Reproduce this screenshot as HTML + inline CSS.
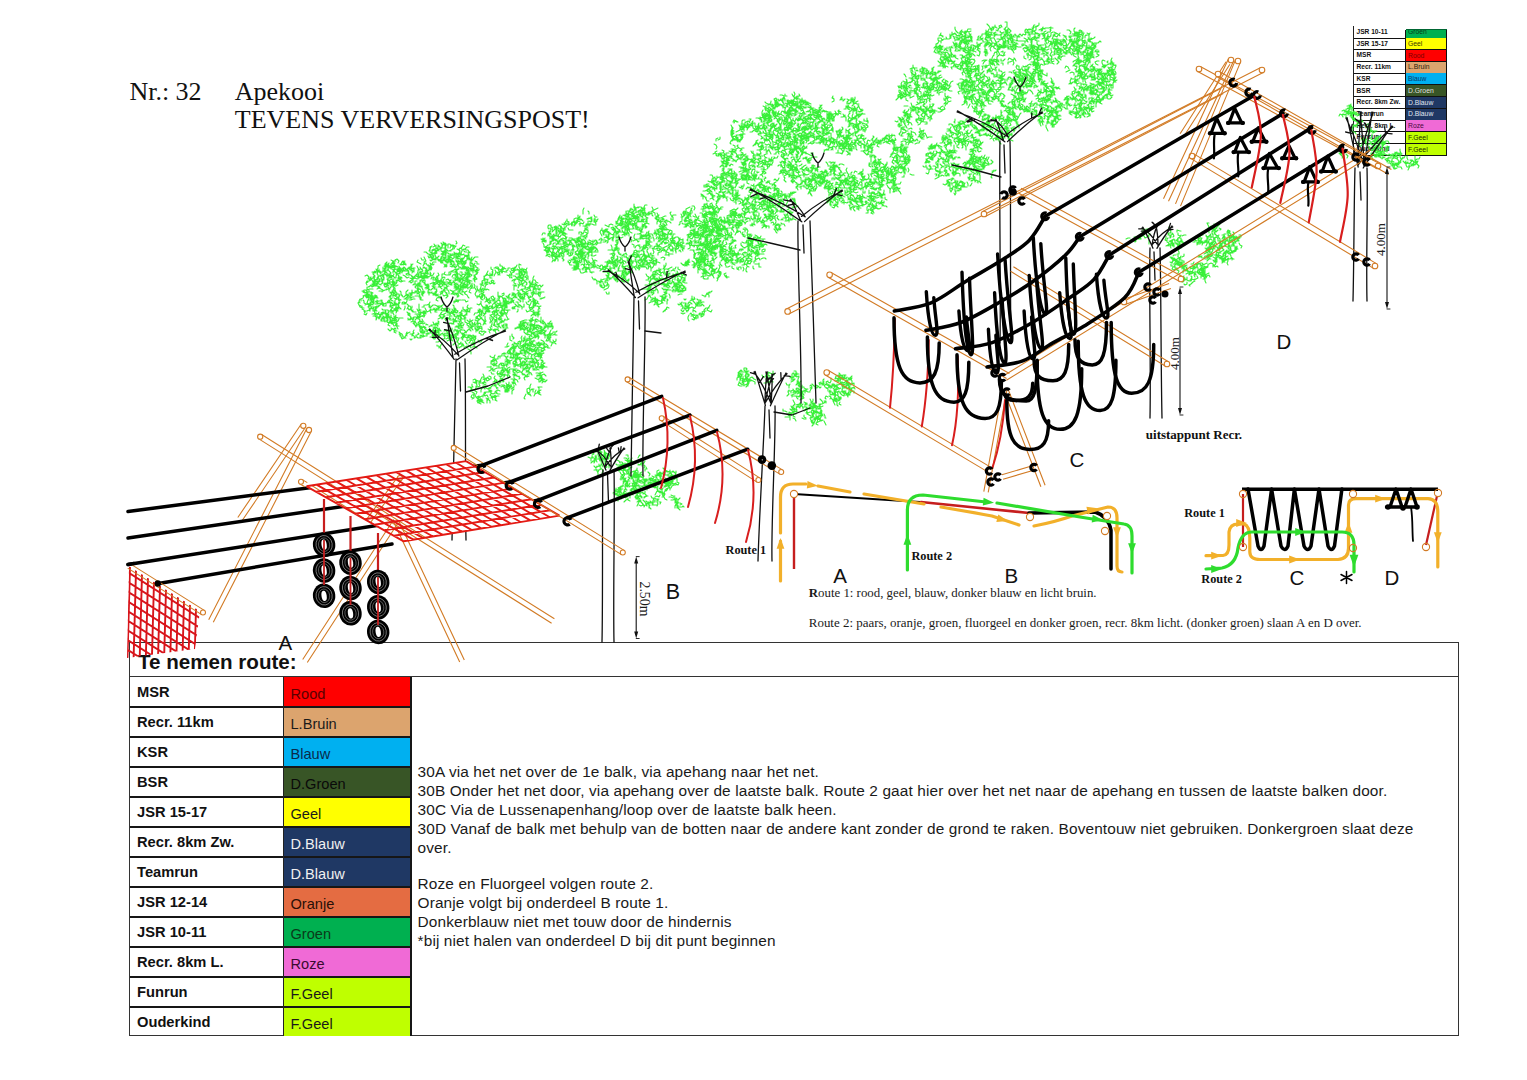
<!DOCTYPE html>
<html><head><meta charset="utf-8"><title>Apekooi</title>
<style>
html,body{margin:0;padding:0;background:#fff;}
#pg{position:relative;width:1527px;height:1080px;overflow:hidden;background:#fff;font-family:"Liberation Sans",sans-serif;}
</style></head><body><div id="pg">
<div style="position:absolute;left:129px;top:641.5px;width:1330px;height:394.81999999999994px;border:1.5px solid #333;box-sizing:border-box"></div>
<div style="position:absolute;left:130px;top:675.5px;width:1329px;height:0;border-top:1.5px solid #333"></div>
<div style="position:absolute;left:138px;top:649.5px;font:bold 20.6px 'Liberation Sans', sans-serif;color:#111;white-space:nowrap;line-height:24px">Te nemen route:</div>
<div style="position:absolute;left:283.5px;top:676.5px;width:127.5px;height:29.985px;background:#FF0000"></div>
<div style="position:absolute;left:137px;top:683.8px;font:bold 14.7px 'Liberation Sans', sans-serif;color:#111;white-space:nowrap;line-height:17px">MSR</div>
<div style="position:absolute;left:290.5px;top:686.0px;font:14.6px 'Liberation Sans', sans-serif;color:#5a0000;white-space:nowrap;line-height:17px">Rood</div>
<div style="position:absolute;left:283.5px;top:706.485px;width:127.5px;height:29.985px;background:#DCA46E"></div>
<div style="position:absolute;left:137px;top:713.785px;font:bold 14.7px 'Liberation Sans', sans-serif;color:#111;white-space:nowrap;line-height:17px">Recr. 11km</div>
<div style="position:absolute;left:290.5px;top:715.985px;font:14.6px 'Liberation Sans', sans-serif;color:#1a1a1a;white-space:nowrap;line-height:17px">L.Bruin</div>
<div style="position:absolute;left:130px;top:705.885px;width:281px;height:0;border-top:2px solid #161616"></div>
<div style="position:absolute;left:283.5px;top:736.47px;width:127.5px;height:29.985px;background:#00B0F0"></div>
<div style="position:absolute;left:137px;top:743.77px;font:bold 14.7px 'Liberation Sans', sans-serif;color:#111;white-space:nowrap;line-height:17px">KSR</div>
<div style="position:absolute;left:290.5px;top:745.97px;font:14.6px 'Liberation Sans', sans-serif;color:#0a2a4a;white-space:nowrap;line-height:17px">Blauw</div>
<div style="position:absolute;left:130px;top:735.87px;width:281px;height:0;border-top:2px solid #161616"></div>
<div style="position:absolute;left:283.5px;top:766.455px;width:127.5px;height:29.985px;background:#385526"></div>
<div style="position:absolute;left:137px;top:773.755px;font:bold 14.7px 'Liberation Sans', sans-serif;color:#111;white-space:nowrap;line-height:17px">BSR</div>
<div style="position:absolute;left:290.5px;top:775.955px;font:14.6px 'Liberation Sans', sans-serif;color:#0a0a0a;white-space:nowrap;line-height:17px">D.Groen</div>
<div style="position:absolute;left:130px;top:765.855px;width:281px;height:0;border-top:2px solid #161616"></div>
<div style="position:absolute;left:283.5px;top:796.44px;width:127.5px;height:29.985px;background:#FFFF00"></div>
<div style="position:absolute;left:137px;top:803.74px;font:bold 14.7px 'Liberation Sans', sans-serif;color:#111;white-space:nowrap;line-height:17px">JSR 15-17</div>
<div style="position:absolute;left:290.5px;top:805.94px;font:14.6px 'Liberation Sans', sans-serif;color:#1a1a1a;white-space:nowrap;line-height:17px">Geel</div>
<div style="position:absolute;left:130px;top:795.84px;width:281px;height:0;border-top:2px solid #161616"></div>
<div style="position:absolute;left:283.5px;top:826.425px;width:127.5px;height:29.985px;background:#1F3864"></div>
<div style="position:absolute;left:137px;top:833.7249999999999px;font:bold 14.7px 'Liberation Sans', sans-serif;color:#111;white-space:nowrap;line-height:17px">Recr. 8km Zw.</div>
<div style="position:absolute;left:290.5px;top:835.925px;font:14.6px 'Liberation Sans', sans-serif;color:#f0f0f0;white-space:nowrap;line-height:17px">D.Blauw</div>
<div style="position:absolute;left:130px;top:825.8249999999999px;width:281px;height:0;border-top:2px solid #161616"></div>
<div style="position:absolute;left:283.5px;top:856.41px;width:127.5px;height:29.985px;background:#1F3864"></div>
<div style="position:absolute;left:137px;top:863.7099999999999px;font:bold 14.7px 'Liberation Sans', sans-serif;color:#111;white-space:nowrap;line-height:17px">Teamrun</div>
<div style="position:absolute;left:290.5px;top:865.91px;font:14.6px 'Liberation Sans', sans-serif;color:#f0f0f0;white-space:nowrap;line-height:17px">D.Blauw</div>
<div style="position:absolute;left:130px;top:855.81px;width:281px;height:0;border-top:2px solid #161616"></div>
<div style="position:absolute;left:283.5px;top:886.395px;width:127.5px;height:29.985px;background:#E46C42"></div>
<div style="position:absolute;left:137px;top:893.6949999999999px;font:bold 14.7px 'Liberation Sans', sans-serif;color:#111;white-space:nowrap;line-height:17px">JSR 12-14</div>
<div style="position:absolute;left:290.5px;top:895.895px;font:14.6px 'Liberation Sans', sans-serif;color:#2a1008;white-space:nowrap;line-height:17px">Oranje</div>
<div style="position:absolute;left:130px;top:885.795px;width:281px;height:0;border-top:2px solid #161616"></div>
<div style="position:absolute;left:283.5px;top:916.38px;width:127.5px;height:29.985px;background:#00B050"></div>
<div style="position:absolute;left:137px;top:923.68px;font:bold 14.7px 'Liberation Sans', sans-serif;color:#111;white-space:nowrap;line-height:17px">JSR 10-11</div>
<div style="position:absolute;left:290.5px;top:925.88px;font:14.6px 'Liberation Sans', sans-serif;color:#0a3a1a;white-space:nowrap;line-height:17px">Groen</div>
<div style="position:absolute;left:130px;top:915.78px;width:281px;height:0;border-top:2px solid #161616"></div>
<div style="position:absolute;left:283.5px;top:946.365px;width:127.5px;height:29.985px;background:#F06AD6"></div>
<div style="position:absolute;left:137px;top:953.665px;font:bold 14.7px 'Liberation Sans', sans-serif;color:#111;white-space:nowrap;line-height:17px">Recr. 8km L.</div>
<div style="position:absolute;left:290.5px;top:955.865px;font:14.6px 'Liberation Sans', sans-serif;color:#3a0a30;white-space:nowrap;line-height:17px">Roze</div>
<div style="position:absolute;left:130px;top:945.765px;width:281px;height:0;border-top:2px solid #161616"></div>
<div style="position:absolute;left:283.5px;top:976.35px;width:127.5px;height:29.985px;background:#BFFF00"></div>
<div style="position:absolute;left:137px;top:983.65px;font:bold 14.7px 'Liberation Sans', sans-serif;color:#111;white-space:nowrap;line-height:17px">Funrun</div>
<div style="position:absolute;left:290.5px;top:985.85px;font:14.6px 'Liberation Sans', sans-serif;color:#1a1a1a;white-space:nowrap;line-height:17px">F.Geel</div>
<div style="position:absolute;left:130px;top:975.75px;width:281px;height:0;border-top:2px solid #161616"></div>
<div style="position:absolute;left:283.5px;top:1006.335px;width:127.5px;height:29.985px;background:#BFFF00"></div>
<div style="position:absolute;left:137px;top:1013.635px;font:bold 14.7px 'Liberation Sans', sans-serif;color:#111;white-space:nowrap;line-height:17px">Ouderkind</div>
<div style="position:absolute;left:290.5px;top:1015.835px;font:14.6px 'Liberation Sans', sans-serif;color:#1a1a1a;white-space:nowrap;line-height:17px">F.Geel</div>
<div style="position:absolute;left:130px;top:1005.735px;width:281px;height:0;border-top:2px solid #161616"></div>
<div style="position:absolute;left:282.5px;top:676.5px;width:0;height:359.82px;border-left:1.8px solid #222"></div>
<div style="position:absolute;left:409.8px;top:676.5px;width:0;height:359.82px;border-left:2px solid #161616"></div>
<div style="position:absolute;left:417.6px;top:762.7px;font:15.4px 'Liberation Sans', sans-serif;color:#1a1a1a;white-space:nowrap;line-height:18px;letter-spacing:0.12px">30A via het net over de 1e balk, via apehang naar het net.</div>
<div style="position:absolute;left:417.6px;top:781.7px;font:15.4px 'Liberation Sans', sans-serif;color:#1a1a1a;white-space:nowrap;line-height:18px;letter-spacing:0.12px">30B Onder het net door, via apehang over de laatste balk. Route 2 gaat hier over het net naar de apehang en tussen de laatste balken door.</div>
<div style="position:absolute;left:417.6px;top:800.7px;font:15.4px 'Liberation Sans', sans-serif;color:#1a1a1a;white-space:nowrap;line-height:18px;letter-spacing:0.12px">30C Via de Lussenapenhang/loop over de laatste balk heen.</div>
<div style="position:absolute;left:417.6px;top:819.7px;font:15.4px 'Liberation Sans', sans-serif;color:#1a1a1a;white-space:nowrap;line-height:18px;letter-spacing:0.12px">30D Vanaf de balk met behulp van de botten naar de andere kant zonder de grond te raken. Boventouw niet gebruiken. Donkergroen slaat deze</div>
<div style="position:absolute;left:417.6px;top:838.7px;font:15.4px 'Liberation Sans', sans-serif;color:#1a1a1a;white-space:nowrap;line-height:18px;letter-spacing:0.12px">over.</div>
<div style="position:absolute;left:417.6px;top:874.7px;font:15.4px 'Liberation Sans', sans-serif;color:#1a1a1a;white-space:nowrap;line-height:18px;letter-spacing:0.12px">Roze en Fluorgeel volgen route 2.</div>
<div style="position:absolute;left:417.6px;top:893.7px;font:15.4px 'Liberation Sans', sans-serif;color:#1a1a1a;white-space:nowrap;line-height:18px;letter-spacing:0.12px">Oranje volgt bij onderdeel B route 1.</div>
<div style="position:absolute;left:417.6px;top:912.7px;font:15.4px 'Liberation Sans', sans-serif;color:#1a1a1a;white-space:nowrap;line-height:18px;letter-spacing:0.12px">Donkerblauw niet met touw door de hindernis</div>
<div style="position:absolute;left:417.6px;top:931.7px;font:15.4px 'Liberation Sans', sans-serif;color:#1a1a1a;white-space:nowrap;line-height:18px;letter-spacing:0.12px">*bij niet halen van onderdeel D bij dit punt beginnen</div>
<div style="position:absolute;left:1405.5px;top:30px;width:41.0px;height:8.299999999999997px;background:#00B050"></div>
<div style="position:absolute;left:1356.5px;top:27.999999999999996px;font:bold 6.6px 'Liberation Sans', sans-serif;color:#111;white-space:nowrap;line-height:8px">JSR 10-11</div>
<div style="position:absolute;left:1408px;top:28.299999999999997px;font:6.8px 'Liberation Sans', sans-serif;color:#0a3a1a;white-space:nowrap;line-height:8px">Groen</div>
<div style="position:absolute;left:1353.8px;top:37.5px;width:92.70000000000005px;height:0;border-top:1.6px solid #111"></div>
<div style="position:absolute;left:1405.5px;top:38.3px;width:41.0px;height:11.719999999999999px;background:#FFFF00"></div>
<div style="position:absolute;left:1356.5px;top:39.72px;font:bold 6.6px 'Liberation Sans', sans-serif;color:#111;white-space:nowrap;line-height:8px">JSR 15-17</div>
<div style="position:absolute;left:1408px;top:40.019999999999996px;font:6.8px 'Liberation Sans', sans-serif;color:#3a3a00;white-space:nowrap;line-height:8px">Geel</div>
<div style="position:absolute;left:1353.8px;top:49.22px;width:92.70000000000005px;height:0;border-top:1.6px solid #111"></div>
<div style="position:absolute;left:1405.5px;top:50.019999999999996px;width:41.0px;height:11.719999999999999px;background:#FF0000"></div>
<div style="position:absolute;left:1356.5px;top:51.44px;font:bold 6.6px 'Liberation Sans', sans-serif;color:#111;white-space:nowrap;line-height:8px">MSR</div>
<div style="position:absolute;left:1408px;top:51.739999999999995px;font:6.8px 'Liberation Sans', sans-serif;color:#7a0000;white-space:nowrap;line-height:8px">Rood</div>
<div style="position:absolute;left:1353.8px;top:60.94px;width:92.70000000000005px;height:0;border-top:1.6px solid #111"></div>
<div style="position:absolute;left:1405.5px;top:61.739999999999995px;width:41.0px;height:11.720000000000013px;background:#DCA46E"></div>
<div style="position:absolute;left:1356.5px;top:63.16000000000001px;font:bold 6.6px 'Liberation Sans', sans-serif;color:#111;white-space:nowrap;line-height:8px">Recr. 11km</div>
<div style="position:absolute;left:1408px;top:63.46000000000001px;font:6.8px 'Liberation Sans', sans-serif;color:#2a1a0a;white-space:nowrap;line-height:8px">L.Bruin</div>
<div style="position:absolute;left:1353.8px;top:72.66000000000001px;width:92.70000000000005px;height:0;border-top:1.6px solid #111"></div>
<div style="position:absolute;left:1405.5px;top:73.46000000000001px;width:41.0px;height:11.719999999999999px;background:#00B0F0"></div>
<div style="position:absolute;left:1356.5px;top:74.88000000000001px;font:bold 6.6px 'Liberation Sans', sans-serif;color:#111;white-space:nowrap;line-height:8px">KSR</div>
<div style="position:absolute;left:1408px;top:75.18px;font:6.8px 'Liberation Sans', sans-serif;color:#0a3a6a;white-space:nowrap;line-height:8px">Blauw</div>
<div style="position:absolute;left:1353.8px;top:84.38000000000001px;width:92.70000000000005px;height:0;border-top:1.6px solid #111"></div>
<div style="position:absolute;left:1405.5px;top:85.18px;width:41.0px;height:11.719999999999999px;background:#385526"></div>
<div style="position:absolute;left:1356.5px;top:86.60000000000001px;font:bold 6.6px 'Liberation Sans', sans-serif;color:#111;white-space:nowrap;line-height:8px">BSR</div>
<div style="position:absolute;left:1408px;top:86.9px;font:6.8px 'Liberation Sans', sans-serif;color:#e0e0e0;white-space:nowrap;line-height:8px">D.Groen</div>
<div style="position:absolute;left:1353.8px;top:96.10000000000001px;width:92.70000000000005px;height:0;border-top:1.6px solid #111"></div>
<div style="position:absolute;left:1405.5px;top:96.9px;width:41.0px;height:11.719999999999999px;background:#1F3864"></div>
<div style="position:absolute;left:1356.5px;top:98.32000000000001px;font:bold 6.6px 'Liberation Sans', sans-serif;color:#111;white-space:nowrap;line-height:8px">Recr. 8km Zw.</div>
<div style="position:absolute;left:1408px;top:98.62px;font:6.8px 'Liberation Sans', sans-serif;color:#e0e6f0;white-space:nowrap;line-height:8px">D.Blauw</div>
<div style="position:absolute;left:1353.8px;top:107.82000000000001px;width:92.70000000000005px;height:0;border-top:1.6px solid #111"></div>
<div style="position:absolute;left:1405.5px;top:108.62px;width:41.0px;height:11.719999999999999px;background:#1F3864"></div>
<div style="position:absolute;left:1356.5px;top:110.04px;font:bold 6.6px 'Liberation Sans', sans-serif;color:#111;white-space:nowrap;line-height:8px">Teamrun</div>
<div style="position:absolute;left:1408px;top:110.34px;font:6.8px 'Liberation Sans', sans-serif;color:#e0e6f0;white-space:nowrap;line-height:8px">D.Blauw</div>
<div style="position:absolute;left:1353.8px;top:119.54px;width:92.70000000000005px;height:0;border-top:1.6px solid #111"></div>
<div style="position:absolute;left:1405.5px;top:120.34px;width:41.0px;height:11.719999999999999px;background:#F06AD6"></div>
<div style="position:absolute;left:1356.5px;top:121.76px;font:bold 6.6px 'Liberation Sans', sans-serif;color:#111;white-space:nowrap;line-height:8px">Recr. 8km L.</div>
<div style="position:absolute;left:1408px;top:122.06px;font:6.8px 'Liberation Sans', sans-serif;color:#4a0a40;white-space:nowrap;line-height:8px">Roze</div>
<div style="position:absolute;left:1353.8px;top:131.26px;width:92.70000000000005px;height:0;border-top:1.6px solid #111"></div>
<div style="position:absolute;left:1405.5px;top:132.06px;width:41.0px;height:11.719999999999999px;background:#BFFF00"></div>
<div style="position:absolute;left:1356.5px;top:133.48px;font:bold 6.6px 'Liberation Sans', sans-serif;color:#111;white-space:nowrap;line-height:8px">Funrun</div>
<div style="position:absolute;left:1408px;top:133.78px;font:6.8px 'Liberation Sans', sans-serif;color:#1a2a00;white-space:nowrap;line-height:8px">F.Geel</div>
<div style="position:absolute;left:1353.8px;top:142.98px;width:92.70000000000005px;height:0;border-top:1.6px solid #111"></div>
<div style="position:absolute;left:1405.5px;top:143.78px;width:41.0px;height:11.719999999999999px;background:#BFFF00"></div>
<div style="position:absolute;left:1356.5px;top:145.2px;font:bold 6.6px 'Liberation Sans', sans-serif;color:#111;white-space:nowrap;line-height:8px">Ouderkind</div>
<div style="position:absolute;left:1408px;top:145.5px;font:6.8px 'Liberation Sans', sans-serif;color:#1a2a00;white-space:nowrap;line-height:8px">F.Geel</div>
<div style="position:absolute;left:1353.8px;top:154.7px;width:92.70000000000005px;height:0;border-top:1.6px solid #111"></div>
<div style="position:absolute;left:1353.0px;top:26px;width:0;height:129.5px;border-left:1.6px solid #222"></div>
<div style="position:absolute;left:1404.5px;top:30px;width:0;height:125.5px;border-left:1.8px solid #111"></div>
<div style="position:absolute;left:1445.5px;top:30px;width:0;height:125.5px;border-left:1.8px solid #111"></div>
<div style="position:absolute;left:1405.5px;top:29.2px;width:41.0px;height:0;border-top:1.4px solid #063"></div>
<div style="position:absolute;left:129.4px;top:76.7px;font:400 26px 'Liberation Serif', serif;color:#111;white-space:nowrap;line-height:29.90px;">Nr.: 32</div>
<div style="position:absolute;left:234.8px;top:76.7px;font:400 26px 'Liberation Serif', serif;color:#111;white-space:nowrap;line-height:29.90px;">Apekooi</div>
<div style="position:absolute;left:234.8px;top:105.3px;font:400 26px 'Liberation Serif', serif;color:#111;white-space:nowrap;line-height:29.90px;">TEVENS VERVERSINGSPOST!</div>
<div style="position:absolute;left:808.8px;top:586.2px;font:400 12.85px 'Liberation Serif', serif;color:#1a1a1a;white-space:nowrap;line-height:14.78px;"><b>R</b>oute 1: rood, geel, blauw, donker blauw en licht bruin.</div>
<div style="position:absolute;left:808.8px;top:615.5px;font:400 12.95px 'Liberation Serif', serif;color:#1a1a1a;white-space:nowrap;line-height:14.89px;">Route 2: paars, oranje, groen, fluorgeel en donker groen, recr. 8km licht. (donker groen) slaan A en D over.</div>
<div style="position:absolute;left:1145.8px;top:427.8px;font:700 13px 'Liberation Serif', serif;color:#111;white-space:nowrap;line-height:14.95px;">uitstappunt Recr.</div>
<div style="position:absolute;left:725.5px;top:543.0px;font:700 12.3px 'Liberation Serif', serif;color:#111;white-space:nowrap;line-height:14.14px;">Route 1</div>
<div style="position:absolute;left:911.4px;top:548.5px;font:700 12.3px 'Liberation Serif', serif;color:#111;white-space:nowrap;line-height:14.14px;">Route 2</div>
<div style="position:absolute;left:1184.2px;top:505.8px;font:700 12.3px 'Liberation Serif', serif;color:#111;white-space:nowrap;line-height:14.14px;">Route 1</div>
<div style="position:absolute;left:1201.3px;top:572.3px;font:700 12.3px 'Liberation Serif', serif;color:#111;white-space:nowrap;line-height:14.14px;">Route 2</div>
<div style="position:absolute;left:833.2px;top:563.9px;font:400 20.5px 'Liberation Sans', sans-serif;color:#111;white-space:nowrap;line-height:23.57px;">A</div>
<div style="position:absolute;left:1004.5px;top:563.7px;font:400 20.5px 'Liberation Sans', sans-serif;color:#111;white-space:nowrap;line-height:23.57px;">B</div>
<div style="position:absolute;left:1289.6px;top:565.6px;font:400 20.5px 'Liberation Sans', sans-serif;color:#111;white-space:nowrap;line-height:23.57px;">C</div>
<div style="position:absolute;left:1384.6px;top:565.6px;font:400 20.5px 'Liberation Sans', sans-serif;color:#111;white-space:nowrap;line-height:23.57px;">D</div>
<div style="position:absolute;left:278.5px;top:630.9px;font:400 20.5px 'Liberation Sans', sans-serif;color:#111;white-space:nowrap;line-height:23.57px;">A</div>
<div style="position:absolute;left:665.8px;top:580.4px;font:400 21.5px 'Liberation Sans', sans-serif;color:#111;white-space:nowrap;line-height:24.72px;">B</div>
<div style="position:absolute;left:1069.5px;top:447.9px;font:400 20.5px 'Liberation Sans', sans-serif;color:#111;white-space:nowrap;line-height:23.57px;">C</div>
<div style="position:absolute;left:1276.5px;top:329.9px;font:400 20.5px 'Liberation Sans', sans-serif;color:#111;white-space:nowrap;line-height:23.57px;">D</div>
<svg width="1527" height="1080" viewBox="0 0 1527 1080" style="position:absolute;left:0;top:0"><path d="M519 327l-2 1 -2 1M518 345l-2 2 -2 -1M428 254l-2 -2 -2 0M457 261l1 2 -1 2M438 249l-2 0 0 -2 0 -2M487 307l2 1 -1 2 0 2M506 310l2 1 -1 2M472 387l-1 2 -0 2 -2 -0M399 296l-0 -2 -2 0 -2 -0M386 270l-1 2 0 2 2 2M478 397l2 0 2 -1M389 263l-1 2 -2 2 -0 2M465 261l-1 1 -1 1M368 282l-2 1 1 2M541 360l2 2 -2 1 1 2M481 401l-2 -1 -2 1 1 2M420 296l-1 -2 0 -2 -2 -0M512 296l1 -2 2 0M525 363l0 1 -2 1 -2 -1M448 312l2 2 2 -1 2 2M471 271l-2 -0 -2 -1M495 361l0 -2 -1 -2 1 -2M541 366l-0 2 -2 0M497 362l-1 -2 -2 0 -1 -1M494 358l-3 -1 -1 -1M481 399l-1 1 -2 -1M392 295l-1 -2 -1 -1M418 283l2 0 -0 -3M394 267l-2 -0 -0 -2 -2 -0M442 263l-0 -2 1 -1M458 335l-1 -2 -2 1 -1 2M472 261l-1 -2 1 -2M541 340l2 1 1 1 1 2M438 287l2 -0 2 2M467 267l-2 0 0 2 2 -0M499 269l-1 -2 -2 -0 -1 1M523 327l-1 2 -2 1M530 296l1 1 -2 1M422 313l-2 -0 0 -2M535 314l-2 -0 -1 1M380 273l-1 -2 -0 -2M534 314l2 0 2 0M393 280l-1 2 1 2 -2 1M528 294l-2 -0 -1 -1M371 304l-0 -1 -2 1 1 2M506 354l-2 -1 -2 1 -0 2M514 271l2 -1 2 -0M374 286l1 -2 -2 -2M447 264l-2 1 1 2 1 -1M421 264l-2 -1 -2 -1 1 -2M454 264l0 -2 -1 -1M433 327l2 1 1 2M458 328l2 1 2 1 2 0M505 304l1 -2 2 -1M514 356l-1 2 -2 -1 -1 1M467 286l-2 0 -1 2M460 313l2 0 -0 2 -2 0M516 360l1 -1 2 -0 1 1M481 325l-1 -2 -2 1 -1 -1M534 363l-2 -1 0 -3 -1 -2M420 292l-1 1 -2 1M367 311l2 -1 1 1M449 262l-1 -2 -1 -1M414 297l-2 0 -1 1 -0 2M370 278l1 2 -2 1M479 320l-2 1 -2 -1M539 370l-2 -1 -1 -2M466 314l1 -1 -1 -2M410 309l2 -1 -0 -2M412 278l-0 2 -2 1 -1 1M459 328l-1 -2 -2 -0M387 284l-2 -1 -1 1M443 244l2 1 1 2M462 247l-1 1 -2 1 1 2M419 283l1 2 -2 1M486 379l-2 -1 0 -2 -1 -2M419 278l2 -1 2 -1M464 319l1 -2 0 -2 2 -1M474 343l-1 1 -1 -1M525 380l-1 -2 1 -1M485 396l2 -1 1 2M513 339l1 -1 -2 -2 -0 -2M519 377l-2 -1 -2 -2 -2 -0M497 392l-1 1 2 1 2 0M536 390l-1 2 -0 2 -1 2M486 321l-1 -2 0 -3M438 280l2 1 2 1 2 1M472 392l2 1 1 2 1 2M463 260l-2 0 1 2M502 356l-2 -0 -0 2M436 333l-1 -1 1 -2M502 270l-0 -2 2 0 2 1M497 373l1 1 2 -1M376 301l1 2 1 1 2 -1M465 275l2 -1 -0 -2M466 255l1 2 1 2 2 -1M417 326l-2 -1 -1 -2M527 345l2 -0 2 1 2 1M384 275l-1 1 1 1 0 2M438 323l1 -1 -1 -1M521 330l-1 -2 2 -2M397 271l1 -1 0 -2 2 1M395 267l-1 1 -2 -1M378 307l-2 -0 -3 0 -2 -0M454 312l-1 1 -1 -1M462 247l1 -2 2 1M367 303l2 1 2 1M424 277l2 1 2 0M427 285l1 -1 1 2M412 277l-1 -2 -2 0 -2 -0M406 338l-2 0 -2 1 -1 -2M456 269l0 2 -1 1M464 277l-2 2 2 2 2 -1M547 337l1 1 1 2 -2 1M499 298l-1 -2 -0 -2 -0 -2M492 327l-1 -1 1 -2 0 -2M460 277l-0 2 -1 2M507 362l2 -1 1 1 0 2M508 365l-2 -0 -2 -0 0 -2M483 282l-1 2 -2 0M490 312l-2 -0 -2 -1 2 -2M461 269l2 -2 1 -2M367 298l-1 -1 -1 -2M437 253l-2 -1 -1 2M403 271l-1 1 -2 -0 -0 2M519 278l-2 0 -2 -2 -2 -0M530 305l-1 2 1 2M487 282l-2 1 -0 -2 -1 -2M429 307l1 -1 -1 -2M502 270l2 -1 -0 -2M421 312l2 1 1 -1M528 369l0 -2 -1 -2 2 -1M524 292l2 1 1 1M459 286l-1 2 -1 2 -2 -0M518 288l1 -2 -1 -2M376 281l-1 2 1 2 -2 1M370 302l1 2 -2 1M421 294l2 0 0 -2 2 -0M395 296l2 1 2 0 1 -2M383 312l-1 2 -2 1 -1 2M462 334l1 2 -1 1 -1 1M424 327l-2 1 -2 1 0 2M509 300l-0 -2 2 0M456 244l1 -1 -1 -2M451 294l2 -0 2 1M469 312l-2 -1 -2 1M494 374l-2 0 -1 -2M396 315l-1 2 -1 2M525 287l0 2 -2 0M459 269l-2 1 -1 1 1 2M497 311l-0 2 1 2 2 1M486 305l-0 2 -0 2M465 294l2 1 1 2 1 1M465 278l2 -1 2 0M442 248l-2 1 -0 -2 -2 -2M514 342l1 2 2 0 0 2M388 313l1 -1 -1 -2 -3 0M385 265l1 -1 2 0 1 2M386 318l2 1 -1 1M495 371l-2 0 -1 -2 1 -1M438 260l1 1 2 0 1 2M432 331l1 -1 1 -2M446 258l-2 -1 -1 1M433 310l-2 -0 -1 1 1 2M467 324l2 -1 2 -2 2 -1M504 313l-1 2 -1 -1 -1 -2M456 253l-1 1 -1 -2M530 368l-1 2 -2 1M475 272l2 -1 2 -1 -0 -1M458 265l1 2 0 2 -2 0M451 245l2 0 2 1M480 328l-2 0 -1 -1M480 289l1 -2 0 -3 2 -0M460 267l2 2 2 0M552 327l-1 -2 1 -2M379 291l2 -0 2 0 2 -1M477 387l0 -2 -1 -2 -1 -1M454 311l2 -1 2 1 -1 2M538 367l-2 -0 -1 -2 -1 -2M434 253l-2 0 -2 -1M369 292l-0 -2 -2 -1 0 -2M478 402l2 -0 2 -0 2 1M391 315l-0 2 2 2 0 2M383 318l-2 1 0 2M428 289l-0 -2 -1 -2 -2 -1M398 274l-2 -1 -2 -2M394 329l1 -1 1 1M415 285l-0 -2 -0 -2 2 -0M422 278l2 1 1 -2 -2 -1M436 287l-2 0 1 2 2 -0M465 269l-2 -1 -2 1M499 312l2 -0 0 3M555 334l-2 1 -2 -0M450 261l2 -1 1 2M414 338l2 -1 0 -2M384 285l1 2 2 -1M367 293l-1 2 1 2 2 1M524 279l-2 0 -1 -2 -1 -1M512 360l-2 1 -1 2 -2 -1M390 305l-0 2 2 -0 1 1M503 313l2 1 2 -0M515 294l1 2 -1 2M463 344l-1 1 -1 2M375 302l2 -1 2 -0 2 -0M396 274l1 -2 2 -1 1 2M451 254l0 2 2 -1M503 306l2 -1 -1 -2 -2 0M543 333l1 -1 1 2M461 342l-1 2 -2 -1 -1 -2M393 306l2 -1 3 -0M437 306l-2 -1 -2 0 -1 1M438 326l-1 -1 0 -2 2 1M468 338l-0 -2 2 0 2 1M430 263l1 1 2 1 1 -1M524 282l2 0 1 2 -1 1M521 350l2 1 2 -0 1 1M361 306l-2 -1 -1 -2 1 -1M429 255l2 -1 2 1M491 306l1 2 2 -0M414 293l-2 0 -1 2 -1 -1M533 314l1 1 1 -1M483 295l-2 2 0 2 2 1M533 288l-0 -2 -2 1 -1 -2M489 304l1 -2 1 -2M460 257l-2 -1 1 -2M455 255l-1 -0 0 2M395 284l-1 1 1 1M435 259l-2 -0 -2 -1M541 353l-0 3 1 2M527 350l-2 1 -1 2 2 1M458 278l-1 2 -2 1M390 323l2 -2 2 -0 1 -2M455 268l1 -1 1 -1M420 286l2 0 0 2 1 2M455 274l1 2 -0 2M382 280l0 2 1 1M470 273l-2 1 -1 0M371 293l1 2 -1 1M458 276l-1 2 1 1M527 391l1 2 2 1 1 2M542 332l1 -2 1 -2 2 -1M391 275l2 1 1 -2M489 379l-1 -1 -2 0 -1 1M509 295l0 3 -2 -0M457 321l-1 1 -1 -2 -2 2M533 347l2 -1 1 -1M496 305l2 1 1 -1 2 -2M538 288l-0 -2 -2 0M395 330l-1 2 2 1M401 300l-2 -1 -2 -0M412 339l-1 1 -1 -1M420 310l-1 -1 -0 -3 -0 -2M425 264l-1 0 -1 2M386 312l-1 -2 -2 -0 -1 -1M424 333l-0 -2 2 -0M495 392l1 -1 2 -1 2 1M448 244l0 2 -0 2M476 394l1 -2 -2 -1M431 290l2 -2 1 -1 -2 -1M526 329l-2 1 -2 -1M441 310l2 1 1 -1M467 280l-2 -1 -2 0M492 362l-1 -1 2 -1 2 1M525 360l1 -2 2 1M496 364l-2 2 -2 -2M498 305l-2 2 2 1M492 299l-1 -2 2 -1 1 2M535 327l-1 -2 1 -2 0 -2M444 279l-1 2 0 2 2 -1M384 312l-1 2 -2 1 -2 -1M420 316l-2 1 0 2M466 318l-2 -1 -2 -2 -2 2M385 319l-2 0 -1 -1 1 -1M540 374l1 -1 2 -1M456 317l-2 -1 1 -1 -1 -1M485 276l1 -1 1 -2 1 -2M452 320l-2 0 -1 -2M390 306l1 -2 -1 -2 -1 -2M478 387l2 -1 -1 -2 -0 -2M409 277l-2 1 -2 -2 -2 -1M458 259l-2 -2 -0 -2M530 388l0 -2 1 -2M381 284l2 -1 -1 -2 0 -2M510 271l1 2 1 2M376 280l-2 -1 0 -3M497 363l-1 1 -0 2M402 296l-1 -2 -0 -2 -1 -1M522 326l2 -0 1 2 -0 2M435 292l2 -1 -1 -2 -2 -0M503 268l-2 2 -2 -1 -1 -1M407 275l-1 -1 2 -1 2 2M506 296l1 1 2 0M491 366l-0 2 0 2 -2 1M398 275l1 2 2 -0 1 1M531 316l1 -1 2 -1M527 326l-1 1 -1 2 -1 2M478 290l-2 -0 -1 -2M541 376l-2 -0 -2 -1 -0 2M454 267l1 -1 0 -2M517 353l-1 2 0 3 -1 2M517 356l1 -2 2 -1 2 1M386 266l-1 -2 2 -2M393 311l-2 0 0 2M423 276l2 -1 2 1 2 1M397 307l2 -0 -1 -2 -1 -1M419 313l-1 -2 1 -1 2 -0M520 285l2 -1 2 -1M456 260l1 2 1 2M421 276l-0 -2 1 -1 2 1M515 351l-2 1 -0 3 1 2M457 321l-2 -1 1 -2 1 -2M435 311l2 -1 -1 -2M376 296l-2 -0 -2 1 -1 -2M506 313l-2 -1 1 -2M513 270l1 -1 2 -2 1 -2M549 324l1 -2 1 -1M388 266l1 2 2 -0M499 376l2 1 1 -2M521 368l-1 -2 2 -1M499 308l2 -1 2 2 -1 2M384 266l2 1 -1 2M538 339l1 -2 -1 -2 -2 0M532 337l-1 -2 1 -2M523 342l2 -2 0 -2 -2 0M487 381l-1 -2 2 -2M534 313l2 -1 2 1M536 327l-0 2 2 1 -0 2M442 261l-1 -1 -1 1M366 290l-2 -0 -1 2 2 1M475 339l-0 -2 -2 -1 -2 -0M436 260l-1 -2 2 -0 2 -2M518 345l-1 1 -2 1 -1 1M481 289l2 0 2 -0 0 -2M377 306l-2 1 1 2 0 2M399 319l-1 2 -2 1M505 306l2 0 -0 2 -2 -1M404 297l2 -2 2 1 1 -1M507 353l1 -2 1 -1M508 301l-1 2 2 1M434 285l1 -2 -3 0 -2 1M528 356l0 2 2 1M404 302l2 1 1 -2 0 -2M490 379l-1 1 -2 1 -1 -2M526 290l2 -1 2 -1M366 295l1 1 2 1M495 313l-1 -1 -0 -2M523 302l0 -3 2 0M425 305l2 -0 2 -1 1 -2M378 282l1 -1 2 0 2 0M467 276l1 -2 0 -2 2 1M514 303l-1 -2 -2 -0M550 333l-1 2 -2 1M392 291l1 1 2 0 2 1M386 304l0 2 -2 -0M490 276l0 2 2 -0M548 323l2 1 2 -1M507 375l2 0 1 2 -2 1M404 268l-1 2 -1 1 0 2M467 277l2 -1 -1 -2 0 -2M516 302l2 -0 -0 2 2 1M442 279l0 -3 -0 -2 2 -0M543 349l1 -2 0 -2 -1 -2M405 306l0 2 -1 2M429 266l-0 1 1 2 2 -1M452 277l1 -2 2 -1M530 365l-1 -1 -2 0M471 265l-0 2 -0 2M467 324l0 1 2 1M418 325l-0 -2 1 -1 1 -2M457 300l2 0 -1 2 -2 -1M467 282l2 -1 1 2M365 305l2 -1 2 1M543 320l-1 2 1 2 1 -1M457 288l1 -1 0 -2 1 1M399 318l2 -0 2 -0M520 269l-1 -2 0 -3 2 1M497 320l-2 2 -1 2M451 335l-1 2 -2 -0M481 379l-1 2 -2 -0 -2 -1M472 327l-1 -1 -0 -2M480 294l-1 2 -2 -0 -0 2M443 283l1 2 2 -1 2 0M461 280l-1 -1 -2 -1M533 303l1 -2 -1 -1 -0 -2M401 268l-2 -0 -0 2 -2 -0M506 310l2 -0 2 0M539 357l-1 -2 2 -1 -1 -2M400 272l1 -2 -1 -2 -1 -2M497 327l-2 -1 -2 -1M530 347l-1 2 0 2M437 335l2 1 -1 2M466 271l1 -2 -1 -1 -2 -1M417 289l1 -2 -1 -2 2 -2M500 322l2 -1 2 -0 1 -2M511 298l0 2 1 2M399 334l2 1 -1 1M520 296l1 -2 -1 -1M481 335l2 0 1 -2 2 -1M473 394l1 2 0 2 -2 1M538 393l1 1 2 1M544 363l-1 1 -1 2 -2 1M495 395l1 2 1 -1 2 0M499 318l1 1 1 1 2 1M505 368l0 2 1 -0 1 1M399 272l1 -1 -0 -2M435 331l-2 0 0 -2M528 335l-2 -1 -1 -1 -1 -1M529 346l2 -1 2 -1 1 2M386 318l0 -2 -0 -3M506 271l2 -1 0 -2 2 -0M432 258l-2 -1 -1 1 -1 -2M536 300l-1 2 -1 2M387 273l0 2 1 1 1 -1M485 307l-2 -0 0 2M392 324l-2 -2 0 -3M515 358l-2 -1 -0 2M519 324l-0 2 2 1M408 299l-2 -0 -2 -0M441 331l-1 -1 -2 1M543 323l-2 -0 -1 -2 -2 0M398 297l0 2 1 2 1 -1M397 295l-2 1 -2 -1 1 -2M494 384l2 1 -0 2 2 1M482 318l-2 -1 -1 -2 2 -1M477 330l-2 -1 0 -2M437 259l-1 -2 -1 -2M533 367l0 2 2 -0M516 358l2 -0 2 -1M495 376l-1 2 2 2 1 1M378 314l-2 1 -2 -1 -2 0M491 379l-0 -2 -2 -1M538 344l1 -1 3 -0M393 272l1 -2 2 -1M362 309l2 1 1 2M444 248l-2 -0 -2 1 -2 1M498 296l2 0 2 1M395 326l1 -2 1 1 0 -2M515 354l-2 1 1 1M446 244l-2 -1 -1 2 -1 2M369 289l2 0 2 0M377 300l1 2 -1 2 -2 -0M447 315l3 -0 1 -2 -2 -1M526 365l-2 -0 -2 0M476 326l2 -0 2 2M527 365l-2 -1 -1 2 -2 0M491 315l2 -1 2 1 2 1M373 309l1 -2 2 -0 1 1M516 353l1 1 -1 1M513 357l1 1 2 -0 1 2M533 298l0 3 -2 1M380 273l-1 -2 -2 -1M420 337l3 0 2 -1 2 -0M463 258l-2 2 -1 1 -1 1M482 383l2 -1 1 -2 -2 -1M493 382l2 -0 2 -1M552 342l-0 2 -1 2M498 371l-1 2 1 2M473 273l-0 -2 1 -1 0 -2M405 338l-1 -1 -2 0M489 303l-2 -2 -1 -2M473 324l-1 -2 -2 -1 -0 -2M515 304l2 2 1 1 2 -0M397 324l-0 2 2 0M372 307l-1 1 0 1M496 301l-2 0 0 -2M408 295l-2 -1 -0 -2 2 -2M427 312l-1 -2 -1 -2M378 306l2 -1 1 -2 1 1M546 344l2 2 -0 2 2 -0M541 353l0 -2 -0 -2M475 271l2 1 -1 2M513 364l-0 -2 2 -1 1 1M387 317l1 -1 1 2M483 401l-2 -1 -1 -1 -1 2M436 328l-1 -1 0 -2 1 -2M539 308l-1 -2 -2 0 -2 -1M441 261l-0 2 2 -0 -1 -1M477 313l-2 -0 -1 2M431 266l1 2 -1 2M514 300l-1 2 -2 -0 -2 -0M481 311l-2 1 -1 -2M459 279l1 2 2 -2 -1 -1M529 287l1 2 1 2M529 323l-2 0 -2 0M426 270l1 1 1 2 -1 1M541 364l0 2 -2 1M412 269l-1 -2 -2 1M510 367l-2 1 -1 2 2 2M365 313l-1 -2 2 -0M411 297l-2 -1 -1 -1M541 345l-2 -0 0 2M510 274l-1 2 -2 -1M467 344l-1 -1 -1 -2M540 299l2 -1 2 0M383 306l1 -2 -2 -2 0 -2M466 287l1 -2 0 -2M464 255l2 1 2 -1M534 389l-2 0 -1 1M515 356l1 -2 0 -2M467 315l-2 -0 -2 1M436 325l1 -1 2 0M394 292l-2 0 -2 1M467 268l2 2 0 2M466 261l0 2 -2 2M538 366l1 -2 -1 -2 -2 0M528 349l2 1 2 0 1 -1M475 326l0 -2 3 -0 0 -2M525 376l2 1 2 -1M535 304l2 -1 2 1M399 281l2 1 2 -1 2 0M377 270l1 2 -1 2M536 327l2 -0 1 2M405 299l2 -2 1 -1 0 -2M426 314l-1 -2 -2 1 1 2M401 269l1 2 2 -1M469 255l-1 -2 2 -1M437 291l-1 2 -1 2 -2 -0M497 384l2 -1 2 -1M463 335l1 2 -1 1M495 397l1 2 -1 1 2 1M474 337l-1 2 2 1 1 -2M466 275l-2 -1 -2 1 -1 1M437 280l0 2 2 0M479 320l-1 -1 -2 -1M393 301l-2 -1 -1 -2 1 -2M456 342l-2 2 -1 1M374 301l-2 1 1 1M474 265l-2 -1 -2 -2M399 307l-1 1 -1 1 1 2M501 323l1 -1 2 -0M541 367l2 -1 0 -2 2 -1M499 271l-1 -2 -2 -1 -2 0M371 277l-1 1 -0 2 -1 -1M521 342l1 -2 -1 -2 1 -2M536 314l2 1 0 2M464 335l1 1 -1 1 -2 0M420 318l-2 -1 -1 -2M488 284l-2 1 -1 2M405 270l1 -1 -2 -2 -2 2M485 279l-1 -2 1 -1 2 -1M519 273l0 -3 -2 -1M458 262l2 0 2 -2 -1 -2M530 362l0 2 0 2M540 309l-1 -1 -1 -2M514 376l1 -1 2 0M514 344l-1 0 -1 1M512 278l-1 -1 0 -2 -2 -0M530 339l0 2 -1 2 -0 2M467 286l-2 -0 -1 2 1 0M385 306l-2 0 -0 -2 -2 -0M372 272l2 -0 1 -1M549 337l-2 -2 -2 0M509 382l0 2 -2 1 -1 -2M537 360l-1 -1 -2 -1M533 350l2 0 -0 2 2 1M409 293l2 -0 1 1M469 268l2 1 2 -1 -0 -3M524 374l-1 1 -1 -2M502 316l-1 -2 -1 -1 2 -1M373 301l1 2 -1 1M451 285l-2 -1 -1 -2 -2 0M429 327l1 -1 2 0M429 286l-2 1 -2 1M441 259l-1 2 1 2 2 -0M431 331l-1 -2 -2 1M411 267l0 -2 2 -1M541 332l-0 -2 -2 1 -0 2M544 325l2 0 2 1M397 274l-1 2 -0 2M512 271l-1 -2 2 -1 2 -0M547 327l2 -1 0 -2 -2 -0M510 303l1 -2 2 1M521 326l1 -2 1 -1M535 345l-2 -1 -2 -1M469 271l-2 -0 0 -2M536 314l-2 -1 0 -2 -1 -1M415 296l2 0 2 -0M409 271l-2 -1 -1 -1M392 277l-1 1 -1 -1 1 -1M496 330l-2 1 -1 -1 2 -1M520 290l2 0 1 2M472 389l-1 2 -2 0M464 330l2 2 -2 1M526 329l1 -1 2 -1M435 250l1 1 2 -1M486 324l-2 -1 -1 2M445 243l1 1 -1 2M480 398l-1 -2 -2 1M448 283l2 -0 -0 -2 1 -1M553 340l1 2 2 -1 0 -2M376 272l-1 1 -2 -0M505 302l1 2 -1 2 -2 -1M367 293l0 -2 -0 -2M531 348l1 2 -0 2M454 308l-0 -2 -1 -1M438 333l-1 -1 -0 -2M390 266l1 2 3 -1M537 370l-2 0 -2 0M461 344l2 0 1 2M391 310l2 1 2 -1 1 1M463 334l-2 -1 -1 -2 -2 0M538 353l0 2 2 1M410 306l1 2 0 2 2 2M381 315l-0 -2 2 -1 2 -0M525 368l-2 2 -1 2M422 295l2 -2 0 -2M490 403l-0 -2 -2 -2 -2 -1M397 281l2 -1 2 -1 -1 -2M418 290l2 -1 1 2M395 303l1 1 -0 3 -1 2M378 317l1 2 1 -2M456 288l1 -1 -2 -2 -1 -1M456 246l-1 1 -1 2M461 287l1 -1 2 -1M429 289l-1 2 -0 2 2 -1M507 369l-2 1 -2 -0 -2 1M410 314l-1 -1 -1 2M534 351l-2 1 -1 -2 -2 -1M532 360l1 2 -1 1 -2 -2M397 269l0 2 2 -1 1 -1M518 366l-1 -2 -2 1M492 299l2 1 1 -1M453 318l1 2 -2 0 -2 0M372 299l2 -1 2 -2 -1 -1M531 366l1 -1 1 2 1 -1M476 267l2 1 -1 2M495 382l2 -0 1 2 2 2M434 254l-1 -1 -2 1M535 333l-0 2 1 2M469 276l1 -2 2 1M474 275l1 1 1 2 1 1M518 276l2 0 -0 2M422 280l1 2 2 1M411 317l-1 2 -2 1M417 279l-2 -1 -2 1M540 297l-0 -2 1 -2 -2 -1M540 326l-2 -1 -1 1 -2 -1M505 320l2 -0 2 -1M442 318l1 -1 1 -1 0 -2M511 385l1 2 -0 2M467 311l-2 -1 -2 -1 0 -2M443 252l-2 -1 0 -3 1 -1M370 298l1 2 2 -0 0 -2M527 345l1 1 3 -0M512 382l1 2 2 -1 1 2M440 292l2 0 2 -2 1 -2M525 336l-0 2 -0 2M503 301l2 1 1 2 0 2M478 340l1 2 2 -0 1 -2M451 335l1 2 -2 1M533 361l2 1 -0 2M466 333l1 -2 2 -2 2 2M462 266l2 1 1 1 2 1M386 287l2 0 1 2 0 2M509 346l-2 1 -2 -0M397 299l-2 1 -0 2M428 273l-2 -1 -1 2 -1 1M378 278l1 -2 2 0 2 -2M371 302l0 2 2 1M444 252l1 -2 0 -2 -2 0M503 378l-1 1 -2 1 -1 1M510 371l-2 0 -0 2 2 0M424 268l1 0 2 0M555 333l-0 2 2 -0M503 328l-0 -2 1 -2M462 325l-1 1 -0 2 2 -0M520 326l1 -1 2 1M456 253l1 1 2 -1 2 2M503 268l-1 -2 -2 -0 0 -2M515 307l-2 -0 -1 1M468 349l2 1 1 2 0 2M506 360l2 1 -0 2M392 276l-1 -1 -2 1 1 2M470 277l-1 -2 -1 -2M450 255l0 2 2 1M378 275l-1 -2 1 -2M382 319l-1 2 2 0 3 -0M545 350l-1 -2 2 -1 2 0M518 299l1 1 2 1 -1 1M519 282l1 2 -1 2M394 326l-1 -2 -1 -1 -1 -2M542 331l-2 1 1 2 2 -1M545 334l0 2 0 2M472 384l0 2 1 1M431 325l2 -0 2 -1M448 275l-2 0 -2 -1 1 -2M480 316l-1 -1 -1 1M552 329l1 -1 -0 -2 -3 -0M497 325l1 -1 2 -1M521 330l1 -2 2 1M363 308l-3 -1 -1 -2M454 321l0 -2 -1 -0M533 329l2 -0 2 -1M414 271l-0 -2 -2 -0M394 323l3 0 -1 2M439 329l-1 1 1 1 0 2M504 305l1 -2 0 -2M522 358l-1 1 -1 2 1 1M458 318l1 -2 2 -2M469 276l-0 -2 -1 -1 -2 0M379 288l2 1 2 1 -1 2M492 282l2 2 1 -1M464 346l-2 -0 0 -3M540 326l2 1 0 2M475 261l2 1 -0 2 2 -0M471 348l-1 -2 -2 -1M433 282l2 1 -2 1 1 2M503 373l0 -2 2 1M495 306l2 1 -1 2 1 1M472 271l0 -2 2 1 2 1M506 363l-0 2 1 2M381 317l-1 -2 2 -0M449 312l-0 -2 1 -1M526 357l-1 -1 -2 -1M424 278l-2 1 -0 2 1 1M540 376l2 1 -0 2 2 -0M530 351l1 -2 2 0 1 2M496 329l2 1 1 1M505 309l-1 2 -1 -1M398 278l1 -2 -1 -1M516 376l-1 -2 -2 1M458 261l2 1 0 2M409 269l2 0 2 -1 2 -0M446 262l-1 -1 0 -2M374 286l-2 -0 -2 0 -2 1M499 324l0 2 2 2M419 297l2 -0 0 2M513 381l2 -1 -1 -2 -0 -2M496 396l-2 0 -1 1M442 312l-1 1 -1 2 -1 1M499 305l1 -2 0 -2 -1 -1M460 315l-0 2 1 2 -1 2M423 291l-1 2 0 2 1 1M531 326l-1 2 -1 2 -0 2M439 330l-1 1 -2 0M491 392l-0 -2 -2 1M484 322l1 1 -1 1M463 323l-2 -1 -0 -2 -2 -1M497 299l2 -0 1 -2M532 389l1 1 -0 2M464 286l0 -2 1 -2 2 -1M433 294l2 -1 2 2 1 1M498 307l-1 -2 -2 -1 -1 -2M450 339l-2 -1 -2 1M496 320l1 -2 -1 -1M407 336l-1 -2 1 -2M459 313l2 -1 1 -2M445 289l1 -2 1 1 0 2M374 300l-1 2 -2 -1 1 -1M481 312l-2 -0 -2 1M422 270l-1 -1 -1 -2M454 332l0 -2 2 0M404 297l-1 -0 -1 -2M451 251l-3 0 -2 -2M465 294l0 -2 2 -1M387 285l1 -2 2 -0M502 365l-1 -2 -2 2 0 2M508 356l-2 2 2 2 0 2M439 348l0 -2 -2 -0 0 -1M537 322l-2 -2 1 -1 2 1M388 269l1 2 2 2 -2 2M445 284l-2 0 -2 -0 1 -2M490 327l1 2 -1 1 -2 -1M421 315l-2 -1 -2 -0 -2 -0M369 305l0 3 1 2M373 316l2 -0 2 2 -1 2M539 289l1 1 0 -2M493 274l-1 2 -2 -1M470 269l-2 -2 -2 0 -2 -1M394 315l-1 -2 -2 0M532 350l2 -0 1 -2 1 -1M391 328l2 1 2 2 2 -0M539 294l1 -2 2 -0 2 -0M537 393l1 -2 1 1 0 2M366 291l2 1 3 -0 2 1M405 337l1 -2 2 -2 2 -1M386 312l-1 2 2 0 1 2M467 323l-2 -1 0 -2 -0 -2M389 283l1 -1 3 0M404 303l2 0 -1 1 -3 0M382 275l1 2 1 2 -1 1M476 382l1 -1 2 -0 1 2M525 292l-2 -1 -1 -2 -1 1M472 395l-1 2 2 1M478 325l-1 -2 1 -2M473 338l-1 -1 -2 -1M538 387l2 0 2 0M435 254l2 -1 -2 -2M393 287l2 1 -0 3 -1 -1M499 271l2 -0 2 -0M529 297l-2 -2 -2 -1M472 281l-1 -0 -2 -1 -2 0M520 273l2 -1 2 -0 1 2M527 352l-0 -2 -2 1 -2 -2M520 326l0 -2 1 -2M468 335l2 -0 2 1M451 318l-2 1 -2 -1M426 276l-2 2 -1 -1 -2 -0M366 304l-2 -1 -0 -2 -1 -1M539 379l2 -2 2 2 2 1M506 315l1 2 1 2M371 306l-2 -1 -1 2M395 296l0 -2 -2 -1 -2 0M536 293l0 -3 0 -2M425 323l-2 1 -2 -1 -2 1M458 253l2 0 0 2 2 0M522 366l-2 -0 -2 -0 -2 -1M391 317l-2 -0 0 -1 -1 -2M542 366l1 -1 2 2M470 282l0 2 -2 -0 -1 2M454 288l2 0 2 1 1 -1M526 372l3 -0 2 1 1 2M518 306l2 -1 2 2M425 280l-0 2 -1 2 2 0M391 264l2 -1 -0 -2 2 -0M526 348l-1 -2 -2 -1 -2 1M442 259l-1 -2 2 -1M446 285l1 1 2 -0M537 347l1 2 -2 1M530 283l2 -0 0 2 2 -1M436 309l2 0 1 -1 -1 -2M436 282l1 -2 1 1 -1 1M492 319l-0 -2 -2 -2M396 318l0 2 -2 1 -2 -1M423 330l-1 -1 -2 -1M416 312l-2 -0 -2 -1 1 -1M508 389l0 2 -2 0 -1 -2M493 304l2 -1 2 -2 2 -1M475 275l2 -1 1 -2M403 265l2 -1 1 0M419 284l1 -2 1 -2M505 305l2 -2 -1 -2 0 -2M471 340l1 -2 -2 -0 -0 2M526 340l2 -1 2 -1 1 2M463 288l2 -2 1 2M508 343l-1 2 -0 2M377 270l1 -2 0 -2 2 -1M539 382l0 -2 -2 -1 -2 -1M481 301l0 2 -2 2 -2 -1M401 264l1 -2 1 -1 2 2M403 264l-2 1 -1 -1M413 318l1 -1 2 0 1 1M510 387l-2 0 -1 1 2 1M455 308l1 2 -2 1M521 364l2 -1 2 -0 2 -2M393 281l2 2 -0 2M537 331l-2 1 -2 2 -2 -2M407 304l2 2 -1 1 -1 2M525 274l-1 1 -1 2 -1 1M449 312l-2 -1 -2 0M514 308l-1 1 -1 -1M458 323l1 2 -1 2M514 381l-1 -2 -2 -0M396 284l1 -2 -2 -0 -2 1M410 315l-2 -0 0 -2 -1 -1M523 345l1 -1 2 0M522 324l-1 2 -2 1 -2 -0M384 271l1 1 -1 2M470 283l-1 -1 -2 -1 1 -1M420 277l1 -1 -0 -2M484 377l-2 -0 -1 2M486 388l2 1 1 -1M505 324l2 0 -0 2 0 2M527 360l-2 -0 -1 -2M444 287l2 1 1 1M457 290l-1 -1 -0 -2 -2 -1M509 352l1 1 1 2 -0 3M399 298l-2 -1 -1 2 -2 -1M459 327l2 0 2 1M462 293l0 -2 2 1 1 2M424 263l2 0 1 2 2 0M511 303l2 -2 -1 -2M513 268l1 2 -2 1M502 367l1 2 1 2 -1 2M384 285l1 -1 1 1 2 -0M533 298l2 2 -1 3M525 345l-0 1 -1 1 -1 2M412 318l-2 2 -2 -1 -0 -1M444 282l-2 -1 -1 -1 -1 1M380 287l-1 1 -1 -1M481 294l1 -1 2 2M387 320l-0 2 2 1M523 286l2 -0 1 2M395 266l-1 -1 0 -1 1 -1M376 297l-2 2 -1 1M465 256l-1 2 -1 1 -2 2M535 283l1 1 1 1M387 274l2 -0 2 2 -2 1M368 293l-0 2 1 2M518 353l0 2 2 -1M456 259l0 -2 -2 0M490 317l-0 2 1 2 -1 2M435 280l1 -2 1 -2M473 259l2 -2 3 0M418 275l1 -2 2 -0 -1 -2M434 330l0 2 -1 2M394 264l0 -3 2 -0M478 312l1 -1 1 -2M366 283l1 -2 2 -0 2 -1M541 381l2 -1 -2 -1 -2 -1M381 273l-1 -2 -2 1 -1 -1M539 337l-2 -1 -2 2M390 278l-2 0 -0 2 0 2M472 275l-1 1 -2 -0M483 288l-1 2 -1 1M444 264l1 2 1 -1 1 1M456 321l-2 1 -1 2 -2 -1M511 299l2 -1 2 -2 2 2M495 313l-1 1 -0 2 1 1M536 351l0 2 2 2 1 -2M429 334l-2 0 0 2M487 301l1 -2 1 -0M521 325l-1 -1 1 -1M438 259l1 1 2 -1M502 325l1 1 3 0 -0 -2M460 288l-2 -0 1 -2M527 371l2 -0 0 2M541 345l-2 1 -2 -1 -0 -2M394 271l2 2 1 -0M521 350l2 -0 1 -1 2 -0M514 357l-2 1 -2 -1M457 340l-1 -2 -2 -1 -2 1M471 263l0 -2 -1 -2M438 308l0 -2 2 0 -0 2M390 267l2 -0 1 -2 2 0M458 260l1 2 2 -0 1 1M527 320l-2 0 -3 1 -2 1M468 288l2 -1 1 -2M493 385l-2 2 -2 1M467 313l0 -2 -2 -1M540 382l1 -2 2 -0 0 2M503 305l-2 1 -2 -1 1 -2M527 338l-0 2 -1 2M417 285l-1 1 -1 1 1 1M472 266l2 1 2 -0M436 291l-1 2 -1 1 -2 -1M491 303l-1 -1 -1 -2M410 298l-2 0 0 -2 -2 -1M516 279l-2 2 0 2 2 1M532 346l-2 -1 -2 -0 -1 -2M482 388l-1 2 -0 2M483 289l-2 1 -2 -0M424 322l-2 -0 -1 -1 -1 1M409 273l-1 -2 -2 -0M427 332l1 -2 2 -0M514 272l-1 -2 1 -1 1 -2M488 279l-1 2 1 2M418 333l1 1 -2 1M418 279l0 -2 -2 -1M501 374l2 0 -0 2M528 347l-1 2 2 0M507 388l-1 -2 2 -1 1 2M437 248l1 2 -1 1 -2 2M429 254l2 2 0 2 2 0M449 274l-0 -2 2 -0M457 315l1 1 -0 2 1 1M499 310l-1 1 -2 -1 -1 2M497 272l1 2 2 1M426 270l-0 2 -1 1 -2 -0M519 358l2 -0 2 -0M526 348l1 -1 1 2M433 335l-1 -2 -1 -0 -1 -2M395 278l-1 -1 -1 -1 -2 1M453 312l1 -1 1 -1M508 377l-1 -2 -2 -0 -1 2M394 286l2 -0 2 -1M530 322l1 -2 -0 -2M385 269l-2 0 -0 -2M491 281l1 2 -2 1 -1 -2M503 382l-1 -3 -2 -1M442 307l-1 -1 2 -1 1 -2M419 270l-1 -2 -1 -2M439 339l1 2 -2 1 -2 -0M442 257l-1 1 -1 2M445 316l-2 2 -1 1M523 374l-2 -2 -2 -0 -2 1M528 276l0 2 -0 2M467 335l-2 0 -1 -1 -2 -1M395 323l2 0 0 1M496 304l-0 2 -2 2 -2 1M470 253l-1 -1 -1 -2M501 381l-2 1 1 1M432 252l0 -2 2 -1M534 307l-2 2 -2 1M433 247l2 -1 -1 -2M503 316l-1 -1 -1 -2M428 277l2 -1 1 -2 -1 -2M528 302l1 -1 2 -1M367 303l1 -3 2 -0 2 -2M549 327l-1 -1 -2 0 -2 1M533 334l1 1 1 1 0 2M396 280l1 1 1 -1M462 285l2 -0 1 -1 1 1M417 291l1 -2 1 -1M533 306l1 1 -2 0 -1 1M492 391l-3 1 -0 -3 2 -1M543 321l2 2 1 2M512 347l2 2 2 -1M478 330l2 -2 2 0 0 2M460 256l-2 -0 -1 2M473 264l-1 -1 -2 0M503 382l1 -1 -1 -1M535 306l1 -2 2 -2 -1 -1M499 272l2 -1 1 2M393 286l1 2 -1 2 -0 2M392 298l-2 2 -2 1 -1 2M437 327l-2 1 -2 1M387 271l1 -2 0 -2M473 330l-1 -1 -1 -2 -3 -0M532 336l-2 0 -1 1 1 1M460 292l-1 -1 -0 -2M540 306l-1 2 -1 2M523 300l-0 -2 -1 -2 2 -0M460 282l-0 -2 -1 -1 -1 -2M368 279l1 -2 -2 -2 -2 1M524 325l-1 1 1 1 1 -2M523 353l-2 -0 -0 -2 -0 -1M469 309l-2 -2 1 -2M460 344l-2 1 -0 2 -1 1M533 330l-1 1 -2 1 -2 0M536 284l-1 2 -2 -0 -2 1M393 312l-2 -2 1 -2M464 348l1 -1 2 -1 0 2M481 312l1 2 -1 2M502 319l-2 1 -2 -1 2 -2M451 282l0 2 1 1M445 253l1 -2 0 -2 -1 -2M469 312l1 -2 0 -2 2 0M387 265l-2 -0 0 2 -0 2M432 264l1 -2 3 -0M503 305l1 -1 2 0 1 -2M533 317l-1 2 1 1 -2 1M473 286l-2 1 1 1 -2 1M420 331l1 2 1 -1 1 -2M489 308l-2 -0 -2 -0 -0 2M530 290l-2 1 -2 1 1 2M468 286l-2 0 -2 2M550 340l0 2 2 0M384 269l1 -1 1 0M543 348l-2 1 -0 2 2 1M394 319l-2 -1 -2 -1 -2 -0M423 327l-2 1 -1 -2 -2 -2M393 320l-2 -0 -1 -2M485 396l-1 -1 0 -2 1 -1M535 286l-1 2 -1 2M507 302l-1 -2 -1 -2M448 286l-2 2 -2 1 -1 2M419 277l-1 -2 -2 -0M525 293l1 1 2 -1M361 301l-0 -2 2 -1 1 -2M426 325l0 -1 2 1M490 391l1 2 2 1 2 -1M542 383l1 -2 2 1 2 -2M514 353l-1 -2 1 -2M479 381l1 1 1 -1M439 251l-1 -2 0 -3 2 1M536 314l2 -1 1 2M518 342l2 -1 0 2M389 314l-1 1 0 2 -1 2M462 251l-0 -2 -2 -1 -1 2M463 280l-1 2 0 1 2 0M498 329l0 -2 1 -2 -2 -1M490 322l2 -1 1 -2M522 374l2 -0 2 2 2 0M376 281l1 1 -0 2M472 389l-2 -2 -2 0M522 323l1 1 -1 2 -2 1M393 284l-0 2 -2 -0M376 269l1 2 -2 1M504 298l-1 1 1 2M470 312l-2 -1 -1 -2M490 306l-2 2 -0 2 2 1M440 282l-2 -0 -1 1 2 2M381 285l-2 -1 -2 -1 -1 1M537 315l1 -2 0 -2 2 -0M550 338l0 -2 -1 -2 -2 1M393 282l1 2 -0 2M373 282l-1 -2 -1 -2M383 306l-1 -2 -2 1 -2 2M483 397l0 -2 2 -1M488 280l-2 -1 -2 1M419 273l2 -1 2 -1 -1 -2M477 291l-1 1 -1 2 1 2M523 278l-1 1 -2 -1M507 272l-2 0 -2 -1 -1 2M439 297l-2 1 -1 2 2 1M486 301l1 -2 -1 -2M417 325l-1 -2 -1 -2M481 299l-1 -2 -1 -1 -1 1M429 251l1 -2 1 -2M457 273l-1 1 -1 2M454 264l-1 2 -1 -1 -2 -1M410 268l1 2 2 1 1 1M374 285l-1 -2 1 -1 -0 -2M492 301l2 -1 1 -2M460 272l2 0 0 2M464 337l-2 2 1 1M491 308l-2 1 -1 2M528 328l-1 2 1 1 -1 2M394 311l-0 -2 2 -1M462 300l3 -0 1 2 2 -1M394 281l-2 1 -2 0 -1 -2M456 258l0 -2 2 1M454 308l-0 2 -0 2 -2 1M459 291l1 -2 2 1M412 290l0 2 2 1 2 -1M423 300l-2 0 -1 -1 0 -2M539 360l-2 1 -1 -1 -1 -2M423 311l2 1 -1 1M511 389l2 -1 1 -1 0 -2M443 335l-0 -2 -2 1 -2 2M509 360l-2 2 1 2 -2 1M493 360l-1 1 2 1M511 302l-2 1 -1 -2M521 295l-2 -1 -1 2 2 0M421 313l-1 2 -2 -1M521 343l-1 2 0 2M398 318l-2 -1 -1 2 2 1M452 316l-2 -0 -1 2 1 1M420 310l-2 1 -1 -2M454 280l2 -0 2 -1 0 2M453 281l1 1 1 1M387 273l-1 -1 -2 -1 1 -2M514 381l1 -2 2 1 1 2M443 317l-2 1 -1 -2M526 344l-1 1 -2 1 -2 2M481 284l1 1 2 1M542 348l-2 -1 -2 1 -2 2M424 273l-2 -0 -2 0 -0 -2M439 285l1 2 2 -1M467 252l-2 -0 -1 -1M465 335l0 2 2 1M460 291l1 -2 0 -2M540 353l2 1 2 -1M490 276l-2 -1 -1 -1M446 256l-1 -1 -2 -1 -2 0M531 324l2 1 0 2M367 313l-1 2 -2 -1M458 324l2 0 1 2M491 392l0 2 -1 1 1 1M446 280l2 -1 2 2 -1 2M527 324l1 1 3 0 -0 2M436 324l-2 -0 -1 -2M493 325l2 -0 -1 -2M493 313l-1 -1 2 -1M463 286l0 2 -2 0 -1 -2M528 362l2 -0 2 0 2 -1M540 327l-2 -2 -2 0M526 322l-2 0 -2 2M507 387l-0 2 -1 1 1 2M503 371l2 -1 2 1M421 326l1 2 2 -1 2 1M438 284l2 1 -1 1M460 293l-2 -0 -0 -2 2 0M467 276l-1 2 2 0 -1 2M382 304l-0 -2 -1 -2M481 302l-0 2 1 2 1 1M527 351l-2 2 -0 2M535 287l-0 2 -2 1M453 248l0 -2 -2 -0 -1 2M446 264l0 2 -2 1M451 254l-2 -0 -1 -1 -2 -0M383 316l1 1 2 0 -0 -2M378 277l1 2 2 0M536 353l-1 2 -1 1M532 295l-0 -2 2 0M439 282l1 2 2 -0 1 2M458 280l-2 0 -1 -2 -2 -0M538 286l2 -1 1 2 2 -2M443 255l3 -0 -1 -2 -1 -2M422 316l2 1 1 -2M484 278l0 2 -2 1 0 2M387 267l2 -0 2 -0 -0 2M457 332l-1 -2 2 -0M461 300l-2 -0 -2 1 -2 1M519 282l0 -2 -2 -1 1 -2M519 376l1 2 -1 1M469 255l-1 1 -1 1 -2 -1M413 320l-2 -2 -1 -2 -2 -1M486 321l-1 1 -1 -2M531 350l-2 -0 -1 -2 -1 2M442 343l-1 2 -1 2 1 2M435 260l-2 -1 -1 -2 2 -1M398 267l-2 -1 -2 -0 0 -2M438 310l2 0 2 -0M452 250l1 -2 1 -2M441 316l-1 2 -2 1M458 258l2 1 2 2 2 1M528 393l2 -1 0 -2 -1 -2M398 279l1 -1 2 2 1 1M392 293l2 0 2 2M380 315l-2 -1 1 -2M422 327l-1 2 -1 -1 -1 -2M360 303l-1 -2 1 -2M522 363l1 -2 2 1M409 300l2 -0 2 -1 2 0M538 334l2 -1 2 -1M422 292l-2 -0 -1 1M505 362l2 -1 1 -1 2 1M479 328l1 -2 2 1M434 339l-2 -2 -2 -0M492 329l-1 1 -2 1 1 2M475 275l-1 1 1 2 -2 1M514 361l2 0 1 2M541 378l1 -1 -2 -2M459 326l2 -1 -1 -1 2 -1M474 284l1 2 -1 2 -2 -0M418 284l1 2 2 1M395 309l2 -1 2 1M439 298l2 -1 0 2M428 266l2 -0 1 -2M470 269l1 1 2 1M407 271l-2 0 -2 -0M525 322l-1 2 -1 -1 0 -2M451 246l-1 -2 -2 0M388 321l-2 0 -2 -0M544 350l-1 1 -2 -1M372 297l2 1 2 -1 2 1M379 286l-0 2 -2 1M485 281l-0 -2 -1 -2 0 -1M389 303l2 -1 1 1 1 1M505 353l-1 1 0 2M471 344l2 -1 2 -1 -1 -2M495 270l1 2 -1 2 -1 2M410 278l2 1 1 1 0 2M402 303l1 -1 1 -0M370 309l1 -1 2 1M445 278l-1 -1 -2 1M504 314l-2 -0 0 -2M514 389l-2 2 -0 3M456 254l-2 0 -2 -0M412 282l-1 1 -1 -2 2 -1M399 332l1 1 0 2 1 1M429 306l1 2 2 -2M459 249l1 2 -1 3 -2 1M507 303l-0 2 -1 1 -2 1M511 348l-1 1 -1 2M388 320l-1 -2 0 -3 -1 -1M421 284l-2 0 -1 -1M532 282l1 -2 0 -2 1 -2M482 312l1 -2 -0 -2 2 -0M371 295l-2 1 -1 -2 -2 -0M495 329l-0 2 1 2 0 2M515 279l-2 1 -1 1M482 312l-1 -2 -2 -1M415 322l-2 -1 -2 1M399 307l1 1 1 1M500 372l1 2 -2 -0M526 351l2 1 1 1 0 2M493 307l-1 -1 1 -2M485 289l-2 2 -2 1 -2 0M531 311l-2 0 -2 1 -1 -2M536 289l2 -0 1 1M529 368l2 -1 2 -1 0 -2M472 287l-0 -2 0 -2M441 292l1 -1 2 0M458 274l-1 2 -2 -0 0 -2M427 275l0 2 -2 0M484 321l-2 -2 -1 -1 -2 2M522 366l-1 -1 -1 -1 2 -1M396 292l-1 -2 0 -2M516 274l3 0 1 2 2 -1M480 383l2 -0 2 1 2 1M386 317l-2 0 -0 3 1 2M502 373l-1 -2 1 -1 1 -2M445 290l-0 2 2 1M478 316l-2 1 0 2M425 285l2 1 1 2 -2 1M512 369l2 0 2 2M536 303l-1 -1 -0 -2M380 315l-2 -1 -2 -1 -1 2M533 280l2 -0 1 2 2 1M440 260l1 2 2 -1 2 -1M539 344l2 -0 2 1 1 -1M457 274l-0 2 -1 2 -1 2M422 282l2 -2 -0 -2 2 0M496 315l2 -1 -2 -2 -2 0M466 280l1 -2 2 -1M393 306l1 -2 1 -0 -1 -2M456 261l1 1 1 1 1 1M463 250l1 -1 2 1 2 0M475 272l1 -2 1 -1M473 335l1 1 2 0 -1 2M446 254l-1 -2 -2 -1M417 286l0 -2 2 0 2 -0M540 372l-0 2 -2 -1 -2 0M388 283l1 1 2 0M461 264l2 -1 1 -1 1 2M456 335l-1 2 1 2M443 260l1 -1 1 -2M458 319l-0 -2 1 -2 2 1M473 265l1 2 -1 2M417 274l-2 2 -2 2M424 277l-2 1 -2 -1 -2 -1M443 292l-1 2 -1 -1 -1 2M387 279l1 2 -1 2M442 247l-0 -3 -1 -1M413 271l-2 -1 -2 -1 -0 -2M493 400l-1 -2 1 -1 2 1M524 277l-1 -1 -0 -2 -2 -1M432 251l2 -1 1 -1M452 330l-2 -0 -2 -0 -2 1M375 297l2 1 0 -2 -2 -1M538 375l2 -0 2 0M517 369l-2 -0 -1 2M524 298l-2 0 -2 -0 -1 -2M373 277l2 -1 -2 -2M461 326l2 -0 1 -2M482 399l-0 2 -2 0M526 334l2 -0 2 1M366 297l1 -1 -2 -1 -2 1M534 340l-1 2 -2 2 -1 2M475 322l-1 2 1 1 1 -1M440 297l-2 -1 0 -2M462 268l2 -0 1 -1M425 331l-2 2 0 2 1 1M469 343l1 -1 1 -2 2 1M458 341l1 -3 -2 -0 -1 -2M487 401l-0 -2 2 -1M453 249l-2 1 -2 1M420 320l-1 -1 -2 -1 -2 2M415 322l-2 1 2 2 1 2M500 375l2 -1 2 1 1 -1M516 362l-1 2 1 1 -1 2M534 291l0 1 1 2M535 285l-2 -1 -2 1 -1 2M484 289l2 1 1 -1 2 1M552 342l1 1 2 0 1 1M520 273l0 -3 2 -1 2 -0M536 349l1 2 2 -0 0 -2M422 331l2 -0 -0 2M446 293l1 1 1 2 -2 2M479 397l-1 2 -2 -2M507 304l-2 -1 -2 -2M524 362l1 2 2 0 1 2M420 317l2 -1 2 -1M417 274l1 -2 -0 -2 2 -1M378 280l-1 -2 1 -1 0 -2M430 308l-1 -2 0 -2M474 278l1 2 2 -1M421 292l-2 -0 -1 -2M528 297l1 2 2 1M423 268l1 -1 1 1M461 284l0 -2 -2 0M441 331l-1 -1 -1 -2M544 335l-0 -2 2 -2 0 -1M433 293l2 1 1 2 1 -1M526 394l-1 2 -1 2 1 1M539 390l-0 -2 -1 -1M454 336l-1 -2 -1 -2M507 390l-2 0 0 2 3 -0M501 365l2 1 1 -2 -2 -1M460 275l2 2 2 0 1 -2M494 382l1 -2 2 0M438 279l-1 -2 2 -2 -1 -2M539 389l-0 2 -2 2 -2 1M501 316l-0 2 -0 2 -2 0M478 329l-0 2 -2 -1 -0 -2M514 290l-0 -2 0 -2 2 0M528 331l2 -2 2 -0M370 296l2 1 2 2M530 281l-1 1 2 2 2 -2M471 267l-1 -2 -0 -2M370 296l2 1 1 -1M389 266l2 1 2 0 0 -2M437 306l1 1 2 1M490 273l-0 2 2 1M473 260l-2 -1 -2 1M376 311l-2 0 1 2 -2 1M526 341l-1 2 1 1 2 0M414 333l-2 2 2 1 1 2M483 384l1 -2 2 1M531 327l0 2 -1 2M508 353l2 1 2 -0M494 321l2 -1 1 1 -0 2M519 292l-0 1 2 1M519 277l2 1 2 2M433 337l2 1 2 -1 2 0M489 312l-2 -1 -2 1M521 349l-2 -1 -1 -2M447 260l2 -1 -1 -2 1 -1M449 332l-2 -0 -1 -2 -2 1M528 371l-1 1 -1 -2M550 332l0 2 0 3 -0 3M510 386l-1 -1 -1 1 -1 2M526 345l-1 1 -2 -0 0 2M521 282l2 -2 2 1 2 2M480 400l-2 -0 -1 1M430 333l-2 -0 -2 1M476 381l-1 2 -2 -1M537 294l2 -1 -1 -1M431 279l1 -2 2 -0M451 332l-1 -1 2 -1 -0 -2M538 327l-2 1 -1 -1 -2 2M504 305l-2 0 1 2M536 343l2 -0 1 -1M373 282l2 -2 -1 -2M427 312l2 -1 1 -1 1 -1M548 335l-2 0 -1 1M367 292l-2 1 -1 -2 -2 -0M452 259l2 -1 0 -2M503 330l2 0 1 -1M474 326l-2 1 -2 1 0 2M451 271l2 1 2 -0 2 1M539 337l-2 -0 -2 -1 -2 2M483 384l1 -2 1 -1M445 261l2 1 2 -1M520 275l-1 -2 0 -2M467 283l2 -1 1 2M448 313l-2 -2 -0 -2M487 403l0 -2 1 -2M420 324l2 -1 1 -2 -1 -2M452 262l-1 -2 -2 -0M468 289l-1 -2 1 -2M424 327l1 2 2 1 -0 2M432 254l-2 2 2 1 -0 2M516 294l2 0 -0 -2M496 359l2 0 0 -2 1 -1M428 291l1 2 0 2M448 338l0 -2 2 0 1 -2M451 294l2 -1 -1 -2 -2 -1M393 305l-2 1 1 2M394 264l-2 -1 1 -2 -2 -1M414 330l-1 2 1 1 -2 1M469 255l-0 2 -1 2 2 0M428 285l1 2 -1 1M521 274l1 -1 0 2M536 353l-2 1 -2 1 -1 2M387 277l-0 -2 0 -2 -2 -1M422 275l-2 0 -2 0 -2 0M396 325l1 2 1 2M523 367l-0 2 1 1 1 -2M463 286l1 1 -1 1 0 2M362 306l0 2 2 -0M520 351l1 2 2 -0M470 290l-1 2 2 1M459 333l-1 -2 -2 0 -1 -2M460 323l-1 -2 -2 0M446 260l0 2 2 1 0 -2M509 298l-1 -2 1 -1 1 -1M426 328l-1 -1 -2 -1M499 366l-2 0 -2 -1 -1 -1M510 388l1 -2 -0 -2M377 281l2 1 1 -1M367 295l1 -0 2 -1M473 342l1 2 -0 2 2 1M519 279l2 2 1 1M417 317l2 0 -0 -2M417 337l1 1 3 0M374 277l-0 2 1 2 2 -2M476 332l-0 -2 2 -1M482 298l1 -2 -1 -1 1 -2M514 349l1 1 -1 1 -0 2M484 295l1 2 -1 2M434 259l-2 1 -1 1 -1 -1M484 284l2 0 1 -2M400 302l-1 2 -2 1 -1 -2M497 273l2 -1 1 1 -2 2M481 331l1 1 2 -1 2 1M449 294l-0 -2 -1 -2M530 359l2 -1 2 2M530 326l2 -2 2 1M424 311l1 0 1 2 -2 1M395 272l-1 -2 -2 -1M548 348l-1 -1 -2 -1 -1 1M462 265l1 -1 2 -1 1 -1M552 327l-2 0 -2 -0 0 2M508 357l-2 0 -1 -1M424 305l0 2 -2 -0M415 277l-2 -0 -1 -1M460 252l-1 -2 -2 -1M462 283l-2 2 2 2 1 -1M466 267l-2 0 0 -2M522 272l-2 -1 -1 -1M534 320l-2 1 -1 1 -2 -2M518 365l2 -1 1 -2M460 262l1 -1 2 0 1 2M435 339l1 -2 -2 -0 -2 -2M437 332l-1 1 1 2M462 346l-2 1 -1 1M434 308l1 2 -0 2 2 0M541 357l-2 0 -2 -1 -2 1M457 272l1 2 2 0M413 285l1 -1 2 0M531 362l2 0 1 1 3 -0M503 299l-1 -2 -2 -1 -2 1M453 293l2 0 2 2 1 2M546 327l-1 1 -2 2 -2 -1M539 364l-1 2 -1 1 -2 1M553 332l3 0 1 -1M455 287l1 -2 2 -1M525 293l-2 1 -2 1M495 395l-1 2 -2 -1 -1 2M510 274l-1 2 1 2M486 305l1 2 -0 2M369 298l-1 2 2 0M428 271l1 -1 -0 -2 1 -2M517 286l-2 -1 -2 0M410 267l2 -1 -1 -2M518 356l-1 2 2 1M525 362l0 2 -2 1M505 388l-2 -2 -2 1M398 274l2 -1 -1 -2M370 297l2 -0 0 3M456 294l-2 -1 -1 -2 2 -0M381 274l-1 -2 3 -0 -0 -2M525 281l-2 -1 -2 1M479 311l1 -1 2 1 1 1M493 283l1 -2 -2 -1 -1 2M516 306l-2 1 1 2M431 276l2 -1 1 -2M506 307l-2 2 -2 1 -1 1M519 344l-1 -1 -2 1 -1 -1M512 273l2 -1 1 -2 -0 -2M531 344l-1 -1 2 -2 3 -0M543 362l-0 -1 -1 -1M390 289l-2 0 -2 1M521 272l1 -2 -2 -1M527 375l1 -1 2 0M447 245l-2 1 -0 -2 -2 -2M444 254l-2 1 -0 -2 2 -0M502 309l-0 -2 1 -2 2 -1M463 284l1 2 2 -0M439 308l-2 1 -2 1 -2 -1M386 315l0 2 -2 1 -0 2M443 335l2 -1 2 0 0 -1M551 337l-2 2 -1 2M400 333l2 1 1 2M553 333l-2 1 -0 1 -1 1M487 305l1 2 0 2 1 2M518 309l0 2 -1 1M551 334l-2 -0 1 -2 1 -2M473 390l2 0 1 -2 0 -2M537 332l0 2 0 2 2 -0M483 295l-0 -2 1 -1M512 347l-1 1 0 2M430 268l-1 -2 -2 -1M380 275l1 2 1 2 2 1M453 341l-2 -1 -2 0 -2 1M447 259l2 1 2 0 0 2M471 325l-2 -2 2 -2M432 292l-1 1 -2 0 -0 2M446 254l-2 -2 1 -1 2 1M457 283l-2 1 1 2 -1 1M499 368l-2 -0 -2 1 -2 1M515 295l-1 -2 -2 -0M393 273l-0 -2 2 -2 -1 -2M523 271l1 -2 2 1 1 -2M516 372l2 -2 2 1M452 264l-2 -2 2 -2M451 311l1 1 -1 1M531 293l2 -1 -0 -2 1 -1M476 266l-2 -1 1 -2M441 310l1 -2 2 1 2 -1M468 337l2 1 2 1M522 328l-2 -0 -2 0 -3 -0M467 320l1 1 2 1M468 309l-2 1 -2 1 -2 -0M515 382l-1 0 -1 1M439 333l-1 -2 -2 -0 -2 0M399 269l-1 1 2 1M512 341l-2 -1 -0 -2 0 -2M479 319l-2 -1 1 -2M539 332l1 2 2 -0M430 270l1 -2 -1 -2 2 -2M508 386l-2 2 -2 -0M509 370l1 -1 2 0 2 0M447 259l-1 2 1 1M384 304l2 -1 1 0 2 -1M433 280l0 -2 2 0M424 257l1 2 1 2 -2 1M444 311l1 -2 2 -0 2 -1M538 330l-2 -1 -2 -1 -0 2M451 285l1 -2 2 -1M544 366l-1 2 -1 1M438 278l-2 2 0 2 -2 1M426 269l-0 2 1 2 -2 1M527 276l0 -2 0 -2 -1 -2M496 309l-0 2 -2 -0M425 271l2 -1 1 0M512 349l1 -1 1 -2 -1 -1M441 314l2 1 1 -1 2 -1M535 306l-2 -1 1 -2 2 1M542 327l-2 1 1 1M527 390l-0 2 1 2 2 1M530 324l2 1 2 1 -1 2M389 317l-2 -1 -1 1M529 388l-2 1 -0 2M510 350l-0 3 -2 1M456 293l2 1 1 2 -2 1M515 373l-2 -1 0 -2 2 0M456 313l-1 -2 -1 -2 2 -0M475 344l-1 1 0 2 -2 -0M448 336l1 -2 -2 -1 -0 -2M448 255l-0 3 2 -0 -1 -2M481 402l-2 -1 -0 2 2 1M539 296l-1 -2 -2 -0 -0 -2M520 299l2 -0 1 -1 -2 -1M412 273l1 -2 -2 -0 0 -2M465 249l2 -2 2 0M497 303l2 1 2 1 2 -0M520 293l-0 3 1 1M488 392l-2 -0 -1 2M406 265l-2 -1 -1 -2 2 -1M510 351l1 2 2 1M465 261l2 -1 0 -2M532 356l-1 -2 -2 -1 -2 -0M531 333l2 1 0 -2 2 1M525 273l-1 -2 -2 -1 -0 -2M481 312l-2 0 1 2M495 363l-2 1 -2 -0 -0 -2M505 365l-1 1 -0 2 2 1M526 302l1 2 2 1M538 353l2 1 0 2M541 390l-2 1 1 2M394 279l-2 -0 -2 1M485 302l2 -1 2 -1 1 -2M378 286l-2 -0 -2 0 -2 1M530 349l-0 -2 -0 -2M501 385l3 0 1 1M522 297l2 1 1 -2 -1 -2M433 331l1 2 2 -1M521 278l-0 -2 1 -2M377 311l-2 -1 -1 1 1 2M514 296l-1 -2 -1 1M507 372l1 1 -0 2M393 297l0 -2 -2 0 -2 2M549 337l-2 2 -1 2M530 320l1 2 -0 2 1 2M541 299l2 -1 2 -1M466 288l1 -2 1 -2M396 307l1 2 -1 1 -2 -1M522 286l1 -2 -2 -1M493 317l1 2 2 1M371 298l2 -1 -1 -2 0 -2M426 272l1 -2 -1 -1 -1 -1M477 383l-1 -2 -1 -2 -2 1M372 284l1 1 2 -2 -1 -2M373 311l0 -2 2 -0 2 -1M478 328l2 0 2 1M468 335l1 2 -2 0M534 293l-1 2 -1 2M369 287l2 -2 1 2M472 326l-2 -1 -1 -2M417 293l0 -2 -2 0 0 2M452 271l2 -1 2 -1 1 2M539 312l-1 2 2 0M444 336l1 2 -1 1 -2 0M392 329l-2 2 -2 -2M465 272l1 2 -1 2 -2 2M420 313l2 0 1 -1M396 267l-2 -1 -1 -1 -2 2M475 278l-1 2 1 2M524 304l-0 3 -2 -0 0 2M398 263l1 -2 -2 -2 -2 1M451 260l-1 -1 -2 -0 -0 2M445 283l-2 -1 -2 1 -2 -1M384 313l2 1 2 -1M461 327l-2 -0 -2 -0 -2 -0M424 260l-2 0 -1 -2M542 368l1 -1 2 -0 2 0M445 333l-1 2 2 1 2 -1M523 271l2 0 1 2M454 324l-2 0 -2 -1 -1 1M552 327l-0 -2 -0 -2M430 251l0 -2 0 -2 2 -1M514 367l-0 -2 -0 -2M460 293l1 1 2 1M394 316l0 2 2 1 -0 2M482 388l1 -1 2 2M479 291l-1 -1 -1 -2 0 -2M399 306l-1 -2 1 -2M508 361l-2 -1 -1 0M455 267l-2 -1 -1 1 -2 -1M390 321l-1 2 -1 2 2 1M531 303l-1 2 -1 2 2 1M469 340l-2 1 -0 -2M541 321l-0 -2 -0 -2M494 386l1 -1 1 2 1 2M409 269l-1 -1 -1 2M449 318l-2 -0 -2 1 1 2M433 334l1 2 2 -1M492 272l1 -2 -2 -1 -0 -2M411 294l1 -2 1 1M396 313l1 -2 -1 -2 -0 -2M502 326l2 2 2 0 2 -0M481 296l2 -1 2 0M540 359l1 -2 1 -2M517 290l2 1 -0 2 1 0M378 283l-1 2 -2 -1M502 296l2 -1 -0 -2 -2 1M441 279l0 2 -2 0M377 315l-0 2 -1 2M380 279l-1 2 -1 2M392 320l0 2 1 1 2 -1M443 295l1 1 2 -1 2 1M545 331l-2 -1 -2 0 0 2M441 335l-2 -1 -2 1M472 329l-0 -2 1 -2 -1 -2M435 328l2 0 2 2 0 2M427 272l1 2 2 -0 1 2M483 316l2 -2 1 -2M482 311l1 2 2 1 1 -1M483 386l2 0 1 2M499 368l1 -0 2 -0M456 299l0 2 -2 -0 -0 2M526 276l-1 1 2 1 -1 2M389 286l-2 -1 1 -2M432 255l2 1 -1 2 0 2M516 346l-2 -0 -2 1M448 275l2 -0 1 -2M454 336l-2 0 -1 2 1 2M430 290l-2 -2 -2 -1M433 253l-1 1 -1 1 -2 0M537 306l2 1 2 -1M537 363l1 2 -0 2 -2 1M527 366l-2 2 1 1 2 -2M437 282l0 -2 -2 -0 -2 0M474 345l-0 2 2 0 1 1M491 275l1 -1 1 -2M468 280l-0 -2 1 -2M491 367l-2 -0 -2 -0M461 317l1 2 2 -0M454 312l-1 -1 -1 -2M541 377l1 -2 2 -1 2 2M454 312l2 1 1 -1 1 -1M531 311l2 1 1 2 2 2M480 331l-1 2 2 1M420 277l2 -1 3 -0 -0 -2M387 315l2 1 1 2 -0 2M462 251l-1 2 1 2 2 -1M420 336l1 -1 1 1 2 -0M533 338l-2 1 -2 1 -2 1M523 341l1 -1 0 -2M530 282l-0 3 -1 2 -2 1M458 332l1 -1 2 -1M412 311l-1 -2 -2 1 -1 -2M455 334l2 1 1 -1 -0 -2M503 298l2 1 0 2M414 318l-1 2 0 1M388 311l2 0 1 -2M509 391l-0 -2 1 -2M411 294l1 1 -2 1 -0 2M375 277l-2 1 -2 1M391 287l-2 2 -3 0M420 331l2 0 0 -2 -1 -2M412 336l0 -2 -2 0M439 282l-2 1 -2 2 -2 0M425 333l-1 -1 -2 1 -1 -2M446 256l0 2 -2 1" stroke="#38F038" stroke-width="1.1" fill="none" stroke-linecap="round" stroke-linejoin="round"/><path d="M705 235l2 2 1 -2 -0 -1M642 208l-1 -1 -2 0M684 220l2 1 0 -2 -0 -2M693 312l0 -2 2 1 1 1M586 257l-2 1 -1 0 1 2M588 219l2 -1 2 -1M565 248l-1 -2 -1 1 -2 -1M620 261l-0 1 1 2M584 262l1 2 -1 1 1 2M582 220l-2 -1 -2 -0M695 238l-0 -2 -1 -1 -1 -1M717 272l2 -1 2 1 -0 2M711 244l-1 2 -2 0M639 261l1 -2 1 1 -0 2M661 252l1 -2 2 1M576 218l-2 1 0 2 -1 1M625 236l0 -2 -1 -2M659 246l1 -2 2 -0 -0 -2M572 239l2 0 2 -0M634 267l2 -1 1 2 2 1M617 266l-1 -2 -1 -1M614 248l2 -0 0 2 2 -0M731 232l1 2 -1 1M569 223l-2 0 -2 2 -1 -2M684 291l2 -1 -1 -2 -1 -2M727 219l0 -2 2 -0 2 0M714 248l-1 -2 -2 1M559 229l-1 -1 0 -2M703 245l-1 1 -2 -1 1 -2M661 218l2 -1 2 -1 1 -0M609 227l-2 -1 -2 -1M633 215l0 -2 -2 1M606 266l1 1 1 -1M552 232l2 -2 2 -2 -1 -1M582 250l0 2 1 1 1 -1M643 262l-2 -1 -0 2M653 279l0 -2 2 -0 0 -2M708 277l-0 2 -2 -0 -2 0M668 221l2 1 1 1M628 258l-2 -1 -2 -0 -0 -2M556 249l-2 -1 -2 1M708 230l-2 0 -1 -1 -1 -2M583 226l2 -0 2 -0 0 2M719 230l1 -1 -0 -2 1 -2M661 251l2 -1 0 -2 -2 -0M711 274l1 1 1 1 1 2M677 289l-0 -2 -2 -1 -0 2M665 267l1 -2 -0 -2M648 292l2 -2 0 -3 2 -2M707 216l-2 -1 -2 2 2 1M679 247l-1 2 -2 -1M554 248l0 -2 -2 1M638 239l2 0 1 -2 1 -1M725 228l-0 -2 -2 -0 0 2M651 236l-2 1 -1 2 2 1M702 255l2 1 2 -1 1 -2M648 267l2 -1 1 2 0 3M661 258l2 -1 2 1 -1 2M713 227l-1 -2 -1 -2M666 294l-1 -1 -1 -1M722 248l2 -2 2 1M656 261l1 1 -1 2M585 272l1 -1 1 -2M611 228l2 -1 1 1M691 230l2 1 2 -0M632 221l-2 1 -1 2 -1 2M578 242l1 -1 2 2 2 0M584 244l-2 2 -1 -2M659 247l-2 -2 0 -2M646 213l-2 -1 -2 0 -2 -1M713 247l-1 2 -1 -1 1 -1M681 290l1 1 1 1M727 255l-1 -1 0 -2M724 224l1 -2 -2 -1 -2 -2M723 222l-1 -2 -1 1 1 1M697 247l1 2 -2 1M562 241l-0 -2 -2 1 0 2M705 297l1 -2 1 -2 3 0M638 260l1 1 1 -1M578 251l2 1 2 1 1 2M692 213l-0 -2 -1 -2 1 -1M730 233l-1 2 -1 -1 0 -2M582 236l2 -0 2 -1 2 -2M546 248l-2 -1 0 -2 -1 -2M700 266l2 0 -0 2M670 280l-2 0 -2 -0M670 283l-0 -2 -2 -0M666 278l2 -2 -1 -2M613 268l-3 0 0 -2M623 273l1 -1 2 -0M634 225l-1 1 0 2M655 277l-2 -1 1 -2M641 267l2 -1 1 1M654 301l2 -1 2 1 -1 1M637 221l2 1 2 -1 1 -1M667 243l-2 1 -1 -2 -2 -1M648 291l-1 -2 -3 -0 -2 0M644 222l-1 -2 0 -2M716 236l-2 0 -2 -2 -1 -1M622 235l2 -1 1 -2M642 262l1 -2 2 -1M583 255l-2 -1 1 -2M681 214l1 2 0 2 -0 2M717 245l1 1 1 0M673 252l0 -2 0 -2 2 0M582 269l2 -1 2 0M671 241l-1 -2 2 -1 0 -2M688 308l-0 -3 0 -2M672 217l-1 -2 -1 -2 1 -1M658 217l-2 -1 -0 2M602 285l-2 0 1 2 2 1M580 244l-2 1 1 1 1 1M601 238l1 2 3 -0 2 1M630 261l-2 -1 1 -2M614 237l-1 2 -0 2M597 267l-2 -0 -2 0M596 224l-1 -2 -0 -2 -1 -1M595 279l-2 0 -1 -2M714 270l-2 -1 -1 -2 -2 -1M648 246l1 -2 1 -2 2 -0M552 237l1 -2 1 -1M579 247l0 -2 -1 -2M597 284l-0 -3 -2 -2 -1 1M620 262l-2 -0 -2 -2M656 273l0 -2 1 -1 2 1M646 259l1 -2 -2 -2M563 231l-0 2 -1 2M730 266l-2 1 -2 -0M644 253l-1 2 1 1M691 210l-1 2 1 2 -2 1M644 225l1 -2 2 0 2 1M720 262l0 2 1 1 1 1M665 301l-1 -1 -2 1M710 240l0 2 -1 2 -2 0M618 236l0 2 -2 -1 0 -2M567 248l-0 2 1 2M547 254l1 2 2 1M549 251l-2 -1 -1 1 -2 -1M712 230l-2 -1 -1 -2M676 273l2 1 2 0 1 -1M712 270l-1 2 1 2M552 253l-0 2 2 -0 1 2M572 243l-2 -1 0 -2 -2 0M612 262l2 1 1 -2 2 -1M711 238l1 2 -1 2M728 254l-1 1 -1 -1 -2 -0M649 277l-2 -1 -1 -2M617 267l-2 -2 -2 -1 -0 2M648 290l-0 2 -2 0M624 224l2 1 0 2 1 2M682 217l2 -1 1 -1M659 283l0 -2 1 -2 1 1M647 223l-2 1 0 2 1 2M690 304l-1 2 -1 1 -0 2M721 229l2 0 1 -1M675 238l-2 1 -1 2 -0 2M614 279l2 1 0 -2 -1 -0M716 247l-1 2 -2 -1M621 226l-2 -1 -2 1 -1 2M562 253l2 0 1 -2M726 230l2 0 -1 2M671 277l2 0 0 -3M689 224l2 -0 0 2 2 1M717 221l-1 -1 -2 1M650 214l2 -1 0 2 1 1M604 235l-1 -1 1 -2M620 260l-2 1 -2 -0 -0 -2M701 303l1 -1 2 -0M700 266l-1 2 -1 2 -0 3M562 232l-2 0 -2 -2M704 227l-0 2 -1 2 2 2M704 229l-2 1 -2 1M584 262l1 -2 2 1 2 0M694 231l-2 -1 -2 1M589 221l2 1 1 -1M660 225l1 -2 -2 -2 -2 -1M577 251l1 -2 -1 -2M698 234l1 1 -2 1M689 265l-1 -2 2 -1M621 232l-2 0 -1 1M702 224l2 2 2 -1M701 266l-2 -1 -0 3 -1 1M616 260l-2 1 -2 -0 1 -2M682 279l-1 -2 -2 -1M723 221l1 2 2 0 2 -2M714 266l-1 -1 -1 2 -0 2M606 268l-2 -0 -1 -1 -1 2M666 235l2 -1 2 0 1 -1M650 254l1 -1 0 2 3 1M705 245l2 1 0 2 1 2M696 235l-2 -1 -2 -0M608 285l-2 1 -2 -0M577 222l-1 2 -2 0M556 236l1 -1 -0 -2M701 301l-1 -1 -2 0 -1 -1M589 214l-0 -2 -1 -1M589 267l-1 1 -2 -1M648 295l2 1 1 2 2 0M660 235l2 1 1 -2 2 -0M571 242l-2 -1 -2 0M719 236l-1 -2 -2 -1 1 -2M662 218l2 1 -0 1 -2 -1M680 292l1 -2 2 0 -1 2M661 269l-1 1 -1 2 2 1M719 227l0 -2 1 -2M692 265l2 -0 0 -3 -2 -1M626 217l-0 -2 1 -2M568 228l1 2 2 0 2 0M626 219l-2 0 -1 -1 -2 1M553 256l2 1 2 -0M706 227l-1 -2 0 -2M635 248l1 -2 2 -1 2 0M667 291l-1 -2 -2 1 -2 -2M711 271l2 -0 -0 -2 -1 -2M672 288l1 -1 2 -2M642 226l1 -1 1 2M644 236l2 -1 1 2 0 2M703 314l-1 -2 2 -1 2 0M559 229l1 0 2 1M678 275l-0 -2 -1 -2M618 221l-0 -2 1 -2 1 -1M706 215l-0 -2 -0 -2 -2 -0M615 260l-1 2 -2 -1M658 234l0 -2 1 -1M699 259l2 0 1 -2 0 -2M685 264l-2 1 -2 -2M621 228l2 -0 2 -0 1 2M556 234l0 -2 -0 -2 0 -2M659 268l0 2 2 -0M606 231l-2 1 -0 2M678 292l1 -2 2 0M703 250l-2 -0 -2 -1 1 -1M662 285l0 -2 2 1 2 -0M556 259l-1 2 -2 -1 -1 2M575 254l2 1 1 -1 1 -2M676 244l1 2 -1 2M700 270l-2 -1 1 -2M687 226l-1 1 -2 0M645 248l1 -2 -0 -2 -0 -2M706 221l1 -2 -2 -2 -2 -1M705 271l2 1 2 1M686 214l3 -0 2 -0M730 222l2 0 2 -1M658 282l0 -2 2 -1 -1 -2M697 243l-2 -0 -0 -2 -2 0M637 251l2 -0 -0 2M668 248l2 -2 2 -0 1 2M649 290l-1 -1 -2 0M606 266l0 2 -1 2 -2 -1M592 252l-0 -2 -1 -1 0 -2M693 299l-0 2 2 2M627 211l2 -0 2 -1 0 -2M665 240l1 -2 2 -1M717 220l2 -1 1 -2M703 254l-2 1 -1 -1 -1 -2M578 258l-2 0 -2 1 -1 1M587 255l-2 -0 -2 0 -2 1M626 257l1 1 2 -0M646 235l2 0 0 -2 1 -2M687 263l1 -1 1 -1 0 -2M636 210l0 -2 2 -1M716 246l2 1 -1 2M634 267l1 1 1 2M642 229l-1 2 -2 -1 0 -3M619 231l-2 1 -1 1 1 1M706 229l-0 2 -2 -0M643 247l0 2 -2 2 -3 -0M727 258l-1 2 -1 2M717 231l0 -2 1 -2M569 256l2 -1 -1 -2M699 262l-2 1 -1 2 -2 1M729 223l1 -2 -1 -2M657 219l0 -2 2 -2M553 255l2 -1 -1 -2M591 217l1 2 -1 2M575 252l1 1 1 2 2 2M716 273l2 -1 2 -0M617 261l0 -2 1 -2 -1 -1M573 240l-2 -0 -0 2M716 245l-2 1 1 2M719 239l2 -1 -0 -2 -1 -2M561 239l2 -1 2 1 1 -2M574 246l-1 2 -1 2M549 250l1 -2 -1 -1 -2 1M642 208l-1 -1 -2 -0 -1 1M609 269l2 -1 2 -0 2 1M647 256l-2 1 -0 2 1 2M641 227l0 2 -2 0M682 278l0 -2 1 -1 1 -2M577 254l2 0 2 0 1 -1M668 269l2 -1 2 -1M579 266l-1 1 -0 2M613 263l-2 1 -2 -1 -2 -1M686 288l-1 2 -2 1 -2 -0M667 290l2 -0 2 0M694 297l1 2 -2 1M695 219l2 1 1 -2 1 -2M652 275l2 -0 1 -1 2 1M644 249l2 -1 0 -2M664 228l1 2 2 -1 2 1M551 256l1 -2 -1 -2M711 221l2 1 2 -0M719 223l0 -2 2 0 1 2M632 211l-0 2 1 2M623 267l-1 -1 1 -2M669 294l1 2 -0 2M588 243l2 -1 1 2M628 228l-1 2 0 2 2 2M629 215l-1 -1 1 -2 1 -1M684 220l1 2 2 -1M701 249l-2 1 -2 0M701 300l-1 2 -0 2 -0 2M662 276l-2 -1 -2 -1 -1 -1M665 286l-2 -2 -2 -0M718 275l1 1 -1 1M707 225l-1 1 -2 -0 -0 -2M589 268l2 0 2 -1M718 226l-1 -2 -1 -3M626 227l2 -2 2 -1 1 1M676 274l-2 1 -1 -1M711 230l-0 2 0 3M694 221l2 -0 1 -1M615 262l0 2 -1 2 0 2M671 218l0 2 2 0 0 -3M585 267l-2 1 0 2M618 223l-2 0 0 -2M587 272l-2 -0 -2 1 -2 -0M647 232l-1 2 -1 2 -2 1M732 266l0 2 2 1M703 258l2 0 1 -1M580 269l0 2 1 2M620 220l1 1 2 2 0 2M696 318l2 0 0 -2 -2 -1M623 278l-2 1 1 2 2 1M641 215l-1 1 -1 -2 -2 1M612 273l2 1 2 1 1 2M552 256l1 -1 2 -1 2 -1M689 226l-2 -1 -2 2M706 244l2 1 1 -1 -2 -1M639 218l-2 -1 -1 2M647 214l-2 2 1 1 2 1M656 263l-0 2 -2 -0M664 287l0 -2 0 -2M684 280l0 -2 -2 -1 -1 2M724 250l1 -1 1 1 0 -1M583 255l0 2 -2 -0M630 229l-1 1 1 2 2 1M574 262l1 -1 -1 -2M705 262l-1 -2 -1 -2 -1 -2M577 263l0 2 1 2 1 2M613 235l1 -2 2 -2 -1 -2M567 245l0 -2 -2 -1M592 258l1 2 -0 2M626 263l-1 -2 -2 0M625 223l1 -1 2 1 2 -1M582 262l-1 -2 1 -1M679 251l1 -1 1 2M711 242l-0 2 -1 2 -1 2M700 245l1 -1 2 1 1 -2M637 252l-1 -2 -2 1 0 2M625 223l2 -1 1 -1 2 1M714 250l-2 0 -1 -1M708 263l-2 2 -1 -2M617 279l-2 1 1 1M664 240l-1 2 -2 1M694 230l-0 2 1 1M560 233l2 0 0 -2M613 238l1 -2 -0 -2M638 254l-0 2 -2 2 -1 -1M706 219l1 1 1 2M683 213l2 -1 2 -0M667 284l2 -1 2 1 1 -2M655 215l0 -2 -2 -1M682 309l1 -2 -1 -2 -2 -2M582 260l0 -2 -2 -1 -2 1M697 305l0 -1 -0 -2M637 225l-1 1 -2 -2 -2 -1M595 247l2 2 -2 2M619 275l-1 2 0 1 -1 2M588 262l-0 2 1 2M666 284l2 -0 2 -1M724 236l2 -1 2 -1 -1 -2M654 285l2 1 0 2 0 2M556 258l2 1 -0 2M706 259l-2 0 -1 -1 2 -2M608 281l-1 -2 -3 0 -2 1M566 237l-1 -1 -2 -1 1 -2M580 216l-1 2 -1 -1 -0 -2M695 234l-1 -2 -1 -1M696 263l1 -1 2 0M655 278l0 2 2 0M607 271l2 -0 1 1 2 -0M719 252l2 -0 -0 -2M620 230l-2 -1 -1 -1 -2 -2M667 230l-2 -0 -2 -1 -2 -1M720 252l0 2 0 2M639 212l-2 -0 -2 1M704 272l-0 2 -2 -1M697 306l1 -2 2 -0M690 301l2 -1 0 -2 0 -2M608 284l-1 -2 -2 0M678 247l-1 -2 2 -1M645 257l-1 -2 0 -2 -0 -2M661 240l2 -1 2 -1M667 246l-2 1 -2 1M669 254l-1 1 -3 -0M718 271l1 -2 1 -2 -1 -2M710 234l-1 1 -2 0M577 269l-1 -1 -2 -1 -0 -2M624 235l2 -1 1 1M625 274l0 -2 -1 -2 0 -2M707 245l-2 -1 -2 1 -1 1M709 264l2 0 1 2 2 0M697 235l-2 -0 -1 2M653 250l1 2 -1 2M689 244l1 2 -0 2 -2 1M556 226l-2 1 1 1M719 235l2 -0 -0 2M652 248l1 1 3 0M676 288l-0 2 -2 -0M664 249l1 1 1 2M712 247l-0 2 -1 2M632 221l3 -0 1 -1M662 230l2 0 2 -0M685 277l-0 2 0 2M688 304l1 -2 2 1 1 1M551 248l2 1 0 2 0 2M648 215l2 -1 -1 -1 -2 1M695 236l1 -2 2 -1 0 -2M639 222l-0 -2 0 -3M681 283l-2 -0 -0 -2M593 265l-2 -1 -2 -2M658 239l1 -1 2 -0M627 227l2 0 -0 2 2 -0M724 238l2 1 2 1M709 297l-0 -2 -2 -1M556 255l-1 2 1 1M583 248l0 -2 2 1 0 -2M584 236l-1 1 2 0 2 0M609 239l2 -1 2 -1M658 293l0 -2 -1 -2 -2 1M655 258l-2 0 -2 0M650 236l-1 -1 -0 -2M581 236l-0 -2 2 -0 1 -2M549 251l-2 0 0 2 -0 2M643 261l-0 2 1 1 2 -0M597 268l2 -0 2 1 -1 2M614 228l-1 1 1 2 2 1M696 224l0 -2 -1 -2 -1 2M561 239l-2 2 1 1M717 268l-2 2 -1 -1M567 237l-1 2 0 2 -1 2M659 248l1 2 1 -1M688 224l-1 1 -2 0M643 209l-1 2 -3 0 -0 2M636 257l1 -1 2 -0 -1 -2M625 222l1 -2 1 -1 1 2M726 259l-2 0 -2 1 -1 1M626 256l1 2 1 1M653 276l-2 -0 -1 2 -2 0M717 278l1 1 -1 2M706 232l-1 -1 1 -1M694 235l-2 -1 -1 -2 -1 1M681 245l2 1 2 -0M695 228l-0 2 -2 -1M549 252l-2 1 -1 -2 -1 -1M652 211l2 -1 2 -1 2 -1M662 230l1 2 0 2M644 213l1 -2 -1 -2M712 266l-0 -3 -2 -0M614 259l-0 -2 0 -3 -1 -1M566 247l-2 1 -2 1 -0 2M550 241l1 1 2 -2M641 217l1 -1 1 2M656 232l-2 1 0 1M605 283l-0 -2 2 -1 0 -2M663 300l-0 -2 0 -2 -2 0M648 290l0 -2 1 -2M549 233l0 2 1 2M706 227l0 -1 -2 -0M622 230l1 2 2 2M663 221l-2 1 -1 -2 2 -0M705 218l0 -2 -1 -1M556 240l2 2 -1 2 -1 1M647 262l2 1 1 2 1 2M615 245l2 -1 0 -2M700 306l-2 0 -2 -1 -1 -2M706 276l-2 -0 -1 2 2 1M621 277l1 -2 2 -1M569 260l2 1 -1 2 -2 -1M688 224l-2 -0 -3 0 -1 -1M655 303l1 -2 -0 -2 -1 -2M717 217l-0 -2 -2 -1M626 269l-2 -0 -1 -1M634 253l-2 2 -1 1M635 255l-2 -0 -2 -0 -1 2M652 302l2 -1 1 -2 -2 -1M684 310l-1 2 -2 -2M636 209l-2 -1 0 -2 -0 -2M677 286l-2 0 -0 -2M715 252l0 2 0 2M718 237l0 -3 2 0M635 239l-1 -1 -0 -2 1 -2M562 253l-2 1 -1 2M685 287l-2 2 -2 -1 -2 -1M673 279l-1 2 2 1 -1 1M708 294l1 -2 2 -0 1 -1M619 235l-1 2 -2 1M684 247l-0 2 -2 0 1 2M593 245l2 -1 2 -2 -1 -2M625 229l-0 2 -0 2 2 0M629 220l0 -2 2 1M629 264l-1 2 -2 0 -1 1M657 304l-2 0 -1 1M592 220l-1 -1 -2 -1 -2 1M653 292l-2 1 -0 -2 2 -1M629 260l-1 1 -1 -1M650 295l-2 2 -1 2 -2 1M594 220l-0 2 2 0 1 -1M578 220l-2 1 1 2M683 212l0 2 2 1M653 291l1 2 -2 2M544 247l3 0 -1 2M705 311l-1 2 -0 2M581 253l-1 -2 -3 0 -2 1M576 261l2 1 2 0 1 1M705 233l-2 0 0 -2M625 227l0 -3 -2 0 -2 -0M699 239l1 -1 1 1M687 212l2 1 2 1M559 237l-2 -1 -2 -1 -1 1M675 277l-2 -1 -2 -0M664 281l2 -1 1 -1M684 288l-0 -2 -2 -1M594 215l1 2 2 0M718 278l2 -2 1 -2M584 222l-1 2 -2 -1 -2 1M565 235l0 -2 1 1M574 221l2 2 -1 2 -1 1M660 242l-1 -2 -1 2M553 241l1 -1 1 -1 2 1M584 248l1 -2 2 1M589 255l-2 -2 2 -1M619 262l2 1 2 -2 -1 -2M705 251l-2 1 1 1M664 234l-2 -1 -0 -2M581 237l-2 -0 -2 2 -2 0M641 239l-1 -1 1 -2 -0 -2M566 251l-2 1 -1 2M675 243l-0 -2 -2 -1 -1 -2M636 223l-2 1 -2 1 1 2M551 234l-1 -1 -1 -2M609 277l0 2 2 -0M703 314l-0 2 -2 1M673 269l2 0 1 -2M695 243l0 -2 0 -2M698 241l-2 -0 -0 2 -2 0M704 263l-1 -1 2 -2M643 263l-1 2 -2 0 0 -2M725 261l2 1 -2 2 1 2M700 267l-1 -2 -0 -2 -1 -1M609 292l0 2 -2 -0 -1 -2M704 263l1 -2 1 -2 -2 -2M633 216l-2 -1 -2 -1 -1 1M642 249l2 -1 2 -1 1 -2M653 236l-1 -2 -2 0M654 277l-0 2 2 1M580 217l-1 1 -2 1M670 274l-2 0 -1 1M699 230l-1 -1 2 -2M656 262l2 0 2 1M618 250l-0 2 1 2 2 0M696 315l1 1 1 -1M681 286l1 -1 2 2 1 0M639 255l-3 -0 -2 -1 -0 -2M577 245l-1 1 2 1M666 227l0 2 -1 1M656 259l1 1 -1 2M669 276l-1 -1 0 -1 2 -1M619 218l1 -1 -0 -2M574 268l1 0 -0 2 -2 -0M725 254l0 2 -1 2 -2 1M668 282l-1 2 -2 1 -1 -2M666 272l2 0 1 -1M682 221l-2 1 0 2 -1 1M583 243l-1 1 -0 2M717 235l-1 2 1 2M728 263l-2 0 -1 1M608 274l-1 -2 -2 0 -2 -0M681 217l2 0 1 -2 0 -2M693 234l-0 2 2 -0 -0 -2M615 278l2 1 1 2 -1 1M689 222l0 -2 2 -1M697 264l-2 0 -1 -2M688 221l2 1 2 1 0 -2M711 239l-1 1 0 2M688 236l2 2 2 1 1 -2M706 251l-1 2 2 1M729 256l-1 -2 2 -1 2 0M648 243l1 -2 -2 -0 -0 2M569 238l3 -0 1 2 2 1M560 253l2 -1 1 -1M618 264l-1 2 -2 1 -1 1M584 247l-2 2 -2 -0M639 217l-2 -1 -0 -2M590 245l1 -2 2 1M640 263l0 2 -2 1 -0 2M641 259l1 -2 1 -1 1 -1M728 250l-2 1 -2 1 -2 -1M623 271l-1 2 -0 2 -1 1M688 241l-1 -1 1 -1M594 272l-2 0 -2 0M652 260l-1 -2 -2 -1 -2 -0M628 283l0 -2 1 -1M701 223l-2 1 -2 -1 -2 0M641 211l0 -2 2 -1 2 -0M634 221l1 2 -2 1M712 269l1 2 -2 1M690 240l1 2 1 1 -1 2M691 225l-1 2 1 1M661 247l-2 -1 -1 -1 -2 -1M664 299l-2 -0 0 -2 -2 -1M694 308l-2 -1 -2 1 -2 -1M604 238l2 -1 1 -1M549 229l-1 -1 0 -2 1 -1M697 236l2 -0 1 -1M664 228l-2 1 -1 1M731 260l-2 1 -2 2M573 253l-1 2 -2 1M560 232l-1 2 -1 2 -2 -0M589 268l-2 1 -1 -2 -2 0M585 244l2 0 1 -1M622 216l-1 2 2 0 -0 2M574 265l-0 2 2 1 0 2M697 217l-2 -0 -2 -1M674 248l-2 1 -1 2M685 308l1 2 1 2M694 210l1 -2 -1 -2 -2 -0M658 216l1 2 2 0M636 216l0 2 -1 1M709 218l2 -1 1 0 -0 2M647 290l1 -2 2 1 1 -2M733 260l-2 1 0 2M662 231l-2 1 0 2 1 2M641 219l2 1 2 -1 2 0M620 263l-0 -2 1 -2 -1 -2M716 225l-1 2 -2 2M591 255l1 1 2 -0 2 -1M648 213l1 2 -2 0 -2 0M713 272l-1 -2 2 -0 1 1M684 308l1 1 2 -1 -0 -2M675 249l1 2 -0 2M658 247l-2 -1 -2 1M708 247l-2 1 0 2M564 227l2 -0 1 -2 2 0M589 256l-1 -2 2 -2 2 -2M682 282l2 -1 1 -1 -1 -1M547 247l1 2 1 1 2 2M620 278l-1 -2 -2 -1M602 239l-2 -0 -1 1M724 252l-1 -1 -2 -1 1 -2M665 243l1 -1 2 1M655 263l-1 2 -1 2 -1 1M593 250l-0 -2 -3 -0M595 266l0 -2 -2 -1 -2 -0M688 238l0 -2 1 -1 2 -1M647 293l2 -0 0 -2M559 255l-0 -2 -1 -2M633 216l2 1 -2 2M650 240l-1 1 -1 1 -1 2M614 257l-1 -1 -1 -2 -2 0M547 251l-2 -1 1 -2M551 238l2 1 0 -2M678 278l1 2 2 0M635 267l-2 0 -1 2 -1 2M549 233l-1 1 -0 2M662 227l1 -1 2 -0 -1 -2M671 242l1 -2 1 -2 -1 -2M561 244l-3 -0 1 -2M699 219l-2 -1 -1 -2 -1 -2M645 215l-2 -0 -0 -2 -1 1M659 232l-1 2 1 1M659 219l-1 2 -1 1 0 2M682 294l-2 0 -2 1M614 262l-2 -2 -1 -2M710 252l2 0 2 -0M604 230l-1 2 -1 -2M568 246l1 -2 1 -2 -0 -2M638 260l-0 2 2 2 1 2M638 227l-2 1 -1 -2M671 271l2 -1 2 1M683 308l0 -2 -2 0M695 224l2 2 2 -1M713 274l2 -1 -1 -2M582 240l-2 -2 -2 1 -1 1M646 255l-0 2 -2 1 -1 2M633 256l2 1 2 0 3 -0M694 227l0 -2 1 -2 -1 -2M712 229l-1 2 -2 2 1 2M545 238l-1 2 -2 -1M665 269l-1 2 1 2 1 2M626 275l2 -2 1 -1 -1 -1M691 244l-2 -1 1 -1M641 239l1 -2 -0 -2 -2 -0M697 249l1 -2 1 -2 -0 -2M614 275l-1 -1 -1 -2M694 225l-2 -1 1 -2M582 256l-2 0 1 2 -2 1M568 250l-3 0 -0 -2M698 268l-1 -2 2 -1 1 2M558 236l2 1 1 -2M651 212l-2 0 -1 1M607 236l1 2 2 1M655 271l-2 1 0 2 -1 1M648 256l-2 2 -1 2M703 270l-2 -1 -1 -1M575 262l-1 1 -1 -1M721 236l-0 -2 -1 -1M557 258l-2 1 -1 2M561 247l-1 1 1 1M722 258l1 -2 1 -2 2 -1M647 251l1 2 1 2 0 2M606 232l-0 -2 2 -1M668 232l1 2 2 1 1 -2M707 310l2 1 2 1 1 -2M659 235l1 2 0 2 0 2M695 235l-1 -2 -1 -2M589 269l1 1 0 2 2 1M709 230l1 2 2 0 -1 2M623 271l-2 -0 -2 -0 -2 0M596 241l2 2 -2 2M664 249l1 2 2 1 2 1M704 254l-2 1 -1 2M579 253l2 -0 -0 -2M640 230l-2 0 -2 -1 -1 0M630 262l2 -1 -1 -2M705 244l-2 -1 -2 1 0 2M706 227l-2 -2 2 -1 2 -0M586 265l2 -1 2 1M707 310l1 -2 1 -1 1 -2M578 240l0 2 -2 1 -1 -1M705 217l-1 -1 1 -2M649 238l1 0 2 0M703 258l-1 1 -1 2 -1 2M683 239l0 2 0 2 1 0M626 273l-0 -2 -1 -2 0 -2M575 247l-1 -2 -2 1M608 236l1 -1 0 -2 -2 -1M704 242l-1 2 -2 -1 -0 2M616 242l0 -2 2 -0 1 -1M703 236l-1 -2 1 -1 -0 -2M719 274l2 -0 -1 -2M554 236l-0 3 2 2M691 316l2 0 2 -1M577 218l1 1 2 1M730 223l2 0 1 -2 -0 -2M577 246l0 2 2 1M662 297l2 1 1 -1M684 243l-2 1 -0 2 -1 2M722 255l0 2 -2 0M656 300l-1 2 2 1M691 217l-1 -2 -2 -1M583 214l-0 -2 0 -2 1 -2M669 270l-2 -1 -2 -0 -2 0M592 248l-1 -1 -1 1 -2 0M694 245l-1 1 -1 -1 -2 1M652 262l2 -1 -1 -1 -2 -1M683 239l-1 1 -2 -1 -1 2M648 241l2 -0 -1 -2M621 255l-2 -1 0 -2M701 254l-2 -1 -1 2M576 241l-2 -1 -2 0M553 255l-1 2 1 2M657 299l1 1 2 1 2 -0M706 249l-1 2 -2 -0 -0 2M633 256l-2 1 -0 3 -1 1M656 281l2 -1 -1 -2 -1 1M581 253l2 1 2 -1M615 274l-0 2 -2 1M706 296l-2 -0 -2 -1M554 238l0 -2 1 -1M580 245l-2 0 -2 -1M680 285l-1 2 -2 1 -2 -0M652 284l-2 0 -1 2M661 230l-1 -2 -1 1 -2 2M721 217l0 2 -1 2 -2 1M657 234l-2 0 -0 -2 -0 -2M575 259l1 2 0 2 -2 0M663 269l2 -2 1 -2M724 230l-2 -0 -2 1 -1 -2M696 306l2 -0 -1 -2M716 239l2 1 1 -2M615 230l1 1 -0 2 -0 2M609 286l-1 2 -2 1 -2 1M637 255l-0 -3 1 -1M593 263l0 -2 2 -1 2 1M567 252l2 -1 0 -2M680 280l-2 1 0 2 -2 1M587 236l-2 2 1 1M616 245l-0 2 1 2M713 272l2 -0 0 -2M624 276l-0 2 -1 1M593 247l2 1 2 1 1 2M675 292l0 -2 -2 0 -0 2M630 222l-1 -2 -2 -1 -2 -1M638 245l1 1 1 1 -0 2M672 291l2 -1 -1 -1M607 266l-0 -2 -0 -2 -2 0M577 238l2 1 -1 2 -0 2M613 225l-2 -1 -2 1 -0 2M585 255l-0 2 -1 2 0 2M697 259l2 0 -1 2 -2 -1M563 249l-2 -1 -1 1 -1 2M587 254l1 -1 2 -1 -1 -2M618 248l-2 2 -2 1 0 2M573 244l-2 0 -1 1 -2 0M664 269l-0 -2 0 -2M555 254l1 0 1 1M705 274l1 -2 2 0M629 216l-1 -1 -2 -2 0 -2M579 266l-1 1 -2 0 -1 2M719 231l-0 -2 0 -2M629 271l0 2 -2 2M560 248l-1 -1 -2 -0 -2 0M619 219l-1 1 -1 2 -1 1M686 218l-0 2 2 1 2 1M643 232l-2 0 -1 -1 -1 -2M550 255l-1 -1 -2 1 -1 1M550 248l-2 1 -0 2M677 244l1 -1 2 0M700 257l2 -1 -0 -2M726 234l0 2 -1 2M631 222l-1 2 2 0M665 244l-1 -2 -2 -0M730 260l-2 0 0 -2 -2 -1M725 227l-2 -0 -1 -2 -1 -1M698 258l-2 1 -2 -1 1 -2M665 296l1 1 -1 2 -2 -1M728 223l-2 -1 -2 -2M725 231l0 2 1 2M685 288l-2 -0 -1 2 1 1M566 241l-0 -2 -0 -2M598 281l2 1 1 1M697 258l-1 2 1 1 0 2M730 225l-2 -1 1 -2 -1 -1M545 234l-0 -1 -2 0 -1 2M575 258l0 2 -2 0 -0 -2M659 226l2 1 3 -0M645 247l-2 -0 -2 -0M577 238l1 1 2 -1M609 285l-2 -1 -0 2 -2 -0M667 277l-1 2 -1 1 1 1M654 277l-2 2 -2 1M610 234l-1 -2 -2 -1 0 -2M693 226l-2 -1 -1 -2M571 250l2 0 0 2M573 258l1 -1 2 0 1 2M646 221l1 -1 0 -2 -1 -1M602 286l-2 0 0 -2M652 263l-2 -1 -1 2 -2 -1M602 265l1 2 2 -1 1 1M679 292l-1 -1 -1 -2M691 233l-0 2 -2 -1 -2 1M665 294l0 2 2 -0M711 243l-2 1 -1 2 -2 -0M669 232l1 -2 2 1 0 2M585 228l0 2 2 0M579 246l1 -1 2 -2M708 249l-1 -1 -2 -1M690 262l-2 1 -1 -1M624 222l-2 -1 -0 -2 -2 -1M547 252l2 -1 1 -2M710 231l2 -0 2 -2 1 2M634 247l0 -2 -2 -1M588 268l-2 1 -1 1M626 278l-1 0 -2 -1 -2 0M706 218l-2 -1 -2 0M686 244l2 -1 1 1M622 229l1 -2 1 -1M577 223l1 -2 2 1M669 256l0 -2 2 0 2 0M554 253l-2 0 1 -2 1 -2M565 233l-2 -1 -2 0M566 244l-2 -1 -1 -1M622 228l1 -1 2 -1 -0 -2M577 265l-1 2 -2 1 0 2M680 273l-1 2 -2 2M648 249l-1 1 -0 2M719 233l2 -0 2 2 1 1M605 286l-1 -1 -1 -2M674 284l1 1 2 -0 2 -1M712 233l-2 1 -2 1M576 242l1 -1 1 -1M624 278l2 2 1 1 2 -2M686 262l-1 1 1 2 1 1M581 223l-1 1 -0 2M649 236l-2 -1 -0 2M573 253l-2 0 0 -2M586 230l0 -2 2 0M614 275l-0 2 0 2M672 217l1 -2 3 0M670 243l2 0 2 1 1 2M691 244l-2 -1 -2 1M687 265l-0 -2 2 -1M593 252l2 -0 3 0M641 215l-1 -1 1 -2M728 237l-1 2 -2 1M724 249l-2 -1 -2 -2 1 -2M686 265l-1 1 -2 -1M721 251l-0 2 1 2M661 284l-3 -0 -2 -0 -2 -2M721 247l-2 -1 -2 1M589 244l2 -0 2 -1 0 -2M553 254l1 2 2 1 1 1M704 234l-2 1 -2 -2M645 249l1 -2 2 1M635 216l-2 2 2 1M545 242l-2 -2 -2 -1M642 266l2 1 2 0 1 2M625 254l1 -1 1 2M702 253l-2 0 -1 -1 -2 1M588 250l-2 -1 0 -2M635 209l-1 2 -1 1M629 217l1 2 1 1 2 1M726 273l-2 1 1 2 2 2M626 272l1 1 -2 1M636 226l-0 -2 1 -2 1 -1M582 255l-2 -0 -2 -0M658 255l-0 -2 2 -1M677 283l-2 -0 -1 1 0 2M588 221l-0 1 -0 2 -2 0M577 260l1 2 2 -1 -1 -1M663 237l-1 2 -2 -0M645 213l-2 0 -2 -2M605 286l-1 2 -2 -1 -1 -1M586 249l-1 -1 -2 -1M636 253l-2 -1 -1 2M679 241l-2 2 -1 1 -2 -1M650 245l-2 -2 -2 -1 0 -2M631 258l-0 -2 -2 -0M628 232l1 2 0 2M712 267l-2 1 -0 -2 -2 -1M628 273l2 0 1 -1 2 1M696 316l-1 2 -1 2 -2 -1M642 224l2 1 -1 2M647 260l-0 2 -2 0M724 217l1 2 0 2 -3 -0M700 213l2 -0 1 2 2 -1M602 236l-1 -2 -1 -2M567 234l-2 -0 -1 -1 -2 -1M583 241l-2 -0 -3 -0 -1 -2M685 313l-2 1 -2 -1M669 308l-2 -1 -1 2 -1 2M642 226l1 2 -1 2 -1 2M578 265l-1 1 0 2 -1 2M653 300l-2 -0 -0 2 -2 1M721 255l1 2 2 1M619 232l1 -1 -1 -1M726 275l1 2 2 0M640 266l2 1 2 -0 1 -1M607 266l1 -2 2 -2 1 -1M670 245l-1 -1 -1 2M664 274l-1 -2 -2 1 -1 -2M594 242l1 -2 2 1M622 225l1 -2 -2 -0 -2 1M649 278l-1 2 -2 0M660 272l1 2 -1 2M612 271l-0 2 -2 -1 1 -2M619 250l0 -2 -2 -0 -0 -2M655 218l1 1 1 1 2 -1M656 216l1 1 1 -2 -1 -2M703 245l-2 0 -2 1 -2 -1M673 236l-0 -2 2 0M702 234l1 -2 2 -1M678 246l2 -1 1 2 1 -1M685 307l-0 -2 1 -2M718 237l2 -1 2 0 1 1M716 239l-1 1 0 2M650 248l-0 -2 2 0M667 222l-0 -2 -2 1 -1 1M656 249l1 -1 1 1M691 226l-1 -2 -1 -1 -2 2M644 264l2 0 2 0M732 229l1 1 1 2M628 226l-1 -1 2 -1 0 -2M717 220l-2 1 -1 1M589 240l2 1 2 1 0 -2M608 229l-2 -0 -1 1M717 241l-2 2 -1 -2M584 231l2 -2 2 1 0 2M665 235l1 -1 -2 -1 -2 0M656 299l-1 -1 -2 1 -2 1M608 234l1 2 -1 2M635 218l1 1 1 -1 -1 -2M706 273l2 -0 2 1 -0 2M646 265l2 -0 1 2 -1 2M643 235l2 0 1 2M630 211l-0 -2 2 -0 1 1M676 286l1 -2 2 1M675 280l-0 -2 1 -2 -0 -2M692 230l1 1 1 2M568 261l1 2 1 2 2 0M647 239l-2 -1 -2 1 -1 -1M568 247l-2 -1 -1 -1M623 232l-2 0 -2 -0 -1 1M701 228l1 -2 2 -0 1 -2M585 256l1 1 -2 1M572 222l-1 2 2 1M715 239l2 -1 2 1 1 -1M564 231l-1 -2 2 -1 0 2M638 211l2 -1 2 1 2 -1M609 275l-1 2 -1 2M560 249l-2 -0 -2 -2 -1 -1M662 231l-0 2 0 2 2 -0M552 238l-1 -2 -0 -2 -2 -0M668 238l-2 1 -2 0M569 255l-2 -1 2 -1 -2 -2M659 230l-0 2 -2 -1 -0 -2M589 226l0 -2 -2 1 -0 2M707 275l2 1 2 -1 2 0M681 285l-1 2 -1 2 -2 1M732 262l1 2 2 1M638 255l2 0 2 -1M578 266l1 -2 -1 -0 -1 -1M560 253l1 1 1 2 2 -0M564 250l1 -1 2 2 -1 1M689 219l-2 -1 -2 1 1 2M721 252l-1 -2 1 -1 2 1M609 280l1 -2 2 -0 1 -2M713 221l3 0 0 2M603 233l2 -1 -1 -2M625 214l-0 2 -2 -1M667 304l-0 -3 1 -1 -1 -1M586 243l-2 0 -0 2 -2 1M606 268l2 1 1 2 2 -1M627 218l1 -2 -2 -0 -1 -1M631 261l-1 2 1 2 -1 2M614 251l1 -2 1 -2M689 315l-1 2 0 2 1 2M632 213l-2 -1 -2 -1M699 302l-1 2 -2 0 -0 2M563 240l1 1 -0 3 -0 2M666 291l-0 1 -1 2 -2 1M636 219l1 -1 1 2 1 2M622 274l2 1 1 2 -2 0M639 219l-0 -2 -1 1M700 253l1 2 0 2 1 2M612 263l-1 -1 -2 -2M651 212l2 -1 0 -2 -1 -2M609 273l-0 2 -2 1 -1 -1M714 219l1 -1 2 1 2 0M659 237l-2 -0 -1 2M682 302l-1 2 -2 1 -1 -1M672 276l1 -1 1 1M712 236l-2 -1 -2 -1 -2 1M611 269l-1 1 -1 2 -1 2M713 224l-1 -2 2 -1M650 285l2 -0 0 -2 2 1M586 252l-3 0 -1 -1 -2 2M607 238l-1 -2 -0 -2M555 239l-2 0 0 -2M591 266l2 0 1 -2M695 265l0 2 -2 0 1 1M641 231l-0 2 -2 1 -2 -0M634 221l1 2 2 0M693 316l1 2 2 -1 0 2M711 236l-2 0 -2 -1M709 270l1 -2 0 -2M683 280l-0 2 2 1 2 0M683 303l3 -0 0 2 0 2M706 222l-1 1 -1 -1 -1 -2M544 247l1 -0 2 -1 1 -1M689 215l0 2 -1 1 -2 0M655 291l-2 -1 -2 1 1 2M728 235l-0 2 2 0 1 -2M641 222l1 -1 1 1M653 237l1 2 -0 2M581 246l2 1 1 1M550 239l0 -2 2 -0 2 -1M566 245l-2 1 -2 1 0 2M676 246l-0 2 -1 2M622 279l1 2 2 1M717 221l-1 -2 -2 -0 -2 1M579 244l2 0 1 -2M704 306l-2 -2 -1 2M561 254l2 -1 1 2M645 247l0 -2 3 -0M704 272l-1 2 -0 2 -2 1M643 265l0 -2 0 -2 -2 -2M646 214l-2 -2 -2 1M623 270l-0 2 -0 2 2 0M585 232l2 1 0 2M668 233l0 2 -1 2 1 1M697 246l-2 -1 -1 2M705 274l0 -3 -2 -0 0 -2M692 242l-1 -1 -1 -1M549 251l0 -2 -1 -1M550 228l1 2 -1 2 -1 -1M614 228l1 1 -2 1 -1 -1M550 244l-0 -2 2 -1 0 -2M655 260l-0 1 2 1M557 255l1 -0 -0 2 -2 0M591 250l-2 0 -0 3M556 253l1 -1 1 -2 1 -1M704 245l-0 -3 2 -0 1 -1M680 273l2 2 2 -0 2 1M645 209l-1 -2 1 -2 2 0M551 242l0 2 -2 1M593 250l-0 -2 1 -2M657 303l1 1 0 2 1 1M643 249l-0 2 1 2 1 2M663 223l0 2 -0 2 2 -0M584 250l-3 0 -2 1M663 303l-1 -1 -1 -1 1 -2M638 265l1 2 1 1 -1 2M643 259l2 2 -1 2 -0 2M588 259l-0 -2 1 -2M624 268l1 -1 -2 -1 -1 1M661 301l1 2 -2 1 -2 1M698 306l-2 -0 -1 2 -2 1M607 237l1 2 2 -1 2 0M616 240l2 1 0 2 -1 2M576 267l-0 -2 -0 -2M622 226l-1 -1 -2 -1 -3 -0M575 266l-1 2 -2 0M618 263l-2 0 -1 -1 -2 1M678 243l1 -2 -0 -2M616 261l1 -1 1 -1M556 256l2 1 2 -0M706 257l2 -0 0 -2M674 243l1 -1 -1 -2M613 251l-1 -2 -0 -2 -1 -2M589 224l-2 0 -1 1 -1 2M667 225l-1 -2 -1 -1 1 -2M654 301l2 1 2 1 -1 2M673 250l-2 1 -1 -2 -1 -2M685 214l1 -2 -2 -1 -1 2M557 241l2 -0 2 -2M562 258l2 2 -1 1M687 213l0 3 0 2 -2 -0M664 235l1 2 -1 2M686 310l2 1 1 -2 0 -2M681 292l-2 -1 -3 0M592 244l-0 3 2 1M727 230l1 2 0 2M582 243l1 1 3 0M698 258l-0 2 3 -0 3 0M636 226l2 1 -1 2M568 224l1 -2 -2 -1 -0 -2M553 246l-0 -2 1 -1 2 0M649 281l1 1 1 -2 -0 -2M575 223l-2 -1 -1 1M665 292l2 1 -1 1M561 230l-1 -1 2 -1 -1 -2M565 228l-1 1 -2 -1 -2 1M656 260l-2 1 -1 1M605 267l-2 -0 -0 2 -2 1M706 275l0 -2 -1 -2 -1 -1M725 223l2 -1 1 -2 -0 -2M699 237l-2 1 -2 -1 -2 -1M718 227l-2 -0 -2 -2M721 256l-0 -2 2 -1M553 231l-1 -2 -0 -2M687 243l2 1 1 -1M650 288l-1 -2 -2 -1 -2 -0M628 226l-2 1 -1 1M677 274l-1 1 -2 1 -2 2M614 250l-2 0 -2 -0 -2 -0M701 241l-1 2 2 -0M590 223l-0 2 -2 -0M639 241l-1 1 -1 -2 -2 0M589 249l-0 -2 -2 -1 1 -2M606 241l-1 1 -2 -0M626 262l-2 -1 -2 -1M640 237l2 -1 2 -0M624 254l-1 1 -1 1M702 314l-2 1 -1 -1M603 231l-2 -1 -1 2M723 226l-1 -1 -2 -1M630 263l1 1 -0 2 2 0M572 222l-1 2 1 2M668 249l-1 1 -1 2 0 2M666 238l0 2 2 0 1 2M567 244l1 1 2 -1M706 269l-2 -0 -0 -2M614 256l1 -2 -2 -1 -2 1M713 218l1 2 -1 2 -2 1M578 242l0 -2 2 -0M706 265l-2 -1 0 -3 -1 -2M621 271l-2 0 -1 -2 1 -2M610 233l1 1 2 1M636 209l-1 -2 -1 -1 -0 -2M628 267l2 1 1 -1M713 227l-0 2 0 2 -0 2M669 288l-2 -1 -1 -2M599 283l1 -2 1 1M562 224l2 1 1 -2 1 -2M661 225l2 2 2 -1 1 -1M696 234l-2 0 -0 -2 1 -2M575 262l2 0 1 2 1 -1M627 217l2 -0 -0 2 -2 0M680 241l-1 -2 1 -1M684 299l1 1 1 -1M727 221l-2 0 -1 2M583 239l2 2 1 2M630 262l2 0 -0 2 -1 2M629 222l0 -2 2 -1 2 -0M720 251l1 1 2 -0 -1 -2M597 265l2 1 1 1 1 -2M596 225l-2 0 -2 -1 -2 -0M602 239l-1 2 -0 2 -2 0M687 265l1 -1 -1 -2 1 -2M618 231l-1 1 1 2M679 239l-1 -2 -2 -0 -2 1M702 251l-2 2 1 2 2 0M637 256l2 0 1 2M670 287l-2 -2 -2 0 -0 2M645 221l2 1 0 -2 -1 -1M593 261l2 1 -1 1M714 243l-1 -1 1 -1M671 245l-0 -3 2 -1 1 2M586 249l2 1 2 -1 2 -1M588 241l-0 2 1 1 -1 1M716 231l1 1 1 1 -0 2M712 251l-0 2 2 1 1 -1M662 233l1 2 2 1 -0 2M595 218l0 2 2 -0 1 -1M708 243l-1 -1 -2 -2M702 215l2 1 2 -0M694 314l-2 1 -1 -2 -1 1M695 299l-2 0 -2 0M700 239l-1 1 -0 2 -2 1M584 258l1 1 1 2 1 2M628 224l1 1 -1 2M655 232l2 2 -1 2M585 268l-1 -2 -1 -2 -2 1M717 227l-0 1 -2 -0M626 276l-2 1 -1 -2 -1 -2M610 239l-2 1 -0 2 -1 1M638 216l-2 0 -2 -1 -0 -2M608 275l-1 2 1 1M644 245l-1 2 -0 2M648 255l1 2 1 -1M664 229l-2 -0 1 -2 -2 -0M596 266l-2 -0 0 2M678 242l1 2 0 2M645 228l2 -1 -1 -1M681 280l-2 2 -2 -2 1 -2M653 262l1 1 0 2M631 219l-0 -2 2 -1 2 -0M692 233l2 1 1 1 2 1M654 283l-1 1 -2 1M583 234l-2 -2 -2 0 0 2M683 286l-1 -2 -2 -2M679 290l-2 -2 1 -2M586 249l-1 -2 -2 0 -2 -0M705 248l2 0 1 2 2 2M705 247l-2 -0 -0 2 -2 1M665 275l1 -1 2 0M591 252l1 -2 -0 -2 -2 0M605 231l-2 1 -1 -2 -0 -2M664 289l2 1 2 -1M629 228l-1 2 -1 2 0 2M546 242l-0 -2 -2 1 -2 1M638 212l-2 -0 -0 -2 -2 0M594 247l-0 2 -2 -1M719 221l-1 -2 -1 2M650 282l-1 2 2 1 1 -2M572 245l1 3 1 2M726 258l1 1 -1 2 -2 -1M589 269l-2 0 -1 2 1 1M720 275l1 -2 -2 -0M624 228l2 -1 2 0 1 -2M583 221l-2 -2 -1 1M692 234l-1 2 -2 1M618 236l1 1 2 1 2 -1M669 285l-2 1 -1 1M636 217l-2 0 -2 2 -1 1M658 246l-3 -0 -1 2 -1 1M680 270l-2 -1 -0 -2M660 249l-1 2 -2 -1M659 226l2 1 -0 2M682 242l-2 1 1 2 -2 1M543 238l1 2 -2 1M704 310l2 -2 3 -0M658 279l2 -0 2 -1 2 1M662 235l1 2 2 -1M637 262l-2 -1 -2 -0 0 2M588 252l2 -0 2 1 0 2M568 225l2 -1 2 -0 1 -2M558 239l1 -2 -2 -1 -2 0M633 217l2 -0 0 2M687 223l2 -0 1 -2 2 -1M622 257l-0 2 1 2M560 230l1 -2 -1 -2 -1 -1M701 316l1 -2 -2 -1 -1 1M637 239l-2 1 -2 1M677 249l-2 1 1 2M713 246l-1 -1 0 -2 2 0M562 231l-2 0 -2 1 -2 -0M659 270l-2 1 -2 0 -0 2M612 263l-2 -1 -2 -1 -1 1M584 239l-2 1 -1 2 2 1M708 265l-2 1 -2 -0 0 -2M630 223l-1 2 -2 -1 -1 -1M644 212l0 2 -1 2M704 272l-1 -2 2 -0 2 1M686 211l0 -2 2 -1 2 -1M553 228l-2 -1 -0 -2 -2 -0M677 246l2 -1 2 1 2 2M696 258l-0 2 1 2 2 -1M563 242l1 2 -2 0M587 249l2 1 2 -1M613 258l-1 -1 -1 1M631 229l2 0 1 -1M556 226l1 2 0 2 -1 2M698 305l-0 -2 1 -2M723 228l-2 1 1 1 -2 1M611 273l2 1 1 -1 2 -1M623 219l-1 0 -1 2 -1 2M614 237l-1 1 -1 2M635 259l1 1 -0 2M574 256l0 3 -2 1 -1 -1M689 214l-1 2 -1 2M620 265l-1 2 -0 2M650 263l2 -0 1 1 2 -1M629 273l1 -2 2 0M653 259l-2 2 -2 -1M698 260l2 -1 2 -1M603 282l-2 -1 0 -2M706 226l2 1 2 -1 2 1M686 261l0 2 1 1 2 1M590 248l-0 2 2 1M630 237l-0 2 2 1 -1 2M622 263l1 -1 1 2M636 266l1 -2 -1 -2M667 309l-2 1 -2 2M586 260l-1 -1 -2 -0M667 238l-2 2 -1 -1 -2 -1M672 240l-0 2 1 1 2 -0M559 256l2 -0 2 0 0 2M652 258l0 -2 2 0" stroke="#38F038" stroke-width="1.1" fill="none" stroke-linecap="round" stroke-linejoin="round"/><path d="M898 184l2 -0 1 -2M775 198l-2 -1 -2 -0 -1 -1M706 213l1 2 2 -1 2 1M714 200l-2 -2 -2 1M791 134l-2 1 -2 1M712 203l-2 1 -0 2 2 -0M737 179l-1 -2 0 -1 0 -2M868 185l1 -1 1 1 2 -1M807 167l-2 2 -2 1 1 1M894 180l0 2 -0 2 1 2M798 101l-2 1 -1 2 -1 1M735 153l-0 -2 -2 1 -2 -1M784 98l-2 1 0 2M878 188l1 1 0 1 2 -0M719 243l2 -2 -2 -1 -2 -1M716 226l-0 2 3 0 1 1M748 200l-2 0 -0 -2M904 168l-1 1 -1 -1 -2 -1M725 185l2 -1 2 0 -1 2M760 142l2 1 -0 2 -2 2M738 197l-1 -2 1 -2M795 135l2 -0 1 -1M889 140l2 1 1 -2 1 1M765 161l-2 -1 -1 1 -2 1M714 260l-1 -2 -0 -2 -2 -1M810 115l-2 1 -0 2 -1 1M850 200l-2 -2 0 -2 -2 -1M797 142l0 -2 2 -0 3 -0M842 194l1 2 2 1M812 125l1 0 0 2 -2 0M843 147l-1 -1 0 -2M800 187l2 -1 2 0M771 136l-2 1 -2 -1 0 -2M881 171l-1 -2 2 -2M800 99l-2 0 -1 -1 -2 -1M793 129l1 2 2 -1 1 -1M876 166l1 -1 2 -2M886 137l-0 2 2 0 1 2M865 176l-1 1 0 3M788 111l1 -2 1 -2M804 153l2 -1 0 1 2 1M731 224l2 1 2 0 1 2M752 125l1 -1 -1 -2 1 -1M763 200l2 0 1 2M774 108l1 -1 1 -2M739 215l2 -0 1 -2M810 128l2 2 2 -2M841 114l-2 -1 0 -2 2 1M776 115l0 2 -2 2M806 139l2 0 1 -1M810 168l2 -1 1 -2 2 1M714 221l0 2 2 1 2 0M856 145l-0 2 -0 2 1 1M869 206l-2 1 0 3 1 1M830 121l0 -2 0 -3M812 111l1 2 2 -1 2 -0M891 177l1 -2 -0 -2 -2 -0M790 144l-1 1 2 1M743 175l-1 2 -1 2 -2 1M715 212l-1 2 1 1 -1 2M752 261l-1 1 -1 2 -2 -1M845 115l-2 2 -2 -0M756 193l-0 2 2 1M859 126l-2 -1 -2 -1M721 157l0 -2 -2 -1M707 191l2 1 2 2 2 1M726 175l2 0 1 -2 2 0M705 266l1 -1 -1 -2M845 143l-1 2 -0 2 1 2M771 200l1 -2 -1 -1 -1 -2M767 208l-0 -2 1 -1 2 -0M826 146l-1 -2 -2 -0M886 170l-2 1 -1 2 -2 -1M716 182l1 1 1 -2M892 172l2 -0 1 -2 -1 -1M885 170l-1 -1 -2 1 -2 1M788 112l-2 1 -2 -1M714 211l1 1 2 0M897 187l-0 2 -2 -0M772 186l1 -2 2 1M764 138l-2 -0 -1 1M768 104l-2 -1 -1 -1M846 133l-0 -2 0 -2M775 109l-2 -0 -0 -2M908 156l-0 2 -2 0M763 156l-2 -0 -2 -0M713 228l-1 2 -2 -0 -1 1M817 139l-1 -2 -2 0 -2 0M851 201l2 -1 -1 -2M753 179l3 -0 2 -0 1 -2M734 195l2 1 2 -1M766 115l0 2 0 2M833 132l-0 -2 -1 -1M854 180l-0 2 2 0 2 2M754 217l0 2 2 -0 -1 -2M830 172l1 -2 -2 -1M736 195l1 -2 1 -1 0 -2M866 183l1 -1 1 2M720 182l1 -0 2 0 2 0M758 238l-1 -2 -2 -1M745 123l1 -1 2 -1M708 213l-2 0 -2 1 1 2M854 140l2 0 2 0 1 2M763 209l-1 -2 -2 -1 -1 2M851 143l-1 1 -1 2M797 183l-2 -1 -1 -2 -2 0M720 199l-2 -0 -1 2M874 169l-0 1 -2 -1M887 138l1 1 2 2M745 120l-2 0 -1 1 0 2M863 174l-1 1 -1 -1 2 -1M838 114l-2 -1 -2 1 -2 0M824 134l-0 -2 -2 -1M860 179l2 1 1 -2 1 -2M765 194l1 1 -1 1M710 190l1 1 1 1M858 174l2 -1 1 -1 1 1M740 218l-0 -2 -2 -1 1 -1M821 117l-2 -0 -1 -2 1 -1M744 124l-0 2 -1 2 1 2M730 160l-2 1 -0 -2 -2 -0M770 200l2 -1 1 -2 1 -2M712 216l1 -1 0 -2 1 -2M737 263l-2 0 -2 0 -1 1M732 175l0 2 0 2 -0 2M879 197l-2 1 -2 -0M769 161l-2 1 -2 -2 -0 -2M770 203l-0 -2 -1 -1M859 188l-2 -1 -2 1M818 111l-1 2 1 2 -0 2M815 171l1 -2 2 -2 2 0M872 209l1 2 -2 2 2 1M700 234l-2 0 -1 -1 1 -1M840 141l-2 1 1 2 1 1M829 150l-2 -1 -2 1 -1 2M754 207l1 -1 -1 -2 -2 1M836 114l-1 2 -1 2M846 193l-1 -1 0 -2M799 166l2 -1 1 -1M845 193l2 -0 1 -2M879 204l2 -1 2 2 -1 1M731 152l2 -1 0 -2 -2 -0M898 150l-2 0 -2 -1M694 258l-0 -2 0 -2M830 122l-1 -2 -2 1M709 248l-1 -1 -1 -2 -1 -2M774 218l-2 1 -1 2 -1 -1M872 203l1 2 1 1 2 -0M776 182l-2 1 1 2 -1 1M783 163l2 0 -0 -3 -1 -1M732 218l-2 -2 2 -2 0 -1M772 104l-2 1 -2 -1 -0 2M723 166l-2 0 -1 1M844 150l-1 2 -1 2M746 125l0 2 2 -0 2 -0M731 135l1 2 1 2 2 0M710 244l-0 2 0 2 1 1M735 215l-1 1 -1 -1 -2 2M767 121l-2 -0 -2 1 -2 -0M884 169l2 0 2 -2M712 187l-2 1 -2 1 -1 1M874 192l1 2 2 0M885 168l1 -2 1 -2 -0 -2M825 173l0 -2 1 -1M767 110l1 2 1 -2 -2 -2M805 147l-2 -1 -1 2M800 169l2 -1 2 -2 2 -1M785 112l2 1 2 -1 1 -1M763 133l-2 0 -1 -2M717 197l2 1 0 2M759 131l-1 -2 -2 -1 -1 -2M756 254l1 -2 1 -1 1 2M825 173l-1 -1 1 -1M791 176l1 -1 1 1M829 148l-1 2 -2 -0 -2 0M879 183l-2 0 -1 -1M865 184l0 2 2 -0 1 -2M856 118l1 2 -1 2M787 101l2 1 -1 2 -2 2M884 178l-2 0 1 2 2 1M781 225l-2 0 0 2M738 224l1 -1 2 1M851 184l-2 1 -2 0M745 223l-2 -2 -2 -1 -2 1M717 187l-1 2 -2 -0 -2 -0M781 128l-0 -2 -1 -1 -1 -2M861 143l2 1 2 1 -1 2M756 240l1 -2 2 1M829 173l-2 1 -1 -2 -1 -2M733 223l1 -1 2 0 2 2M871 202l-1 2 -2 1M840 175l2 1 1 -2 2 2M773 117l-2 -0 0 -2M730 238l2 -1 1 1M804 177l0 -2 -1 -2 -1 -2M852 185l1 1 2 -0 1 -2M754 263l0 -2 2 0M879 204l1 -1 2 -2M829 113l-1 2 2 1 -1 2M848 147l2 -1 2 0M825 127l2 -0 1 1 -2 1M821 127l1 2 2 1 2 -1M775 214l1 -2 2 -1 -1 -2M749 255l2 0 1 -2M734 133l-2 1 0 2M766 126l-2 0 -0 2 -2 -1M773 212l-0 -2 -2 -1 -1 -2M823 174l1 1 -1 2M734 200l-1 1 -2 -1 -1 -2M903 154l-1 -2 -1 -1 -0 -2M802 114l-2 -1 -2 -0M723 182l-2 1 -2 1M832 139l-0 -1 -1 -1M789 126l0 2 2 1M871 167l-2 -1 -0 -2M698 235l-1 -1 -1 -2 2 -1M894 178l2 1 -1 2 -2 1M843 194l-2 0 -3 0M801 108l-2 1 -1 -2 -0 -2M726 189l-3 0 -1 1M895 138l1 2 -2 1 1 2M758 140l-2 1 1 2 1 1M841 183l-1 2 -1 2M856 125l2 -1 2 -1 2 -1M734 123l1 -2 2 1M791 100l1 1 1 1 1 -2M783 99l-1 2 1 2M774 145l2 -1 2 0M838 153l2 0 2 1M835 177l2 1 2 1M844 142l0 2 -2 1M823 136l2 -1 2 -1 1 -1M908 157l-2 1 0 2 -1 2M795 149l-1 2 -1 2M706 238l2 1 -1 2 2 1M736 137l1 -2 2 -0M874 202l-1 -2 1 -1 -0 -2M747 235l2 -1 1 2M825 138l-2 -0 -2 -2M848 143l-2 0 -2 1M764 224l-0 2 -2 2M859 121l1 2 -2 2M786 107l-1 2 0 2 1 2M755 168l-0 -2 -2 -0 -1 1M799 120l2 -2 -0 -2M756 177l1 -2 -2 -1M793 108l-2 -0 -2 0M833 118l-1 1 1 1M877 140l-2 -0 -1 2 2 0M878 161l2 0 -0 2 -0 2M780 228l1 1 -1 1 -1 -1M760 185l1 -1 2 1M806 105l1 -2 2 -0 2 1M791 166l-1 -2 0 -2 -2 -1M754 186l2 0 1 -1 2 -1M763 145l-0 2 -1 -1M820 179l2 -1 2 0 1 -2M741 160l-0 -2 -2 -0 -1 -2M762 161l1 2 2 -1M759 172l-2 1 -0 -2M809 134l-2 1 0 2 2 -1M772 112l1 2 1 2 2 0M756 126l2 1 0 -2M823 141l-2 1 -1 2M863 110l-1 1 -2 1 -2 -1M770 112l-1 2 -2 1 0 1M710 250l1 2 1 2 -2 1M795 142l1 -1 1 1 1 1M841 183l1 -2 2 0 2 -0M745 235l-0 2 -2 -1 1 -2M790 218l1 2 -2 0 -0 2M783 168l2 -1 -1 -2 2 -0M790 166l2 1 2 -1M867 124l-2 -0 -2 -1 -1 1M737 267l0 2 2 1M819 139l-2 -0 -1 1M759 263l-0 2 -0 2 2 0M865 151l-0 -2 0 -2M765 204l-1 -1 -1 -2M776 111l0 2 -1 2M716 253l-0 2 -1 1M723 179l0 -2 -2 -1M898 170l1 -2 2 -0M757 142l-1 2 -1 1M880 188l0 -2 -0 -2 2 -0M863 151l2 2 2 2 2 -1M808 130l1 -2 2 -1 1 -2M816 117l2 -0 1 2 1 1M817 115l1 2 2 -1 -1 -2M847 140l1 2 -1 2 -1 2M797 160l-0 -2 1 -2M700 227l1 -2 2 -0M868 179l1 -2 -0 -1 -1 -2M803 110l1 2 1 2M711 195l-1 -2 -2 1 -1 0M886 141l1 2 2 -2 2 1M810 180l-1 -1 -2 -0M800 157l1 -2 1 -2 -0 -2M814 120l-1 -1 -2 -1 -1 -2M728 172l-2 1 -1 2M739 135l2 -1 2 1M852 140l0 2 -2 2M712 179l2 -1 1 -1M800 169l2 0 -0 -2M731 247l1 2 -2 0M791 104l0 -3 2 0M713 210l-1 -2 -1 -1M864 148l1 -2 -2 -2 -2 1M741 233l-1 -2 -2 1 -0 -2M702 237l2 -1 1 2M893 169l-2 1 -1 -1 1 -1M722 189l-2 0 0 -2 1 -2M852 120l1 -1 2 -1 0 -2M761 153l-1 -2 0 -2M700 235l-2 -0 0 -2M740 174l2 -0 0 2 -0 2M878 159l1 1 2 -1M794 103l-2 1 1 2 3 0M849 130l-1 1 -2 -1M798 190l-1 -2 -1 -1 2 -2M788 110l-1 2 2 1M787 129l-0 -2 -2 1 -1 2M791 144l2 1 2 1 2 1M867 202l-1 -1 -1 1 1 1M790 141l1 2 -2 0M730 187l-2 1 -0 2M884 174l0 2 -2 1M746 165l-0 -2 -2 -0 0 3M785 101l-0 -2 -2 -0M780 117l2 -0 -0 2 1 2M759 167l2 -0 1 -1 1 1M790 113l-1 -2 1 -2M842 180l2 2 2 0M783 130l-2 -0 -0 -2 -1 -1M769 207l2 -1 -1 -1 -1 -2M806 143l1 -2 -2 -1M864 138l-1 1 1 2 1 2M779 139l2 0 1 -2M787 195l0 2 -1 1M728 176l2 -1 0 2M896 191l0 -2 -2 -1 0 -2M792 167l0 2 2 1M767 150l0 2 -0 2M825 177l2 -2 1 -1M870 148l0 -2 2 -0 0 -2M769 159l2 1 -0 2M900 147l-2 1 -1 1 1 2M838 146l2 0 0 -2 -1 -2M718 208l-1 -2 -1 -1M867 147l2 1 1 -2M754 214l-0 -2 -3 -0M800 158l-2 2 1 2 2 -1M769 214l-0 2 1 2M740 259l-0 2 -2 0 -1 1M791 111l1 -1 2 1M870 165l-0 -2 -1 0M852 186l1 0 2 -1 -1 -2M800 144l1 -2 1 -2M788 196l2 1 0 -2 2 0M766 129l-1 -1 -2 -2 1 -2M805 134l2 -0 1 1M837 132l0 2 2 1 -1 2M802 169l1 1 2 1M819 123l1 -2 2 -1 1 2M847 106l-1 1 -0 2 -2 0M784 177l1 1 -1 2 2 2M720 179l2 1 1 1M902 164l2 0 1 -2 -2 -1M754 222l0 2 -2 0 -1 2M849 179l1 -1 -1 -2M822 108l-2 2 -3 0 -2 -1M813 135l-2 1 -2 -0M906 156l-1 2 0 3M719 193l2 -1 2 0 2 1M718 231l2 -1 1 -2M877 173l-1 -2 -2 1 -1 -1M885 194l-2 -0 1 -2 -0 -2M782 140l2 -1 -1 -2 -1 -1M766 117l-1 2 1 1M767 116l-1 1 -2 2M743 259l1 2 -2 1 -2 -0M748 160l0 -2 -2 -1M883 181l-1 1 -1 -2M869 209l-1 2 -0 2 -2 0M772 113l2 -1 2 1M827 132l1 2 2 -1M885 166l-2 1 1 1 2 -2M901 142l2 -1 2 -0 1 1M837 202l1 2 -2 1 -2 -0M808 188l-1 1 -1 -1M750 221l-0 -2 -2 -1M772 142l2 0 2 1M789 118l-1 -2 -1 -2M774 130l-1 2 1 2M832 207l2 1 1 -2M731 174l1 -2 -1 -2 1 -1M743 219l0 2 -1 1M801 106l2 0 1 2 2 -0M767 198l2 -1 1 -1M747 179l-1 -2 -0 -2 2 -2M785 114l2 -1 2 1M761 187l2 1 1 -2 -2 -1M752 175l2 2 -1 2M768 120l0 3 -0 2 1 1M792 130l-2 -1 -2 0 -1 -2M907 148l-2 1 1 2 1 1M750 178l2 -0 2 1 1 2M755 254l-1 -2 -2 -1 -1 1M813 119l-2 0 -2 -1 -1 2M711 219l-1 2 1 2M851 205l-2 0 1 2 -0 2M798 151l1 2 -2 2 1 2M764 119l-1 -2 -2 1 -1 2M839 193l-1 -2 -2 -1M832 121l2 0 -0 -2 -1 -2M760 154l-1 2 -1 -2 -1 2M771 193l-2 -1 -2 -0 -1 -1M797 129l2 1 1 -2 -0 -2M756 202l-1 -2 1 -2 0 -2M904 164l1 -2 -2 -1 -1 1M763 118l2 0 1 1M707 229l-1 -2 -2 1M773 159l2 -1 2 -0 1 -2M732 157l-1 -1 -2 0M853 199l-1 1 -2 -1M746 260l-1 2 -1 2M783 98l1 -1 1 2M896 175l-0 -2 -2 1M731 174l1 2 -1 1M805 131l1 -2 -0 -2M787 134l2 -1 1 1M893 189l1 1 -1 2M838 183l-2 -1 -0 2M764 115l-2 -1 0 -2 1 -2M759 184l-1 1 -2 1M744 257l2 -1 2 0 1 2M723 241l-0 3 -2 1M848 181l-2 -1 -1 -2M814 114l-2 1 -2 -1 -2 1M760 202l-0 2 2 1 2 -1M766 134l0 -2 -1 -2M781 126l0 -2 1 -2 0 -2M701 237l2 -0 2 0 2 0M708 258l-0 2 -2 -1 -1 1M770 201l-1 -1 -1 -0M816 139l1 -2 2 -0 2 -1M822 138l-2 1 -2 0 -1 -1M743 218l-1 -2 -2 -2 -2 1M873 207l-2 1 1 2M732 257l0 -2 2 0 1 -2M894 147l0 -2 -0 -2 -1 -2M849 202l2 0 1 2M814 108l-2 0 -1 1M896 156l1 2 1 -1M774 191l1 -1 -0 -2M771 116l-2 0 -2 -1 -2 0M814 190l-1 -1 -0 -2M855 146l-0 -2 1 -2 -1 -1M794 137l2 0 0 -2M728 191l1 1 2 2M895 169l1 -1 2 0 2 -1M806 175l-2 -0 -2 0M749 197l-2 1 -0 2 -0 2M794 139l2 -0 2 -1M874 194l-2 -2 -1 2 1 2M732 187l-2 0 -0 -2 -2 0M850 113l-1 1 -1 2 2 2M749 184l-2 -1 0 -2M726 230l-2 -1 -2 1 -2 0M732 239l1 1 2 1M822 125l2 1 1 2 2 -0M830 192l1 2 -2 0 0 2M757 195l0 -2 -2 -0M801 104l-1 -2 -0 -2 2 0M869 151l-1 2 -1 2M855 143l-2 -0 -1 -1M732 252l1 -1 -2 -1M818 181l1 2 3 0M861 197l-1 -1 -1 2 -2 1M806 157l-1 1 -2 0M729 186l1 -2 1 -2 -2 -1M881 190l-1 -2 2 -2M824 181l-2 1 -0 2M849 100l2 0 0 3M816 174l1 2 1 2M704 207l-1 2 -0 3M727 189l-1 -1 -2 -1 -1 -2M762 185l-2 -0 -1 -2 2 -1M806 121l-1 2 -2 -0 -2 1M766 205l-1 -2 -2 1 -2 -0M790 122l2 2 -1 2 -2 -2M718 244l2 0 -0 2 0 2M716 244l0 2 -2 -0 -1 1M786 133l-1 -2 -0 -2M809 105l-2 -2 -2 2M775 100l2 1 -1 2M903 146l-1 -1 0 -2M790 137l-0 -2 -2 0M775 101l-0 2 2 2M908 159l1 2 0 2M755 160l-0 -2 0 -2M776 112l-2 1 -0 -2M772 200l2 0 2 -1M790 150l-0 -2 2 -0M827 184l-2 1 -0 2 -0 2M812 178l2 -1 0 -2M802 119l-2 1 -2 -1 -0 -2M892 177l2 -2 2 -1M824 129l2 -0 1 1M737 258l-0 -2 -2 -1 -2 1M745 252l-2 1 -1 2M852 195l-2 -2 -1 1 -2 1M795 104l-2 -0 -1 1 -1 2M788 120l-1 1 -1 -2 -2 -2M869 186l-2 1 -1 2M857 195l1 1 -1 1 -1 2M857 128l-0 -2 -2 0M840 184l-1 1 -2 -1 -2 1M852 101l2 2 -1 2 -1 1M764 222l0 2 1 1 1 1M816 171l-1 -2 -2 -1 1 -2M752 252l-2 -1 -1 -1 -1 -2M787 100l1 2 2 1 1 -2M749 267l-2 -1 -1 -2 -2 0M717 230l1 -1 1 -1M760 241l1 1 -1 2M878 167l-1 2 -2 1M847 104l0 -2 2 -2 -2 -1M755 201l0 2 2 -1M903 152l-2 0 1 -2M827 115l-0 2 0 2 -1 2M794 175l2 1 2 0M792 181l1 1 1 -1M797 114l-2 0 0 -3M807 157l-1 2 -1 -1 -2 1M845 142l-0 -2 -1 -2 2 -1M787 130l-2 1 -1 -2 1 -2M711 206l0 2 -2 1 -2 -2M830 198l-1 2 -2 -0M887 180l-1 -2 2 -2M772 188l2 -0 2 -2 -2 -2M846 137l1 2 -1 2 1 1M904 158l0 2 2 0 3 -0M758 190l-2 1 -1 2M787 174l0 -2 -2 -1 -0 -2M739 148l-2 -2 1 -1M848 149l1 -2 -0 -3 -1 -1M787 210l2 -1 0 -2 -2 -0M748 127l-1 1 -1 -1 1 -2M866 129l-1 -1 -0 -2 -2 -1M886 176l1 -1 -0 -2M770 145l1 1 1 2 1 2M815 123l1 2 -1 2 1 1M798 98l0 -2 2 -0 -1 -2M740 195l-2 1 -1 1 -1 2M904 152l0 -2 -2 -0 -1 -2M794 142l2 1 1 -1M769 164l-2 1 1 2 -1 2M906 164l-0 -2 2 -1M895 161l-2 -1 1 -2 -2 -1M705 204l-1 1 2 2 -1 1M707 243l-1 1 -1 2 0 2M772 220l1 -2 -1 -2 -2 -1M821 113l-1 2 2 2M806 154l-1 -2 -2 0 -1 -1M812 179l-0 2 -1 2M708 186l-2 1 -2 0 0 -2M862 135l-1 1 -1 2M896 186l-0 -2 -2 1 -1 -2M767 119l2 -0 -1 -2 -1 -2M798 153l-1 -1 -1 -2 -1 -2M761 223l2 0 2 -2 2 -0M806 170l2 1 0 -2 -2 -0M898 159l-1 2 -2 1M859 189l1 -1 1 2M763 164l2 0 1 -2M708 228l0 -2 0 -2 0 -2M811 158l-0 2 -2 1 -0 -2M819 142l1 1 2 -1 2 -0M893 186l1 -2 1 -2M869 149l-1 1 -2 1M733 139l-2 2 -1 2 1 1M749 170l2 -1 -1 -1 -1 -1M731 188l1 1 1 -1 -1 -1M717 154l-2 -1 -2 1M878 142l-0 2 -1 2 2 1M851 100l2 0 0 -2 -2 -0M738 122l-2 -1 -2 -1 -1 2M775 125l-1 1 -2 0M809 161l-2 -0 -0 -2M890 180l-2 -1 -0 -2M903 170l0 -2 -1 -2M820 184l1 -2 -2 -1M745 179l-2 -1 -2 -1M769 188l-2 -0 -3 -0 1 -2M794 125l1 -2 -0 -2 1 -2M788 136l-1 2 2 1M790 215l0 -2 -1 -1M783 201l1 2 -1 1M794 114l-2 -1 -2 -0 -0 2M783 211l-2 0 -2 -0M851 176l0 2 2 -1 0 2M831 164l-0 -2 -2 0M762 225l3 -0 2 1 -1 2M839 186l1 2 2 -0 2 0M761 149l-0 -2 2 -0M802 103l-1 -2 -2 1M896 162l2 1 1 -1M820 174l-1 0 -1 1 1 1M748 201l-1 -2 2 -2M766 137l-0 -2 -2 1M749 245l0 -2 -1 -2M766 134l-0 -3 -2 -2 2 -1M717 178l2 -1 2 -0M739 125l1 2 1 1M743 170l1 -2 -1 -1M835 204l2 2 1 1M791 173l2 -0 0 2M868 186l-2 1 0 1M740 226l-1 -2 -0 -2 2 -0M802 134l-2 -1 -2 2 2 1M795 159l-0 2 2 1 1 -2M836 198l-2 -1 -2 1 -1 2M816 185l1 2 -1 2 -1 2M731 241l2 -0 -0 2M733 194l-1 -1 1 -1M898 152l0 -2 -1 -2M837 115l-1 -2 -1 -2M867 143l-1 2 -2 1M894 142l-1 -1 -2 0M803 119l1 -1 1 -1M769 167l1 -2 0 -2M852 141l-1 2 -1 2 -2 1M714 189l-2 -2 -1 -1M888 142l1 -2 1 -2M780 138l2 -0 1 -2 2 -1M791 163l-1 2 -2 -1M736 255l-1 -2 -1 1 -2 1M817 128l-0 2 -1 1M790 168l-0 2 -2 1 -2 1M705 205l-1 1 -2 1M874 175l2 1 1 1 2 -1M735 183l0 -1 2 -1 2 -1M768 216l1 2 2 1M830 145l1 -2 2 -1M858 201l-2 -0 -1 -1 -2 -0M894 179l-1 -2 2 -1 1 2M823 172l-2 2 -0 2M779 202l1 1 0 2 -2 2M779 136l-1 2 2 1 2 0M901 166l1 2 2 -0M738 208l-2 2 -1 2 2 1M810 143l1 -1 2 0 2 -0M806 182l-1 1 -1 -2M813 169l-2 1 0 2M821 174l-1 1 -0 2M755 210l1 2 2 -0M732 252l-2 0 -2 -0M803 106l-2 0 -1 2M896 150l2 -1 -0 -2M757 166l2 -1 -1 -2M736 260l2 -0 1 -2 2 -1M753 190l-2 -0 -2 1M777 113l1 2 -2 0M775 104l1 -1 2 -0M779 220l-2 -2 1 -2M714 242l2 -1 2 -0 2 1M839 165l1 -1 2 -0 2 1M763 117l-1 -2 1 -0 0 2M731 216l-2 -1 -2 1M904 169l-1 2 2 1 -0 2M849 141l-1 1 -1 1M798 176l2 1 1 1 -0 2M845 142l-1 1 -1 1M736 204l0 -2 -2 0M853 136l-0 -3 2 0 0 -2M829 201l-1 1 -1 1M772 199l-2 1 -1 2M737 200l1 -2 2 -0M791 158l1 -1 2 -0M910 161l0 -2 -2 0M818 170l-1 -2 -3 -0 -2 -0M748 252l0 -2 -0 -2M697 260l1 2 2 -1 1 1M735 260l1 1 2 1M806 127l1 2 2 -1M762 202l2 -1 2 -2M788 220l1 -2 -1 -2M731 125l1 2 1 1M798 103l-1 2 -1 1M884 141l1 -2 0 -2M830 127l-2 1 -1 -1 -2 -0M789 140l-0 -3 1 -1 1 1M719 184l-2 -0 -2 1 -1 -2M718 154l2 -1 1 1 1 1M851 121l0 -2 1 -1M789 116l1 2 1 2 1 1M771 205l-0 2 2 -0M707 203l0 2 1 2 -1 1M866 204l1 -1 2 -0M848 174l-1 -2 -1 -2 1 -2M896 148l-1 1 -2 -0M797 138l-1 1 -1 1M856 180l-2 -1 0 -2M852 183l-1 -1 -2 -1M796 119l2 1 2 -1 2 1M808 141l1 -1 -1 -2M780 197l1 -1 -1 -1 -2 0M901 169l1 -2 2 0 2 -2M825 125l-1 -1 0 -2M825 181l2 -1 1 1 2 1M766 199l1 -1 1 -2M810 158l-2 1 0 2 2 1M732 188l-1 2 -2 -0M742 223l0 2 -2 1 -0 -2M741 186l2 -0 0 2 -1 1M796 149l1 -1 -2 -2M801 152l-1 -2 1 -1 -2 -0M782 197l-2 -0 -2 1M834 99l-2 -1 1 -2M796 133l0 -2 1 -2 -2 -1M849 188l2 -1 0 2 -2 1M853 195l1 2 1 2 -1 2M846 178l2 0 -0 -2 1 -2M752 247l2 1 1 -2 1 2M762 187l-1 1 -1 -2 -1 -2M815 171l2 -1 1 2M793 103l-1 -1 2 -1M705 238l1 1 -1 2M798 136l2 1 1 2 0 1M749 239l-2 -1 1 -2 -1 -1M834 145l1 -2 -1 -1 -2 0M816 116l-2 -1 -1 -1M721 183l1 -2 0 -2M734 255l2 -1 -2 -2 0 -2M792 149l2 1 2 -0M824 173l1 -2 2 -0 -0 2M753 210l-1 -2 -2 0M860 135l2 0 2 1M864 119l-0 2 2 -0 2 1M774 190l1 -2 2 2M774 114l-1 -2 -1 -2M734 225l2 -0 2 -0 1 2M794 116l2 -1 -1 -2M733 155l-1 -1 -1 -2 -2 -1M804 118l1 1 1 -1M789 103l1 -2 2 0M791 126l-2 -1 0 -2M755 238l0 2 1 1M697 261l-1 -2 1 -1M758 256l-2 0 -1 2 1 1M781 99l-2 2 -1 -2M707 232l-1 -2 -1 -3M748 221l-2 1 -1 2M790 124l1 -1 1 -1 0 -2M778 147l2 0 2 -1 2 1M733 175l2 -0 2 1 0 -2M764 224l0 2 2 1M739 187l2 1 1 -2M784 96l-2 -1 -2 0M788 126l2 0 2 1 1 -1M846 117l-0 2 -0 2M823 142l-1 -2 -1 -2M812 135l-1 1 -1 -2 -1 -2M720 184l-0 2 1 1 -1 1M775 103l0 2 2 -1 1 2M742 125l-1 2 -1 2M747 242l-1 1 -2 -0 -2 -1M850 185l-2 -2 -2 -0 -1 2M870 188l2 1 0 -2M804 129l0 2 -0 2M842 145l2 1 1 1 2 -1M744 166l-2 -2 -0 -2M755 237l-0 2 -2 2 -1 2M893 185l1 -1 -1 -2 -0 -3M861 141l-1 2 -2 0M722 155l-2 -0 -1 -1 -1 2M762 207l-0 2 2 0 2 0M766 183l1 -1 1 -1 2 0M822 172l2 1 1 -1M805 182l-2 -1 -2 -0M813 122l1 -2 2 -1 2 -0M753 128l0 -2 -1 -2M815 113l1 -2 2 2 2 -2M716 155l1 1 2 -0M809 174l-2 1 -2 -1 -1 -1M851 175l-0 -2 1 -1M900 148l1 -2 0 -2M759 199l-1 -2 -2 1M797 148l2 1 2 -1M897 191l-2 0 -1 1M782 154l-1 2 2 2M885 197l-0 2 2 1M794 159l1 2 1 2 1 -1M858 192l-2 1 -2 -1M715 225l1 -2 -2 -1 -1 -2M772 197l2 -0 0 -2 -2 -0M827 141l2 -1 -0 -2 -0 -2M873 150l-2 1 -0 2M801 175l-2 1 -1 1M874 144l-1 -2 -0 -2 -2 0M750 213l-1 -1 0 -2 -0 -2M772 201l-2 1 0 3 -1 2M746 168l1 1 2 0M719 196l2 1 2 -1 1 1M872 177l-1 -2 1 -2 -0 -3M836 140l-2 -1 -1 1 2 1M777 100l-1 -2 -2 1 1 2M825 178l-1 2 -2 -2 -1 -2M831 142l2 1 2 0M780 100l2 1 1 -2M722 247l-2 1 1 2M837 140l0 -2 1 -2 -1 -2M761 146l-2 1 -1 -2 1 -1M763 128l-1 1 -2 -1 -2 -1M764 118l0 -2 2 -0M733 153l-2 1 0 2 -2 1M874 208l-2 -2 2 -1M766 139l-2 0 1 2 -1 2M725 166l1 1 1 -1 -0 -3M749 260l-1 2 -1 2M718 213l1 -2 1 -2M884 179l-2 0 -1 -2 1 -1M793 216l0 2 -1 2 -2 0M768 189l0 -2 2 -0M864 205l-1 -1 -1 2M852 110l2 -1 1 -2M815 184l-0 -2 1 -2 -2 -0M706 248l0 -2 -1 -1M847 188l-2 -0 -1 -2 -1 -2M880 142l-1 1 -2 0 -0 -2M732 129l-1 2 -0 2 0 2M801 130l-2 1 -2 1M761 259l2 -1 2 -0 1 1M887 185l1 2 2 2M802 108l1 2 -2 1M733 175l0 2 1 2M872 198l-1 -2 -2 1 -2 -1M835 187l1 2 -1 1 -2 -1M757 131l-0 -2 1 -1M751 239l1 2 1 2 -1 1M713 209l2 1 -1 2 -2 1M746 126l-2 -0 -2 0 -1 1M728 186l-2 -0 -1 -1M732 261l1 -2 -2 -1 -2 -1M875 208l-2 1 0 2 1 2M762 245l-1 -1 1 -2M733 128l-1 3 1 1M854 127l2 -0 1 -2 2 -1M784 116l-2 -1 -1 -1 -2 1M823 120l-2 -0 -0 2M844 148l1 -2 2 -1 2 -1M862 134l-1 2 0 2 -2 1M873 167l-1 -1 0 -2M762 184l-2 0 -0 2M874 155l0 2 1 1M873 185l-1 2 -2 -1M862 114l-2 2 -1 1 -1 -2M853 148l-2 -0 0 2 -2 1M852 138l-2 1 -0 -2 -2 -1M758 191l1 1 2 -1M785 142l1 -2 0 -2 2 1M772 121l-2 1 -2 1 -1 1M727 181l-0 2 -1 1M853 103l1 -1 -1 -2M816 170l-1 -2 -2 1M880 167l-1 -2 -0 -2M740 129l2 1 2 -2 1 -1M743 262l-2 -1 -1 -0 -0 2M755 198l2 0 2 0M839 193l-0 2 -2 1 1 2M896 162l2 2 1 -2 1 -2M705 263l-2 -1 -0 -2 1 -1M839 138l1 -2 2 0 2 -1M857 110l-2 1 -2 0M841 135l-1 -1 1 -1 1 -1M785 151l-0 -2 -1 -2 1 -1M893 154l-0 -2 1 -2M881 194l-0 2 0 2 2 0M831 188l-2 1 -1 -1 -2 -0M759 167l-1 -0 -1 -1M869 194l0 -2 0 -2M858 205l-1 -1 0 -2M812 181l2 -1 -1 -1 2 -1M792 124l2 0 2 -1M741 137l0 -2 -3 -0 -2 0M791 213l-0 -2 -2 -0M828 185l2 2 2 -2M884 201l-0 2 -3 -1M808 137l2 0 2 -0 2 1M777 192l2 -0 -0 -2 -2 1M779 122l-0 -2 1 -2M712 216l0 -2 -1 -1M826 186l0 2 2 1 1 1M876 142l0 1 2 -0 2 1M791 178l1 -1 2 1 2 1M748 218l-2 -0 -2 -1 1 -2M878 191l0 2 -2 1M879 193l1 2 2 0M738 182l-2 0 -1 -2M737 141l0 -2 2 1 2 -1M732 212l2 0 1 1 2 1M776 206l-2 -1 -1 2 2 1M799 128l1 -2 1 -2M774 188l1 2 2 -0 0 -2M811 191l0 -2 2 -1 2 -2M706 249l0 -2 -2 -1 -2 -1M766 137l1 2 -2 2M707 249l2 1 -1 2M764 185l1 2 2 -1M782 173l0 -2 1 -1 -0 -2M764 225l2 1 3 0 0 2M742 214l2 0 2 0M733 132l-2 -0 1 -2 2 1M748 195l1 2 -0 2M701 235l-2 -1 -2 0M747 253l-2 -1 -0 2M792 165l-1 -2 -2 -1M731 249l-1 2 -2 1M833 174l2 0 1 1 2 -0M856 113l1 2 -1 2 0 2M739 158l-2 -1 1 -2 2 0M832 147l-2 1 -1 -1M899 172l2 1 1 -1M805 179l0 2 0 3 2 1M796 104l-2 -1 -2 1M778 132l-2 -1 -2 -1M800 177l-1 -2 -1 -2 2 -1M905 148l-2 1 0 2M805 137l-1 2 -2 1 -2 1M781 113l1 -2 2 1M755 171l-1 2 -0 2 -2 -0M715 207l-2 -1 -1 -2M799 187l2 -0 -0 2M736 194l0 -2 0 -2 -2 0M859 205l-1 2 -2 -1 -2 -0M889 180l2 0 0 2 1 1M855 207l-2 1 1 2 1 1M891 138l1 -2 -0 -2M774 191l1 -2 2 -1M794 148l2 -0 0 2 1 1M762 180l1 2 -2 0M832 184l-2 -1 -1 2M809 180l0 2 2 -1M787 199l1 2 -1 2 -1 2M734 152l2 1 1 2 -1 2M744 260l-2 -0 -2 0M832 180l0 -2 2 -0 -0 2M863 169l-0 2 -2 1 -1 1M719 230l-1 -1 -1 2 -1 1M849 132l1 1 -1 1 -1 2M771 189l-1 -1 -2 -1M824 139l-2 1 -2 1M772 184l-2 0 -1 -2 -2 1M838 145l-2 2 0 2M831 142l-1 2 -1 2M762 181l-1 -2 -2 0M755 164l-1 -2 -2 -2M846 144l-0 2 -1 1 -1 2M781 152l2 -2 1 1M746 264l-2 1 -2 -0M756 245l1 1 1 -1 2 2M806 101l-1 2 -1 -1 -1 -2M772 132l-2 0 -2 -2M732 237l-1 -2 -2 1 -1 -2M877 206l-1 -2 1 -2M727 173l0 2 -2 -1 -1 -2M729 182l1 -1 2 1M849 125l1 1 -2 1M746 220l1 -2 -2 -0M862 194l1 2 0 2 -2 1M723 155l3 -0 0 -2 3 -0M855 133l1 -1 2 0 0 -1M871 201l2 -0 -1 -2M774 197l-2 1 -1 -2 -1 -1M853 110l1 1 1 -1M793 149l2 -0 -1 -2 0 -2M769 134l2 1 2 0 -0 2M814 191l-2 0 -2 -1 -1 -1M746 176l-2 -0 0 -2M712 250l1 -2 1 -1M856 124l1 1 -1 2M850 129l-1 1 -1 2 1 2M766 111l-1 -2 0 -2 -2 -1M827 135l-2 -2 -2 0M749 250l0 -2 0 -2 -2 0M894 190l1 -2 2 -1 2 2M718 246l2 0 2 -0 2 -0M830 147l-2 0 -0 -2 -2 -1M735 226l1 -2 2 -2 2 -0M843 198l-0 2 -2 2M733 257l0 -2 2 0M765 202l-1 -2 -2 1 2 2M714 213l-2 -1 -2 2M814 132l1 -1 -0 -2 -1 -1M787 122l-2 2 -1 1M721 247l2 1 -1 2 -1 1M891 154l0 2 -1 1M772 217l-2 0 -1 1 -2 2M738 201l2 -0 1 2 -2 1M898 190l2 2 1 2M773 148l-1 1 -2 -2 -2 0M746 170l2 -1 1 2 -0 2M722 161l-0 2 2 -1 0 -2M843 99l-2 -0 -1 1M743 159l2 1 2 -0M792 103l1 -2 1 -2 2 -1M811 189l-0 -2 -2 -1M807 185l2 -0 1 -2M736 210l-2 -1 -2 1 -2 1M748 237l2 -1 1 -2M713 212l1 -2 2 -2 1 -1M873 188l2 1 1 1 1 -2M890 139l-1 -2 1 -1 2 -1M732 243l-2 2 -1 2 1 1M792 125l1 -2 -2 -1M856 109l-2 -0 -1 2 -0 2M750 196l0 -1 1 -2 -2 -1M878 168l-2 -1 -1 2M763 131l1 2 2 1 0 2M874 156l1 1 -0 2 1 2M755 264l2 -0 2 0M876 163l-1 -1 -2 -0M715 178l1 2 -1 1 -2 1M811 122l-2 0 -2 -1M835 195l-2 1 -2 -1M904 149l0 -2 2 -0 2 -0M875 181l2 1 -0 2M849 112l2 -1 1 -2M806 183l-0 2 1 1M839 180l2 2 2 1M772 220l1 -2 -1 -1 -2 -1M742 214l2 -0 1 1M772 107l1 -1 1 -1M791 127l-2 1 -2 -1 -1 -2M769 119l1 -1 -1 -1M770 129l1 -1 -0 -2M787 215l1 -2 1 -2M769 115l-2 -1 -1 -1M718 233l1 2 -1 1M705 255l1 1 2 -1 -2 -1M891 188l-1 2 0 1 0 2M860 201l2 1 -0 2 1 2M882 139l2 -0 1 -2M842 198l-1 -2 -2 -1M831 140l-1 -1 -2 2M791 168l0 2 -2 1 -0 2M785 168l-2 0 -1 -2 -1 -2M798 152l-0 2 -2 1M815 137l-2 -1 1 -2 -1 -1M898 163l-1 -2 1 -1M728 169l1 -0 2 0M749 210l-3 -0 -1 -2M866 179l-2 -0 -1 2 -2 0M827 182l-1 -1 -2 1M769 120l-1 2 -2 1M720 178l1 -1 2 -1 2 -1M752 208l2 1 2 -1M745 203l2 0 -1 2M772 147l2 0 1 1 1 -1M844 181l1 -2 1 -1M854 104l1 -1 2 1 2 -0M800 150l-1 -2 -2 0M768 214l3 0 1 -1 2 1M774 157l1 1 2 0M816 118l-2 -1 0 -2M904 147l2 2 -2 1M761 139l2 -1 -2 -2M803 180l0 2 -2 1 -1 2M796 168l-1 1 -1 -2 -1 -1M864 148l-0 -2 0 -2M811 131l-1 1 2 1 -0 2M740 136l2 0 0 -2M713 225l1 -1 2 1 1 2M747 157l-1 1 -2 1M715 183l-2 1 2 2M724 167l0 2 -2 0M717 229l2 0 2 0 -0 2M748 237l2 -1 0 -2M789 220l-2 1 -2 0M833 115l-1 1 -1 -1 -0 -2M729 244l2 -1 2 -1 2 -1M808 117l2 2 2 0 2 1M758 237l2 1 1 -2M810 184l2 1 -1 2M840 201l-1 -2 1 -1 2 -0M703 223l-1 -1 -2 -1 -2 -1M780 114l-2 -1 1 -2M762 148l-2 2 -3 0M752 257l-1 -1 -2 -0 -1 2M764 201l-2 0 -1 2M831 150l1 -1 1 -1M855 127l1 -2 2 1M744 169l-2 -1 -1 -1 -0 2M823 131l-0 -2 -1 -2M797 146l1 2 -2 2 -2 -1M731 156l0 2 2 1 1 1M741 199l2 2 -1 2M821 182l-2 -1 -2 -0M762 171l2 0 2 2 -2 1M828 117l-0 2 2 -0 2 -0M758 255l2 -1 2 -0 2 0M840 168l-2 -1 -2 -2 -2 1M776 142l1 1 1 2 -1 2M740 126l2 -0 2 1M868 145l1 1 -1 1M784 195l1 2 2 2M763 245l-3 0 -2 -2 1 -2M838 143l3 -0 0 2M817 170l-1 -2 -2 0M863 202l-2 -2 -1 -1M770 122l-1 -2 1 -2M795 99l-1 -2 -1 -1 -1 -2M781 105l2 -0 2 0M795 122l-1 -1 -1 -1 0 -2M707 191l2 -2 1 2 -0 2M835 179l2 -1 2 1 1 -2M749 176l-1 -2 -1 -2M782 131l0 2 1 2 0 2M877 169l-1 -1 -1 -1 -1 -2M718 202l0 -2 0 -2M736 225l2 1 1 2 -3 0M779 127l-1 1 -0 2M879 177l-2 -1 1 -2 -1 -2M807 136l-0 2 -2 -1 -2 -1M803 120l-2 -1 -1 -1 -2 1M787 127l1 2 2 -1 1 2M801 145l1 -2 1 -1M829 115l-2 0 0 -2M732 246l-1 2 1 2M838 198l1 -2 2 1 -0 2M833 164l2 2 2 -0M765 144l2 1 2 -1 1 2M827 112l-2 -1 -2 -1M768 188l-1 2 -2 1 -1 1M849 118l-1 2 1 1 2 -1M752 251l-2 0 -1 -2 -1 -2M782 106l2 1 1 1M792 150l-2 -1 -3 -0 -2 1M717 257l-2 2 -2 1 -0 -2M777 192l2 1 2 1M804 129l2 -0 1 1M720 232l-2 0 0 -2M755 225l-1 -1 -2 1 -2 -0M783 218l2 0 1 -2 0 -2M733 253l-2 1 -2 -0 -2 1M782 199l2 -0 1 -2M823 111l-2 -0 -2 -0 -2 -1M732 161l2 -0 1 -1 1 2M786 163l-1 -2 -2 1 2 2M755 206l-2 -1 -1 2M799 171l-1 2 -2 -1M759 252l-2 2 -1 -1 -0 -2M776 222l-1 2 -2 1M751 259l-2 -1 -2 1M770 212l-2 -1 -1 -2M882 167l2 1 1 -2 1 -2M743 126l-1 2 2 1 0 2M717 151l-2 1 1 2M769 166l1 -1 2 -1 1 -2M772 120l-2 1 -2 -0M810 136l2 -1 3 -0M747 204l2 0 2 -0M770 114l-2 1 -1 -2M797 112l-2 1 -0 2M801 117l1 -2 2 -0M861 135l-2 0 -1 1M704 232l-1 1 -2 -1M714 189l1 -1 -2 -1M790 194l-1 2 -0 2M710 187l-1 -1 -2 -1 -2 -0M762 125l-2 1 -1 2M766 170l-2 -1 0 -2M790 141l2 1 1 -2 -2 -1M861 208l-2 -0 -1 1 1 1M853 179l-1 -2 1 -2 2 1M839 133l2 -2 2 -2 -1 -2M847 189l-0 2 2 1 2 -1M809 126l-2 -0 0 -1 1 -2M814 143l-2 1 -2 -1 -2 1M871 157l2 -2 2 1 1 1M735 178l2 1 3 0M792 194l2 -1 2 -1M751 249l1 1 2 1M704 196l-2 -1 -1 -1M875 207l2 1 2 1 2 -1M832 188l-1 1 -1 -1M779 117l-2 -1 1 -2 2 0M755 216l-0 2 -1 1 -2 -0M767 208l2 -1 -1 -1M715 191l-1 -2 1 -1 2 1M829 175l2 0 -0 -2 0 -2M803 129l0 -2 2 -1 1 1M723 163l-0 2 1 2M702 262l0 2 -2 1M822 141l-2 2 -2 -0 -2 -0M798 184l2 1 1 -1M839 142l-2 0 -2 -1 -2 -1M852 180l2 -0 -0 2 0 2M831 163l2 -1 2 1M884 141l1 -2 -2 -1M779 145l-2 2 1 1 1 -1M753 128l2 1 -0 2 2 1M771 223l2 -1 1 2M867 198l-2 0 -1 -1M833 168l-1 2 -2 -1M716 141l0 -2 2 -1M810 123l-0 2 1 2 -1 2M729 226l1 -1 0 -2M897 168l-1 -1 -0 -2M767 202l-0 3 -2 0M803 109l-1 -1 -2 1 -0 -2M850 201l0 2 2 1 1 1M736 180l0 3 -2 0M756 155l-2 -0 -1 2 1 1M776 180l1 1 1 -1 1 -2M898 165l2 0 1 -1M885 137l2 -1 2 0 0 -2M741 217l-1 -2 -2 1M732 141l1 -1 3 0M740 141l2 -2 1 -2M740 159l-2 0 -1 1 -1 2M797 125l2 2 -0 2M834 170l-1 -1 -2 0M864 127l-2 1 -1 -2M907 158l1 -2 1 -1M793 135l2 -1 0 2M891 168l1 -2 2 1 1 2M799 124l-1 2 0 2M794 172l-2 -2 1 -2M788 127l3 1 0 2M827 182l1 1 2 -2M876 201l-2 1 -1 -2 2 -0M803 139l2 -1 -1 -2 -2 1M784 140l-2 -1 -1 -1M751 185l2 1 1 -2M762 174l1 -1 1 -2M754 210l1 -2 -0 -2 1 -2M765 181l-1 -2 2 -1 -1 -1M802 148l-2 0 -2 -1M785 154l-2 -1 -2 -1M770 201l-1 -2 -2 2 1 2M788 163l0 2 1 2M756 187l-1 2 -1 2 -2 -1M736 226l2 -1 1 1M761 169l2 -0 1 1M752 235l-1 2 -2 1M862 200l0 -2 -2 -0M833 199l2 1 1 2M756 142l-1 2 -2 2M772 127l1 -1 1 -2 -2 -1M746 161l-2 2 -1 1M777 204l2 -1 2 -1M759 197l-1 1 -3 0M838 167l1 2 2 2 1 2M762 171l1 1 -1 2 -2 1M764 124l0 2 2 -0 1 2M816 188l-1 1 -2 -0M864 187l2 0 0 2M816 181l1 2 2 2 1 1M745 210l1 -1 1 -2M881 140l-0 2 -0 2M791 128l1 -2 -2 -2M831 133l0 2 -0 3 -1 2M875 144l-1 1 -2 -1 -1 2M783 137l-1 -2 1 -2M803 151l1 -2 2 -1 1 -2M826 134l1 -2 1 -0M787 114l2 -0 0 2M697 234l-2 0 -0 -2 -0 -1M857 172l-2 -1 -1 2M779 105l1 -1 2 1M735 194l2 -1 1 1M859 200l0 -2 1 -2M796 204l-2 1 -0 2 -2 0M830 123l2 2 -2 1M870 179l1 1 -1 2M704 231l-0 2 -1 1M741 269l-0 -2 -2 0 -1 2M808 168l1 2 -0 2M848 103l1 1 2 -2M734 216l-0 2 1 2M762 184l-1 -1 0 -2 1 -2M706 187l0 -2 1 -1 2 -0M859 112l2 -1 1 -2M811 133l-2 0 -2 1M734 227l-1 1 -2 0 -2 -0M778 199l0 -2 -0 -2M778 135l-2 1 -2 -2 -0 -1M857 183l-2 -0 -1 2M904 145l-2 -0 -0 3M833 188l-0 -2 -2 -1 2 -2M867 149l1 2 2 1M822 112l2 -1 1 1M747 258l-1 2 2 1M876 207l-1 -1 -2 1M736 224l2 0 0 2M892 171l-3 -0 -1 -1 1 -2M764 140l2 -0 1 1 2 -1M847 144l-2 -0 -1 -1M760 133l-2 1 1 1 1 -0M846 138l3 0 1 2M758 160l1 -2 2 1M700 257l0 -2 2 -1M755 163l-2 -0 -1 -2 0 -2M723 246l2 -1 2 -1 -1 -2M773 206l-2 2 -2 -1 -0 2M754 221l3 -0 0 2M753 201l-1 1 -0 2 -2 2M749 238l1 2 1 1 -0 2M871 158l-0 2 -0 2M739 254l-2 0 -0 2 -1 1M743 250l0 -1 -2 -0 0 2M709 262l-1 -1 -1 1M829 189l-0 -2 -2 -1 -1 1M776 138l1 -1 0 -2M786 147l1 -2 1 -2 2 -0M727 232l-0 -2 -1 -2 -2 0M743 254l1 2 1 1M794 198l0 2 0 2M797 111l-1 -1 -0 -2M787 96l-2 0 0 -2M854 104l2 -1 0 -1 2 -1M748 244l2 0 0 2M811 119l-1 -2 2 -2 1 -1M790 194l2 -1 1 -1 2 -0M856 188l-2 -0 1 -2 0 -2M857 204l0 -2 -2 -2M900 188l-1 1 -2 0 -2 0M893 174l-2 -0 0 -2 1 -2M790 153l1 -1 2 -1M857 139l-0 -2 -2 -2 1 -2M764 223l-2 -1 1 -2 1 1M811 168l2 1 1 -1M865 146l2 -0 1 2 -1 2M842 203l2 -1 -0 -2M753 197l2 0 -0 2 -2 1M787 154l-1 -1 -1 -2 -0 -2M742 180l2 -0 3 -0M741 138l2 -1 -1 -2M857 178l-2 0 -1 2 1 2M770 131l1 -1 0 -2M848 200l1 -2 2 -0M728 173l1 -2 1 -1 1 -1M851 183l-1 2 1 1 0 2M769 212l-1 -2 -2 -1 -2 -1M751 244l0 2 -2 -1 -2 1M735 139l-2 -1 -0 -2M853 201l2 1 1 -2M807 148l-2 -1 -1 2M769 136l1 2 2 -1 0 1M821 133l-2 -2 -2 1 -1 -2M742 209l2 -1 -0 -2 -2 -1M750 254l-2 0 -1 1M716 247l0 2 -2 1M845 115l-0 2 -1 -1 -1 -2M736 182l-2 1 -2 -0 -2 -0M694 252l0 -2 -2 0 -2 0M893 173l-1 2 1 1 2 -1M787 116l2 1 2 0M850 148l-1 1 -2 0 -2 -2M771 203l2 1 0 2M843 145l-1 -2 1 -2 -2 -1M792 155l-1 -2 -2 1M802 131l2 1 2 1 -1 1M760 156l1 2 -1 1M790 169l1 -2 -2 -2 2 -1M852 123l2 1 -1 3M761 247l2 -0 1 -2 2 -1M793 111l-1 -1 -2 0 -0 -2M797 102l1 2 -0 2 1 2M876 178l0 2 -2 -0 -0 -2M798 105l-1 -1 -2 1M806 126l-0 2 -2 -1M765 125l-1 1 -1 -2 2 -1M841 137l2 -1 1 2 2 1M706 223l2 -1 2 -1 2 -2M723 197l0 -2 2 1M791 132l2 -2 1 -2M766 215l0 2 2 -1M866 130l-0 -2 2 -1 -1 -2M836 191l-1 1 -1 -1M804 135l2 1 -0 2 1 2M902 153l-2 -1 -0 -2 1 -2M849 108l2 0 2 -0 1 1M710 207l-2 -1 -2 2 -2 1M753 156l1 -2 -2 -1 -1 -2M730 214l1 -1 2 1 1 -2M716 229l1 -2 1 -2M714 252l1 2 2 -1M801 151l2 -2 -0 -2 1 -2M725 184l2 2 2 0M757 206l2 -1 1 -2 -2 -1M724 196l-2 0 -2 -1 -2 1M789 134l1 -2 2 0 2 -1M756 197l2 0 1 -1 -1 -1M758 184l1 2 1 2M753 213l2 -1 -0 -2M754 211l2 0 1 -1 -0 -2M814 128l1 1 1 -1 2 -1M888 170l-1 2 -1 -0M734 216l1 -2 -1 -1 -2 1M807 123l-2 -1 -2 0M801 130l1 -2 2 0 -0 2M703 226l-1 2 -2 1M852 109l-1 -1 -2 -1 -1 -2M815 125l1 -2 2 -0 0 2M749 261l-2 2 1 1M729 262l-1 -2 -2 1 -1 -2M871 179l0 3 2 1M718 208l0 2 2 -1 2 -0M813 175l-1 2 2 2 1 2M855 145l-1 -1 -2 1 -2 -1M812 114l2 0 2 0M856 184l-2 1 -1 -1M747 244l2 1 1 1M855 176l-0 2 -1 2M785 144l-2 1 -2 1M833 130l0 -2 -1 -2 -0 -2M840 148l2 2 1 2 -1 1M772 109l-1 1 -2 2M777 107l-1 -2 1 -2 2 1M763 241l0 -2 2 0M786 160l-2 -2 -2 -1M796 137l-2 1 1 1 1 2M828 165l-1 -2 -1 -1M746 175l-2 1 -1 -1 -2 1M746 166l-1 2 2 1 -1 2M732 239l1 1 2 0 1 1M819 186l2 0 -0 -2M809 138l-2 1 -2 -0M796 108l1 -1 2 -1M735 217l1 -2 -2 -1 1 -2M772 120l-1 -1 -0 -2 -1 -2M815 176l-0 -3 -2 -0 -1 1M904 153l-1 1 1 2 -0 2M808 154l2 1 2 1 1 -2M808 112l2 -2 1 -1 2 0M793 152l-2 2 2 1M850 146l2 0 2 1 -0 2M804 107l2 0 2 -0M737 193l-1 2 -1 1M750 244l2 -2 0 -2 2 0M724 160l2 2 -0 2 0 2M721 161l2 1 1 -2M774 154l2 -0 0 -2 2 0M797 144l-0 -2 -2 -1 -1 -2M757 256l1 -2 1 -2M716 181l-2 -1 -1 1M858 174l2 -0 -0 -2M795 131l2 -1 1 1 1 -2M724 157l1 -2 -1 -2M888 171l0 2 1 2 -1 2M745 170l-2 1 -2 0 -2 1M735 220l2 0 2 1 2 2M749 199l-1 1 -0 2 2 1M740 151l1 -1 1 -2 2 -0M755 170l-1 -1 -2 1M780 201l-1 -1 2 -1M733 221l-1 -1 -2 0 -2 1M745 197l0 2 -1 2 -1 2M783 108l-0 -2 -2 -1M756 129l-2 1 -2 2 -2 0M752 193l0 -3 2 -2 0 -2M787 115l1 -2 -0 -2M737 227l0 2 0 2 -1 2M717 213l-0 -2 -2 -0 -0 -2M881 163l2 1 1 1M875 183l-1 -1 -2 0 -2 1M770 110l-2 2 1 1M751 159l2 0 2 -1M804 141l-0 2 -1 1 -0 -2M781 171l-0 2 -2 1M776 106l1 1 1 -1 2 -1M762 252l-0 -2 2 -1M837 133l-1 -2 3 -0M784 111l0 2 2 -1 1 1M772 124l0 2 2 1 2 -1M786 174l-2 -2 -1 1M706 225l-1 -1 -1 1M903 157l-3 -0 0 2M720 187l1 -1 -0 -2 -1 -2M801 105l2 -1 1 -1M842 97l-1 1 1 2M855 140l2 0 2 1 1 1M860 200l1 1 -0 2M786 220l-0 -2 -1 -2 -1 -2M729 163l-2 -1 0 -2M810 123l2 -1 1 2M835 147l-2 -1 -1 2 1 2M865 132l0 -2 -2 -1 -1 -2M763 200l2 1 1 1M726 240l0 -2 2 -0M826 131l2 -1 -0 -1M765 129l-2 -1 1 -1M818 124l0 -2 2 -1M772 205l1 2 -2 0 -1 -2M829 199l2 2 1 1 1 1M847 179l2 2 0 2 -1 1M775 226l2 -2 1 1 -2 1M803 141l-2 -1 1 -2 -2 -2M784 210l0 2 -2 0 -2 -0M713 228l1 2 -1 2 2 0M750 253l-1 2 -2 -1M830 168l1 -1 2 1M787 120l-0 2 -2 -1 -2 0M744 215l0 -2 2 0 2 -1M769 133l1 1 2 -0 1 2M777 131l2 -1 2 -1M763 212l1 -1 2 -1 1 -2M827 138l-1 1 -1 1 2 1M855 184l-0 2 2 0M877 177l2 1 -1 1 1 1M761 198l-2 2 -1 -2M695 254l-1 -2 -1 -2M833 167l-0 -2 1 -1 1 -2M736 180l-1 -2 -2 -1M798 108l-1 -1 -1 -2 -2 -1M704 230l-1 -1 1 -2 2 1M801 135l1 -2 2 -2 1 -2M872 201l-1 -2 0 -2M821 109l-2 1 -0 2 2 1M736 174l-0 2 -2 1 -1 2M766 164l-2 1 -0 -3M758 194l1 -2 0 -2 -2 -1M812 137l2 -0 1 3 -2 1M811 107l0 2 2 1M879 164l-2 -1 -2 -2 -2 1M892 136l2 -1 1 1M798 136l2 0 2 -1M709 229l-2 -1 1 -1 0 -2M738 138l-1 2 1 2M876 168l2 2 1 1 -2 2M857 132l-1 1 -2 0 -2 1M832 199l2 0 1 -1M712 193l-0 3 2 1M849 124l1 -2 -2 -0M772 211l0 2 -1 1 -1 2M859 131l-2 -0 -1 2M750 166l2 -1 2 -0 -0 2M753 220l-2 -2 0 -2M809 171l2 -0 1 1 -2 1M724 159l1 -2 2 1M769 132l1 -2 1 -1 2 -2M770 203l0 2 0 2 2 0M848 184l-2 -0 -1 -1 -0 -2M770 110l-2 -1 1 -2 2 2M769 149l-1 2 -2 1M733 226l-1 2 -0 2M846 137l2 -0 -0 -2M870 207l-1 -2 2 -1M820 172l2 -1 1 2M873 147l-1 2 -0 2 0 2M766 146l-0 2 0 2 -2 -0M886 174l2 -0 1 1M776 141l2 0 2 1 2 -0M773 142l-1 -2 -2 -2 0 -2M808 107l2 1 1 -2 -2 -0M791 145l2 -2 -0 -2M716 241l-2 -1 -0 -2 1 -2M854 206l-2 1 -1 1 0 2M858 114l-1 2 2 0 -1 2M789 129l-1 2 -1 -1 -2 -1M795 178l-1 -1 -1 1 -0 2M837 165l-0 2 -2 0M752 246l1 -0 -1 -2 0 -3M759 129l-1 -1 -2 -0M804 124l-1 -2 -2 2M836 187l2 1 1 -1 2 1M712 179l0 2 -2 1 -2 -1M726 175l-0 2 2 0M878 173l-1 -1 -2 1M812 111l2 -1 2 1M725 195l-2 -1 1 -2 2 -1M748 235l-1 -2 1 -2 -1 -2M820 176l-1 1 -2 0M833 116l-1 -1 -2 0 -2 2M782 196l2 -2 2 0M804 104l-1 -2 2 -1 1 1M848 136l-2 -0 1 2 1 1M794 175l-0 1 -2 0M763 114l2 2 1 2M784 195l-2 0 -0 -3 -1 -1M855 184l2 -1 1 -2 -2 -1M777 124l-1 1 -1 2M816 121l-2 -0 -1 2M811 158l2 -1 2 0 2 0M909 156l1 1 -1 1 -2 -0M747 173l1 2 -2 -0M905 161l1 -1 2 0M745 248l-2 -1 -2 -2 -0 -2M705 242l1 -2 2 1M729 184l2 0 0 2 2 -0M879 188l1 -1 -0 -2 -1 -2M877 138l-1 1 -1 2M767 204l0 2 2 -1M870 181l-0 -2 -2 0 -2 1M887 141l-2 1 -2 1M898 159l-2 -1 1 -2M761 192l1 1 -1 2M847 182l-1 -2 -0 -2 2 0M816 113l2 1 0 -2 -2 0M860 195l1 2 2 -1M876 160l-2 1 0 2 2 -0M775 197l1 -1 -2 -1 1 -1M723 168l1 2 -2 1M836 197l-2 -0 -0 -2 2 -1M865 191l-0 2 -2 0 -0 -2M706 233l-1 -2 -2 -1M833 174l1 -2 1 2 -1 2M792 149l1 1 2 -1 1 -2M784 151l1 -2 -1 -1 1 -2M848 120l-0 2 2 -1M742 203l1 -1 -0 -2M783 202l-1 -1 -2 -0M796 102l-2 -1 -1 2M807 116l-2 1 -2 -0M701 262l-0 -2 -2 -1 -0 -2M840 183l1 -2 2 -1 2 1M768 135l2 -1 0 2 -0 2M863 178l-1 -1 -1 -2 1 -1M830 190l-1 -2 -2 1M744 177l-2 1 1 2 2 0M706 222l-1 2 2 1 -0 2M851 118l2 0 2 -1 2 -2M712 207l2 1 -1 1M786 137l-2 0 -2 -1M753 157l1 -2 -1 -2 0 -2M871 147l0 2 1 -1M709 201l-2 -0 -1 -2 -0 -2M841 186l-0 -2 2 -0M749 166l-0 -2 1 -2 2 0M789 103l-1 1 -1 2 1 1M741 254l-2 -0 -1 -2M830 125l-2 -0 -1 2 1 2M882 200l-1 2 0 2 2 -0M718 244l-1 2 -1 2 -2 -2M785 122l0 -2 2 -1M825 145l1 -1 1 -2 -2 -0M787 127l-0 2 1 1M885 169l0 2 1 1 1 2M788 138l2 0 1 -0M904 175l0 2 -2 0M830 205l0 -2 1 -1 -1 -1M882 183l-2 -1 -1 -1M739 258l-2 1 1 1 0 2M719 192l2 -1 -1 -2M904 152l2 1 1 2M750 206l-2 1 -0 2M857 115l2 0 2 -1M722 155l2 1 -0 2 -1 1M878 170l1 1 3 0 1 -1M716 193l2 1 1 1M739 261l-2 0 -0 2M764 113l2 2 1 -1M792 162l0 -2 2 -1 -0 -2M890 144l-2 -1 -1 -1M821 132l-2 0 -0 3M796 138l-2 -0 -1 -1 2 -1M766 165l-2 -1 -0 -2M872 157l-0 -2 -2 0 -0 2M728 164l-1 1 -1 -1 -2 -1M734 251l1 2 -2 1M872 207l2 -1 2 1M784 104l-1 -2 0 -2M821 113l-2 -1 -1 -1M882 197l-2 -1 -2 -1 -1 1M748 246l-2 1 -2 1M710 244l-0 -2 1 -2M854 189l1 1 2 -1M857 116l1 -2 2 -0 2 0M710 187l-1 -1 -2 1M745 161l-2 2 -2 -1M754 178l2 -0 -1 -2M894 164l-2 -2 1 -2M788 194l2 0 1 -2M733 199l2 -0 1 2M761 217l-1 2 -2 0 -1 2M842 184l1 -1 1 -2 1 -1M752 259l-2 2 -2 -0M868 123l-0 -2 -1 -1 -0 -2M800 117l-1 -1 1 -1 -0 -2M797 138l1 2 -2 1M755 239l2 2 1 1 1 0M719 154l1 1 1 1M712 214l1 2 2 -0M809 181l2 0 0 -2M800 103l-2 -0 -2 2M708 228l1 2 -1 2 -2 -2M745 168l-2 -0 -2 -1 -2 0M849 150l1 -1 1 2M779 193l-1 2 -1 1M748 123l-1 1 1 2M732 127l-0 2 -0 2 1 2M733 215l1 -1 -1 -1M752 126l-2 -1 -2 1M735 235l1 -2 2 -1M856 118l-1 1 -2 0 -2 1M783 153l1 1 -1 1 -0 2M777 224l2 -0 -0 2M790 114l0 -2 2 -1 2 -2M892 140l0 2 1 2M863 140l2 -1 1 -1M846 135l2 0 1 1 -1 2M845 99l-1 1 -1 1M862 205l-2 1 -2 1M794 176l0 -2 -1 -2M874 209l2 -1 2 1M732 194l-2 0 -0 -2 -2 -1M736 222l-2 -0 0 -3M784 133l1 2 2 -1 1 -1M734 187l-1 2 -1 2M747 160l0 -2 -2 0M900 164l-1 2 -2 1M786 125l2 -0 1 2 1 2M791 144l-1 1 1 2M859 121l2 1 -1 2M722 176l-0 2 1 2 2 1M752 223l0 2 1 1M811 113l-1 -2 -2 -0 -2 1M753 214l1 2 2 0 -0 -2M875 184l-2 -0 -1 -2M850 110l-2 -1 -1 -2 -1 -1M813 175l2 1 1 2 2 -1M846 173l-2 -0 -1 2M749 180l-2 0 -2 -2M870 198l-1 -2 2 -1M816 119l1 -1 -1 -2 2 -2M788 159l-1 -1 -2 1 -2 -1M760 221l2 1 2 1M713 250l-0 -2 -2 1 -1 -1M887 183l1 -1 2 0M761 120l-0 -2 -1 -1M741 156l1 -2 2 2 2 -0M862 185l0 -2 -1 -1M856 109l-1 -1 -1 -2M793 103l-2 -0 -2 -1 -2 -0M740 222l-0 -2 2 -0M763 252l2 -1 0 -2M832 128l-1 2 2 1M776 221l-1 -2 -0 -2 -2 -1M861 202l-3 -0 -2 -0M708 242l-1 -2 -1 -2 -1 1M765 218l1 -2 1 1 -0 2M774 123l-1 1 -2 0 -1 2M773 113l-0 2 2 2 2 2M769 121l1 -2 -1 -2M793 176l-2 -1 -2 2M870 141l-2 -1 -1 2 1 2M803 136l1 2 -2 1 -1 -1M731 252l-1 -2 -1 -2M838 115l1 -2 -1 -2 1 -1M711 222l-2 -2 1 -2 2 1M736 214l-2 1 -2 0 -2 -1M783 220l-1 -1 -1 1M871 200l0 -2 2 1 1 -2M746 206l1 2 1 1 1 1M803 112l-1 2 -0 2M862 128l-1 2 -2 0M882 196l1 -1 2 0M904 155l-1 1 -2 0M894 183l1 2 2 -1M865 186l-2 2 0 2M892 186l-0 2 2 -0M878 177l2 0 1 1M706 245l0 2 -2 -0M852 134l-1 1 -2 1 -2 1M736 151l-1 -1 -2 -1 -1 2M816 118l2 -1 1 1M808 183l1 -2 2 -1 1 1M847 151l1 2 2 -0 0 2M892 179l-0 2 -2 -1M809 178l2 2 2 -1 0 -2M820 128l-2 -0 -1 2M793 212l-2 2 -0 2M734 197l-2 -1 1 -1 -1 -2M863 139l-2 -1 1 -2 2 -0M853 128l2 -1 2 1 1 0M740 142l-2 -2 -0 -2 -2 1M716 204l1 -1 -1 -2M759 250l1 -1 -1 -2 2 -1M837 179l2 1 2 0M769 158l0 2 2 1 2 0M746 230l0 -2 -2 0M708 212l2 0 1 1 2 -1M818 127l-2 -0 1 -2M896 167l-2 1 -2 -2M878 173l-1 -2 -2 1M796 112l-2 -2 -1 -1 -1 -2M779 106l-1 -2 -2 -1 1 -2M886 184l2 -1 2 0 1 -2M752 240l1 -1 1 -2 2 -0M876 197l-2 -1 -3 1 -1 2M817 139l2 -1 1 -2 2 1M795 142l-1 2 -0 2 1 1M808 180l-2 -1 -0 -2M714 253l-2 -1 -2 -1M751 160l-2 -1 -1 1 -1 1M831 201l-1 2 1 1 0 2M865 131l-2 -0 0 -2 -1 -2M796 188l1 -2 1 -1M892 171l-2 1 -0 1 -1 2M801 146l-2 -0 -1 1M714 216l-0 2 -1 1 -1 -2M761 246l1 -2 2 0M788 122l-1 -1 1 -2M838 190l2 -0 2 1M768 135l2 -1 -1 -2 0 -2M708 213l2 0 1 1M898 173l-2 0 -0 -2 1 -1M777 215l-2 1 -0 2M852 100l2 0 1 -1 0 -2M874 171l1 -2 1 -2M814 174l-0 2 -1 2 -1 1M734 174l1 -1 -1 -2M712 258l1 2 -2 1 -1 1M781 119l-1 1 -2 1M842 175l-2 2 1 1M852 126l0 -2 -2 -1 -0 -2M792 102l-0 2 2 1 1 -1M855 185l1 -1 1 -2M731 258l1 1 1 1M800 120l-2 1 -1 -1 -1 -2M797 187l1 -1 -0 -2 -2 -0M713 179l0 -2 -1 -2 -2 0M848 108l-0 -2 -2 1M805 128l-2 1 -1 -2M722 192l1 1 1 2 -2 1M796 154l1 1 -1 2 1 1M839 134l1 -2 2 -2 1 -2M783 124l1 -2 -0 -2 1 -2M851 198l-1 -2 1 -1 2 1M849 131l0 2 2 1M699 258l2 0 2 -1M739 148l2 1 1 1M851 181l1 1 1 -1M752 178l-1 -1 -2 -1 -2 -1M822 182l1 -2 -1 -1M744 184l-0 2 -2 -0M743 155l0 -2 -2 -1M736 151l-0 -2 2 -1M819 108l1 -1 2 -2M830 198l-3 0 -1 2M723 198l2 -1 3 0M759 197l0 -2 -2 -0 -1 -2M863 131l-0 -2 -2 -1M777 212l-1 -2 0 -2 -2 -1M750 162l2 -1 1 -1M747 176l-2 1 -0 2 -2 -0M733 132l-2 2 1 1 2 -2M881 176l-1 2 2 1 0 2M715 183l-2 0 -1 -2M761 134l-1 -1 -0 -2M859 106l-1 1 -1 1 0 2M716 213l-2 1 -2 1M811 195l-1 -2 -0 -2M746 204l-2 0 -1 1 1 1M882 177l-1 -1 -0 -2M832 118l-2 1 -1 2M749 127l-1 1 -1 2M839 173l1 2 -2 1M793 183l-2 -2 1 -1 1 -2M782 206l2 0 2 -1M876 140l2 0 1 1M898 150l-2 1 -2 -1 -1 -1M908 172l1 -2 -1 -2M789 165l-2 0 -0 2 2 1M896 170l2 0 0 2M855 101l-2 -1 -2 -1M761 118l-1 1 -2 -1 -2 -0M907 164l2 -2 -1 -2M841 146l-2 1 -0 2M853 118l-1 -2 1 -2M802 182l0 2 -2 -0M886 172l2 -1 1 2M702 261l-1 1 -2 2 -2 -0M773 197l-2 -1 -2 -1M741 154l-0 2 -0 2 0 2M788 114l-0 2 2 -1 2 0M904 150l1 1 1 -2M837 205l-2 1 -2 -1M768 164l2 1 2 -0M798 126l-0 -1 0 -2M796 171l1 -1 -2 -1 -1 -2M750 187l2 2 1 1 1 -2M769 150l1 2 1 2M777 192l2 -1 0 -2 -2 -1M799 137l2 0 2 -2M802 120l1 1 2 -1 2 -0M798 171l-1 -2 -2 -0 -0 2M746 178l1 -1 1 -1M750 123l-1 -2 -2 1 -2 -0M866 179l-2 1 -0 -2 1 -2M761 210l-1 -1 -2 -0M718 229l2 -0 1 2 1 1M753 266l-0 2 1 1M730 182l2 -0 1 -2M782 209l-1 2 -2 0M760 260l-1 -2 -2 1 -2 1M807 138l-1 -1 -2 -0M822 140l2 0 -0 2 -1 1M750 126l-2 1 -1 1M849 187l2 0 0 2 2 1M856 110l1 2 -1 1 2 2M904 173l0 -2 1 -2 -0 -3M827 127l-2 -0 -0 -2 2 -1M768 104l2 -0 1 -2 0 -1M884 178l2 0 2 2 -1 2M760 198l2 -0 2 0M861 189l1 -1 -0 -3 -2 0M895 161l2 -1 -1 -2 -0 -2M818 134l-1 -1 -1 -2 1 -2M842 147l2 1 -0 2M848 188l3 1 -0 2M751 187l-2 1 -1 -1 -2 2M845 195l-0 -2 1 -1M903 167l1 2 2 0 0 2M779 206l2 2 -0 2M776 227l-0 2 1 1 1 1M784 144l-2 2 -2 -1M790 112l-0 2 2 1 1 -0M774 198l-0 -2 -1 -2 2 -1M736 257l1 -2 2 -0M876 163l2 -1 1 1 2 -1M721 176l-0 -2 2 -1M756 250l1 1 -2 2 -2 0M821 180l1 -2 -2 -0 1 -2M806 102l2 -0 0 2 -1 1M836 203l2 -0 0 -3 -2 -1M708 206l0 2 -2 0M784 146l-2 0 -1 0 -0 -2M904 151l1 -1 2 -0M883 186l-1 -2 -2 1 -2 0M723 170l1 2 -1 2M883 139l-1 2 -2 -1M840 135l1 -2 -1 -1 0 -3M874 165l-0 -2 -2 0 0 2M808 177l-0 2 -2 1 0 2M806 127l1 1 1 2M829 119l-0 2 -2 2M871 208l-1 2 2 1 1 -1M883 174l-2 1 -2 -0 -1 -2M865 150l-2 1 -2 -0M723 163l2 1 2 -1 2 0M849 138l-1 1 -1 1M789 105l2 1 -0 2M703 199l0 -2 0 -2 -2 -1M777 195l-1 -1 1 -1M884 185l-2 -1 -2 2M732 188l1 2 -0 3 -0 2M883 205l1 1 2 0 1 1M858 138l-0 2 1 2 2 -0M832 116l-1 -2 -2 -1M811 128l-1 -1 -1 -1 -1 1M759 123l-1 2 -0 2M836 198l-1 2 -2 1M813 188l-1 -2 0 -2M704 204l2 0 2 2 1 2M825 119l-2 -0 -2 -1 -0 -2M718 208l2 1 1 -2 2 -0M771 144l-1 -2 -1 -2 -3 -1M811 113l-1 -1 0 -2M871 205l3 0 -1 2M767 164l-2 -0 -2 -0 -1 2M829 140l1 2 2 0 1 2M777 128l-2 1 -1 -2M779 148l-1 2 0 2 1 2M847 149l3 -0 2 0M705 224l-1 -2 1 -1 -1 -2M770 211l1 2 0 2M773 161l-2 -2 1 -2M734 179l-1 -1 -1 1 -1 -1M826 111l2 1 3 0M804 127l-1 2 -1 1M814 111l-1 2 0 2 -2 0M840 191l2 0 -1 2M857 143l2 2 2 1 -0 2M808 104l-2 -1 -2 -1 1 -2M882 187l-1 -1 -0 -1 -2 0M883 195l-2 -1 -1 -1 -1 -1M738 183l-2 1 0 2 -1 2M755 125l0 -2 -2 -0M811 190l-2 2 -1 2M758 163l2 -1 -1 -2 -2 -1M742 173l2 -1 2 0 2 -1M719 182l1 1 1 -1M778 131l1 2 1 1 1 2M839 196l1 -2 -2 -1 1 -2M836 171l-2 0 -2 0 -2 1M794 141l1 -2 2 0 1 1M787 115l-1 1 0 2 1 2M780 131l-0 -2 -1 -1M763 143l-1 -1 -1 1 -2 0M728 191l-0 2 -2 -0M742 158l1 -2 1 -1 2 -1M879 202l-1 1 -2 0 -0 2M723 177l-1 -2 2 -1 1 -2M759 255l0 -2 -1 -2 -1 -2M828 187l1 2 -1 2 1 2M910 174l2 1 2 -0M877 163l-1 1 -2 1M794 167l1 2 -1 1 -2 1M879 182l0 2 2 -0M801 104l-1 1 -0 3 1 2M722 243l1 -1 1 -2M774 198l2 2 -0 2M873 141l-1 -2 2 -2 -1 -1M838 135l2 -0 -0 -2M834 167l1 2 0 2 -1 2M801 111l0 -2 1 -2M780 152l-2 -1 1 -2 1 -1M850 145l1 2 1 2 -0 2M761 122l1 -2 -2 -1 -1 -1M784 124l2 -1 2 -1 2 1M757 216l2 -0 0 -3M769 192l-1 -2 1 -2M872 143l-1 1 -1 1 -1 1M769 115l1 2 1 2M788 137l-2 -2 -1 -2M723 187l-2 0 -0 2M765 117l1 2 2 -1M844 151l-0 -2 -1 -1 -2 1M742 209l1 2 2 1 -1 1M718 140l2 -1 -0 -2M757 220l2 -1 -1 -1 -1 2M781 141l-2 2 -1 1 1 1M797 106l2 1 1 2 1 -2M717 188l-1 -2 2 -1 1 -2M845 140l2 0 1 2 -3 0M828 166l2 0 2 0 2 -1M772 112l2 -1 -2 -1M732 211l2 1 0 2M749 171l-2 -1 -1 2 -1 -0M861 174l1 2 1 1M789 177l-0 -2 2 -0M811 153l1 1 1 -1M788 142l-2 1 -2 0 -2 0M768 208l1 2 1 2M743 267l1 2 -1 2M813 169l-1 2 -2 0M806 183l0 2 2 1M694 257l1 -2 1 -2M829 139l1 2 -2 0M784 162l-2 -1 -1 2 -1 -1M778 104l-0 -2 -2 0 -1 -1M810 163l-2 0 0 -2M795 167l0 2 2 -1 1 2M743 171l2 -0 0 -2 -2 0M703 232l0 2 -0 2 -1 1M720 153l3 0 1 -2 -2 -1M772 140l1 -2 -2 -1M869 199l-1 1 2 1M886 136l1 -1 1 1 2 0M783 135l-2 1 -1 -2 1 -2M758 222l2 -2 -1 -2M793 199l2 1 -0 2 1 2M872 172l0 2 -2 0M804 185l-0 2 2 0M812 196l-1 -2 -2 -2 1 -2M801 139l1 -2 -2 -1M749 178l1 -2 -2 -1 -2 2M788 118l-1 0 -1 -1M764 190l-1 -1 -1 1 1 1M794 101l-2 -1 -1 1M737 196l-2 2 -2 0M823 137l-0 2 2 0 2 1M745 232l0 -2 -2 -1M781 105l-2 -0 -1 -2M822 134l1 -2 1 -1 2 0M856 198l2 -2 2 -1M867 203l-1 1 -2 1M879 170l2 1 2 1M844 139l-1 -1 1 -1M792 151l-1 2 -2 1 -1 2M729 169l2 -0 1 2 0 2M751 240l-2 0 -2 -0 -1 2M808 184l0 2 1 1 -2 2M890 175l2 -0 -0 -2 -2 0M741 131l2 1 -0 2 2 0M737 257l0 -2 -1 -1 2 -1M751 161l2 1 2 -2 1 -1M846 151l2 1 1 2 -2 1M893 148l2 1 1 2M797 112l1 -1 -2 -0 -1 -2M709 190l-2 -0 -2 1 -2 0M730 174l-2 -1 -0 -2M832 120l-0 -2 -2 1M823 122l2 0 0 3 -2 -0M709 266l-2 -1 -2 0M761 161l-1 1 -1 -1M774 134l-2 -0 -0 2M788 173l-2 2 -2 1M750 121l1 -2 -2 -0M825 178l-1 -1 -2 -1 -2 -0M766 154l-2 1 1 2 2 1M817 179l2 -1 2 0 -0 -2M778 141l2 -1 1 2 1 3M755 249l-2 -1 -2 -1M785 195l1 1 0 2M798 176l-2 1 1 1M889 171l-2 -1 -0 2 1 1M820 180l-0 2 -2 -0M806 137l1 1 2 -0M777 228l-2 0 -0 -2M797 96l-1 2 1 2M738 196l-1 -1 -1 1M829 114l2 1 2 -0 -1 -1M768 162l0 2 -1 2 1 2M761 154l-2 0 -2 0M816 137l1 -1 2 0 2 -1M781 223l1 1 2 0 1 2M713 198l-1 -2 1 -1 2 1M801 146l-0 -2 -1 -2M823 184l-2 -1 -1 -1M764 204l-0 2 -2 -0 -1 -2M788 103l-1 1 -2 -1M733 145l2 1 -0 2M828 114l0 1 1 2 2 -1M794 109l-2 -0 -1 -2M818 176l1 -1 -1 -1M779 204l2 -1 -1 -2 2 -1M761 222l1 -1 1 -2M749 180l-1 -2 1 -1M794 96l1 -2 -1 -2M739 251l1 -2 2 1M794 146l1 -1 2 0M806 102l-2 1 -2 -2 0 -3M749 218l-2 1 -2 1M759 239l2 0 2 -0M772 134l-2 0 -1 -1 -2 0M764 128l-1 -1 -1 2 -2 0M741 126l-1 1 2 1 0 2M764 194l1 1 -1 2 1 0M705 225l2 -0 1 2M753 198l-2 0 -1 -2M776 180l-1 -1 -1 1M730 251l-0 2 1 2M756 175l-2 1 -2 -0M757 153l-0 2 2 -0 2 -2M762 246l2 -1 1 -1 2 1M698 262l2 1 -0 2M822 121l-2 1 -1 1M706 199l-1 -2 -2 -1 -2 0M776 204l2 1 2 -1M710 250l1 2 -1 2M812 180l3 0 -0 -2M756 175l-1 2 -2 -1M756 129l1 1 1 2M767 205l1 1 -0 2M834 117l-2 -2 -1 -2M792 170l1 -2 -1 -2 2 -1M788 100l2 1 -0 2 -1 2M710 249l-1 1 -0 3M735 215l-1 1 -1 -1M745 211l0 2 2 -1 2 -1M773 143l0 2 -0 2M756 255l-1 -2 1 -2M871 194l1 -1 2 1 2 1M716 228l1 -1 2 1M815 175l-2 -0 -1 1 -2 0M745 126l-0 -2 -2 -0 -2 0M798 105l-2 -0 0 -2M777 128l-1 2 -2 0M787 174l2 1 1 -1M858 186l1 -2 1 -2M743 232l-1 2 1 1M732 174l2 -1 2 -0M760 175l2 0 1 2M880 175l-2 0 -2 -2 -1 -1M776 140l2 -0 1 -2 -2 -1M776 150l2 -1 0 -2M824 129l-2 -1 -0 -2 0 -2M727 162l0 -2 -1 -1M834 170l0 -2 -1 -2M786 172l0 -2 -2 -0M829 133l-0 -2 2 -1M905 158l1 1 1 1 2 -1M700 227l2 -0 2 0 2 -0M790 219l2 0 2 0 2 1M703 233l2 -1 2 0M895 140l-2 -0 -1 1M786 218l2 -1 0 -2M803 112l1 2 2 -0M747 267l-1 2 -0 2 1 1M738 137l-2 1 -1 -2 -2 1M878 142l2 -1 2 0 1 -1M769 139l1 -1 1 1M701 226l-1 -1 -2 1 -2 1M759 196l-2 1 -0 2M752 123l-2 2 -2 -1M711 264l-1 2 2 0M820 110l-1 -2 2 -1 -1 -2M751 206l0 -2 2 0M781 167l0 -2 -2 -0 -1 1M707 212l-1 2 -0 2 2 1M858 140l-2 1 -2 2 -2 0M764 214l1 2 1 -1 -1 -1M894 143l-0 2 2 0M746 258l1 2 1 2M753 208l1 -2 -0 -2M857 202l-1 1 1 1M793 208l1 -1 2 -0 2 -1M773 115l2 -1 -0 -2M810 117l2 1 -1 1 -1 1M745 205l-2 -1 -1 1M751 242l-2 -2 -1 1M756 129l2 -2 1 -2M744 257l-1 1 -2 1 -0 3M837 141l-1 1 1 2 1 1M812 165l0 2 -2 1M764 218l2 -1 1 2 2 -0M754 247l2 0 2 1M742 199l-2 -0 -2 -0 -2 1M729 165l1 1 1 -2 2 1M766 110l0 -2 0 -3M780 226l-1 2 -1 2 -2 -2M786 145l2 -0 1 -1 1 -1M749 179l2 1 2 -0 -0 -2M755 164l0 -2 2 0 2 1M777 149l-2 1 -0 -2 -2 -0M779 196l-2 -1 0 -2 2 0M787 115l2 -1 2 0 1 2M899 161l2 -0 2 -0M787 155l-2 -0 -2 2M764 122l0 -2 2 -1 0 2M731 156l-2 -0 -2 1 -0 -2M730 260l2 -1 -1 -1 -1 -2M860 130l-1 -1 -2 -0M774 229l1 1 1 2 1 1M875 172l-1 1 -2 1M865 183l1 2 1 2 -2 0M823 134l0 2 -2 2 -1 2M729 160l-1 -2 2 -0M859 207l-2 0 0 2M716 149l1 -2 -1 -2 -2 -1M766 189l-1 1 -2 -2 1 -2M836 153l2 0 -0 -3M723 166l-1 -1 -2 2M838 193l1 -2 -1 -2 1 -2M851 123l-1 2 -1 1M825 183l-2 -1 -0 2M829 197l-0 2 -1 2M902 165l-1 2 -2 -1M897 152l-0 2 2 2 1 1M712 259l1 -0 1 2 0 2M774 107l1 1 1 -2M728 228l-2 1 -1 -1M789 141l0 -2 0 -2 1 -1M766 207l2 -1 1 1 2 -2M764 188l1 1 0 2M793 123l-2 -1 -0 -2 -1 -2M745 161l-0 2 -0 2M701 239l-1 -2 1 -1 2 -2M831 198l-0 -2 2 -1M841 175l-1 2 -2 1M724 177l-1 2 -2 -1M904 163l2 -1 1 1M783 147l2 -0 2 -1 1 -1M870 181l-1 1 -1 2M780 133l-2 0 -1 2 1 1M825 120l-1 -2 -2 1 1 2M870 193l2 -0 1 -1M775 109l-1 -2 -2 0M895 183l-1 -1 -1 2 2 2M858 105l1 2 1 2 1 1M710 215l2 -1 -1 -2 -2 -1M707 238l1 -1 2 0M853 188l1 2 -1 2M809 126l0 -2 -2 -1 -1 -1M712 180l-1 2 1 1 3 0M861 115l1 -2 1 1 2 0M748 156l-2 -0 0 2M756 128l2 1 1 -2M807 123l2 1 0 2M727 159l-1 2 -0 2M857 198l-2 1 -1 2M857 119l-1 2 1 2 -1 2M827 182l-1 2 -1 2 -1 2M832 116l-1 2 -2 0M857 124l1 2 1 2 -1 2M736 212l-2 -1 -2 1 -2 0M789 147l-2 -2 0 -2M754 196l-0 2 -2 -0M896 154l-2 -1 -2 0 -0 2M848 202l-1 1 -3 -1 0 2M876 188l-1 2 -2 -1 1 -2M721 156l1 1 0 2 2 -1M761 150l2 -1 1 -2M706 207l-1 2 -2 0 -2 -0M790 122l-1 1 -2 1M804 136l-0 -2 2 -0 0 2M746 161l-1 -2 -2 1M746 170l-1 -2 1 -2M739 218l-1 -2 -2 -1M780 118l-2 1 -1 2M868 126l-2 -1 1 -1M772 104l1 1 -2 1 2 1M784 171l-2 -1 -1 -0 -1 2M724 179l2 -1 1 2 2 1M838 132l1 -2 1 1M832 191l1 2 -2 1M735 178l-2 0 -1 -2 -1 -2M860 196l0 2 -2 -0M773 215l-0 -2 1 -2M831 141l2 1 1 -2 -1 -2M802 151l1 2 -1 2M717 197l2 -1 1 1 0 2M738 183l-1 1 -1 2M833 98l1 1 -0 2 -2 1M717 176l0 2 -1 2 -0 2M790 153l-1 -1 2 -2M733 248l3 -0 -1 -2 1 -1M726 198l1 1 0 2M795 134l-2 -1 -0 -2 -1 -1M795 164l2 1 -0 2 -2 -0M894 148l1 -1 2 0M736 132l2 -1 2 -1 -0 -2M817 187l-1 -2 1 -2 -2 -1M758 218l-0 -2 -3 -0 -1 -2M850 190l2 2 -2 1M835 170l0 -2 -1 -2M784 171l-1 2 0 2M907 165l-1 -2 -2 1M855 133l2 0 -0 -2 2 0M768 211l2 1 2 -2M822 174l2 1 2 0 2 1M748 241l0 2 -0 2M737 218l-2 -1 0 -2 -1 -1M768 162l2 -1 1 -1 2 0M752 174l-1 -1 1 -2 1 -2M841 171l-1 2 0 2M894 158l1 -2 2 -1M806 119l-0 2 -1 1 1 2M855 130l-1 -2 1 -2 0 -2M756 130l0 -2 2 0M795 199l-2 1 -1 -2M825 179l-1 2 -2 0 1 2M810 186l0 -2 1 -1M777 121l1 1 2 2 -0 2M875 182l-2 2 -2 -1M762 161l-0 2 -2 1M768 128l-2 -0 1 -2" stroke="#38F038" stroke-width="1.1" fill="none" stroke-linecap="round" stroke-linejoin="round"/><path d="M1075 33l-1 -2 0 -2 1 -1M992 124l2 -0 1 -2 1 -1M970 55l-1 2 -2 1M961 58l1 2 0 2 0 2M1022 99l-1 -1 -2 1M987 32l-2 1 1 2 2 0M1060 108l2 1 -1 2M1075 114l-2 -1 -2 -1 -2 1M956 168l-0 -2 2 -0 -1 -2M969 174l1 1 0 2 -2 1M927 86l-2 1 2 2M996 60l-2 -1 -1 2 -2 -0M1053 100l1 2 2 -0 1 -1M1085 69l-1 -2 -0 -2M951 167l2 -2 0 -2M964 170l-2 -1 -2 -2 -2 -0M1033 73l-1 2 2 1 -0 2M916 86l1 2 1 2M923 134l2 -1 1 2 1 2M978 150l0 -2 -1 -2 -2 -1M1032 86l-1 -1 2 -1M973 158l-2 -1 1 -2 -1 -1M933 157l-0 2 -1 1 -1 -1M956 172l-0 -2 2 0M1055 119l-0 -2 2 -1M1089 69l-2 -1 -2 -0 0 -2M931 167l0 2 2 0M980 167l-2 -1 -3 0M1079 95l-1 -2 0 -2M971 164l2 -0 2 1M1113 85l-0 -2 1 -1 2 -0M1029 49l0 2 2 2M944 67l-2 -1 -2 -0 -2 0M1009 110l-2 1 0 1M957 151l-2 -0 -1 1 2 1M1092 109l-1 1 1 2 2 -1M966 170l0 3 -2 0M1029 108l-2 -2 -1 1 1 2M1034 83l-2 -0 1 -2M906 77l-1 -2 -1 -1M1050 100l-0 -2 1 -1 -2 -1M1045 36l-1 2 2 0 1 2M966 131l1 2 0 2 2 2M1028 35l2 0 0 2M958 133l0 -2 -0 -1M1082 38l-0 2 2 1 1 -1M1012 82l-1 1 -0 2M968 82l-1 -2 -0 -1M930 86l0 -2 2 -1 2 -1M970 76l-2 1 -2 0 -0 -2M1110 77l-0 2 2 1M979 133l-2 -0 -1 -1 -1 1M1058 119l-1 -1 -2 0 -1 1M1018 41l-1 -1 -1 1M993 84l-2 -0 -2 1 1 2M949 57l1 1 1 2 2 2M1081 98l-1 -2 -2 0 0 -3M1028 49l-1 2 -2 1 -1 -2M1033 57l1 2 1 2M971 78l-1 1 2 1M1097 82l2 -0 -0 2 2 -0M977 182l2 -1 2 2M951 132l1 1 0 2 -1 1M1008 138l1 2 2 0 2 1M984 125l0 -2 2 -0 1 -2M934 148l-2 1 -2 -0 -2 -1M1063 39l2 1 1 2M916 88l-2 1 1 2M936 79l1 2 1 2M970 60l2 -1 2 1M1013 81l0 -2 2 -1M979 84l-0 -2 -1 -2 -2 1M1042 51l2 -1 2 0M1065 98l2 -1 1 2M913 80l-1 -1 -1 -1 -2 -0M955 43l2 1 -1 2 -1 2M1044 105l2 -0 2 1 1 2M1052 114l-2 1 -1 2 0 2M989 100l-1 2 1 2 2 -0M993 62l-2 2 2 1M978 146l1 1 2 1M1003 47l-2 -2 -2 -1M1017 77l-2 -1 1 -2 2 1M1089 54l-1 2 -2 -1 1 -2M976 143l0 2 1 2 1 2M1004 120l-1 -1 1 -2M989 87l1 -2 1 -1 2 2M1091 93l1 1 1 -1M1051 61l1 -2 2 0M944 90l1 -1 3 0 2 -2M1086 79l-2 -1 0 -1M1013 113l-1 1 -2 1 -1 -1M961 31l2 1 3 -0M902 89l-2 -2 -1 1 -1 -2M1055 58l2 2 2 2 -2 2M1112 74l-2 1 -1 -2M1067 47l-0 -2 -1 -2 -1 -2M918 71l-1 -1 -1 1M1069 40l1 2 2 -1 -0 -2M1104 68l-0 -2 2 -1M1014 50l2 -1 -1 -1 0 -2M945 91l1 -1 1 -2 -2 -1M934 151l-1 2 -2 1 -1 -2M1045 108l-2 -1 -1 2 0 3M1048 87l2 -1 2 2 1 2M980 76l1 2 2 -1M1037 111l-1 -1 -0 2 1 2M925 113l-2 -1 -1 -2 2 -1M906 79l1 2 0 2M1004 102l-2 -1 -1 1 -1 -1M930 102l-1 -2 2 -1M1092 80l2 -1 1 -1M1013 79l-2 0 -1 -2M966 93l-2 -1 1 -1 -2 -2M998 101l2 -0 1 2 1 2M978 183l-0 -2 -2 -1 -1 2M1045 61l-1 2 1 1M1093 91l1 0 2 -1M1013 119l2 1 2 -1M1032 34l0 -2 0 -2 -2 -1M976 152l-1 -2 -2 1 -2 0M930 106l2 1 1 -2M1013 80l-1 1 1 2M1038 79l2 -0 -0 2M988 91l2 -2 2 -0M1019 77l1 2 1 -1M1043 65l-2 -1 -1 2M1018 98l-1 2 1 2M962 82l1 2 1 1M1001 59l-0 2 2 0 2 -2M996 62l-2 -1 -2 -1 -2 -1M1072 100l2 -1 2 1 0 2M938 163l-1 2 1 1 0 -2M945 147l1 1 1 2 1 2M927 69l-2 0 -2 -0M1009 38l-2 -0 0 -2 1 -1M1007 108l2 -1 2 1 2 1M1110 76l1 1 2 1M1017 43l-2 0 -1 -1M1030 79l0 -2 -1 -2M1009 39l-1 1 -1 1 2 1M1057 49l-2 0 -2 -1M1093 55l-1 -1 1 -2 -2 -1M1075 83l-0 -2 2 -1 1 -1M978 100l-2 -1 -1 -2 -2 0M949 57l-0 -1 1 -1M979 106l2 -0 -0 -2M964 37l2 -1 -1 -2M1081 113l2 0 1 -1M992 175l-1 2 1 1M971 181l1 -1 2 -0M946 52l2 1 1 2M967 141l2 1 -1 2 -1 2M1011 39l-1 -1 0 -2M979 99l1 -2 0 -2M1094 103l-1 -1 2 -1 2 -0M987 34l-1 -2 2 -1 1 -2M1091 42l-1 -1 -2 -1M946 173l1 -2 -1 -1M1046 41l1 -2 2 -1M1084 103l-1 -0 -1 1 -1 2M962 30l-2 2 1 2 1 1M1010 134l2 -0 0 2M1000 83l1 2 -1 2 -2 1M1043 27l-1 2 -1 2M929 170l0 2 -1 2 -2 -1M1088 89l-1 -2 2 -1 2 -0M1081 37l-2 -1 -2 -0 -2 -1M997 76l-0 -2 0 -2M1074 105l1 1 2 -1M969 139l-2 1 -1 1M1014 46l-2 1 -2 0M1060 106l0 -2 -0 -2 -2 -1M907 115l2 -1 2 1M978 74l-2 -1 -1 2 -1 2M1078 91l2 1 0 2M972 183l-1 2 -1 1M1048 121l-1 1 -0 2M1005 127l2 1 -0 2 1 2M1047 109l-0 2 2 0M942 60l-0 2 -2 1 -2 -2M1046 102l-0 -2 -1 -2M985 68l2 -1 -1 -2M959 190l2 -0 0 -2M923 121l1 -2 -0 -2 1 -2M936 170l2 1 2 0 0 -2M948 67l-2 -1 -1 2M955 51l1 -2 2 -0M1048 83l-2 1 0 2M1048 97l-0 -2 -2 0M1070 41l2 1 2 -1M965 44l-1 -1 -1 -1M1080 92l-2 -0 -2 1M958 188l2 1 1 -2M1001 76l0 2 0 2 -1 1M923 78l-2 1 -0 -2 -0 -2M1100 71l1 -2 -2 -0M1069 100l-1 -1 -2 0M921 115l2 -2 1 -1M985 39l1 -2 1 -2 -2 -1M1108 67l1 2 2 2M936 85l2 -2 -1 -1M934 87l-1 2 -2 -0M958 158l1 -1 1 1M954 38l1 1 -0 2M1016 75l-0 -2 -2 1M908 106l-2 0 -2 0M1078 113l-2 1 0 2M949 153l0 -2 2 1 -2 2M941 38l1 2 2 -1 2 -0M978 90l2 0 1 -1 -2 -1M1069 69l-1 -2 -2 -1 -1 2M1048 117l1 2 -1 1M951 151l1 2 2 -1M1008 31l-1 2 -2 -1M939 162l-1 -1 1 -1 -1 -2M945 175l2 1 1 -2M908 89l-2 0 -0 2 -0 2M1059 55l-2 -1 -2 0 -1 -1M989 164l2 -0 2 -2 -2 -2M958 33l-2 -2 -1 -2 -0 -2M1075 35l1 -2 -1 -1M996 42l-1 -2 -1 -2 -2 0M930 73l1 1 2 -1M1052 123l-2 0 -2 -0 -1 -1M1077 79l0 2 2 0M967 32l-2 -1 -0 2 1 2M1090 60l-1 -2 -2 0 -0 2M987 134l-2 1 -1 -1M1076 92l2 0 2 2M1094 104l-1 -2 -2 -0 -2 0M971 56l-1 2 -2 1 -1 -2M983 124l-2 -0 -2 -0 -2 -1M960 65l1 2 -0 2 -1 -1M953 150l-1 1 -0 2M903 92l1 2 2 1 1 -1M913 136l-2 2 -1 2M1089 55l1 -2 1 -2 2 -0M1055 120l1 2 -0 2 -2 1M945 80l2 1 1 1M997 55l-0 -2 -2 -1 -1 2M1111 65l-1 -2 2 -0 0 -2M927 156l-1 -1 1 -1M967 54l2 1 1 2M947 180l-0 2 1 1 -2 1M1041 101l-0 -2 2 -1M908 129l1 -0 2 -1 1 1M915 81l-2 -1 -1 2 -2 0M962 43l-2 1 -1 2 1 2M1109 85l2 1 -0 2M976 172l0 -2 2 -1M1016 119l-1 -2 -1 -1 1 -1M1058 118l-2 -2 -2 1M1101 75l2 1 1 2 1 2M1009 122l-2 2 -0 2M967 58l1 2 -2 2 -0 2M979 99l-1 1 -2 1 0 2M973 162l1 -2 -0 -2M1006 45l0 2 2 0M1063 47l2 2 2 -1M989 119l-1 2 -0 2 -1 2M957 138l1 -1 2 -1 1 -2M918 82l-1 -2 2 -2 -1 -2M1048 61l2 2 2 -0 2 1M967 89l2 1 2 -0M978 50l1 1 1 2M1004 124l2 -1 1 -2 2 1M1049 115l1 1 1 -1M996 90l1 2 -1 2M1026 66l-2 1 -1 -1M986 100l1 -2 -2 -0M1097 92l3 -0 2 -0 2 -1M963 85l-1 2 -1 2M1101 83l2 -0 1 2 2 -0M921 99l-1 2 1 2 2 -1M958 128l2 -0 0 -2 -1 -2M1091 86l-1 2 -2 0M1051 95l2 -0 2 -0 -1 -2M1024 112l-0 -2 1 -2 -1 -2M1050 91l1 2 1 2 -0 2M970 68l1 1 1 1 2 -1M924 99l-2 0 -0 2M1109 90l0 2 -0 2M1085 50l2 -2 2 1M1002 133l-2 -1 -2 1 -1 2M1030 38l-2 1 -1 2 -2 0M971 149l1 1 0 2 2 0M926 156l2 0 2 1 -0 2M930 168l1 1 -2 1M1061 109l-1 -3 2 -0M943 68l1 -2 2 -0M1026 67l2 -2 2 -1 1 1M1079 69l0 2 1 2M957 45l1 0 2 1 1 -2M910 119l-2 -1 -1 1M924 130l-2 1 -1 2 -1 2M1059 53l0 2 0 2 2 -0M1007 85l-1 -2 -1 -1M1002 72l-1 -1 -2 0 -0 -2M980 103l1 3 1 1 -1 1M985 51l-0 -2 2 1M999 55l-2 2 0 2 -2 1M1026 59l-2 -1 -0 -2M1002 112l-1 2 0 2 2 -0M1076 46l2 -0 2 -1M919 99l1 -1 1 -1 1 -2M1000 124l-1 0 -1 -1M945 58l-2 0 -0 -2M1026 73l2 1 1 2 2 -0M1053 86l-0 2 -0 2 -2 1M997 39l2 0 1 1 2 -1M1046 61l2 1 2 -1M955 159l0 -2 2 0M1003 40l-1 -2 2 -2 2 -2M1103 77l-2 2 1 2M1059 53l-2 -1 0 -2 -2 -1M1040 79l-2 -2 2 -2M1021 80l1 2 -1 2 2 0M922 134l-0 2 -2 0M969 60l-1 -1 -1 -2M1026 76l2 -1 -1 -1 -2 1M1008 119l0 -2 -0 -2M918 120l-2 0 1 2 1 1M911 135l-2 0 -0 -2 -2 1M923 96l1 -1 2 1M1093 69l1 2 -2 -0M948 57l-1 2 -1 1 -2 -1M910 137l-0 2 -0 2 2 0M999 136l-2 -1 -1 2 0 1M1014 90l1 2 -0 2M1048 100l-2 -1 -2 1 -2 1M983 81l-2 1 2 2 2 -1M1055 107l2 1 -1 2M1042 79l-0 2 -1 2 0 2M913 140l-2 2 -2 1 -1 2M994 88l-1 -2 0 -2 1 -1M1055 42l2 1 2 0 1 2M1014 59l-1 2 1 2 -1 2M1109 82l1 -1 -0 -2M967 90l-1 -1 -2 0 -2 -1M1068 52l2 0 1 2 1 1M933 147l-1 2 -2 -1 -2 -0M1075 38l-1 2 -0 2M907 94l-2 -0 -0 -3 -1 -1M915 90l-2 1 -2 -1M1072 95l1 1 1 1M1078 52l1 -1 2 2 0 2M975 81l-2 0 -2 0M982 70l1 -2 -1 -2M984 114l2 0 -1 2 -1 -1M964 88l1 -3 1 1 0 2M964 130l1 -2 -2 -2M1098 100l-2 -1 1 -2 1 -2M1044 87l0 2 -0 2M1094 108l-2 1 -2 1 -1 2M1045 75l-2 -1 -2 -0M947 167l-2 1 0 2 2 1M1092 97l0 2 1 2 2 1M940 59l1 -2 0 -3 -2 0M979 111l2 0 1 -2 2 -0M1017 72l-2 -0 -0 2M994 48l0 -2 2 -1M973 138l1 2 2 1 2 -1M977 100l1 2 2 1M1081 73l-2 0 -1 -2 1 -2M1048 96l0 2 2 1M972 155l1 -2 -1 -2 -2 1M983 169l-3 -0 -1 1 -2 -0M1047 91l-1 -1 1 -2 2 1M1081 100l2 0 0 -2M1079 94l2 -0 1 1M1102 92l2 -2 2 -0 -0 -2M972 88l2 0 2 2M956 144l-1 -2 -1 -1M1113 73l0 -2 2 0 1 2M1000 95l1 -2 2 1 2 2M984 46l2 -0 1 -1 2 -1M974 171l-1 -2 2 -1 -0 -2M1000 28l-1 -2 2 -1 1 2M924 83l-1 1 -0 3M1035 74l-2 0 -1 -1M938 85l-1 2 -1 2M930 98l-0 -3 1 -1M1029 55l-2 0 -0 -2M979 100l1 -2 -0 -2M971 69l-1 2 -2 -1M954 46l2 0 0 2M1047 93l-1 -1 -2 -1M999 47l-2 -0 0 -3 -1 -2M963 39l1 1 0 1 2 2M1114 79l-0 -2 -0 -2 2 -1M1052 111l3 0 1 -2 1 -2M1084 45l-3 1 -1 -1M1051 100l-2 -1 2 -2M943 47l-2 0 -2 1M1038 38l-2 -0 -1 -2M992 91l-2 1 -2 -0M1032 50l1 2 0 2 2 0M1028 30l-2 -1 -1 2M1040 112l1 1 -2 1 1 2M1095 76l-1 -2 1 -2M1091 47l-2 1 -2 -1 -0 -2M979 161l-3 -0 -0 -2M1019 41l3 -0 3 0 -0 2M1078 33l1 2 -2 1M955 123l-1 -1 1 -1 -0 -2M1079 52l2 -0 2 -0M984 83l-1 -1 -1 -1M1011 115l-1 -2 -1 -2M978 105l-2 -2 -2 1M1045 29l-2 -1 -2 1 -2 1M1083 42l-1 -2 -2 -0M1052 52l-1 1 -1 2M1034 50l-2 -0 -1 2 0 2M970 83l2 -1 2 -1M924 83l2 -0 2 0M1097 101l-1 2 0 2 -0 2M1023 102l2 -2 1 -2M949 86l1 -2 1 -2 2 -1M969 163l1 2 1 -1M908 140l2 0 1 2M912 135l-1 -2 1 -1 -1 -1M923 109l1 2 1 1M903 97l-2 2 -1 -2 -1 -1M1082 39l1 -2 0 -2 1 -2M1094 100l2 -1 2 2 2 2M1063 40l1 1 0 2M969 161l2 -1 -1 -1M1010 123l1 2 -2 1M963 66l0 -2 2 -1 -0 -2M930 106l-1 2 -1 2M972 97l-0 2 -0 2M1024 100l-2 -1 1 -2M967 187l-2 0 -1 -2 -2 1M1092 48l2 -1 -0 -2M971 163l2 -0 -0 -3 -1 -2M1006 136l-0 -2 -2 -1M1112 68l-1 -1 -2 1M976 130l1 -2 -2 -2M1099 77l-1 -1 -1 -2 2 -0M900 94l-2 1 0 2M1026 82l1 -2 -0 -2 -2 1M960 124l-1 2 2 1 -0 2M985 163l-2 -1 -2 0 -1 -2M1035 40l2 1 2 0M941 111l2 -1 2 -1 -1 -2M959 164l-2 2 -2 -2 -1 -1M961 134l-2 -1 -1 2M997 136l2 1 -1 1 -0 2M1081 110l0 -3 -2 -1M982 165l1 -2 2 1M993 46l-2 1 -1 2 1 2M903 112l1 1 2 1 -2 2M984 71l-2 2 -2 2 -3 1M979 139l-0 2 -2 -0M1044 84l1 2 2 2M1036 50l2 0 -0 -3 2 -2M1005 28l0 2 2 0M1006 36l-1 -1 -1 -1M965 102l-0 -3 -1 -2M1016 100l1 -1 -2 -2M910 98l2 -1 2 -1M984 87l-2 0 -1 -2M1072 34l2 0 -0 2 2 0M1085 51l1 2 2 1M1089 54l2 0 1 1 2 -0M964 90l-0 2 -2 1M1090 63l-0 -2 -2 -1 -1 2M1006 27l-1 2 1 3 2 -0M962 58l1 -2 -1 -1 -2 -0M931 92l-2 1 -1 2 -2 -1M1028 69l0 -2 2 0M1034 73l-1 1 -2 2 1 2M1001 118l2 1 1 1 1 2M966 142l-2 -1 0 -2M971 68l-2 1 -3 -0M1095 52l1 -2 2 -0M1023 78l-1 1 -1 2 -2 -1M1072 41l1 1 1 2M1009 79l-2 0 0 2M1077 33l0 2 1 2M1026 86l2 1 2 -2 2 1M1090 92l2 1 2 -1M1048 121l0 -3 -1 -2 -2 -0M1033 57l2 0 1 -1M1098 75l2 -1 -1 -1M909 94l1 -2 2 0M991 45l1 -2 2 -0 1 2M1056 118l-2 2 -1 1 -2 0M907 80l-1 2 2 1 2 -1M996 27l-2 0 -2 0M1005 36l-0 2 -2 -0 -2 -1M989 35l-1 -2 -0 -2M910 97l-0 -2 -2 1M988 36l2 1 1 -2 -2 -1M1102 82l-2 1 -2 -2 -2 1M946 63l-3 -0 -2 -0 -1 2M976 148l-2 -0 -1 2M1004 29l1 1 1 1M1002 101l0 -2 2 -1 -0 -2M971 67l1 -1 -1 -2 -2 0M898 126l2 -0 2 -1M942 110l-2 -1 -1 -1M1088 72l2 -2 2 2M983 38l-1 1 -2 1 -2 0M939 176l2 0 1 -1 2 1M1078 44l-2 -2 -2 1 -1 1M1078 71l2 1 -2 2 0 2M1038 116l2 0 2 1M1051 117l-2 -0 -2 -1M1001 63l2 0 -0 2M997 59l1 2 1 1M919 135l1 2 2 2 2 -0M958 36l2 0 -0 2 -1 2M911 117l-2 -1 -1 2M1082 88l-2 -0 -1 1M1092 66l2 1 -0 2 -1 1M1061 116l-2 -0 -2 -1M1034 45l0 2 1 2 2 1M969 59l1 1 0 2 -2 1M1047 47l-2 1 -1 1 -1 -1M1054 52l1 -2 2 0 1 2M1027 112l2 -1 -1 -1 -2 0M984 34l-2 0 -0 2M908 87l2 -2 1 1M1050 90l-1 2 -1 -1 -2 -1M1074 106l1 -1 -0 -2M980 51l-0 2 -1 3 -2 -1M1087 47l1 2 2 -0 2 1M1111 62l-0 -2 1 -2M943 86l1 -2 2 0M935 110l-1 2 1 1M970 90l-2 1 -2 0M952 62l-1 -1 -2 1 -1 -2M1001 83l2 -0 2 -1 0 -3M935 149l0 -2 1 -2 1 -2M950 35l1 1 1 -2 0 -2M951 127l-1 2 -0 2 1 2M972 47l-1 1 -2 -1 -1 2M966 100l-1 2 -1 2 -2 1M1086 109l-2 1 -2 1 -2 -1M1038 67l-2 0 -1 -2 -2 1M1009 118l2 1 2 1M907 128l-1 -2 -1 -1 -0 -2M1054 35l-1 2 -1 2M1058 46l1 2 1 2 0 2M1115 68l1 -2 -2 -1 -2 -1M985 48l-0 -2 0 -2 2 -1M1083 42l-1 2 -0 2M964 127l2 -1 2 -1 1 2M1096 43l2 0 2 -2 1 1M941 75l-2 1 -0 2 -2 1M953 48l-2 -1 -2 0 0 2M1052 93l-1 -2 -1 -1M1048 109l-1 2 -1 -1M963 140l1 -2 0 -2 2 0M988 126l-2 1 -2 1 0 2M1032 30l1 1 -1 2M972 124l-0 -2 -2 -0M1052 112l-2 1 -1 -2M1076 82l1 2 2 -1 2 0M965 71l2 -1 -1 -2M920 103l-2 1 -2 1M1096 69l2 -0 0 2 2 1M908 121l1 1 2 1 1 2M1094 48l-2 -0 -2 -1M942 88l1 -2 2 1 -1 1M1111 72l-0 2 2 1 2 1M1068 109l-2 -0 -2 -2 -2 -0M926 165l0 2 -2 -0 -1 -1M1014 108l1 -1 -1 -2 2 -1M1100 75l1 -2 1 -2M916 84l-1 -2 2 -0 -0 -2M960 41l2 -1 2 -0M938 83l2 1 -0 3M935 78l-2 -0 1 3M1084 51l-1 1 -0 2 -1 0M1030 83l-0 -2 -2 0 -1 -2M905 110l-1 1 1 2 2 1M903 85l2 2 -2 1M998 129l-2 -2 -1 -2M1008 120l-2 0 -1 -1M972 126l2 2 1 -1M952 156l0 2 2 1 1 -2M967 44l1 2 -1 1M931 148l-2 0 -0 2M947 164l0 2 -2 -0 0 -2M932 108l-2 -0 -0 -2 0 -2M1040 78l-2 1 1 1M1084 90l-2 -2 -2 -0 -1 -2M1003 139l1 -2 -2 -1 -1 2M1065 53l-1 -1 -1 -2M1021 94l2 1 1 -1 2 -1M908 139l-2 1 -2 -1M992 29l-2 -1 -1 -2 -2 -2M988 88l-1 -1 -1 -2 2 -0M929 91l2 -0 -1 -2 2 -0M982 158l2 -1 1 -2M929 78l2 1 1 1 2 -1M945 65l-1 -1 -1 -0M1035 27l2 -1 2 -1 -0 -2M1090 74l0 2 2 0M933 88l0 -2 1 -1 1 -1M1012 104l1 -2 -1 -1M1049 89l-1 -1 -1 -2M1103 93l0 -2 1 -2 -1 -2M1056 110l-2 -0 -1 1M1076 76l-1 1 0 2 1 1M1017 109l-1 -0 -1 -1M1037 34l-2 -2 -1 -1M999 139l-0 2 1 2 1 1M932 84l1 2 -1 1 -1 -2M1108 93l2 -1 1 2M1103 97l-1 2 -2 0M989 77l1 2 -1 1 -0 2M935 145l-2 1 -2 2M1003 78l0 2 -2 1M1026 34l-1 -2 0 -2M1085 38l0 -2 1 -1M919 119l2 -1 2 1 2 0M1043 121l-2 1 -1 2 1 2M989 42l2 2 -1 1 -1 2M944 139l2 -0 1 -2 -2 -1M1082 103l-2 -1 -0 2 2 0M982 90l-0 -3 0 -2M962 36l0 3 2 0 2 -2M903 136l-2 -0 1 -2 1 -1M1036 30l-2 1 -2 1 -2 -0M1038 68l2 -0 0 -2 -2 0M1030 73l2 2 -1 1 0 2M1089 100l-0 -2 2 -0M904 112l2 1 0 2 -1 2M1042 31l1 -2 -2 -0M985 51l1 2 2 -0M986 100l2 0 2 1M1052 125l2 0 -0 2M1050 55l2 2 -1 2M975 166l-2 -0 -0 -2 -1 -2M1047 44l-1 -2 -1 -2 0 -2M946 102l-1 1 -1 1M954 61l0 3 2 2 2 1M968 64l2 -1 2 -1M911 72l1 1 2 2 2 2M1014 45l2 0 0 3M1002 103l-1 1 1 2 2 0M972 73l-2 1 -2 0 -0 -2M1036 30l-0 -3 2 -1M1083 100l0 -2 2 -1 1 -2M1061 48l-1 2 1 1 0 2M957 45l-1 -1 -2 -0 -1 -2M974 146l1 -1 2 -1M1045 75l2 1 -0 -3M969 169l-0 -2 1 -2M1085 77l0 -2 -2 -0 -2 -1M1105 81l-0 -2 2 -0M918 93l0 2 1 2 2 -1M1084 89l0 2 -0 2M934 91l2 0 2 -1 1 -2M1042 82l2 1 2 1 -1 2M1112 74l2 -1 -2 -2M953 135l1 -2 -2 -1 -2 1M917 107l2 1 2 2 1 -1M1074 91l-2 1 1 2 -2 0M1092 51l-0 -2 -1 -1M1001 55l2 1 2 -1M987 77l1 2 1 2M1002 115l-2 2 -1 -1 -2 1M979 112l-0 1 -1 1M938 53l1 -1 2 -0 1 1M978 132l1 1 1 2M1035 69l2 1 2 1 2 -1M1019 99l-0 -2 -1 -2 -1 -2M956 186l2 -0 0 -1 1 -2M969 55l1 -1 -1 -1M1058 116l-2 -2 -0 -2 -2 1M924 106l2 2 2 2M979 131l-1 -1 -1 -2M932 74l2 1 1 -1 1 2M1048 114l2 -1 -1 -2 -2 1M1020 88l-1 -2 1 -1M1113 78l1 2 1 1 2 -1M910 83l2 -2 1 -2 -1 -1M918 108l2 -0 1 -2M992 82l-1 2 1 1M1034 62l2 2 1 -2 2 -2M932 73l-2 1 -2 -1 1 -2M1102 74l-2 -1 0 -2 1 -1M986 130l1 -1 2 1 1 2M932 76l1 -2 -2 -1 -1 2M1060 53l2 1 -2 1M904 130l-2 -1 -1 -1M946 56l-2 1 -3 -0M912 108l0 -2 -1 -3M1099 95l-1 1 -1 -2 -2 0M1002 124l-1 -2 2 -1M1065 48l2 -0 2 0 2 -2M903 94l-2 -0 -2 -2 -0 -2M1052 110l-1 1 -1 1M965 100l-1 2 2 1M978 172l2 1 -1 2M1003 33l-2 -0 -1 -2M946 81l-1 2 2 0 -1 1M978 75l1 -2 2 -0 1 1M950 150l2 1 2 0 1 -1M970 75l-2 1 1 2 2 0M998 30l1 -2 2 -1M929 157l1 1 2 -0 1 2M1016 98l0 -2 -2 0 -1 -1M1091 38l1 1 2 -1 1 -1M993 119l2 -1 1 -1 0 -2M1088 60l-1 -2 -1 1 1 2M997 128l0 2 -2 2 -1 2M1094 45l0 -2 2 0 0 2M949 176l-1 -2 -2 2M1098 100l2 -1 -1 -2 -2 0M961 186l-2 -1 -0 -2 2 -1M1000 137l1 -1 2 -1 -1 -2M1083 94l-1 2 -2 -2 -1 -2M936 162l0 2 2 1 0 3M955 61l-1 1 -1 1 -2 1M978 147l1 -1 1 2 2 1M1038 35l1 1 -0 2 -2 -1M991 126l-2 -1 -2 -1 0 -2M1114 82l-1 -2 2 -2M978 131l2 -1 2 -1M1042 119l1 2 -1 1 1 3M1048 102l-2 -0 1 -2 2 -0M1114 65l-2 1 1 1M1083 46l-1 2 -1 1 -2 -1M939 153l-2 -1 -1 -1M1086 114l-1 -2 -2 1 -1 2M1015 100l0 2 -1 2 1 1M934 110l-2 2 -2 -2M969 99l2 -2 0 -2M1038 60l-1 -2 1 -2M965 97l2 -1 0 2M944 136l2 0 1 2 2 2M921 74l1 -2 1 -2 -1 -2M1066 38l-0 -2 -2 1M1012 133l-1 2 -2 0 -2 -2M913 80l-0 -2 -2 1M1030 72l-2 0 0 -2 1 -2M1079 49l1 2 -2 1 1 2M972 65l2 -2 1 -2 -1 -2M1058 43l-0 -1 -2 1 -2 1M928 90l2 -1 2 0M1037 59l1 -1 2 0 2 -0M1004 117l-1 2 -3 0M937 153l-1 1 -2 -0 0 2M1110 76l2 -2 -1 -2M1076 63l-2 2 -1 1M1016 107l2 0 2 -2M950 152l2 1 2 0M1003 132l-1 1 -1 2M935 110l-2 1 -2 -1 -1 2M1074 47l0 -1 0 -3 1 -1M977 173l-1 -2 1 -2 -1 -2M1013 127l2 0 1 2M927 73l-1 -2 -2 0 -2 0M967 92l2 -1 1 2M1100 89l2 -0 2 0 1 -2M989 72l1 -2 0 -2M1058 42l-2 -1 -1 -2 -2 0M1025 82l-1 -2 -1 -1 1 -1M968 99l-2 -0 -2 -2M1046 116l-2 -2 2 -1M975 46l1 1 -1 2M993 117l1 2 2 -0 -0 -2M984 102l-1 1 1 2 2 1M929 94l-1 -2 -1 -2M914 140l-1 -1 -2 -2M1071 46l-1 2 2 1 1 2M961 50l0 -2 2 1 0 2M1082 35l1 2 0 1 -1 1M993 61l-2 -1 -1 2 -0 2M905 85l-2 -0 1 2M927 106l0 2 1 2 -3 1M989 164l-1 -2 -1 -2 -2 0M1083 113l0 2 -2 -0M970 125l1 -2 1 -2 -0 -2M1029 104l2 -1 1 -2M967 51l-2 -2 -2 -1M939 51l-2 -0 0 -2M1084 85l-1 -1 -2 0 0 2M1037 105l0 -2 -2 0 -1 2M1036 65l0 2 1 2 2 -1M1109 72l-1 1 -2 0 -1 1M965 49l0 -2 1 -2M1040 116l1 2 2 -0M983 125l2 0 2 -1M1013 102l-1 0 -2 -0 -2 2M956 188l-1 -2 1 -2 0 -2M948 186l2 -0 -0 -2M1065 54l2 0 0 -2 -1 -2M1001 95l-1 -1 -2 -0M959 183l2 -2 2 1 -1 2M972 135l1 2 -2 1M1087 105l2 1 0 2 -2 1M1023 77l0 2 -2 1M1037 42l-0 2 2 2 0 2M1057 109l-2 1 -2 -0M1011 128l1 2 2 1 1 -1M1091 106l1 1 -1 1 0 2M991 91l-2 2 -1 2M948 182l-1 2 -2 1 -2 -1M945 174l1 -2 -2 -1 1 -1M1037 62l2 1 -0 2 -2 0M956 47l2 -0 2 1M970 82l-2 -1 -2 -1M954 145l0 2 0 2M1033 51l2 -0 1 2 2 1M944 158l-2 -0 -2 1M986 133l-1 1 -2 1 -2 -0M1025 68l0 2 1 1 1 -1M1035 62l1 1 -2 2 -2 -1M948 180l3 -1 2 0M964 87l0 -2 -2 -1 1 -2M936 78l-2 2 -2 -1M970 53l0 -2 -2 -2 -0 -1M992 60l-0 -2 1 -2 1 -1M982 156l-1 1 -1 2 2 1M1104 87l-2 -1 -0 2 -2 1M1047 92l-1 -1 -1 -2M994 100l-1 -1 -2 -2M1079 40l-1 -1 -1 -2M937 46l-1 2 -1 2 -1 2M967 161l1 1 2 -1 0 -2M1048 56l-2 -1 -2 0 -0 2M1013 107l-0 -2 -1 -2 1 -2M974 157l-2 -0 -1 2 -1 -1M1091 88l-1 2 -2 -0M1051 60l1 2 2 -1M1041 47l0 2 2 2M1004 76l-2 -0 -2 1M945 83l-2 -1 -1 -1 2 -2M985 129l-1 1 -2 1 -2 -1M1054 32l2 1 2 1 2 2M979 173l1 2 -0 2 0 3M958 138l-1 -2 1 -2M955 175l1 -2 -1 -1M941 154l-1 -2 -1 1M1038 51l-1 1 2 2 -1 2M982 39l-2 -1 1 -2M985 92l-1 2 2 1M1067 40l-1 -2 -1 -2 -2 -1M926 156l0 -2 2 -1M975 76l1 -1 0 -2M977 171l1 -2 2 1 2 0M928 109l-1 -0 -2 -0M976 68l2 1 1 1M1052 47l0 -2 -1 -1M966 165l-0 -2 -1 -1 -2 2M942 89l-2 1 -1 1M1051 82l2 1 1 2M1108 63l-1 -1 1 -1M985 161l-1 2 0 3M972 103l-0 -2 -1 -2 -2 1M1080 35l2 -1 1 -2M1080 60l0 2 -1 2M1000 76l2 -1 1 -2 2 -1M929 93l-2 -0 -2 -2M922 111l-1 -1 0 -2 -0 -2M966 165l0 -2 2 1M1037 39l-2 0 -2 -1M1096 71l2 -1 2 -1M947 129l2 0 2 2M1101 99l0 2 -1 2 2 1M941 64l2 0 2 -1 1 -2M966 79l-1 2 -1 2 -2 -1M1086 49l1 1 2 1M1039 82l1 -2 1 -1M972 88l-0 -2 -1 -2 0 -2M970 136l2 -0 1 2M966 163l-1 2 -1 1 1 2M913 106l2 1 1 1M963 134l-1 -2 -2 0M1092 110l0 -2 -2 -0 -1 2M941 168l1 -1 1 -1M980 143l-0 2 -2 -1 -1 -1M1009 33l2 -2 -2 -2 -1 -1M998 128l1 -2 -1 -2M1074 52l2 -2 1 1 1 -2M923 121l-2 1 -1 2 -2 1M1004 111l2 -1 -0 -2M1099 84l-2 -0 0 2M927 138l2 -1 3 -0M1081 73l-1 2 2 2M1081 61l-1 2 -2 1M1091 93l1 -2 -1 -2 -0 -2M1026 110l1 -1 -2 -1 -1 -2M948 153l0 2 -2 1 -1 -2M999 45l0 2 0 2 -2 2M1098 88l-1 -3 -2 -0M953 187l-1 2 -1 -1M1057 53l1 -2 1 -1M899 127l1 -2 -1 -1 -1 1M1076 90l-1 -1 -1 -2M964 57l2 1 2 -0M1078 59l-2 1 -2 1 -1 1M970 125l2 -0 2 -0 1 1M993 33l2 1 0 2M1046 125l0 2 1 2 1 2M958 188l-2 -1 -2 -0 -1 -1M984 169l-1 -1 0 -2 0 -2M1074 48l1 -2 -2 -1M979 79l-2 -1 -1 -1 1 -2M1048 35l-1 2 1 2M994 95l1 -1 -1 -2M1089 54l2 1 -1 3 -2 -0M1044 83l0 2 3 -0M1057 46l0 -2 -1 -1 1 -2M970 72l-1 -1 -2 0M1058 44l2 -1 2 0 2 0M970 51l1 -2 -1 -2 1 -0M1084 56l2 -1 2 -2 2 0M1077 37l1 2 -0 3M993 80l-1 2 0 2 1 2M919 85l-1 2 2 1M946 57l-0 2 -2 -0M973 45l2 1 2 0 2 -2M1001 47l2 1 1 -1M964 96l2 1 -0 2 2 0M1098 69l1 2 -1 2M943 172l-2 -0 -2 -1M1054 85l-1 1 -2 0M972 130l-1 1 -1 2 -2 1M1084 79l0 -2 2 -2 1 -2M1006 111l1 1 2 2M1014 114l1 2 -1 2 -1 2M913 72l-1 -2 0 -2M1069 105l-2 0 0 3M1044 92l-1 1 -2 -1 -1 2M922 109l-1 1 -2 -1 1 -1M1060 105l-2 1 -2 0M977 42l0 2 2 1 1 -1M989 99l-1 -1 -2 0 -0 -2M1035 64l-2 -1 1 -2 1 -2M908 89l-1 -1 -2 -0 0 -2M998 118l1 1 2 -1M945 152l-1 1 -2 -1M986 81l2 -1 2 0M1000 90l-2 -1 -2 1 -2 -1M960 123l-0 -2 2 0 1 1M1080 115l-1 2 -2 1 -1 -2M924 92l-0 2 -1 2 -1 2M1050 30l1 -2 2 -0M985 167l-1 -2 -2 2M1090 48l1 -2 2 -1M974 47l-1 2 -3 0 -2 1M1069 50l-2 1 -1 1 -1 2M1002 83l-2 0 0 -2 2 -1M964 183l-2 -1 -2 -1M946 102l-0 2 -1 2M1023 73l2 1 2 2 1 2M1037 52l0 -2 2 -1 1 1M1039 100l1 -1 -2 -1 -2 1M906 88l1 -2 -1 -2 -2 -1M1107 78l1 2 -0 2 -2 -1M962 68l2 1 2 -1 0 2M1004 107l-1 -2 -2 1M938 43l-2 1 0 2 -2 2M1092 87l2 0 1 0 1 -2M955 175l1 -2 -2 -1 -1 -2M981 93l-2 0 -1 -2 0 -2M1051 92l-0 3 -1 2M1016 106l-2 -1 -1 -1M991 31l1 -1 -2 -1M921 87l2 1 1 -1M971 57l1 -2 -2 -1M918 95l-1 1 1 2 -0 2M968 163l1 -1 1 1M1034 57l-2 -0 -0 -2M972 37l-2 -2 1 -1M959 139l0 3 2 0 2 0M1047 97l1 -1 1 -2M1049 94l1 1 2 -1M969 125l-2 -0 0 2 -2 1M966 40l0 -2 -0 -2M1028 109l1 2 -2 0 -2 -1M996 81l2 -1 1 1M982 123l2 1 2 -1M926 85l0 -2 -2 -0 -0 2M907 121l-1 -1 1 -1 -0 -2M953 172l-1 1 1 1M912 76l0 -2 -1 -2 -0 -2M974 111l2 1 1 -1 1 1M1086 68l1 -2 1 -2 1 -2M1062 106l-2 -0 -1 2M1000 48l0 -2 2 1 2 1M1002 101l-1 1 -1 1M1060 104l2 -1 1 2 2 0M1034 105l-1 1 -2 -0 -1 1M966 121l0 -2 2 -0M1092 85l2 -1 0 2 -2 2M980 89l2 0 2 1M1029 32l-0 2 3 -0 2 -0M1082 79l1 -2 2 -1 1 -2M901 129l2 -0 -0 -2 2 0M1001 113l-0 -2 0 -1M990 71l2 0 1 -2 2 1M1086 58l-2 -1 1 -1 2 -0M1017 83l-1 -2 -1 -1 -1 -1M1044 97l-1 1 -2 0M983 109l-1 2 2 1M1089 110l2 -1 1 -2 2 -1M987 129l1 1 -1 1M1049 46l2 -2 1 -1 -1 -2M1082 101l-1 2 -2 1 1 2M916 86l1 -2 1 -2M973 163l-1 -2 -1 -1 1 -1M1081 66l-2 -1 0 -2 -2 0M1047 109l-2 -0 -1 2M1075 80l-1 2 2 1 0 -2M1018 84l-1 -1 -2 -1 -1 -1M980 83l1 -2 -2 -2M968 66l-1 1 -1 -1M966 84l0 2 2 0 1 2M1009 111l-0 2 -1 2 -1 2M985 99l-1 -2 -2 -0 -2 -1M968 108l1 -2 1 -2M989 46l2 -1 1 -1 0 -2M992 28l2 0 -1 2M1087 59l-2 1 -2 1 -2 1M921 134l-1 -1 -1 -1 2 -1M1102 69l-2 1 -1 2M1042 33l1 2 2 0 -1 2M989 42l-1 1 -2 2 -1 1M983 121l-0 -3 -1 -2M910 117l-1 1 0 2 -2 1M1019 83l0 -2 -2 -1M1026 32l2 1 0 -2M1100 92l-0 2 -1 2 -1 2M991 132l0 2 -1 2 -2 -1M1013 45l-0 -2 -2 0M937 111l-2 0 -1 1 -1 2M1032 78l2 1 1 2M981 103l1 -2 -0 -2M959 143l2 -1 1 2 1 1M966 69l2 -1 -1 -2M1040 104l3 -0 1 1 2 1M980 76l0 2 2 0M971 75l-1 2 2 1M1090 91l2 0 1 2M1055 92l-2 -1 -2 -0M985 85l2 -1 2 -1M941 52l-2 -1 -1 1 1 1M989 127l2 0 -0 2 -1 1M1013 60l-2 -1 -2 -1 -1 2M931 169l0 -2 -1 -1M940 164l2 2 2 1M917 93l-2 -1 -1 -1M1013 37l1 -2 2 0M1015 104l0 2 -1 2 -2 -1M1034 74l1 -1 2 -1 2 0M972 163l0 -2 -2 0 -1 2M968 60l-2 1 -1 -2M928 119l1 -2 -2 -1 -0 -2M1076 109l1 2 -1 2M991 39l-2 -2 -2 -0M950 34l-0 2 -0 2M931 152l-0 2 -2 -1 -1 2M1039 116l2 1 -1 2 -2 1M954 65l-1 2 -2 0 1 2M1054 117l-1 -1 -2 -1 -1 2M1055 101l1 -2 -1 -1M1074 35l2 -1 2 0 1 -2M1073 51l-0 -2 3 0 -0 -2M1006 120l2 -2 -1 -1 1 -1M962 84l0 2 -1 2 1 2M1057 46l1 2 -1 1 -2 -1M1079 37l-2 1 -1 2 0 2M964 121l-0 3 -2 -0M958 130l-2 -0 1 -2M997 60l-1 2 1 1 2 2M994 75l-1 -2 -1 1 -1 -1M1010 39l1 2 2 1M997 42l-1 1 -1 1M990 136l2 1 1 -2M1046 106l2 0 2 -0 2 2M946 137l-2 1 -2 0 -0 2M976 102l-0 2 1 2 -1 2M960 140l2 1 1 2M994 87l-1 -2 -1 -2 -1 -1M1027 88l-1 -2 -1 -2 0 -2M1032 111l1 1 2 -0M1032 83l-1 2 -1 2 -1 -1M1103 100l1 -2 3 0M961 70l-2 -1 -2 -1 -0 -2M985 53l-0 -2 2 0 -0 2M981 106l2 -1 -1 -2M1074 36l-2 0 -2 0 -1 1M941 46l-1 -1 -1 1 -2 2M970 177l-1 2 -1 -2M925 101l-2 1 -2 1M967 163l-1 2 -0 2 -0 2M910 142l-2 0 -2 1 -0 2M946 98l1 1 1 2M990 88l-0 2 -2 1M1096 78l-1 2 -2 0 -2 -0M959 44l1 -2 2 -1M915 74l-1 2 -2 2M928 83l-1 1 1 2 -1 2M1095 93l-3 0 -2 1M1078 111l0 2 1 2M1000 32l2 1 2 -1M1074 65l1 1 2 0M931 157l2 -2 0 -2M1054 52l2 0 2 0M1094 89l2 0 2 2M1025 80l-1 -2 -1 -1M1053 36l2 -0 -1 -2 2 -0M940 143l2 0 1 -2M928 109l1 2 2 -1M974 71l-1 1 -2 0M1083 75l-1 -2 -2 -1 -1 -2M1054 94l0 -2 0 -2 -1 -1M1008 136l1 2 1 2M927 114l-1 1 -2 -2M902 127l-1 2 -0 2M965 68l2 1 1 -1M951 141l0 -1 -2 -1M1043 71l-2 1 -1 2M958 124l2 0 2 -1 2 0M1021 74l-1 -1 -1 1M1079 62l-2 1 -1 1 -2 -0M923 102l2 2 -2 1M1092 79l0 -2 2 1 0 -2M1080 66l-1 1 1 2M1100 84l2 -0 1 -2 -1 -2M932 112l-2 1 -1 -2 -1 -1M960 142l-0 -2 -1 -2 -1 -1M1102 67l1 -1 1 2 2 -2M903 81l2 1 2 1M1112 62l1 2 1 1 2 -0M1040 107l3 -0 0 2M1076 43l1 -2 1 -2M1023 98l-0 -2 -1 -2M1041 89l-0 2 -1 1 -2 -2M942 137l2 2 -1 1M1054 49l-0 -2 2 -2M1021 69l-1 1 -1 -1M1101 77l2 -1 -1 -1 -2 -1M1041 107l1 -2 2 -0M1078 108l2 1 1 1 1 -1M1029 50l-2 -1 -2 -1M951 163l1 2 1 1 -0 2M1058 103l-2 -1 1 -2M1062 44l1 1 1 1 2 -1M1033 112l-2 0 0 2 2 1M1021 87l-1 -2 2 -1 1 -2M990 89l1 -1 -2 -2 1 -2M1013 110l-1 2 -3 0 -1 1M1001 85l-0 -2 -0 -2M989 93l0 -2 2 0 2 -2M1028 37l1 2 1 1M996 44l2 2 2 1M955 183l1 -2 2 0 -1 2M949 157l2 -2 2 -0M1022 97l1 -1 -2 -2 -3 -0M935 91l2 -1 2 -1M966 38l-2 -1 -2 -1 -1 2M903 121l1 2 1 2M973 159l-2 -2 -0 -2 -2 -1M1032 42l-0 -2 2 -1 1 -2M1033 52l1 0 1 2M983 128l-1 -2 2 -1 2 -1M1092 85l-2 0 1 2M990 91l-2 -0 -1 2M945 161l1 -2 1 -2M974 141l2 -1 1 -1M992 42l-1 -2 -2 0M949 166l-0 -2 -1 -2M986 53l-1 2 1 1M1031 51l1 2 2 1M953 189l-1 1 -1 2M1076 69l1 -2 -2 -1M1033 28l0 2 -0 2M1022 78l1 2 -1 1 -2 -1M1004 46l-2 0 -1 2M981 82l-2 2 -2 2 -1 1M1051 36l-2 1 -1 -1 -1 1M928 118l2 -1 0 2M987 77l-2 -1 -1 -2M1101 100l-3 0 -1 2 -1 2M997 28l-2 -1 0 -2M1079 50l-2 -0 -2 1 -2 -0M982 76l2 1 0 2 -2 1M945 85l2 -1 1 1M941 41l-2 0 -1 2 -1 1M936 74l-1 -1 -2 -0 -2 0M967 42l2 -1 2 -1 1 -2M1085 71l2 -2 0 -1 2 1M1020 92l2 -0 -0 -2 -2 -0M1004 41l-1 2 -0 2M1049 41l2 1 -1 2M1035 46l2 1 -0 2 2 -0M925 117l-2 0 -2 -2M953 160l0 -2 -1 -2 -1 1M978 162l-1 1 -2 -1 -2 0M915 94l1 -2 -1 -2M973 149l-2 -0 -1 1M953 150l-2 1 -2 -1M1013 49l-2 -0 0 -2 2 -1M973 159l2 -0 1 -2 -2 -1M968 171l-1 -1 -1 -2M982 112l-1 2 -1 2 -1 2M1032 28l1 1 1 -2M1052 97l-2 -0 0 2 -1 1M953 178l-1 2 -1 1M992 100l2 -1 -1 -1 -2 -1M1093 53l-1 1 -2 0 -2 -0M1029 86l1 -1 1 2 1 -1M989 117l-0 -2 -2 -0 -2 0M1053 112l1 -2 -1 -2 -2 1M966 70l2 1 1 2 2 2M1086 95l0 2 0 2M961 44l0 -2 1 -1M991 63l-2 -2 1 -2M972 174l-2 0 0 2 -1 2M1019 100l2 0 2 -0 2 0M998 138l-1 -1 -1 2M1092 72l1 -2 2 -1 -1 -2M1056 44l2 -2 2 1 1 2M1011 108l-0 2 -2 1M1075 113l2 2 -2 2 1 1M1048 110l2 -0 1 2 2 -1M981 164l-0 -2 -2 -0 -1 -1M945 82l1 2 2 2M1044 62l-1 -2 -1 -1 -2 1M1060 50l-1 -1 -2 0M1085 46l-2 -1 2 -2 -2 -1M1084 59l-0 -2 0 -2 -2 -1M974 49l-1 1 -0 2M1033 64l2 -0 2 2 1 -2M1076 48l2 2 0 1 -1 1M965 92l-2 -0 -0 2M968 70l0 -3 -1 -1 1 -1M983 103l1 1 0 3M1011 87l-2 1 -1 2M1079 107l1 -1 0 -2M1057 44l-2 -2 1 -1 1 1M1113 71l-2 -2 -2 -0M946 139l-2 0 -1 -2 0 -2M951 50l-1 1 1 1 0 2M1032 112l-1 1 2 1 2 0M940 174l-0 -1 -2 -2 -2 -0M1008 64l0 -2 2 0 2 -1M982 93l0 -2 -2 -1M964 144l-1 1 -1 -1 0 -2M904 95l0 2 -2 -0M1039 57l-0 -2 0 -2M1091 104l-1 -1 -1 -1M989 134l-2 2 -2 -2 -2 1M1045 41l2 -2 2 2 -1 2M1002 124l-2 1 -1 1M1031 56l-2 -1 -1 -2M1016 120l-0 2 2 0M958 38l-2 -1 -2 0 -1 -1M1080 76l0 -2 -1 -1M947 137l-2 1 -1 2 -1 2M974 179l-2 -1 -2 1 -1 1M990 116l-1 2 -1 1 -0 2M1093 74l-2 -0 0 2M989 165l-2 -0 -2 1 -1 1M1027 72l-2 -1 -2 -1 -1 -1M1015 34l1 2 2 0 2 1M994 92l-2 -1 -2 -2M977 40l1 -1 0 -2 1 -1M920 141l-1 2 -2 0 -2 1M1003 39l-2 0 -0 -2M1050 112l2 2 1 1M958 145l1 -1 -1 -2 -2 -1M970 56l0 -2 -2 -0 -2 2M912 117l-2 -1 -2 -0 -1 2M956 40l2 -0 1 -2M1037 107l-2 0 -1 2M998 101l2 -0 2 0 2 0M1107 84l-1 -2 -2 -1M1059 118l-2 -0 1 -2 2 -1M995 138l1 2 1 -1M959 33l2 1 1 -2M934 86l-1 -2 0 -2 2 -1M913 106l2 1 1 1M915 75l0 2 -0 2M957 145l0 2 2 1M1070 104l-1 1 1 1 2 -1M899 123l1 2 0 2M1093 102l-2 -1 1 -2 2 -1M927 99l2 -1 1 2M1094 57l-2 -1 -2 1 -0 -2M965 51l0 -3 2 -0M965 60l1 -2 -2 -1 -2 -1M1093 95l-1 -2 2 -1 -1 -2M994 37l1 -2 -0 -2M1015 121l-2 -1 -2 0M965 32l2 -1 2 1 2 -1M1023 87l2 -1 1 -1 1 -2M1103 96l1 1 -2 2 1 1M1051 124l1 -2 -0 -2M1018 44l-2 -0 -1 1 -2 -1M1065 100l1 -2 1 -2M1084 65l2 -1 -1 -2M1002 129l-0 2 1 2M999 127l2 1 1 -2 2 -1M1039 58l-2 -2 -2 -1 -2 -1M959 138l2 1 2 0 1 -2M988 126l2 0 0 2M1108 91l2 2 -2 1 -2 1M1021 72l-1 1 -2 -1M904 118l-2 2 -2 -2 -2 -1M972 143l-1 -2 -2 0M968 40l-2 0 -1 2M1008 106l1 2 1 -1M1087 51l1 2 3 -0 1 1M973 157l-0 -1 2 -1 -2 -2M1083 87l-3 0 0 2M900 90l1 2 2 0M936 88l-2 -1 -0 -3M948 156l1 2 2 0M943 36l-3 -1 1 -2M936 75l-0 -2 -1 -1 -1 1M967 60l-1 2 1 2 -2 0M1021 88l-2 -1 -2 2 -1 2M1045 81l-2 1 -1 2M968 40l1 1 1 1M1004 106l-1 -1 -1 -2M966 144l-1 -1 -1 -2 -1 -1M973 164l2 -0 -0 -2M974 69l2 -1 -1 -2 -2 1M1110 63l2 -0 2 -0M947 56l-2 -0 -1 -2 -2 0M902 122l-1 -2 -2 -1 1 -1M1107 77l1 -2 -2 -0 -2 -2M1080 40l-2 2 -0 3 -2 -1M1057 111l-2 1 1 2 2 1M1002 130l-1 2 1 2M1042 47l0 2 -2 1M1056 117l-0 2 -1 2 1 1M1043 74l-1 -2 -1 -2 2 0M957 125l-1 1 -2 1M1073 96l-0 2 -1 1 -2 -2M946 101l-2 -1 0 -2M1030 106l1 -2 3 0 2 -1M967 161l1 1 -1 1 1 1M1031 62l2 -0 1 2 -1 2M984 52l2 -1 1 2 -0 2M1054 40l-1 1 1 2M941 43l0 -2 2 -1M986 34l0 -2 0 -2M1013 107l-0 2 -0 2M1053 84l-2 -2 1 -2 -1 -2M1087 57l1 -1 -1 -2 2 -0M1010 84l1 2 -2 1 0 2M972 69l2 -0 3 -0 2 -0M1012 73l-1 -1 -2 -0M964 80l-2 -1 -2 0M968 96l2 1 2 -1 2 1M1075 100l-1 -2 -2 1 -2 0M920 102l-0 -2 1 -1M999 100l-0 -2 -1 -1 -2 -1M1080 72l2 1 1 1M1055 124l-2 1 -1 2 2 0M981 43l-1 2 -1 1 -2 1M1041 46l-2 0 0 2M1080 69l-0 2 -1 1 -2 -0M988 85l-2 -1 -2 -0M1074 99l1 -1 1 -1 1 -2M1079 49l1 -2 0 -2M1061 109l-1 -2 -1 -1 -1 1M924 100l2 -1 1 2 -1 2M981 111l1 2 -2 0 -1 -1M934 146l0 2 1 0 1 -2M953 153l-3 -1 -2 1M925 73l-2 -1 -2 -1 -1 1M925 79l0 2 2 1M939 82l1 1 0 2 -1 2M1015 96l-2 -1 -2 -1M909 87l1 1 2 -0M997 83l-2 0 -2 1 -1 0M959 66l-2 1 -2 -0 -0 -3M959 190l-2 1 -2 -0 -0 -2M1098 89l2 -0 2 -1 2 -1M1011 121l-1 -1 -2 -1M979 67l-0 -2 -2 1 -2 -0M963 62l-0 2 -1 2 -1 1M1077 47l2 1 0 2 1 1M947 131l2 0 0 -2M923 137l-1 1 -2 -2 -2 1M992 69l-1 -2 -1 -2M900 135l-1 -1 1 -1 1 -2M1079 58l-1 -2 -0 -2 -0 -2M943 90l0 -2 0 -3 2 -1M1000 76l-0 2 2 2 2 -1M1017 117l-1 -1 -2 0 -1 1M1033 80l-1 2 -2 -1 2 -2M1021 96l1 -1 -1 -2 0 -2M1085 76l2 0 1 2 -2 1M920 71l0 -2 2 0M1062 49l0 2 -2 0M1045 53l-2 1 -2 -0M1107 84l-1 2 1 2M1033 48l1 -1 2 0M1034 37l1 -1 0 -2 1 -1M935 81l0 -2 1 -2M1092 42l1 2 1 -1M940 52l0 -2 -1 -2 1 -2M1057 117l0 -2 -0 -2 -0 -2M982 40l-1 -2 -2 0M1087 55l1 2 1 2 -1 2M971 168l1 2 2 1M1005 41l-1 2 -0 2M929 88l2 -0 1 -1M981 100l-2 1 -1 2 -1 2M1023 92l2 0 2 1 1 -2M1091 90l-0 3 -2 -0M1090 42l-2 -1 -0 -2 3 -0M900 93l0 2 1 2 -0 2M907 86l-1 1 1 2 -2 0M1069 40l2 -1 1 2 2 1M994 63l-3 0 -2 0M956 182l0 2 2 1 1 1M976 91l0 -2 -2 -1M997 50l1 -2 2 1M929 158l-2 1 -1 2 -1 2M1006 133l1 -2 3 -0M1109 72l1 -1 -2 -0M1093 64l-1 2 -2 1M980 111l1 1 -1 2M1005 105l2 2 1 2M933 72l-1 -2 -0 -2M944 58l2 1 2 -1M987 93l-0 2 0 2M1017 107l2 1 1 2 2 -1M956 46l2 1 2 -1 1 1M1094 100l-2 1 -2 0M924 130l-1 2 -0 2M1083 87l-1 2 -1 2M1085 94l-0 3 -2 1 -0 -2M915 78l2 -2 2 -1M1077 114l2 -1 1 -2M925 94l1 2 -2 1 -0 -2M1006 133l2 -0 0 -2 1 -1M901 124l0 -2 -1 -2M1089 86l0 2 -2 1 -0 2M1001 137l-0 2 2 0M1008 30l0 2 -1 2 2 1M985 116l-2 -0 -0 2M1112 72l1 2 2 0M1111 71l2 -1 2 -1M962 84l-1 -1 -2 0 -1 2M912 111l1 -2 2 1M1028 85l-2 -0 1 -2 2 1M984 74l-0 2 0 2M938 108l2 1 1 -2 2 -1M1012 115l2 1 1 -1 -0 -2M902 86l-1 -2 1 -2M1069 105l-1 -2 -2 -1 -0 2M925 89l-1 -2 -0 -2M1101 100l-1 1 -2 1M976 107l1 1 0 1M988 164l-2 -1 -1 -1 -1 -2M952 166l2 1 1 1M1042 39l2 -1 1 -2M1064 100l1 -1 2 -2 2 -1M1085 79l0 2 1 2M1030 82l1 -2 1 -0 1 -2M914 93l2 -0 1 2 1 -1M1084 78l1 -2 2 -0 2 -0M1036 53l2 -0 2 -1M973 69l2 1 1 1 -1 1M985 67l2 -1 2 -1M1113 71l0 2 2 1M1053 41l0 2 -1 2M920 108l-2 1 -1 -2 -1 1M956 47l1 -2 -2 -1 -1 1M1016 119l-0 2 1 2 0 3M981 165l-2 -1 -2 -1 -2 -0M1094 58l-1 -1 -2 1 -2 1M1014 48l-2 2 -1 -2 -0 -1M1021 113l-1 1 -1 2 -1 2M920 85l-2 2 -1 1M1055 87l2 2 2 -2M1014 45l2 1 2 1 3 -0M975 89l-2 0 -1 2 -2 -1M1032 50l0 -2 -0 -2M921 94l-0 -2 -2 -1 1 -2M1039 65l-2 -1 1 -1M1011 109l-1 -2 -2 1M1035 67l2 1 1 2M951 155l-2 1 -2 -0 -1 -2M963 89l-2 -2 -0 -2 1 -2M1040 95l-2 -0 -1 1 -2 -0M1005 35l2 -1 1 -1M949 88l-1 2 2 1 2 0M1074 43l0 2 -1 1 -2 -0M1085 41l0 2 2 0M956 168l0 2 2 -1M1028 48l-2 -1 -2 1 -1 1M1037 69l-2 2 1 2 2 -0M1103 74l3 0 2 -1 -1 -2M992 118l1 1 1 2M1061 111l-3 -0 0 2M1035 60l-1 1 -1 2M1010 120l-2 1 -2 0 -2 0M1050 59l-2 1 -1 2M1013 41l-1 -2 0 -2 3 0M1021 72l-1 -2 -1 1 1 2M1005 126l2 1 1 2 -2 1M992 171l3 -0 1 -1M951 154l0 2 -2 0 -2 1M1000 55l3 1 1 -2 1 -2M1038 101l1 -2 -1 -2 1 -2M972 42l-0 -2 -1 -1 0 -2M1069 49l-1 2 -2 -1 -2 -1M944 63l-1 -1 -0 -2 2 -0M1052 55l2 0 1 -1M924 74l-2 -1 1 -2 1 -2M1106 78l-2 1 -1 2 -1 -2M961 40l1 2 2 -0M977 69l1 -2 -1 -1M982 166l1 -1 2 -1 -1 -2M1010 39l0 1 2 1M1011 37l-0 2 -2 -0 -2 -1M942 152l-1 -2 -0 -2 -2 0M916 87l-0 -2 2 -0M970 91l1 -2 -1 -2 1 -2M1095 77l-2 -1 -2 0 -2 1M1023 90l0 2 1 1 2 1M1085 68l1 2 2 -1M1092 43l0 2 -0 1M985 94l-2 -1 1 -2 2 -0M1033 46l-1 1 2 1 1 1M974 112l-0 -2 3 0M972 172l2 1 2 1M1085 36l2 -1 2 -0 1 -2M1040 70l-0 -2 -1 -2 -2 -2M954 176l0 -2 -1 -2 -0 -3M1075 69l1 1 0 2 1 -1M1053 125l-0 -3 2 -2 1 1M972 69l-1 1 -1 -1 -2 -0M904 89l-1 -2 -2 -1 -2 0M984 131l-1 -2 -2 1 -2 2M971 53l2 1 2 2M1011 49l2 2 1 2M1033 57l1 -1 2 -1 2 1M1050 37l1 -2 0 -2 2 -1M917 68l-2 -0 -3 0 -2 1M1086 65l-1 -1 -2 1 -2 -0M943 46l-2 1 -1 -1 -1 2M987 101l1 -2 1 -2M971 70l-1 2 -2 -0 -1 -1M992 38l-2 -0 -1 -1 -2 -0M929 90l-1 -2 2 -1 -0 -2M927 122l0 2 -2 -0M959 35l-2 1 -1 -2 -1 0M999 119l1 -1 2 1 1 -1M1085 114l-2 0 1 2 1 1M1081 71l1 1 2 -0 1 2M1034 52l-0 -2 -2 1 -0 3M1070 34l1 -2 -2 -2 -2 0M1089 39l1 1 2 -1M958 186l-2 1 1 2M1039 116l-2 0 -1 -2M1049 49l-2 1 -2 -0 0 -2M933 71l-2 1 -1 1 -2 0M1109 88l1 2 2 0M981 112l-1 2 -2 -2M1088 107l-1 2 -2 -0M1028 90l2 0 2 2 1 2M969 67l-2 0 -0 -2M1035 110l-0 2 2 -0M1109 85l1 -1 2 1 -1 1M1098 65l-2 -1 -1 -2M1077 52l-0 2 -2 0 -2 -1M947 57l2 0 0 -3M1093 49l-0 2 -2 2M1076 64l2 -1 0 -2M919 120l2 1 0 -2 2 -0M1031 43l0 -2 1 -2M1017 120l1 -2 -1 -2M1098 82l0 2 1 1 1 1M975 90l2 0 2 0M968 186l-0 -2 -1 -2M938 73l0 -2 2 0M1109 94l-2 1 -0 2M992 62l0 2 2 -0 1 2M971 101l1 2 1 1M1061 46l1 -2 -1 -1M1083 108l2 -1 2 2M932 109l1 1 1 2M1035 27l-2 0 1 -2 1 -0M1011 34l1 2 0 2 1 1M979 146l2 -2 2 -2M1046 109l2 -1 -1 -2M967 92l-2 0 0 2M1060 56l-2 1 -0 2M959 124l-1 1 2 2M958 122l2 1 0 1M940 159l-2 1 -1 2M1087 114l2 0 0 2 -2 1M1054 46l1 -2 -1 -1 -0 -2M1010 47l-2 -0 -0 2 2 -0M996 71l-0 -2 -1 -1 2 -1M987 98l1 1 -1 1 -2 1M1030 51l-2 -1 -2 1M1106 86l2 -1 1 2M961 170l-1 -2 -2 1M919 116l-1 -1 -1 -1M1057 42l1 -2 2 -0 2 0M991 136l1 2 -2 1M1010 112l-0 -2 -1 -2 1 -1M989 101l2 0 2 1M1056 111l-2 -1 0 -2M1024 75l-1 -1 -1 -1M968 38l1 -1 1 -2M980 158l1 2 -2 0M1047 33l1 -1 2 0 1 -2M1071 113l0 -2 -2 -0M1054 116l-2 0 -0 -2 1 -2M979 168l-2 -0 -0 2 -2 -0M1060 53l-0 -2 1 -2 -2 -1M946 145l-2 -2 1 -1M1008 128l-1 -1 -0 -2 -0 -2M1053 35l2 1 2 1M958 139l-0 2 2 1 0 -2M1079 76l-1 -1 -1 2M990 122l-2 0 0 2M949 161l0 -2 -3 -0M1041 73l-2 1 1 2 2 1M996 94l1 -2 2 -1M979 97l1 -2 2 0 2 0M966 40l-0 -2 2 -1 -0 -2M1018 98l1 1 -2 1 1 2M1001 76l1 -2 1 -1M958 137l-2 1 -2 0M902 86l-1 2 -1 -1M1009 85l2 0 2 -2M1020 79l1 2 -2 1 -1 -2M1102 86l-2 -1 -1 -1 1 -2M977 170l1 2 -0 1 -1 2M999 79l-0 -2 -2 -0M1010 34l1 1 -2 1M977 50l1 -1 -1 -2M1049 99l-2 -0 -2 0M908 84l-1 0 -1 1 1 1M1104 97l1 -2 2 -1M1004 129l2 -1 3 -0M992 32l-1 2 1 1 2 0M1037 87l-1 -2 -2 1 -0 2M982 43l-2 1 0 2M1012 100l2 -1 -0 -2M944 51l1 -2 2 -0 -0 -2M994 77l-0 -2 2 -0M970 170l1 1 1 1M910 134l-2 2 -0 2 -1 2M967 105l-0 -3 -1 -1M960 129l-1 2 -0 2M1083 37l-1 -2 -2 0 -1 -2M908 134l1 2 2 1 0 -2M1041 71l-2 1 -1 2 0 2M950 50l1 -2 1 -2M1095 51l2 1 2 -0M1001 87l0 2 -2 1M973 51l-0 -2 2 0M993 81l1 1 2 1 0 3M1028 75l-2 1 -1 -2M949 184l-0 -2 -2 -1M1047 33l-2 1 -1 2M922 121l2 1 3 -0M1080 39l-1 -2 -2 0M997 137l2 -0 2 -1M1024 45l-2 1 -0 -2 2 0M972 96l2 -1 1 -1M963 144l2 1 1 2 -0 3M960 51l-1 -1 -1 1 -2 -0M1084 72l-2 1 -0 2 -1 2M1090 83l2 1 2 0M1047 59l2 -1 -1 -1M941 83l1 2 -1 2 0 2M983 40l0 2 2 0 2 -0M916 111l-0 -2 -2 -1 -0 -2M948 62l-1 -2 -1 -2M1038 101l2 1 2 -1 1 -2M961 139l2 0 2 1 1 1M1029 79l-0 2 1 1 -1 2M970 141l1 2 3 0 2 0M904 115l2 -1 2 1 -1 1M1018 85l1 2 2 -1M1050 110l0 2 2 1 2 -0M1092 104l-2 -1 -2 2 1 2M1029 86l-2 -1 -1 2M1106 78l-1 -2 -2 -0 -1 2M1004 38l1 1 1 2 -1 2M950 188l-0 2 1 2M1087 54l0 2 -2 -0M1090 59l-2 0 1 2M1043 49l-0 2 -0 1 -0 2M973 137l1 1 2 -1M969 62l-1 2 -2 1M980 49l-2 -1 1 -2 1 -2M975 84l-0 -2 -1 -1 -1 2M988 92l-1 2 -1 2 1 1M1044 65l2 -1 2 -0 1 -2M901 93l1 1 1 2 2 1M1088 69l-2 0 1 1 2 0M1107 97l1 2 2 -0 2 -2M1070 112l0 2 2 1M1016 75l2 0 2 2 -1 2M943 37l-2 -2 -2 1M1035 87l2 -0 1 -1M965 39l-1 2 -0 2M961 187l2 0 1 -2 1 -2M1000 85l-0 2 2 0 2 0M921 80l3 -0 -0 -2M933 113l-1 2 -1 2 -1 -2M987 161l1 -2 1 -2M1029 45l2 0 1 -2M969 71l2 -1 1 2M961 41l2 1 2 1 2 -0M931 76l-0 1 0 2M1058 121l-1 2 -2 -2M970 37l1 2 0 2M995 138l-2 1 1 2M1088 49l1 -2 -0 -2M935 146l2 -1 2 2M1004 123l0 2 -2 1M1037 58l-1 1 2 2M1058 119l1 1 2 -1M977 148l-2 -1 -2 -2M1030 108l0 3 -1 1M1072 52l1 2 1 2 2 1M961 65l1 2 1 2 1 1M1108 89l1 2 1 2M1015 88l-0 -2 2 -0 1 -1M1080 32l-1 1 -2 -1 -2 0M1062 106l-1 -2 -2 1M1025 102l-1 -2 0 -2M913 141l2 0 2 -2 1 2M999 41l-1 1 -1 -0M961 62l2 -1 2 2 1 -1M939 156l2 1 1 2 2 1M920 118l1 2 1 2M957 43l-2 -0 0 2M1014 58l1 1 1 2M1045 28l2 -0 2 -0 2 -1M930 97l-1 -2 -2 1 -2 0M1020 73l-0 2 -0 2M922 109l2 1 -1 1 2 0M1008 128l-2 1 -2 -1M1024 74l2 1 -2 2 -2 0M1105 95l1 1 2 0M927 74l-2 -0 -2 0 -0 2M1004 46l-1 1 1 1 2 -1M1043 36l1 -1 -0 -3 2 -1M980 133l-1 2 1 1 2 -1M947 142l1 -2 2 -0M1000 49l-2 1 -1 2 -1 -0M907 90l1 2 1 1M972 181l1 -1 2 -0M922 135l2 -0 -0 2M977 170l-2 -1 -1 -2 -1 -1M927 167l-0 2 2 -0M945 53l1 2 -1 1M966 53l-1 -1 -2 -1 2 -2M985 118l-1 2 -2 -1M952 57l-1 -2 1 -1 -1 -2M1032 109l2 1 1 1M1028 58l-0 -2 -1 -2M991 125l2 0 1 2M963 70l1 2 2 2M1031 48l-1 2 -1 2M1014 89l-2 2 -1 -1 -2 -0M1049 47l-2 -0 -1 0M1018 74l0 2 -1 2M1004 42l1 1 -0 2 0 2M915 78l2 1 -0 -2M910 94l0 -2 -0 -2M966 87l-1 -2 2 -1 -1 -2M961 189l-1 1 -2 0 1 1M1033 76l0 2 -2 1M1017 39l0 -2 2 0M1011 122l0 -2 2 0M980 75l-0 2 -0 2M1058 39l-2 -0 0 2M1073 110l1 -2 2 -1 1 2M1046 54l2 0 -0 -2M1059 56l0 2 2 2M951 38l-2 1 -2 -0 -1 -2M898 121l-1 1 -2 -1M942 47l-1 2 -1 -2 -2 2M954 34l-2 1 -2 1 1 1M1108 72l1 2 -1 1 2 1M984 83l2 -1 2 -1M1087 111l-2 -2 -1 -1 0 -2M1039 117l-2 -1 -2 -1M947 98l-2 -2 -0 -3M973 141l1 -1 2 1 2 1M1008 29l-1 2 -0 2 -2 1M1096 47l-1 -2 -2 0M949 64l-1 -1 1 -2 2 -1M1066 48l0 -2 2 -1 1 -2M1097 72l-1 -1 -1 -1M984 128l-0 -2 -2 1M939 41l-1 -1 0 -2 2 0M1053 93l-1 -2 -2 0M1026 34l-1 1 -2 -1 -1 2M945 48l1 2 2 1M1015 79l-2 1 -2 1M1053 102l2 -1 1 -1M1002 84l1 -1 2 0M1084 91l-1 -2 2 -0M1020 96l0 -2 1 -2M925 68l-2 -0 -1 -1M931 80l2 -0 -0 2 -1 2M983 66l2 -0 2 -0M996 49l-2 -1 -1 -2 -2 0M1104 97l-2 1 -0 2 -2 1M1074 94l1 -2 0 -2 1 -1M1074 79l-2 0 -1 -1M950 144l-2 -0 -2 1 -2 1M952 180l0 -2 2 1M977 157l-2 2 2 1 2 -0M1031 84l2 -2 2 2M1086 90l1 -2 2 -1M964 33l2 2 -2 1M1010 87l0 -2 -0 -2M1043 85l-0 -2 1 -2M1087 111l1 2 2 1 -0 2M976 78l1 2 2 -0M1096 93l1 -2 -2 -2M938 53l-2 0 -1 -1M906 132l-2 1 -2 -1M962 145l1 2 -1 1M997 34l-2 1 -1 -2 2 -1M998 138l2 -1 2 -1 1 2M956 35l-1 -2 -2 1M1028 42l-1 -1 -1 -2 -2 -1M1066 99l2 1 -0 2M934 89l-2 1 -2 0 -1 -2M1006 43l2 0 1 1 2 1M1111 88l2 -0 0 -2 0 -2M958 130l1 2 1 1M1020 92l-2 1 -2 -1 -1 2M1020 108l1 -1 -1 -2 -2 1M911 111l-0 -2 -1 -2M1006 106l-2 1 -2 -1M928 78l-2 -0 1 -2M1085 70l-1 -2 1 -1 2 -0M1081 103l0 -2 -1 -2 -1 1M926 161l1 -1 1 1 1 2M976 126l0 2 -2 1M995 77l2 -1 -0 -1M968 41l-2 1 0 2 2 0M1069 98l-2 2 -0 2 -0 2M931 117l1 2 -2 -0 0 2M1078 64l2 -2 -0 -2M906 98l-0 2 2 1M964 95l1 2 1 2M998 51l1 2 1 2M1083 91l2 -1 1 -2M1096 57l2 -1 1 -1 -2 -1M1093 64l-1 2 -1 -1M975 106l0 2 0 2M928 71l-1 -1 -1 1 -2 -0M939 79l-2 -1 -2 -1 -1 2M953 138l-2 -2 -2 1 -2 -0M977 150l2 2 2 -1M1070 70l-2 1 -2 1M956 174l2 -1 2 1 0 2M944 89l2 -1 -1 -2 1 -2M1019 70l-2 -1 -1 -2 1 -2M1055 101l-2 1 -2 0 1 2M938 91l-1 2 2 0 -0 2M980 101l2 1 0 2M966 34l-0 2 -1 1M943 49l-2 1 -1 -2M926 76l1 -1 1 -1 0 -2M1048 34l-0 2 -1 2 -2 -0M1086 47l0 2 -1 2 -1 2M979 130l0 2 -2 0M1084 110l-2 -1 -3 -0M1016 76l2 1 2 2 0 2M971 90l2 0 2 1M1023 71l-1 -2 -0 -2M1046 94l1 -2 -2 -1 1 -1M1091 87l2 2 1 -2M1104 82l0 2 -2 -0M985 120l2 -2 1 -1 -0 -2M978 163l-2 -1 -2 2 1 2M901 96l-2 1 -2 2 -1 1M997 118l2 -1 1 2M1020 76l1 -1 1 2 1 -2M1035 76l-0 -2 1 -2M934 79l1 1 2 0 1 2M950 187l-0 -2 -2 -0M966 64l0 -2 2 0 -0 2M967 162l2 -0 2 1M1105 65l-2 0 -1 -2M954 133l2 1 0 -1M1012 114l1 2 2 -1M1031 57l0 2 -2 1M1069 36l1 2 1 -1M915 70l-1 -2 -1 -1 -0 -2M911 112l-1 2 0 2 0 1M960 89l-1 -2 0 -2 -2 -1M969 81l0 2 -2 0 -0 2M946 140l-2 -0 -1 2M932 145l-1 2 -2 -1M919 117l-1 2 -2 0 0 2M993 131l-1 -2 -2 1M1042 51l2 -0 2 1 2 2M941 149l2 2 2 1M989 126l0 -2 1 -2M1034 79l-0 2 2 1M916 135l-1 -2 -2 -1M949 169l1 -2 -2 -1M901 95l2 1 1 1M955 180l-0 2 -2 1M1054 85l-0 -2 -2 -0 1 -2M1078 35l-2 -1 1 -2M1013 101l1 1 1 -2M986 39l2 2 -1 1 2 1M947 58l2 2 2 1M1022 100l-2 1 -1 1 -2 -0M948 96l-2 2 -1 2M1083 99l-1 -1 -1 -1M968 75l-1 -2 -0 -2M1027 69l-2 1 -2 1M1037 49l0 2 1 1M1021 104l2 1 -1 2 -2 1M1079 69l2 1 -1 2 1 2M1040 45l2 -0 2 -0M1094 88l-2 -0 -2 0M963 72l-1 1 1 2M992 173l1 -1 1 -2M975 139l1 2 -1 2 2 0M1082 62l-1 -2 -2 -0M1042 101l1 2 -1 2 -2 0M963 170l-0 2 1 2M917 85l1 2 -2 2M997 133l2 -0 -1 -2M968 86l2 -0 1 1 2 -1M1007 27l-0 -2 0 -3 -2 0M1091 95l1 -2 2 1 2 1M1033 69l2 1 1 -2 -1 -1M1105 78l-2 2 -2 -1 -1 -1M957 183l1 2 -2 1 -1 2M1042 93l-2 -1 -2 1 -1 2M1075 98l2 1 1 2 2 -1M1028 47l3 -0 -0 -2 2 -0M980 141l1 2 -0 2M1091 70l2 -1 0 -2 2 -0M1077 86l-0 -2 2 -1M956 135l1 -1 1 1M1070 49l-0 2 -1 2M973 180l1 -2 -1 -2M970 87l-1 -2 -2 -1M1082 66l2 1 2 0 1 1M947 86l2 0 2 -0M996 95l-1 2 -2 -0M970 80l-2 2 -2 -1M976 112l1 2 2 1M951 57l2 -0 1 -1 2 -0M933 70l-0 -2 1 -1M914 75l2 1 2 0 2 0M931 157l-1 2 2 1M1014 132l0 -2 -1 -2 -2 0M1090 108l-2 0 -2 -1M965 49l-1 -1 -2 -0 -2 1M1047 61l-0 -2 2 -0M1084 100l1 1 2 1M972 84l2 0 -0 2M1081 78l2 -0 -0 2 -0 2M946 52l-1 1 -2 -1 -2 0M1011 42l2 -0 -0 -2 2 -0M997 96l-2 0 -1 -0M1074 75l0 -2 -2 -1 -2 1M1053 125l-1 -1 -1 1M929 157l2 1 1 -1 0 -2M967 60l1 2 2 -1M968 130l-1 2 1 1M911 115l-2 1 -2 1 0 2M908 131l-2 -0 -1 -1 -1 -1M963 85l1 -2 -1 -2 2 -1M1036 72l-2 -1 -1 1 -1 2M956 128l1 -1 1 -1 0 -2M945 103l2 1 1 -2 3 -1M989 121l-0 2 -1 1 -1 2M962 135l2 0 1 -2 2 1M961 62l-1 2 -2 1 -2 -1M973 143l-0 -2 2 -1M977 102l-2 0 -1 -2 -1 -2M978 72l1 -2 -0 -2 -1 -1M936 176l1 -2 -2 -0M1102 63l-0 -2 1 -1 2 1M952 125l1 1 2 1 0 -2M906 140l-1 -1 -2 -0M1023 108l-1 1 2 1M912 106l2 2 2 1 0 2M975 70l2 0 2 -0 -0 2M978 159l1 -2 1 1 -1 2M1012 115l2 -1 -0 -2 -2 1M984 94l2 1 2 0 2 1M974 82l-2 0 1 2 -1 2M943 161l0 2 2 1M959 123l1 2 2 -1 2 0M946 149l0 -2 1 -2 2 -1M977 146l-1 -1 -2 -0 -0 -2M941 173l-2 1 -1 2M1030 30l-1 -1 -2 2M1000 84l-2 -1 -2 0 -2 1M1059 44l-1 -2 -1 -2M967 97l-0 -2 1 -2 2 -1M1113 79l1 1 1 -1 -1 -2M955 191l1 2 -1 2 -1 -2M926 109l1 1 -1 2 0 2M949 176l0 -2 -2 -1M1047 96l-2 2 -2 1M957 132l-2 -2 -1 -2 -1 -2M1097 54l0 -2 2 -1M938 82l-0 2 -2 -1 1 -2M957 173l-2 0 -0 -2M932 104l2 0 -1 2M990 87l2 1 -1 1 -1 -1M1091 54l-1 -1 -1 1 -0 2M1049 122l-1 -1 -1 -2M944 162l2 -0 2 0 1 -2M940 156l0 -2 -0 -2 2 0M947 154l2 -1 1 -1 -0 -2M961 186l2 -1 -0 -2 -2 -1M970 92l-1 2 -2 -0M1063 53l2 -1 1 2 1 -1M1028 49l2 -0 -1 2M1030 40l2 -2 2 -1M926 163l1 -2 -1 -2M913 111l2 -1 1 -1M987 71l2 -2 1 1 1 2M1002 138l2 -1 1 1M1078 46l3 -0 2 1M1087 42l-0 2 -1 2M928 96l2 -1 2 1 2 -1M924 104l-1 2 2 1M966 55l2 -0 2 -0M1019 93l2 -0 2 -0M969 160l-1 2 1 1M1088 57l-1 2 -1 1 0 2M974 46l-1 -1 -2 -0 0 2M922 131l-2 -1 0 -2M938 88l2 -1 2 0M948 181l2 2 2 0 0 2M951 141l-1 2 -2 0 -1 2M931 167l-2 -1 1 -1M1000 75l-2 -0 -2 0M1080 61l-2 -0 1 -2 -2 -1M998 60l-2 -0 -2 -1M1105 76l-1 -2 -1 -1 -2 2M1011 78l-2 -1 -1 1M930 147l1 -2 1 -1M983 159l1 -1 2 1 1 -2M908 114l-2 -2 2 -1 1 -2M954 140l2 -2 1 1M957 170l0 -2 3 0 1 2M1054 88l2 -1 2 1 2 1M981 157l-2 1 -2 0 0 -2M953 175l-0 -2 2 0M913 143l-2 -1 -2 0 0 -2M902 117l1 2 1 1 1 2M968 51l1 1 -1 1M998 60l-2 -0 -2 -0 -1 2M953 55l1 1 2 2 2 1M989 37l1 -1 -2 -1 0 -2M1107 95l2 -1 2 2 2 -1M1034 51l-1 -2 -1 -2M1044 116l1 2 -1 1M1103 78l1 1 1 0M1084 88l2 -2 1 -1M1081 109l0 2 -2 -0 -2 -0M965 81l1 2 1 1M1045 100l-1 2 2 1 -0 2M974 94l-2 1 -2 2 -2 1M1050 102l2 -0 -0 2M1038 75l2 -0 2 1 -1 2M920 112l-2 0 0 -2 2 -2M964 141l-2 1 -1 -2 1 -1M988 127l2 1 2 -1M993 90l-2 0 -1 1M950 137l-1 -2 -2 0 -1 -2M996 30l2 1 0 -2M1017 99l2 -1 2 0 1 2M929 161l1 1 -2 0 -2 1M1079 33l1 -1 2 -1M942 77l-2 1 -2 1 -1 -2M977 131l1 2 2 1M973 161l2 1 1 -2M933 166l2 0 1 2M1008 120l1 1 3 -0M1025 69l0 2 2 1 -1 1M1057 37l1 -2 1 -0 1 -2M1010 46l2 1 2 1M966 33l1 -2 1 -2 3 0M1013 111l1 2 1 2M1000 96l-2 1 -2 -0 -1 2M982 120l2 -0 2 -1 2 0M915 72l1 2 -1 1M1044 122l-2 -1 -2 0 -1 2M1021 109l-0 -2 -1 -2 -2 -1M1010 39l1 -2 1 -2M1002 79l-0 -2 2 -1 1 -2M1035 33l2 -0 2 1 1 2M919 86l-1 -2 -2 1M948 152l-2 0 0 2M1113 69l-3 -0 -1 2 -2 -1M1009 137l1 -2 -2 -2 -1 -2M975 170l2 -1 1 -1M1077 114l-0 -2 -3 0 -2 -1M990 36l-2 -1 -2 1M1022 81l1 2 -0 2M989 38l-2 -0 -1 -2M1094 45l1 1 0 2 -1 1M1002 34l-2 1 -2 -0 -3 -0M961 86l-0 2 1 2 2 -0M961 186l2 0 1 1M938 112l2 -0 2 -1 1 -2M1078 103l-0 2 -1 -0M1102 87l-1 -2 -0 -2M1084 104l2 -1 1 -2M927 111l-1 1 -1 -1M971 39l-1 -2 -0 -2 -1 -2M1013 87l-1 2 1 2M1080 115l1 2 -1 1M972 170l-3 -0 0 -2 -2 -1M977 93l2 0 -0 2M917 84l-2 1 -1 -2M923 134l-2 0 -2 1M919 111l-1 2 -2 -0 -0 -2M991 33l-2 -1 -2 -0M1091 77l1 1 0 -2M905 97l2 -2 2 -1 2 -0M927 88l0 2 0 2 2 1M970 40l-2 0 -2 1M1073 43l-1 2 2 2 -0 2M1084 63l-1 -2 -2 1M986 60l-2 0 -2 1M1001 35l-0 3 2 1 0 2M930 74l-2 -1 -1 1 -2 -1M969 44l-1 -2 -0 -2M979 90l2 0 2 -0M974 111l1 -2 -2 -1 -1 -2M953 125l-2 -1 -2 0 0 1M1071 45l1 -2 3 0 -0 -2M981 103l2 -0 -1 -2M1016 123l2 1 1 2 0 2M930 77l2 2 -1 1M962 91l-2 0 -2 1 1 2M952 143l-1 -1 -3 -0 0 -2M1079 49l-0 -2 -0 -2M1009 49l-1 -2 -0 -2 -2 -0M1091 54l-0 -2 2 -1M1091 68l-0 2 -0 2M994 92l-1 -1 0 -2 -3 0M1021 86l2 -0 1 2M1022 82l1 -2 -2 -0 -0 -2M974 88l1 -2 -2 -0M962 40l2 1 1 2 1 1M1081 33l1 -2 -2 -1 -1 1M968 88l2 -2 0 -1M969 55l-0 -2 -1 -1 -2 1M951 142l0 2 0 2M963 170l2 -1 1 -2 -2 -1M1076 64l-0 -2 2 -2 1 1M1046 99l2 2 2 -1M1087 85l-2 -1 -2 -0M951 54l2 1 1 1 1 -1M916 89l1 1 -1 2M1075 51l-0 -2 2 -1 -0 -2M975 181l-1 -2 1 -2M984 83l-1 2 2 1M947 99l2 -2 2 1M1065 56l-2 0 -2 1M911 109l2 0 1 2M987 73l1 -2 2 -2M992 86l-0 -2 -2 0M942 66l1 -1 2 1 -0 2M1055 107l2 0 1 -2 0 -2M943 159l2 1 2 2 1 -2M963 81l2 1 2 -1M1089 38l0 -2 0 -2 -2 -1M1045 48l1 -2 -1 -2 -0 -1M1012 45l2 1 0 -2M1001 52l2 -1 0 2M1075 33l-1 1 0 2M963 142l1 -1 1 -2 2 -2M1082 111l2 -0 -0 2M1040 106l-1 -1 -3 0M942 49l-2 -1 -1 1M987 60l-2 1 -1 1 -1 2M972 93l1 -2 2 0M967 56l-2 -0 -2 2M1065 40l-2 1 -2 1 -1 -1M1019 68l-0 -2 -2 -0M1101 95l1 -2 2 -1 1 -2M1073 82l-2 2 -1 -1 -1 1M999 60l-2 1 -0 2 0 2M1008 115l-1 2 -0 2M1029 47l-2 1 -0 -2 -2 -1M934 157l2 -2 0 -1 1 -2M1008 43l1 -1 -1 -2M941 59l-0 2 1 2M920 102l-1 2 -2 -2M985 92l1 1 1 2M1064 56l-2 0 -1 2M985 39l1 1 2 1M1071 83l-1 -2 1 -2M1018 37l1 -2 1 -1 2 2M948 54l2 1 -0 2 -2 1M971 51l2 -1 1 1 2 1M908 125l1 -2 -2 -1M1105 66l2 -1 2 -1 2 -0M1023 110l2 -1 1 2 -2 1M1100 79l-1 1 -2 -2 1 -2M1113 80l2 -1 1 -2M1081 73l-0 2 -1 2 -1 2M971 136l1 -2 1 1M939 175l-0 2 -2 1 -2 1M938 172l-2 -1 -1 -2 2 -2M1019 105l1 -2 -1 -1M932 83l-2 1 0 2 -2 1M1044 33l-2 1 -2 0M1072 39l-2 2 -0 2M959 38l-2 -0 0 2 2 0M940 59l2 2 1 2 -1 1M975 179l0 -2 -2 -1 1 -2M1015 70l-2 1 1 2M999 101l-1 -2 -2 -1 -2 2M1007 116l2 1 1 1M937 73l2 -1 2 -1M970 66l-2 1 -1 -1 1 -2M999 121l1 -2 -2 -1 1 -2M943 92l-2 0 -2 1M985 166l-1 2 -1 -1 -2 -1M1041 119l-2 0 1 2 -2 0M1051 48l-0 2 1 2M928 98l-1 -2 -2 -2 -2 -0M1082 41l2 0 2 0M1095 62l2 -1 2 0M983 92l-1 1 1 1M1080 106l-0 2 2 -0M963 35l-2 -1 -1 1 -0 2M942 147l-2 -1 -2 -1M966 122l-2 1 1 2 0 2M979 88l-1 -2 -1 -1M949 168l1 2 1 1" stroke="#38F038" stroke-width="1.1" fill="none" stroke-linecap="round" stroke-linejoin="round"/><path d="M625 460l2 1 2 1M625 468l-1 -2 -2 1M667 471l-2 -1 -2 -2M602 464l-0 -2 -0 -2 -2 -0M599 470l-3 -0 -2 -0M598 459l-2 0 0 -2 -0 -2M635 474l0 2 2 1M671 481l-1 1 -2 1 -2 1M625 484l2 -1 1 -2 2 -0M654 484l1 -1 0 -2 1 -1M675 476l-1 1 1 2 -2 1M666 484l-2 -1 0 -2 2 1M647 486l-0 2 0 2M595 458l-1 2 -0 2M627 470l1 2 1 2 0 2M630 483l-1 2 -2 2 -1 -2M624 502l2 -2 2 -1M676 483l-2 1 -2 -1M619 465l2 0 2 0 2 1M619 495l1 -2 -1 -2M675 501l2 1 2 1M636 471l-2 0 -2 1M677 482l2 1 -1 2 -2 -1M637 490l-1 -2 -1 -1 -0 -2M654 477l-1 2 -1 2M668 488l-1 2 -1 1 -1 -1M653 505l2 0 2 -0M597 462l-1 -2 -0 -2 -1 -2M657 478l-1 -1 -2 0 -2 -1M634 473l0 2 -1 1M625 464l-2 -0 -1 -2 -2 -0M596 452l2 -1 2 -1M632 477l1 1 -2 1M636 482l-0 2 2 -0M624 494l-2 1 -2 1M619 489l-2 1 -2 0M651 503l-2 -0 -0 3 0 2M607 462l1 2 1 2 -0 2M672 483l0 -2 -2 -0M657 487l0 2 1 2M676 505l2 0 -0 2 3 0M606 454l-1 -2 -1 -2M657 502l0 -2 2 -1M629 458l-1 1 -1 2 1 1M664 482l2 -1 1 2M670 472l2 0 2 0M671 475l2 1 2 0M635 475l-2 1 -2 -0M670 474l0 -2 0 -2M628 463l1 2 -1 2M626 497l1 -1 -1 -2M607 456l2 -1 1 -1M650 480l-2 0 -3 -0 -1 -1M666 485l-0 -3 -2 -1 -1 2M641 502l1 1 1 1 1 2M658 482l-1 -1 -2 1 -1 -1M630 461l-2 -1 -2 -2 -2 -0M638 498l0 -2 -1 -2 2 -1M601 469l-2 1 -1 2M644 484l1 -2 -1 -1M627 470l2 -1 0 -2 0 -2M627 467l-2 -1 -2 1M625 497l1 -1 0 -2M628 480l2 -2 -2 -1M672 477l2 -1 2 -1M678 501l-1 2 0 2M626 486l0 -2 1 -1 -1 -2M678 502l-1 2 0 2 0 2M643 492l0 2 2 -1 0 -2M658 501l-0 -2 -2 -0 -2 -1M647 484l-0 2 -2 -0 -2 -0M644 498l1 -1 2 -1 -2 -2M627 470l2 -0 1 -2 2 -1M607 458l1 1 1 -2 1 -2M650 485l-1 2 -1 1M641 481l-2 -1 -2 0 1 2M641 502l-2 -1 -2 1M633 480l1 2 -0 2M646 503l1 2 -2 0 -1 2M644 465l1 1 -1 2M638 491l0 2 2 -1M618 494l2 -0 1 1 -2 2M621 467l2 1 2 -2 2 1M643 475l-2 -1 -2 1 -1 -1M652 503l1 1 -1 1M646 479l-0 2 -1 1 -2 1M635 489l-2 -1 -2 1 1 2M623 484l1 -2 2 -1 -1 -2M626 495l-2 1 2 2M621 499l1 -2 1 -2 1 -2M654 481l-1 -1 -1 -2 -2 0M654 484l-1 -2 1 -2 2 -1M634 490l1 1 2 0 1 -1M665 491l1 -2 2 -1 2 0M661 473l-2 1 0 2M634 474l2 0 1 2 2 0M659 475l-2 -1 -0 -3 2 -1M677 478l-2 -0 -0 -2M646 501l1 1 2 1 2 -1M643 463l-2 1 -1 1 -2 -1M620 489l-1 2 -1 1M632 486l1 -2 1 -1M627 474l2 -1 -0 -2 -0 -2M657 476l2 -1 1 -2M677 481l-0 -2 -1 -2M632 458l-1 2 -2 1M618 488l2 -1 2 -1 2 -0M636 477l2 0 1 1 -1 2M661 477l-1 -1 -1 -2M609 459l-1 -2 -2 0 -2 1M593 457l-2 1 -0 3M594 463l1 -2 -2 -0 -2 2M621 464l0 2 -0 2M624 470l-1 2 2 2 -1 2M672 484l-2 -0 0 -2M599 464l-0 2 2 1M659 492l-2 -1 -1 2 -1 2M624 478l-2 1 -2 0M621 466l0 2 -0 2 2 1M658 486l-1 2 1 2M677 507l2 2 1 1M640 488l-0 2 -1 2M660 491l2 2 2 1M670 478l0 -2 2 -1M654 481l-2 0 -1 -1M601 453l-0 -2 -2 0 -1 -2M640 499l-2 -2 -2 -0 0 2M619 497l-1 2 -0 2M605 468l2 -1 -1 -2 -2 -1M655 500l-0 2 -2 0 0 -2M662 497l2 0 1 2 2 1M653 479l-2 0 -2 -0M604 452l2 1 2 1 -1 2M656 477l0 -2 2 -0M678 502l-2 0 -1 1M635 489l1 1 1 2M624 470l2 1 1 2M641 501l-1 -1 -2 0M667 479l-1 2 2 1M606 461l-1 -2 -1 -2 1 -1M631 459l1 2 -1 2 -2 2M657 502l1 2 -1 2M621 491l-1 1 -2 -0 -2 -1M622 465l-2 1 -2 1 -1 1M631 477l2 2 1 2 1 2M665 472l2 -1 2 1M667 484l2 1 2 0M601 458l-0 -2 -0 -2 1 -2M616 490l-1 2 -2 1M637 474l1 2 -2 0 -2 -2M662 490l-0 2 -2 1 -1 -2M628 457l0 -2 -2 -0M672 472l1 -1 2 2M650 505l-1 2 2 2M639 479l-2 -1 -2 -1M667 483l1 -1 -2 -1 0 -1M665 491l-1 2 -1 2 1 2M676 504l-1 2 -0 2M600 468l2 1 1 2 -1 2M638 497l-1 2 -2 -2 1 -1M623 463l0 2 -0 2M640 500l-1 2 -1 2 -1 2M620 489l1 -3 1 1M671 482l-2 -1 -2 2M598 455l1 2 0 2M661 492l2 0 -1 2 1 2M672 479l0 2 -2 0M654 500l-1 -2 -1 -0 -1 -2M596 469l1 2 1 2 0 2M627 481l-1 1 -1 -1 0 -2M638 476l1 2 -1 1M667 484l-0 2 -2 1 -0 -2M660 476l-1 -1 -2 1 -2 -1M604 456l1 -1 1 2 -0 2M650 484l-0 2 -1 2 -2 -0M623 475l-2 1 0 2 0 2M643 482l-2 -1 -2 1 -2 0M667 472l1 0 2 -1 0 2M629 464l1 -2 2 -1 1 2M640 475l0 -2 2 -1M675 475l1 -2 -0 -2M594 466l1 1 1 1 1 -2M633 481l1 2 -1 1 -1 -1M627 497l-2 0 -1 -2M628 493l-2 -0 -1 1 -1 -1M653 485l-2 -1 -2 1 -1 -2M673 498l-2 -1 -2 -0M620 487l1 2 2 0M667 483l-2 -1 -1 -2M633 495l-1 -2 -2 -1M617 493l-1 2 -2 -1M619 492l-2 1 0 2 2 1M592 455l2 -1 -1 -2 -0 -1M619 491l2 1 1 2M644 497l2 -1 2 0M637 486l2 -0 2 -0 2 1M635 491l-1 -2 -1 -2 -0 -2M677 499l-1 -1 -2 0 0 -2M667 475l-2 -0 0 -2 -2 -1M647 481l0 -2 -2 0 1 2M637 493l2 -1 2 1 2 -1M636 481l-0 2 -2 -1 -1 -2M624 497l1 -2 -2 -1M624 464l2 0 2 -1 1 1M672 475l-1 -2 -2 1M653 504l0 -2 -2 -0 -1 -1M647 486l-2 -1 0 -2M620 465l-3 0 -1 -1M660 478l1 -2 -0 -2 2 -0M659 483l-2 1 -1 -2 -2 1M675 502l1 -2 2 -0 2 -2M603 467l-1 -2 -1 -1M623 471l1 -1 -0 -3M662 476l-2 -0 -0 -1M638 458l1 -2 1 -1M663 479l-2 -0 -1 -2 -1 -2M644 480l2 1 1 -2M620 463l-1 -2 -2 -1M671 488l1 -2 2 -1 2 0M636 491l2 -1 0 -2M626 478l-1 1 -2 1M644 479l1 2 1 1M600 452l-2 1 -0 2M625 469l1 -2 0 -2 -1 -2M636 473l-1 -2 2 -1 -0 -2M665 478l1 1 1 2M636 487l-2 -1 1 -2M670 476l-2 -0 0 -2M669 479l1 -1 2 -0 1 -2M639 487l2 1 1 1 2 0M630 492l-2 1 1 2M593 457l-1 1 -0 -2M617 496l2 -0 1 2 2 -1M642 498l-2 -2 -2 1 -0 2M605 463l1 2 -1 1M654 485l-2 -2 -2 -1 -2 0M639 476l-0 2 -2 2M624 491l1 -2 2 1M675 499l1 1 0 2 1 2M636 493l1 -2 -2 -1M619 488l-1 2 1 2M649 504l-0 -2 -2 -0M662 486l1 -1 -2 -1M659 488l1 1 2 1 1 -2M675 496l-2 -0 -2 -1M619 492l2 -1 0 -2M617 495l-1 -2 -1 1M651 481l-1 -1 -1 -2M636 488l-1 -2 2 -0 2 -1M636 473l2 0 -0 -2 -2 -1M673 482l-1 -2 0 -2M672 484l-2 -0 0 2M623 476l1 2 1 2 -2 2M623 493l1 -1 2 -1M643 483l-2 -0 -2 -1 -0 -2M632 491l1 1 1 -1M649 476l1 -2 -2 -2M677 502l-2 -1 -0 -2M680 505l2 -1 -2 -1M626 489l-1 -2 1 -2 2 1M599 459l1 2 1 -1M604 458l1 2 0 2 2 -0M601 453l1 2 2 0 1 -2M594 458l-2 0 -2 -0 -2 -1M661 482l-2 1 0 2M602 460l2 -1 2 -1M649 483l2 -0 -0 2 1 2M602 456l-2 -1 0 -2 -2 -0M630 490l2 1 1 2M602 457l1 2 -2 0M616 488l0 2 -1 1M673 481l-1 -1 -1 2 2 2M629 487l1 -1 2 -0M642 461l-1 2 -1 2 -2 -0M620 472l1 2 2 1 1 -2M657 479l2 1 -1 2 -2 -1M637 483l-1 2 2 1 2 -0M649 505l-1 -2 -2 2 1 1M621 487l-2 2 1 1M637 475l1 2 1 1M606 455l-2 -1 1 -2M645 471l-0 -2 2 -0 -1 -2M655 485l1 2 -1 1 -2 -1M640 492l-0 3 2 2M630 460l-2 1 -0 2M667 486l-1 -1 -2 2M633 477l2 -0 1 1M622 477l1 1 -1 1 -2 -0M675 499l-2 1 -2 -0M637 475l-2 -1 -1 2 1 2M630 498l-0 -2 -1 -1 -1 -2M630 476l-0 -2 1 -2M642 466l0 -2 2 -1 1 -2M641 497l-1 -1 -2 -0 -2 -1M673 475l-2 2 -2 0 1 2M652 484l1 2 2 1M667 484l1 2 2 2 -0 2M601 465l-2 1 -2 1M628 498l0 2 2 1M625 485l2 -1 -1 -2 1 -1M646 486l1 -1 1 1M682 507l1 -1 1 1M660 495l-1 2 -2 -1 -2 1M669 486l-1 -1 1 -2M678 503l-1 1 -2 2M626 493l-2 2 -2 0M638 492l-2 -2 -1 -1 -1 2M593 454l-0 -2 -2 -1 -1 1M660 474l2 -1 1 1M622 464l0 2 2 -1 2 -1M620 470l-1 1 -2 -1 -0 -2M633 488l1 2 2 1 1 2M599 457l1 2 2 1M661 473l-1 -1 -2 2M622 468l2 2 3 -0M662 480l-2 -0 -2 0M634 471l0 2 1 -0M631 492l1 -2 1 -2 1 -1M644 476l-1 2 -0 2 -2 -0M643 478l-2 -1 -1 -2 -2 1M597 457l-2 1 -0 2M671 484l-1 -1 -2 1 -1 1M620 487l2 0 1 -2M642 503l1 2 -2 1 -2 -1M659 502l2 0 -1 2M644 484l-0 2 -2 0M635 480l2 0 2 -1M628 485l-1 -1 1 -1M633 475l1 -2 1 -1 2 1M620 497l-1 2 -2 -1M664 493l1 1 -1 2M646 504l-1 -2 -2 -2M630 474l-2 -0 -2 0M642 476l-2 1 -1 -1 -1 2M604 458l-1 2 -0 2 -2 -0" stroke="#38F038" stroke-width="1.1" fill="none" stroke-linecap="round" stroke-linejoin="round"/><path d="M812 409l1 -1 1 -2M798 381l1 2 -0 2 -0 2M788 415l2 1 0 2 0 2M824 385l1 2 2 1M807 407l-2 0 -2 0 -0 2M809 409l-2 -1 -1 2 -2 1M849 380l-0 -2 2 0M830 399l1 -2 -2 -1M810 409l2 -1 0 -2M833 386l-1 -1 1 -1 1 1M741 380l-1 -2 0 -2M851 380l-1 -1 -1 -1M814 410l-2 -0 -1 2 1 1M800 408l-2 -2 -2 1M844 386l-0 2 2 0M815 411l-2 -0 -1 -2 -0 -2M838 389l-2 1 -0 2M850 389l0 -1 2 -0 2 0M797 377l-2 -1 -0 -2 2 -1M824 421l1 2 1 2M806 419l-2 -0 -2 -1M796 414l-2 -0 -1 -2M832 384l2 1 1 2M790 415l1 -2 1 1M791 393l0 -2 -3 0M837 395l2 2 2 -0 0 2M835 388l-1 -2 -2 -0 1 -2M840 381l-3 -0 -2 -0M834 384l1 2 2 1 2 1M812 388l-1 1 -1 2M806 418l-2 -1 -0 -2M838 379l-2 -1 -1 1M745 385l2 -1 1 2M790 415l-1 -1 -2 0M842 390l1 -2 -1 -2 -0 -2M793 418l2 1 1 2M812 404l-0 -2 1 -1 0 -2M794 414l-0 -2 -2 1M802 397l0 -2 -2 -0 1 -2M768 382l-2 1 -2 0M815 406l1 1 0 2M796 412l1 -2 -1 -1 1 -2M814 411l-1 2 -1 2 1 1M807 405l-0 -2 -2 1 -0 2M787 412l-2 -1 -2 -0 -0 -2M807 407l-1 2 -1 1M843 385l-1 -1 0 -2M852 383l0 -2 -1 -2 1 -1M797 383l1 -2 0 -2 1 -2M838 375l2 0 2 1 1 2M748 381l-1 -1 0 -2M819 413l-1 -1 -2 -1M849 390l1 -2 -1 -2 0 -2M799 376l-2 1 -1 -1 -2 -1M789 390l-1 2 1 2 -2 2M742 381l1 -2 -2 -1 -1 -2M844 395l2 0 2 -1 2 0M807 414l1 -1 -1 -1M811 416l-2 -1 -2 -1M767 377l0 2 1 2M743 385l-2 -1 -2 -2M846 375l-3 0 -1 1 -1 -1M831 388l1 -1 -2 -1M805 393l-0 -2 1 -2 -2 -1M801 396l-0 -2 -0 -3M825 402l-1 1 -2 1 -2 0M792 412l2 -0 1 -1M832 392l1 2 2 0 1 -2M846 387l1 2 2 -1 1 -2M822 413l-2 -1 1 -2 1 1M844 393l-1 0 -1 -2 0 -2M836 381l2 -1 0 -2 2 -1M742 383l1 -2 2 -1M770 381l-1 2 -1 -2 -2 -2M747 374l2 -0 -0 2 -2 1M770 373l-2 -0 0 2M824 414l1 2 0 2 1 0M837 380l2 -1 2 0 2 0M794 376l-1 2 -2 -1 -1 1M847 385l-1 1 -1 1 -2 -1M834 391l1 2 1 2 -1 2M844 396l-2 -1 -2 -2M846 381l-2 2 -2 -1 -2 0M830 396l1 2 2 2M841 388l-2 1 -1 -1M816 408l0 2 0 1 1 1M799 396l2 -1 2 -2 -2 -2M838 376l-2 0 -1 3M831 391l-1 1 -0 2 1 1M789 388l0 -2 1 -2M840 376l0 -2 -1 -1M816 417l-1 2 2 0 2 -2M799 374l-2 0 -2 2M813 405l-0 2 -2 -1 -2 -1M794 379l-1 1 -2 -0M796 405l3 -1 2 -1M797 381l2 2 -2 1 -1 1M794 410l-1 -1 -2 1 -1 -1M742 375l-1 2 -2 -1 1 -2M800 406l2 -0 1 2M835 401l1 -1 1 -2M828 382l2 1 1 -2 -0 -3M796 393l1 -2 2 0 -0 2M745 385l2 -1 2 -1M817 407l2 -1 1 -1M743 376l0 2 1 2 -1 2M743 379l2 0 1 -2M822 385l-0 -2 -2 1M795 409l-1 -1 -2 -0 -1 -2M738 375l1 -2 2 1 2 -0M841 379l-1 2 -2 0M848 378l1 1 1 -1 2 -2M810 408l-2 0 -1 2M771 378l-2 0 -1 2M838 385l2 -1 2 -1M845 392l2 2 1 1 2 -0M739 377l-2 1 0 2M810 412l-2 1 -2 -0 1 -2M823 385l1 -2 -1 -1 0 -2M816 423l2 -1 2 -1 2 -1M789 385l-2 0 -1 -2M814 405l0 -2 -2 -0M749 381l-0 2 -1 2M847 377l-1 2 -2 -1 -1 2M823 403l-1 -2 -2 -2M837 401l-2 -1 -2 -0M750 378l2 -1 2 2 2 1M798 405l2 -0 1 -1 -1 -1M820 416l1 -2 -2 -1M795 379l-2 2 -2 1M817 412l1 1 3 -0M850 379l-1 1 -2 -0 -1 1M808 389l-2 0 -1 2 -2 0M841 392l2 -1 1 1M801 396l2 0 1 2 -2 1M820 407l-1 -1 1 -2M767 375l-1 -1 1 -1M813 405l1 1 1 -1 0 -2M812 414l1 1 1 2M789 417l-2 0 -2 0M820 420l-1 -2 -1 -2M828 397l-2 -1 -1 2 1 1M836 395l-2 -0 -0 -2M816 416l2 1 -2 2M821 417l-1 2 1 2 2 -1M812 409l2 -1 2 -1M802 391l-2 2 -0 3 -1 1M797 375l-1 -2 0 -2 -2 -0M813 414l1 -1 2 -1M804 395l-1 -1 -2 -1M850 391l2 -0 2 -0 0 2M804 390l2 1 2 1 2 -0M746 370l1 -1 -1 -1M796 396l1 2 1 1M824 401l2 -0 -0 2M743 383l1 1 0 2M800 395l-0 -2 -1 -1M838 398l2 0 0 2 -2 1M804 391l-2 1 -2 -1M796 375l-2 -1 -1 -1M812 414l1 2 -1 2 -1 -1M748 382l2 -1 0 -2 -2 0M833 395l-1 -1 -1 1M812 417l-2 1 1 2M835 391l-1 -2 -1 -1M815 406l2 0 1 2 2 -0M820 413l2 1 1 2M814 410l-1 1 2 1M846 391l-2 -0 -1 2M803 396l-1 2 -2 2M800 386l-0 -2 -0 -2 1 -1M801 389l1 -1 -0 -3M845 384l2 -0 -0 -2M794 414l-1 2 2 1M768 375l2 1 0 2 1 2M828 381l-2 1 1 2 -2 1M813 406l-1 1 -2 0 -1 2M851 390l1 -2 2 -1 1 2M838 396l-0 -2 -1 -2 2 -1M745 372l2 -1 2 0M834 400l-1 1 1 2 1 2M810 388l2 -1 -1 -2 -1 1M835 391l-0 2 -2 0M795 396l-2 0 -2 -1M820 419l-0 1 -2 -1 -1 3M843 379l1 -1 1 -2 -1 -1M740 381l-0 -2 0 -2M751 380l2 1 2 1 -0 2M815 420l1 -2 0 -2 -0 -2M849 390l-0 2 -1 1 -0 3M822 384l1 -1 1 -2M845 377l-2 -0 -2 -2M812 421l1 2 -0 2 -1 1M792 379l-1 -2 3 -0M842 378l2 1 1 -2M796 389l2 2 1 2 -2 1M839 377l3 1 -0 -2M772 374l-2 -1 -2 -1M792 378l-0 -2 -0 -2 2 -1M835 386l2 1 -1 2 -2 1M814 424l-0 -2 -2 -0M835 385l2 1 1 2M834 399l-1 2 2 0M836 399l2 1 2 -0 -1 -1M835 392l2 0 2 -0 2 0M794 412l-1 -1 -2 -1M830 390l-1 2 2 0M738 377l0 -2 2 -0 2 -0M816 417l-0 2 -2 -0 -0 -2M792 407l2 1 1 2M810 404l1 1 -2 1M798 393l2 -0 2 2M789 414l0 -2 2 1 2 -0M798 407l2 0 2 -2 1 -1M844 377l1 1 -2 1 -2 -1M823 382l0 -2 1 -1M852 384l-2 0 -1 -1M798 385l2 2 2 -0 2 0M813 406l2 -1 2 1 1 2M817 411l-2 1 -1 2 -2 1M807 405l-2 -1 1 -1 -2 -1M845 385l-2 -1 -3 -0 1 -2M830 386l2 0 2 -2 1 2M748 377l0 -2 -1 -2 -2 -1M825 384l2 1 2 1 -1 2M851 385l-2 -2 -2 -0 -1 -2M751 381l-2 -1 -2 1 -1 -2M821 409l-1 -1 0 -2 -1 -2M830 388l-1 -2 -1 -2M771 381l-0 -2 -2 -1 -2 -1M791 391l2 -1 2 1 1 2M837 384l0 2 0 2 2 -0M766 375l-1 2 -2 0 -1 -2M839 376l1 2 2 0M816 385l2 1 -1 2 -2 0M795 396l2 0 2 1M746 381l-2 1 -2 1M846 391l-2 1 0 2 2 -1M837 402l-0 3 1 1M794 409l1 2 1 1 2 -0M793 393l1 -2 2 0M849 386l-2 -1 -1 2M798 392l-2 -0 -2 -1 -1 -2M828 391l0 -2 -2 -1M849 392l-1 2 -2 -1M815 407l2 2 2 0 2 -0M793 406l2 -2 -1 -2 -1 -2M793 392l2 0 -0 2M739 383l-1 2 2 1 2 0M748 383l-1 -2 -1 -2 -2 1M811 403l-0 -2 -1 -2M794 406l-1 -0 -1 2 1 1M816 386l-2 0 -2 -2M814 407l0 -2 -1 -1M834 394l1 2 -1 2 1 1M768 377l0 -2 -2 -0M817 417l2 0 0 -2M848 387l1 1 2 2M852 384l2 -1 0 2M839 378l0 2 -1 2M744 372l-2 -0 -2 -0M821 416l1 -1 -1 -2 -2 1M845 384l2 -0 2 1M815 388l1 -1 -2 -1M852 390l-1 2 -1 1M796 389l1 -1 2 1 2 2M821 417l1 -2 -1 -2 1 -2M814 418l2 1 -1 2 -1 2M813 420l-2 1 1 2M843 379l-1 -1 -0 -2 -2 0M846 388l-1 -1 -2 -1 -0 -2M798 392l0 -2 2 -1M794 394l-2 1 -0 2M846 393l1 2 1 2M745 371l-1 -1 -0 -2 2 -0M748 372l-2 -0 0 2 -0 2M749 380l-1 -1 -1 -1 -2 1M774 375l-1 -2 0 -2M847 380l1 2 0 2 -2 -1M821 404l-2 2 2 1 2 -1M748 382l-1 2 0 2 -1 1M830 387l-0 -2 -2 0M836 398l-2 2 1 1 2 1M818 413l-2 -0 -1 -2M771 382l1 -1 1 1M819 416l-2 1 -2 1 -1 2M817 388l1 -2 2 2 1 -1M805 391l1 -1 1 0M746 372l-0 2 -1 2 1 1M840 402l-1 2 2 1M790 416l-0 -2 -2 1M742 371l-1 -1 -1 1 -2 2M817 422l-1 2 2 1M821 382l-2 1 1 2M849 378l0 2 -2 0" stroke="#38F038" stroke-width="1.1" fill="none" stroke-linecap="round" stroke-linejoin="round"/><path d="M1180 244l-2 -0 -2 -0M1179 263l1 -1 1 1 -1 1M1191 274l2 -1 2 -0 1 2M1182 267l2 2 -1 2 -0 2M1148 233l1 -2 0 -2 -2 -0M1190 280l2 -1 2 1 1 -1M1211 254l1 -2 1 -2 -2 -2M1178 233l-0 2 2 1M1170 233l1 -2 -2 -2 0 -2M1206 257l2 -0 -1 -2 2 -0M1207 242l-0 2 -1 2M1217 255l1 2 -2 1 -1 1M1183 266l2 0 2 -1M1178 265l2 1 1 -2 1 1M1233 236l-0 3 -1 2M1233 252l-1 -1 -2 -1M1203 276l-2 -0 0 2M1179 263l-1 -1 -1 -2M1145 233l-2 -1 -1 1M1170 241l2 -1 2 -1 1 2M1209 227l-1 -2 -1 -2 2 -0M1231 240l-0 -2 1 -1M1207 231l2 0 -0 2M1225 254l-1 -1 -1 1 0 2M1132 241l2 0 2 -0M1202 266l1 -2 -1 -1 -2 0M1210 235l1 1 -0 2M1196 268l1 -2 -1 -2M1182 257l2 -1 -0 -2M1173 244l-1 -2 1 -2M1173 246l1 -2 -2 -2M1209 257l-1 -2 -0 -2M1229 232l-1 1 0 2 2 1M1205 273l-1 1 1 2M1234 239l-0 -2 -1 -2M1185 279l2 1 2 1M1229 244l-1 2 2 1 1 2M1178 245l2 0 2 1 -1 2M1209 229l1 -2 2 0 -0 2M1175 241l-0 2 2 -0 1 2M1180 246l-2 -0 -1 2 2 1M1182 262l-0 3 -0 2 0 2M1234 238l2 -0 2 -1M1182 240l-1 1 2 1 1 2M1232 240l1 2 1 1 2 -0M1176 269l-2 1 -2 -1 1 -2M1212 228l2 -2 1 -1 -1 -1M1192 272l-2 -1 -1 2 0 2M1214 228l0 2 2 0M1196 275l-1 -1 -2 -2M1235 250l-2 1 -1 1 -1 -2M1206 235l1 2 -0 2 0 2M1175 266l-0 2 2 0 1 1M1237 237l1 2 -1 2 -2 0M1222 244l-2 1 -1 1 0 2M1230 237l-1 2 1 2 -1 2M1179 242l-2 -1 -1 -1M1171 235l2 -1 1 2 -1 1M1171 264l-0 2 2 -0M1173 260l-0 -2 -2 -1M1227 251l2 1 2 1 2 0M1215 234l2 2 2 -1M1187 282l-0 2 -2 1 -1 -1M1230 245l-1 2 -2 0 -2 -1M1233 236l1 2 -1 1M1192 272l1 -2 1 -2 -0 -2M1216 254l1 1 2 0 0 2M1216 228l2 -2 2 -2M1231 236l-2 -0 -1 -2M1229 243l-1 -2 -1 -2M1198 240l1 2 -2 1M1228 236l1 -1 1 2M1180 258l-2 -1 0 -2M1171 235l-0 2 -1 1M1220 241l0 -2 -1 -1 -1 -2M1184 263l-0 -2 -2 -0M1199 255l-0 2 2 -0M1203 242l-2 -1 0 -2M1230 232l-1 1 -2 0M1201 276l2 -1 1 2 1 2M1230 231l-2 0 -1 1M1206 278l1 -2 2 -1 1 2M1223 238l2 -0 2 0 0 3M1217 250l-1 1 2 2M1168 235l1 -2 -2 -0M1214 238l1 2 -1 2M1167 242l2 1 -1 2 -2 1M1217 228l-2 1 -2 1M1130 238l-2 0 -2 1M1207 256l2 2 1 1M1212 252l-2 0 -1 -2 -2 -2M1188 272l-1 -2 -2 1M1203 271l-0 2 1 1 1 2M1198 270l2 0 2 -2 -0 -3M1202 238l-1 2 -0 2M1185 265l-1 2 2 0M1195 265l2 -1 2 -1M1208 264l0 2 -2 1 -2 -1M1228 246l-0 2 1 1 0 3M1223 254l1 2 -2 1 -2 2M1176 269l1 1 2 1 -1 2M1214 266l-1 -2 -2 -1 -2 1M1209 243l1 2 0 2 -2 1M1194 266l-1 2 2 1M1168 235l2 -0 -0 2M1229 259l-2 1 -2 0 -2 1M1181 235l-1 2 -2 1 -1 2M1213 235l-0 2 -2 -0 -2 0M1215 239l-0 2 1 2 1 2M1168 238l-1 1 -0 2M1200 274l1 1 1 -0 0 -3M1197 266l1 -2 2 -0 1 1M1214 232l1 1 -1 1M1226 234l-2 -0 0 2 -0 2M1231 256l-1 -2 1 -2M1203 235l-2 -0 0 -2M1224 239l1 -2 -1 -2 -2 0M1208 254l1 1 1 -1 2 2M1182 236l2 -1 2 -0M1219 243l1 -1 2 2 -0 2M1190 273l-2 -0 -2 1M1174 258l0 2 2 1 1 -2M1174 258l-2 1 -1 -1M1226 260l-2 1 -2 2M1236 241l-1 2 1 0M1184 278l1 2 2 -1 -0 -2M1231 257l1 1 0 2M1228 253l1 1 2 -1 1 -1M1229 233l2 1 -1 2M1178 242l2 -0 0 2M1210 244l2 -1 2 -1M1223 258l2 0 1 -2M1225 256l1 -2 -1 -2 1 -1M1207 261l1 -1 1 -1 2 0M1225 246l0 -2 -1 -1 0 -2M1191 284l2 -2 2 -1M1181 262l-2 -0 -1 2M1193 272l-2 1 -2 2M1167 241l-2 -1 1 -2 0 -2M1219 228l2 1 -1 1M1144 234l-1 2 -2 0 -1 2M1206 240l-1 2 -2 1 -1 2M1172 262l1 -2 -1 -2 -2 -1M1202 258l2 -0 1 -2 2 -0M1187 271l-2 -1 -1 -2 -1 -1M1175 260l-2 1 -1 2 -2 -1M1223 256l-2 1 -2 1M1197 241l-2 -1 -0 2 -2 -0M1177 254l2 0 0 -2 -1 -2M1147 237l-2 1 -1 -2 -1 -2M1228 252l-1 1 -2 -1 -1 2M1199 270l1 -1 1 -0M1194 267l-1 2 -2 -1 -1 -1M1202 268l-0 -2 -2 -0M1178 264l2 1 1 -1M1225 254l-1 -2 2 -0 2 -1M1226 256l-2 -0 -1 0M1227 250l-1 1 -1 1 2 1M1169 241l2 1 1 -0 1 1M1190 274l0 -2 -2 -1 -1 -2M1235 239l0 -2 -2 -1M1215 249l-2 -1 -0 2M1224 246l-2 1 -2 -1M1220 250l-2 -0 -0 -2 -1 -1M1202 269l1 2 2 -0 0 2M1208 228l2 -0 1 -2M1191 264l2 -0 1 -2M1215 243l-1 2 2 1M1215 247l2 0 1 2 2 0M1234 252l2 -1 0 -2 2 -0M1236 236l1 2 2 -1M1204 241l2 0 1 1 -0 2M1222 251l2 -1 -2 -2 -2 -0M1216 246l-2 1 -1 -2M1232 236l2 -1 -0 -2 -1 -1M1221 241l-1 2 -0 2 2 1M1206 236l1 1 1 1 -0 1M1217 252l-1 2 1 2M1203 276l1 -1 2 0M1177 259l2 -1 2 -0M1183 265l-1 2 -2 -0 -1 -2M1191 284l-2 1 1 1M1228 259l0 2 -1 2 1 2M1190 269l2 -1 1 1M1205 259l2 0 1 -2M1136 240l-3 0 -2 0M1210 248l-2 -1 -0 2 2 1M1184 276l-2 2 1 2 -0 2M1222 261l1 1 2 -0M1204 277l-2 -1 1 -2 -2 -0M1134 237l3 0 1 2 3 -0M1210 246l-1 1 -1 1 1 2M1210 235l-1 1 -2 1M1215 265l1 -2 -1 -2 -1 1M1236 247l-0 2 0 2M1170 241l2 0 -0 2 1 2M1209 241l-1 2 -2 -1 -2 1M1229 259l-1 -1 -1 2 -2 -1M1144 229l0 1 2 1 0 -2M1183 263l-2 -0 -0 2M1198 270l2 0 2 1M1219 255l2 1 0 2 1 2M1216 258l-1 2 2 2M1229 250l2 -0 -1 -2M1214 265l1 2 2 -1 1 1M1194 280l2 -1 2 -1 -1 -2M1205 275l2 -1 2 -1M1213 254l-1 2 -2 1 -0 -2M1177 232l0 -2 3 1 1 0M1212 242l-1 1 -2 -0 -1 -2M1200 241l-2 -2 2 -1 2 0M1209 251l-2 -1 1 -1 2 0M1239 240l-2 -0 1 -2 2 -1M1214 242l1 -2 -1 -2 2 -1M1219 241l3 -0 1 2 -2 1M1207 249l-1 1 -0 3 -2 1M1213 235l-1 -2 -0 -2 2 -1M1231 242l2 0 0 2 1 2M1201 275l-2 -1 -2 -2 1 -2M1137 238l2 0 2 0M1222 251l-2 1 -2 1M1204 271l-1 -2 -2 -1M1223 261l0 -2 1 -1 2 -1M1239 243l1 2 2 1 -1 2M1202 269l2 -1 2 -0 2 -1M1175 260l1 2 2 -0 -0 2M1144 234l-1 -2 -0 -2 -0 -2M1235 251l0 -2 -0 -2 2 -0M1209 245l2 1 -1 2M1200 240l-1 1 1 2M1230 238l-1 2 1 1 2 -1M1223 240l2 -0 -1 -2M1170 233l2 -0 1 1M1207 251l0 -2 -2 -1M1234 246l-0 -2 -2 0 -0 2M1135 242l1 -1 -1 -2 2 -1M1217 261l-2 1 -2 -2M1177 264l1 -2 -1 -2M1206 276l-1 1 -1 2 -1 0M1205 269l0 2 0 2M1200 238l0 -2 2 -1 -0 -3M1204 271l-2 2 -2 -1 -1 -1M1226 244l-1 -2 2 -2M1223 241l1 -2 2 1M1173 264l2 -0 -0 -2 2 -1M1195 277l-1 -2 2 -1M1239 237l2 -0 0 -2 -2 0M1235 248l1 1 -1 2 -2 1M1192 266l2 0 1 2M1202 256l-2 1 -2 -0M1212 228l2 0 1 -1M1231 257l1 2 2 0M1201 275l-1 -2 -2 -1 -2 0M1189 281l2 -0 1 -2M1236 237l1 1 1 1 2 -1M1230 253l2 0 1 -2M1182 260l-2 -0 0 -2M1233 242l-2 0 -2 -0M1232 236l-1 2 -2 -1M1219 247l1 2 -1 2M1185 278l-2 -1 -2 0 -1 -2M1213 257l2 1 2 2M1207 263l-2 1 -2 1M1229 245l-0 2 2 0M1179 260l1 -2 1 -2M1191 276l1 1 -1 2M1235 251l2 -2 -0 -3M1205 269l-2 -0 -1 2 2 1M1215 238l2 -1 1 2 -0 2M1199 242l-1 1 -1 2M1223 258l2 1 1 -2 2 -1M1211 249l-1 -1 -2 1 -1 1M1228 259l2 -0 2 -1 1 1M1227 232l1 -2 2 1M1193 270l1 -2 2 -1M1201 268l0 2 1 2M1212 240l-2 -1 -1 1M1215 229l-1 1 2 2 2 -2M1208 237l1 -1 2 -2M1217 259l-1 -2 -0 -2 -2 -0M1222 239l1 -2 1 -1M1187 267l-1 2 2 1M1197 266l1 2 -0 1M1205 278l0 3 1 2M1168 246l2 -2 2 -0 2 1M1213 246l0 -2 -2 -1M1231 246l2 0 2 0M1221 245l-1 1 -1 1 2 1M1215 265l-2 -0 0 2M1195 266l-2 0 0 1 1 1M1206 253l2 -1 1 -1M1211 249l-2 2 1 2M1171 243l0 2 -1 1 1 2M1149 240l-0 2 0 2M1182 242l-2 -1 -1 2M1202 269l-0 2 1 1 2 1M1174 267l1 -2 2 -2 2 -2M1198 239l-0 -2 -2 -1M1213 228l-0 1 0 2 -1 1M1197 242l0 2 3 0 0 -2M1235 242l-1 -2 2 -2 1 1M1213 237l1 2 -1 2M1194 275l1 -2 -0 -2M1235 242l2 -1 2 0M1205 269l-1 -1 2 -1M1180 246l-1 -2 -2 0 1 2M1200 269l2 -2 2 -0M1203 273l2 1 1 1M1149 237l-1 -1 2 -2M1176 255l-2 -0 -1 1M1177 244l1 2 2 -1 0 -2M1200 241l-0 2 2 0 -0 -2M1180 238l-2 0 -0 2 0 2M1174 258l1 1 2 1 -1 2M1181 238l0 2 1 1 0 2M1218 257l-0 -2 1 -2 2 0M1215 231l-2 -2 1 -1M1181 264l-2 -0 -2 1M1204 258l-2 0 -1 -2 -2 -0M1177 247l2 1 2 -2M1173 240l-1 2 1 2 -1 2M1184 279l0 2 -2 1M1173 243l1 2 -0 2M1213 241l0 2 -2 2M1226 259l-2 1 -2 -1 -0 -2M1211 247l2 -1 1 2" stroke="#38F038" stroke-width="1.1" fill="none" stroke-linecap="round" stroke-linejoin="round"/><path d="M1390 162l-1 -2 -2 2M1375 143l-1 -2 -2 1 -2 0M1378 145l-1 2 2 1 2 1M1347 112l2 -2 1 -1 2 -0M1368 146l-0 -2 2 0M1374 151l0 -2 -0 -2 -2 0M1390 158l-2 -0 -2 1M1355 125l-2 1 -0 -2M1363 140l1 2 2 1 -0 2M1371 130l2 1 2 0 2 0M1345 152l-2 1 -2 -2 -2 -0M1359 122l-1 2 -2 1 -1 2M1390 155l1 1 0 2M1365 139l1 1 -1 2 -1 0M1344 155l0 2 -2 1M1377 141l1 2 2 1M1385 144l-2 1 -0 -2 2 0M1381 154l-2 -1 -1 2 -2 -1M1346 118l-0 -2 0 -2M1377 142l1 -2 -1 -1 -1 -2M1401 155l-0 -2 -1 -2 -0 -2M1380 143l-2 -0 -1 -2M1349 109l-1 -1 -1 1M1398 157l-1 1 1 2M1378 149l-2 1 -1 2 2 0M1356 114l-2 -1 -2 1 -2 2M1351 117l1 1 2 0 1 2M1398 165l-2 -0 -2 -1 -1 2M1361 140l2 -1 2 1M1413 161l1 1 -1 2 -2 0M1353 127l-1 1 1 1 -2 2M1367 139l-2 1 -2 -2 -1 -1M1345 111l-1 -1 -2 1M1377 142l-2 -1 -2 -1 -2 -1M1375 149l2 -1 1 -2 2 -1M1350 112l2 0 1 2 -2 0M1380 157l1 1 2 -0 2 -1M1352 111l0 -2 0 -2M1395 165l-1 2 1 2 2 -1M1369 147l1 2 1 -1M1415 160l0 -2 -0 -2M1415 164l2 0 2 2 -1 2M1396 153l2 1 2 -1 2 1M1374 144l-2 1 -1 -2 -1 1M1393 167l1 2 2 -1M1396 155l-2 -1 -1 2 0 2M1391 165l2 0 2 -1M1396 153l-2 1 -2 -0M1367 124l2 0 1 -2M1403 161l2 2 1 -2M1382 155l2 -1 -0 -2 2 -1M1346 109l-0 2 1 2M1364 140l2 1 -0 2M1370 130l-1 1 0 2 -1 2M1344 115l2 -1 2 -1M1357 116l2 -1 2 -1M1369 132l2 -0 -1 -2 -2 1M1377 157l-2 -0 -1 -2 -2 -1M1354 126l1 -1 2 -0 -0 2M1415 161l1 1 2 -1M1383 155l2 -1 2 1 2 -0M1372 156l-0 2 1 2M1393 163l1 2 2 -1M1383 155l-2 -1 -0 2M1378 139l1 -2 2 -2M1378 141l2 -1 1 -2 -1 -2M1353 114l-2 -1 -1 -2M1401 162l-1 1 -2 1M1389 157l-1 2 -1 2 -2 -2M1381 152l2 0 0 -2M1369 128l-0 2 2 0 -0 -2M1392 166l2 -1 1 -1 2 -1M1415 161l2 -2 2 0 1 -2M1380 142l-2 -1 -1 -1M1410 160l2 1 -2 2M1376 148l-1 -2 -2 -1M1394 158l-2 1 -0 2 2 1M1382 143l1 -2 0 -2M1343 152l-2 -1 -0 2 -1 1M1379 147l-2 -0 -2 1M1398 153l-2 -0 -1 1M1354 111l-1 2 -1 2 1 2M1363 141l-1 2 0 2 -1 1M1352 131l1 1 2 -0 1 2M1376 142l-1 1 -1 -1M1401 159l-1 -2 0 -2M1347 112l1 2 1 -0 2 0M1408 162l-2 1 -0 2 1 2M1343 152l-1 2 -2 -1M1351 113l1 2 -1 2M1369 149l2 1 1 1M1402 158l2 0 1 -2M1383 155l0 2 -1 2M1342 153l-1 2 -2 -2M1349 113l-1 -2 -2 1 -2 -0M1391 157l0 -2 -2 -1M1413 166l-0 -2 1 -2 2 1M1395 158l2 1 -0 -2M1393 154l2 -0 -0 -2M1361 122l1 -1 1 1M1410 164l-2 -1 -2 1 -1 -1M1343 114l-1 1 1 2M1399 165l-1 -2 1 -1 -1 -2M1372 153l2 1 2 1M1377 150l1 3 2 1 -0 2M1411 164l2 1 2 0 1 -2M1360 122l-0 2 1 2 1 1M1375 141l0 -2 2 -1 1 -2M1400 162l1 -2 1 -1 1 -2M1415 161l2 2 1 -2M1412 165l-1 1 -2 -0M1353 117l-1 1 1 2 2 1M1377 140l0 1 -1 2 -2 -1M1388 163l2 0 1 1M1399 153l1 2 -3 0 -2 2M1377 155l2 0 1 -2 2 0M1361 121l-2 -0 -1 -1M1346 154l2 2 -1 2M1351 107l-0 -2 -2 1M1374 140l2 1 2 -2M1382 144l1 2 -1 2 1 2M1349 111l2 1 -1 1M1384 142l-2 1 -2 -1M1376 157l1 -1 -2 -0M1368 140l2 1 0 1M1381 143l1 -1 -1 -1M1397 152l-2 1 -0 2 -0 2M1353 108l-2 -2 -2 0 -2 0M1396 165l2 2 3 -0 1 2M1381 149l1 -2 -0 -3 -2 -1M1371 155l-0 -2 2 -0M1341 153l0 2 2 2M1386 143l-2 -1 -2 -0M1387 152l0 -2 -0 -2M1391 161l1 2 1 2 1 -1M1409 165l-0 2 -2 0M1410 166l-1 2 -1 2M1378 154l0 2 1 1 2 -2M1349 108l1 -2 1 -2M1384 142l2 -1 2 -0 1 2M1382 143l2 1 -1 2M1369 138l2 -0 1 -2 0 -2M1385 147l2 1 0 -2 2 1M1383 154l-2 0 -2 -1M1350 108l1 -2 -2 -1M1408 160l-1 -2 -0 -2M1374 140l2 -0 -1 -2M1383 150l-1 2 -2 -1M1358 142l1 2 1 2M1356 115l1 -1 2 -0M1410 160l2 0 1 1M1397 157l-1 -1 -2 1 -2 -2M1346 112l3 1 -1 2M1365 125l2 1 1 2M1360 122l0 -2 2 0M1355 115l-1 -2 -1 1M1372 131l1 2 2 -1M1353 113l2 -1 2 1M1394 157l2 -1 -1 -2M1386 150l2 0 0 -2M1355 119l1 2 1 1 1 1M1379 146l-1 -1 -1 1 -1 -1M1400 163l-0 -2 1 -1 2 -2M1375 152l2 1 2 -2 1 1M1353 119l2 -1 1 2M1413 166l1 -2 2 -0M1398 163l-1 1 -2 -1M1344 114l-2 1 -2 -1 -1 2M1372 150l2 -1 1 2M1365 125l2 1 -1 2" stroke="#38F038" stroke-width="1.1" fill="none" stroke-linecap="round" stroke-linejoin="round"/><path d="M456,359 C455,391 453,500 452,540 M465,359 C466,391 465,500 466,540 M459.5,363 L460.5,391 M457.8,354.6 Q444.0,338.6 429.0,330.0 M454.2,359.4 Q441.4,341.9 429.7,329.1 M438.3,337.3 l-6.0 -0.0 M434.9,334.6 l0.3 -4.4 M457.2,359.8 Q481.4,342.7 505.0,330.0 M454.8,354.2 Q479.8,338.8 505.5,331.1 M486.0,338.2 l6.6 2.4 M485.4,338.4 l7.0 1.8 M458.9,356.1 Q453.3,333.8 446.0,318.0 M453.1,357.9 Q449.3,335.0 447.1,317.7 M447.6,323.4 l-4.0 -1.0 M449.9,330.9 l-5.4 -1.2 M441,297 Q443,304 447,307 Q451,304 453,297 M447,307 l0 4" stroke="#111" stroke-width="1.3" fill="none" stroke-linecap="round" stroke-linejoin="round" /><path d="M466,392 L488,386 L510,377" stroke="#111" stroke-width="1.3" fill="none" stroke-linecap="round" stroke-linejoin="round" /><path d="M634,297 C633,329 632,436 631,476 M645,297 C646,329 642,436 643,476 M638.5,301 L639.5,329 M638.6,292.5 Q623.8,278.0 608.0,271.0 M635.4,297.5 Q621.6,281.5 608.6,270.0 M608.5,271.3 l-5.4 -0.0 M617.6,277.0 l-1.7 -4.5 M638.1,297.8 Q661.8,282.2 685.0,271.0 M635.9,292.2 Q660.4,278.3 685.4,272.1 M666.5,277.9 l0.7 -6.5 M681.2,272.4 l5.2 2.6 M639.8,294.1 Q634.8,274.7 628.0,262.0 M634.2,295.9 Q630.8,276.1 629.1,261.6 M630.6,269.9 l-5.3 -1.2 M628.2,262.7 l3.2 -6.8 M619,237 Q621,244 625,247 Q629,244 631,237 M625,247 l0 4" stroke="#111" stroke-width="1.3" fill="none" stroke-linecap="round" stroke-linejoin="round" /><path d="M645,331 L661,333" stroke="#111" stroke-width="1.3" fill="none" stroke-linecap="round" stroke-linejoin="round" /><path d="M798,221 C797,253 802,363 801,403 M810,221 C811,253 815,363 816,403 M803.0,225 L804.0,253 M804.2,216.2 Q777.5,199.3 750.0,190.0 M801.8,221.8 Q775.8,203.2 750.5,188.9 M766.2,197.0 l-6.1 2.0 M757.9,193.4 l-6.9 3.3 M804.5,221.6 Q823.7,203.6 842.0,190.0 M801.5,216.4 Q821.6,199.9 842.6,191.0 M833.7,194.9 l2.8 -6.3 M834.8,194.2 l7.3 1.5 M805.1,216.9 Q798.2,204.8 790.0,200.0 M800.9,221.1 Q795.2,207.8 790.8,199.2 M794.0,204.0 l-5.9 1.4 M791.3,201.3 l-7.7 -1.5 M812,153 Q814,160 818,163 Q822,160 824,153 M818,163 l0 4" stroke="#111" stroke-width="1.3" fill="none" stroke-linecap="round" stroke-linejoin="round" /><path d="M800,250 L770,243 L748,238" stroke="#111" stroke-width="1.3" fill="none" stroke-linecap="round" stroke-linejoin="round" /><path d="M1000,141 C999,173 1001,303 1000,343 M1010,141 C1011,173 1010,303 1011,343 M1004.0,145 L1005.0,173 M1007.2,136.2 Q982.4,120.3 957.0,112.0 M1004.8,141.8 Q980.8,124.2 957.5,110.9 M972.0,118.4 l-5.1 3.0 M974.8,119.6 l-7.2 2.5 M1007.5,141.6 Q1025.2,124.6 1042.0,112.0 M1004.5,136.4 Q1023.1,120.9 1042.6,113.0 M1039.1,113.7 l2.4 -5.6 M1031.6,118.1 l0.2 -5.0 M1008.3,137.1 Q1002.3,124.9 995.0,120.0 M1003.7,140.9 Q999.1,127.7 995.9,119.2 M995.3,120.3 l-7.2 0.9 M995.9,121.0 l-5.0 -1.4 M1014,77 Q1016,84 1020,87 Q1024,84 1026,77 M1020,87 l0 4" stroke="#111" stroke-width="1.3" fill="none" stroke-linecap="round" stroke-linejoin="round" /><path d="M1001,177 L975,170 L952,165" stroke="#111" stroke-width="1.3" fill="none" stroke-linecap="round" stroke-linejoin="round" /><path d="M603,470 C602,502 603,602 602,642 M614,470 C615,502 613,602 614,642 M607.5,474 L608.5,502 M610.1,465.9 Q603.7,454.3 596.0,450.0 M605.9,470.1 Q600.7,457.3 596.8,449.2 M597.8,451.8 l1.5 -7.6 M597.2,451.2 l-6.9 1.5 M610.0,470.3 Q617.6,456.8 624.0,448.0 M606.0,465.7 Q614.8,453.6 624.8,448.9 M619.2,452.2 l-0.8 -4.4 M620.6,451.0 l0.5 -4.4 M611.0,468.4 Q611.4,455.3 610.0,448.0 M605.0,467.6 Q607.2,454.7 611.2,448.2 M609.4,452.2 l-2.7 -3.9 M609.9,448.7 l4.8 -5.3" stroke="#111" stroke-width="1.3" fill="none" stroke-linecap="round" stroke-linejoin="round" /><path d="M765,406 C764,438 759,521 758,561 M775,406 C776,438 771,521 772,561 M769.0,410 L770.0,438 M770.6,402.6 Q763.1,383.9 754.0,372.0 M765.4,405.4 Q759.4,385.9 755.1,371.4 M755.2,374.1 l-4.8 -1.4 M759.6,382.4 l3.8 -5.8 M770.4,405.8 Q778.9,386.9 786.0,373.0 M765.6,402.2 Q775.5,384.4 787.0,373.7 M781.1,379.8 l-0.3 -7.2 M784.1,375.7 l6.1 0.6 M771.0,403.8 Q769.4,384.8 766.0,372.0 M765.0,404.2 Q765.2,385.1 767.2,371.9 M766.7,381.4 l4.7 -4.4 M766.7,381.5 l2.6 -3.5 M771.0,404.5 Q772.4,386.4 772.0,374.0 M765.0,403.5 Q768.2,385.7 773.2,374.2 M771.7,375.9 l3.5 -2.6 M770.7,381.7 l2.8 -3.1" stroke="#111" stroke-width="1.3" fill="none" stroke-linecap="round" stroke-linejoin="round" /><path d="M774,412 L792,415 L810,408" stroke="#111" stroke-width="1.3" fill="none" stroke-linecap="round" stroke-linejoin="round" /><path d="M1150,248 C1149,280 1151,378 1150,418 M1160,248 C1161,280 1161,378 1162,418 M1154.0,252 L1155.0,280 M1157.0,243.8 Q1150.1,232.2 1142.0,228.0 M1153.0,248.2 Q1147.3,235.3 1142.8,227.1 M1145.5,231.2 l-4.2 -0.0 M1142.9,228.9 l-4.2 -0.1 M1156.9,248.3 Q1165.0,234.9 1172.0,226.0 M1153.1,243.7 Q1162.4,231.6 1172.8,226.9 M1168.7,228.8 l1.8 -5.4 M1166.8,230.3 l6.2 -1.0 M1158.0,246.2 Q1157.9,233.2 1156.0,226.0 M1152.0,245.8 Q1153.7,232.9 1157.2,226.1 M1156.0,226.3 l-3.9 -4.0 M1156.0,226.1 l-3.1 -3.3" stroke="#111" stroke-width="1.3" fill="none" stroke-linecap="round" stroke-linejoin="round" /><path d="M1355,168 C1354,200 1354,261 1353,301 M1367,168 C1368,200 1366,261 1367,301 M1360.0,172 L1361.0,200 M1363.8,165.0 Q1355.8,138.2 1346.0,118.0 M1358.2,167.0 Q1351.8,139.6 1347.1,117.6 M1350.6,131.0 l1.6 -6.6 M1351.5,133.4 l-5.9 -1.4 M1364.0,165.9 Q1362.9,136.0 1360.0,112.0 M1358.0,166.1 Q1358.7,136.0 1361.2,112.0 M1360.2,123.5 l-4.2 -4.1 M1360.2,121.7 l-4.9 -2.7 M1363.2,168.0 Q1378.3,144.6 1392.0,126.0 M1358.8,164.0 Q1375.2,141.8 1392.9,126.8 M1385.6,133.0 l-1.1 -6.0 M1385.5,133.1 l6.6 0.7 M1363.9,166.7 Q1368.8,136.5 1372.0,112.0 M1358.1,165.3 Q1364.7,135.6 1373.2,112.3 M1368.0,129.3 l-3.6 -6.4 M1368.1,129.1 l-3.1 -6.0" stroke="#111" stroke-width="1.3" fill="none" stroke-linecap="round" stroke-linejoin="round" /><path d="M301.1,424.3L237.8,517.5M305.5,427.3L242.2,520.5" stroke="#D27B25" stroke-width="1.1" fill="none"/><ellipse cx="303.3" cy="425.8" rx="2.6" ry="2.6" stroke="#D27B25" stroke-width="1.1" fill="#fff"/><path d="M306.7,428.8L208.7,619.8M311.3,431.2L213.3,622.2" stroke="#D27B25" stroke-width="1.1" fill="none"/><ellipse cx="309.0" cy="430.0" rx="2.6" ry="2.6" stroke="#D27B25" stroke-width="1.1" fill="#fff"/><path d="M258.8,438.9L551.6,623.2M261.6,434.5L554.4,618.8" stroke="#D27B25" stroke-width="1.1" fill="none"/><ellipse cx="260.2" cy="436.7" rx="2.6" ry="2.6" stroke="#D27B25" stroke-width="1.1" fill="#fff"/><path d="M393.7,519.5L302.7,659.5M398.3,522.5L307.3,662.5" stroke="#D27B25" stroke-width="1.1" fill="none"/><path d="M393.7,522.1L459.7,662.1M398.3,519.9L464.3,659.9" stroke="#D27B25" stroke-width="1.1" fill="none"/><path d="M128.0,511.5L482.0,465.3" stroke="#000" stroke-width="3.5" stroke-linecap="round" fill="none"/><path d="M128.0,538.0L510.0,482.0" stroke="#000" stroke-width="3.5" stroke-linecap="round" fill="none"/><path d="M128.0,564.5L538.0,500.2" stroke="#000" stroke-width="3.5" stroke-linecap="round" fill="none"/><path d="M157.0,583.7L392.0,544.0" stroke="#000" stroke-width="3.5" stroke-linecap="round" fill="none"/><clipPath id="netclip"><polygon points="306.5,486.3 466,461.1 559.5,515.6 403.7,541.3"/></clipPath><polygon points="306.5,486.3 466,461.1 559.5,515.6 403.7,541.3" fill="#fff"/><g clip-path="url(#netclip)"><path d="M299.7,483.8L398.7,546.1M302.3,479.6L401.3,541.9" stroke="#D27B25" stroke-width="1.1" fill="none"/><ellipse cx="301.0" cy="481.7" rx="2.5" ry="2.5" stroke="#D27B25" stroke-width="1.1" fill="#fff"/><path d="M258.8,438.9L551.6,623.2M261.6,434.5L554.4,618.8" stroke="#D27B25" stroke-width="1.1" fill="none"/><path d="M393.7,519.5L302.7,659.5M398.3,522.5L307.3,662.5" stroke="#D27B25" stroke-width="1.1" fill="none"/><path d="M393.7,522.1L459.7,662.1M398.3,519.9L464.3,659.9" stroke="#D27B25" stroke-width="1.1" fill="none"/><path d="M398.0,476.5L338.0,558.5M402.0,479.5L342.0,561.5" stroke="#D27B25" stroke-width="1.1" fill="none"/><ellipse cx="400.0" cy="478.0" rx="2.5" ry="2.5" stroke="#D27B25" stroke-width="1.1" fill="#fff"/></g><path d="M306.5,486.3L403.7,541.3M316.5,484.7L413.4,539.7M326.4,483.2L423.2,538.1M336.4,481.6L432.9,536.5M346.4,480.0L442.6,534.9M356.3,478.4L452.4,533.3M366.3,476.9L462.1,531.7M376.3,475.3L471.9,530.1M386.2,473.7L481.6,528.5M396.2,472.1L491.3,526.8M406.2,470.6L501.1,525.2M416.2,469.0L510.8,523.6M426.1,467.4L520.5,522.0M436.1,465.8L530.3,520.4M446.1,464.2L540.0,518.8M456.0,462.7L549.8,517.2M466.0,461.1L559.5,515.6M306.5,486.3L466.0,461.1M316.2,491.8L475.4,466.6M325.9,497.3L484.7,472.0M335.7,502.8L494.1,477.5M345.4,508.3L503.4,482.9M355.1,513.8L512.8,488.4M364.8,519.3L522.1,493.8M374.5,524.8L531.5,499.2M384.3,530.3L540.8,504.7M394.0,535.8L550.1,510.2M403.7,541.3L559.5,515.6" stroke="#E41A14" stroke-width="1.9" fill="none"/><path d="M299.7,483.8L304.7,486.8M302.3,479.6L307.3,482.6" stroke="#D27B25" stroke-width="1.1" fill="none"/><ellipse cx="301.0" cy="481.7" rx="2.5" ry="2.5" stroke="#D27B25" stroke-width="1.1" fill="#fff"/><clipPath id="hnclip"><polygon points="129,566 200,611 195,649 127,658"/></clipPath><g clip-path="url(#hnclip)"><path d="M130.0,566.6L127.0,676.6M136.0,570.4L133.0,680.4M142.0,574.2L139.0,684.2M148.0,578.0L145.0,688.0M154.0,581.9L151.0,691.9M160.0,585.7L157.0,695.7M166.0,589.5L163.0,699.5M172.0,593.3L169.0,703.3M178.0,597.1L175.0,707.1M184.0,600.9L181.0,710.9M190.0,604.7L187.0,714.7M196.0,608.5L193.0,718.5M120,547.9L210,605.0M120,557.6L210,614.7M120,567.3L210,624.4M120,577.0L210,634.1M120,586.7L210,643.8M120,596.4L210,653.5M120,606.1L210,663.2M120,615.8L210,672.9M120,625.5L210,682.6M120,635.2L210,692.3M120,644.9L210,702.0M120,654.6L210,711.7M120,664.3L210,721.4M120,674.0L210,731.1M120,683.7L210,740.8M120,693.4L210,750.5" stroke="#D8141A" stroke-width="1.9" fill="none"/></g><path d="M127.7,568.1L201.7,614.6M130.3,563.9L204.3,610.4" stroke="#D27B25" stroke-width="1.1" fill="none"/><ellipse cx="203.0" cy="612.5" rx="2.5" ry="2.5" stroke="#D27B25" stroke-width="1.1" fill="#fff"/><path d="M128.0,564.5L134.0,563.6" stroke="#000" stroke-width="3.5" stroke-linecap="round" fill="none"/><circle cx="157.8" cy="583.5" r="3.2" fill="#000"/><path d="M324.0,499.0L324.0,590.0" stroke="#C81E1E" stroke-width="2.2" stroke-linecap="butt" fill="none"/><path d="M350.5,516.0L350.5,610.0" stroke="#C81E1E" stroke-width="2.2" stroke-linecap="butt" fill="none"/><path d="M378.0,533.0L378.0,630.0" stroke="#C81E1E" stroke-width="2.2" stroke-linecap="butt" fill="none"/><g transform="translate(324.1,544.7) rotate(-8)"><ellipse rx="11.2" ry="12.3" fill="#000"/><ellipse rx="8.1" ry="9.2" fill="none" stroke="#ddd" stroke-width="0.5"/><ellipse rx="5.6" ry="6.8" fill="none" stroke="#ccc" stroke-width="0.4"/><ellipse rx="2.6" ry="5.2" fill="#fff"/></g><g transform="translate(324.1,570.5) rotate(-8)"><ellipse rx="11.2" ry="12.3" fill="#000"/><ellipse rx="8.1" ry="9.2" fill="none" stroke="#ddd" stroke-width="0.5"/><ellipse rx="5.6" ry="6.8" fill="none" stroke="#ccc" stroke-width="0.4"/><ellipse rx="2.6" ry="5.2" fill="#fff"/></g><g transform="translate(324.1,595.8) rotate(-8)"><ellipse rx="11.2" ry="12.3" fill="#000"/><ellipse rx="8.1" ry="9.2" fill="none" stroke="#ddd" stroke-width="0.5"/><ellipse rx="5.6" ry="6.8" fill="none" stroke="#ccc" stroke-width="0.4"/><ellipse rx="2.6" ry="5.2" fill="#fff"/></g><g transform="translate(350.5,562.7) rotate(-8)"><ellipse rx="11.2" ry="12.3" fill="#000"/><ellipse rx="8.1" ry="9.2" fill="none" stroke="#ddd" stroke-width="0.5"/><ellipse rx="5.6" ry="6.8" fill="none" stroke="#ccc" stroke-width="0.4"/><ellipse rx="2.6" ry="5.2" fill="#fff"/></g><g transform="translate(350.5,588.0) rotate(-8)"><ellipse rx="11.2" ry="12.3" fill="#000"/><ellipse rx="8.1" ry="9.2" fill="none" stroke="#ddd" stroke-width="0.5"/><ellipse rx="5.6" ry="6.8" fill="none" stroke="#ccc" stroke-width="0.4"/><ellipse rx="2.6" ry="5.2" fill="#fff"/></g><g transform="translate(350.5,613.3) rotate(-8)"><ellipse rx="11.2" ry="12.3" fill="#000"/><ellipse rx="8.1" ry="9.2" fill="none" stroke="#ddd" stroke-width="0.5"/><ellipse rx="5.6" ry="6.8" fill="none" stroke="#ccc" stroke-width="0.4"/><ellipse rx="2.6" ry="5.2" fill="#fff"/></g><g transform="translate(378.2,582.0) rotate(-8)"><ellipse rx="11.2" ry="12.3" fill="#000"/><ellipse rx="8.1" ry="9.2" fill="none" stroke="#ddd" stroke-width="0.5"/><ellipse rx="5.6" ry="6.8" fill="none" stroke="#ccc" stroke-width="0.4"/><ellipse rx="2.6" ry="5.2" fill="#fff"/></g><g transform="translate(378.2,607.2) rotate(-8)"><ellipse rx="11.2" ry="12.3" fill="#000"/><ellipse rx="8.1" ry="9.2" fill="none" stroke="#ddd" stroke-width="0.5"/><ellipse rx="5.6" ry="6.8" fill="none" stroke="#ccc" stroke-width="0.4"/><ellipse rx="2.6" ry="5.2" fill="#fff"/></g><g transform="translate(378.2,631.9) rotate(-8)"><ellipse rx="11.2" ry="12.3" fill="#000"/><ellipse rx="8.1" ry="9.2" fill="none" stroke="#ddd" stroke-width="0.5"/><ellipse rx="5.6" ry="6.8" fill="none" stroke="#ccc" stroke-width="0.4"/><ellipse rx="2.6" ry="5.2" fill="#fff"/></g><path d="M324.0,540.0L324.0,585.0" stroke="#C42020" stroke-width="1.8" stroke-linecap="butt" fill="none"/><path d="M350.5,558.0L350.5,605.0" stroke="#C42020" stroke-width="1.8" stroke-linecap="butt" fill="none"/><path d="M378.0,577.0L378.0,625.0" stroke="#C42020" stroke-width="1.8" stroke-linecap="butt" fill="none"/><path d="M452.4,450.0L621.5,554.6M455.0,445.8L624.1,550.4" stroke="#D27B25" stroke-width="1.1" fill="none"/><ellipse cx="453.7" cy="447.9" rx="2.5" ry="2.5" stroke="#D27B25" stroke-width="1.1" fill="#fff"/><ellipse cx="622.8" cy="552.5" rx="2.5" ry="2.5" stroke="#D27B25" stroke-width="1.1" fill="#fff"/><path d="M626.3,381.5L779.9,474.1M628.9,377.3L782.5,469.9" stroke="#D27B25" stroke-width="1.1" fill="none"/><ellipse cx="627.6" cy="379.4" rx="2.5" ry="2.5" stroke="#D27B25" stroke-width="1.1" fill="#fff"/><ellipse cx="781.2" cy="472.0" rx="2.5" ry="2.5" stroke="#D27B25" stroke-width="1.1" fill="#fff"/><path d="M660.4,420.4L757.1,482.1M663.0,416.2L759.7,477.9" stroke="#D27B25" stroke-width="1.1" fill="none"/><ellipse cx="661.7" cy="418.3" rx="2.5" ry="2.5" stroke="#D27B25" stroke-width="1.1" fill="#fff"/><ellipse cx="758.4" cy="480.0" rx="2.5" ry="2.5" stroke="#D27B25" stroke-width="1.1" fill="#fff"/><path d="M481.9,465.3L661.7,396.3" stroke="#000" stroke-width="3.5" stroke-linecap="round" fill="none"/><g transform="translate(481.6,468.9) rotate(15)"><path d="M2.9,-2.2A3.6,3.6 0 1 0 2.9,2.2" stroke="#000" stroke-width="3.2" fill="none"/></g><path d="M510.1,482.0L689.9,415.1" stroke="#000" stroke-width="3.5" stroke-linecap="round" fill="none"/><g transform="translate(509.8,485.6) rotate(15)"><path d="M2.9,-2.2A3.6,3.6 0 1 0 2.9,2.2" stroke="#000" stroke-width="3.2" fill="none"/></g><path d="M538.3,500.2L716.8,430.4" stroke="#000" stroke-width="3.5" stroke-linecap="round" fill="none"/><g transform="translate(538.0,503.8) rotate(15)"><path d="M2.9,-2.2A3.6,3.6 0 1 0 2.9,2.2" stroke="#000" stroke-width="3.2" fill="none"/></g><path d="M567.8,517.7L747.7,449.2" stroke="#000" stroke-width="3.5" stroke-linecap="round" fill="none"/><g transform="translate(567.5,521.3) rotate(15)"><path d="M2.9,-2.2A3.6,3.6 0 1 0 2.9,2.2" stroke="#000" stroke-width="3.2" fill="none"/></g><path d="M663,398 Q673,443.0 661,488" stroke="#D81E1E" stroke-width="2" fill="none" stroke-linecap="round" stroke-linejoin="round" /><path d="M690,416 Q701.0,461.5 688,507" stroke="#D81E1E" stroke-width="2" fill="none" stroke-linecap="round" stroke-linejoin="round" /><path d="M717,432 Q729,477.5 715,523" stroke="#D81E1E" stroke-width="2" fill="none" stroke-linecap="round" stroke-linejoin="round" /><path d="M748,450 Q760,496.0 746,542" stroke="#D81E1E" stroke-width="2" fill="none" stroke-linecap="round" stroke-linejoin="round" /><circle cx="762" cy="459.6" r="4.3" fill="#000"/><circle cx="771.8" cy="465.6" r="4.3" fill="#000"/><circle cx="762.3" cy="459.8" r="0.6" fill="#fff"/><path d="M788.8,313.9L1263.2,72.5M786.4,308.9L1260.8,67.5" stroke="#D27B25" stroke-width="1.1" fill="none"/><ellipse cx="787.6" cy="311.4" rx="2.8" ry="2.8" stroke="#D27B25" stroke-width="1.1" fill="#fff"/><ellipse cx="1262.0" cy="70.0" rx="2.8" ry="2.8" stroke="#D27B25" stroke-width="1.1" fill="#fff"/><path d="M985.3,216.4L1223.3,93.4M982.7,211.6L1220.7,88.6" stroke="#D27B25" stroke-width="1.1" fill="none"/><ellipse cx="984.0" cy="214.0" rx="2.8" ry="2.8" stroke="#D27B25" stroke-width="1.1" fill="#fff"/><path d="M828.2,277.2L1006.6,378.4M831.0,272.4L1009.4,373.6" stroke="#D27B25" stroke-width="1.1" fill="none"/><ellipse cx="829.6" cy="274.8" rx="2.8" ry="2.8" stroke="#D27B25" stroke-width="1.1" fill="#fff"/><path d="M1010.6,271.3L1165.6,366.3M1013.4,266.7L1168.4,361.7" stroke="#D27B25" stroke-width="1.1" fill="none"/><ellipse cx="1167.0" cy="364.0" rx="2.8" ry="2.8" stroke="#D27B25" stroke-width="1.1" fill="#fff"/><path d="M1006.4,380.3L1373.4,154.3M1003.6,375.7L1370.6,149.7" stroke="#D27B25" stroke-width="1.1" fill="none"/><path d="M1124.9,304.6L1170.9,288.6M1123.1,299.4L1169.1,283.4" stroke="#D27B25" stroke-width="1.1" fill="none"/><ellipse cx="1124.0" cy="302.0" rx="2.8" ry="2.8" stroke="#D27B25" stroke-width="1.1" fill="#fff"/><path d="M1018.4,193.1L1179.7,281.4M1021.0,188.3L1182.3,276.6" stroke="#D27B25" stroke-width="1.1" fill="none"/><ellipse cx="1181.0" cy="279.0" rx="2.8" ry="2.8" stroke="#D27B25" stroke-width="1.1" fill="#fff"/><path d="M1190.6,158.4L1373.6,268.4M1193.4,153.6L1376.4,263.6" stroke="#D27B25" stroke-width="1.1" fill="none"/><ellipse cx="1192.0" cy="156.0" rx="2.8" ry="2.8" stroke="#D27B25" stroke-width="1.1" fill="#fff"/><ellipse cx="1375.0" cy="266.0" rx="2.8" ry="2.8" stroke="#D27B25" stroke-width="1.1" fill="#fff"/><path d="M1197.7,71.4L1376.7,168.4M1200.3,66.6L1379.3,163.6" stroke="#D27B25" stroke-width="1.1" fill="none"/><ellipse cx="1199.0" cy="69.0" rx="2.8" ry="2.8" stroke="#D27B25" stroke-width="1.1" fill="#fff"/><ellipse cx="1378.0" cy="166.0" rx="2.8" ry="2.8" stroke="#D27B25" stroke-width="1.1" fill="#fff"/><path d="M825.3,375.0L988.6,472.4M828.1,370.2L991.4,467.6" stroke="#D27B25" stroke-width="1.1" fill="none"/><ellipse cx="826.7" cy="372.6" rx="2.8" ry="2.8" stroke="#D27B25" stroke-width="1.1" fill="#fff"/><path d="M1228.5,58.8L1163.5,198.8M1233.5,61.2L1168.5,201.2" stroke="#D27B25" stroke-width="1.1" fill="none"/><ellipse cx="1231.0" cy="60.0" rx="2.8" ry="2.8" stroke="#D27B25" stroke-width="1.1" fill="#fff"/><path d="M1235.5,59.9L1175.5,203.9M1240.5,62.1L1180.5,206.1" stroke="#D27B25" stroke-width="1.1" fill="none"/><ellipse cx="1238.0" cy="61.0" rx="2.8" ry="2.8" stroke="#D27B25" stroke-width="1.1" fill="#fff"/><path d="M1226.1,61.8L1180.1,133.8M1229.9,64.2L1183.9,136.2" stroke="#D27B25" stroke-width="1.1" fill="none"/><path d="M1216.6,76.4L1388.6,174.4M1219.4,71.6L1391.4,169.6" stroke="#D27B25" stroke-width="1.1" fill="none"/><ellipse cx="1218.0" cy="74.0" rx="2.8" ry="2.8" stroke="#D27B25" stroke-width="1.1" fill="#fff"/><path d="M1002.8,387.6L983.8,491.6M1007.2,388.4L988.2,492.4" stroke="#D27B25" stroke-width="1.1" fill="none"/><path d="M1003.9,390.8L1040.9,486.8M1008.1,389.2L1045.1,485.2" stroke="#D27B25" stroke-width="1.1" fill="none"/><path d="M1003.1,479.2L1033.6,470.2M1001.9,474.8L1032.4,465.8" stroke="#D27B25" stroke-width="1.1" fill="none"/><path d="M894.8,319 Q894,370 890,407.7" stroke="#D81E1E" stroke-width="2" fill="none" stroke-linecap="round" stroke-linejoin="round" /><path d="M928.8,340 Q928,390 921.8,426.4" stroke="#D81E1E" stroke-width="2" fill="none" stroke-linecap="round" stroke-linejoin="round" /><path d="M957.7,356.3 Q960,410 952,445.2" stroke="#D81E1E" stroke-width="2" fill="none" stroke-linecap="round" stroke-linejoin="round" /><path d="M1005,400 Q1002,440 992.4,468" stroke="#D81E1E" stroke-width="2" fill="none" stroke-linecap="round" stroke-linejoin="round" /><path d="M926.3,291.6 C927.9,317.9 931.0,335.4 935.2,335.4 C939.3,335.4 935.4,320.3 933.8,297.6" stroke="#000" stroke-width="3.4" fill="none" stroke-linecap="round" stroke-linejoin="round" /><path d="M962.0,272.3 C963.5,321.8 966.7,354.8 970.8,354.8 C974.9,354.8 971.0,324.2 969.5,278.3" stroke="#000" stroke-width="3.4" fill="none" stroke-linecap="round" stroke-linejoin="round" /><path d="M997.6,254.0 C1000.4,307.1 1006.4,342.6 1010.5,342.6 C1014.7,342.6 1007.9,309.5 1005.1,260.0" stroke="#000" stroke-width="3.4" fill="none" stroke-linecap="round" stroke-linejoin="round" /><path d="M1033.3,237.7 C1035.7,283.5 1041.0,314.1 1045.2,314.1 C1049.3,314.1 1043.2,285.9 1040.8,243.7" stroke="#000" stroke-width="3.4" fill="none" stroke-linecap="round" stroke-linejoin="round" /><path d="M958.9,311.0 C960.4,334.8 963.6,350.7 967.8,350.7 C971.9,350.7 967.9,337.2 966.4,317.0" stroke="#000" stroke-width="3.4" fill="none" stroke-linecap="round" stroke-linejoin="round" /><path d="M994.6,292.7 C996.4,334.8 1000.3,362.9 1004.4,362.9 C1008.5,362.9 1003.9,337.2 1002.1,298.7" stroke="#000" stroke-width="3.4" fill="none" stroke-linecap="round" stroke-linejoin="round" /><path d="M1029.2,275.4 C1031.6,319.3 1037.0,348.7 1041.1,348.7 C1045.2,348.7 1039.1,321.7 1036.7,281.4" stroke="#000" stroke-width="3.4" fill="none" stroke-linecap="round" stroke-linejoin="round" /><path d="M1065.8,258.0 C1067.1,303.9 1069.5,334.4 1073.7,334.4 C1077.8,334.4 1074.6,306.3 1073.3,264.0" stroke="#000" stroke-width="3.4" fill="none" stroke-linecap="round" stroke-linejoin="round" /><path d="M988.4,329.3 C989.7,355.6 992.1,373.1 996.3,373.1 C1000.4,373.1 997.2,358.0 995.9,335.3" stroke="#000" stroke-width="3.4" fill="none" stroke-linecap="round" stroke-linejoin="round" /><path d="M1024.1,311.0 C1025.6,339.7 1028.8,358.9 1032.9,358.9 C1037.1,358.9 1033.1,342.1 1031.6,317.0" stroke="#000" stroke-width="3.4" fill="none" stroke-linecap="round" stroke-linejoin="round" /><path d="M1059.7,292.7 C1061.6,320.2 1065.5,338.5 1069.6,338.5 C1073.7,338.5 1069.1,322.6 1067.2,298.7" stroke="#000" stroke-width="3.4" fill="none" stroke-linecap="round" stroke-linejoin="round" /><path d="M1096.4,274.3 C1098.2,300.6 1102.1,318.1 1106.3,318.1 C1110.4,318.1 1105.7,303.0 1103.9,280.3" stroke="#000" stroke-width="3.4" fill="none" stroke-linecap="round" stroke-linejoin="round" /><path d="M894.4,311.0 C900.5,309.6 919.2,307.8 931.1,302.9 C943.0,297.9 954.2,288.4 965.7,281.5 C977.3,274.5 989.8,267.9 1000.3,261.1 C1010.9,254.3 1021.4,248.2 1028.9,240.7 C1036.3,233.3 1042.4,220.4 1045.2,216.3" stroke="#000" stroke-width="3.6" fill="none" stroke-linecap="round" stroke-linejoin="round" /><path d="M926.0,330.3 C931.9,329.0 949.3,327.0 961.6,322.2 C974.0,317.4 988.5,308.6 1000.3,301.8 C1012.2,295.0 1022.1,289.3 1032.9,281.5 C1043.8,273.7 1057.7,262.5 1065.5,255.0 C1073.3,247.5 1077.4,239.7 1079.8,236.7" stroke="#000" stroke-width="3.6" fill="none" stroke-linecap="round" stroke-linejoin="round" /><path d="M955.5,348.7 C961.6,347.7 979.3,347.0 992.2,342.6 C1005.1,338.2 1020.0,329.7 1032.9,322.2 C1045.8,314.7 1059.4,304.9 1069.6,297.8 C1079.8,290.6 1087.4,286.6 1094.0,279.4 C1100.7,272.3 1106.8,259.1 1109.3,255.0" stroke="#000" stroke-width="3.6" fill="none" stroke-linecap="round" stroke-linejoin="round" /><path d="M987.1,367.0 C993.0,366.0 1011.7,365.0 1022.7,360.9 C1033.8,356.8 1043.1,348.3 1053.3,342.6 C1063.5,336.8 1072.0,333.7 1083.8,326.3 C1095.7,318.8 1115.4,306.8 1124.6,297.8 C1133.7,288.8 1136.5,276.5 1138.8,272.3" stroke="#000" stroke-width="3.6" fill="none" stroke-linecap="round" stroke-linejoin="round" /><path d="M894.0,317.8 C894.0,366.6 901.8,382.9 920.0,382.9 C933.4,382.9 939.2,372.9 939.2,342.9" stroke="#000" stroke-width="3.5" fill="none" stroke-linecap="round" stroke-linejoin="round" /><path d="M927.4,337.0 C927.4,385.9 935.4,402.2 954.0,402.2 C964.4,402.2 968.8,392.2 968.8,362.2" stroke="#000" stroke-width="3.5" fill="none" stroke-linecap="round" stroke-linejoin="round" /><path d="M957.0,354.8 C957.0,402.6 965.4,418.5 985.1,418.5 C996.5,418.5 1001.4,409.2 1001.4,381.4" stroke="#000" stroke-width="3.5" fill="none" stroke-linecap="round" stroke-linejoin="round" /><path d="M1034.1,360.2 C1034.1,375.6 1039.7,380.7 1053.0,380.7 C1064.0,380.7 1068.7,371.6 1068.7,344.5" stroke="#000" stroke-width="3.5" fill="none" stroke-linecap="round" stroke-linejoin="round" /><path d="M1075.0,339.7 C1075.0,358.6 1080.2,364.9 1092.3,364.9 C1102.2,364.9 1106.5,354.3 1106.5,322.4" stroke="#000" stroke-width="3.5" fill="none" stroke-linecap="round" stroke-linejoin="round" /><path d="M1111.2,322.4 C1111.2,375.6 1117.4,393.3 1131.7,393.3 C1147.1,393.3 1153.7,381.1 1153.7,344.5" stroke="#000" stroke-width="3.5" fill="none" stroke-linecap="round" stroke-linejoin="round" /><path d="M1037.2,360.2 C1037.2,390.9 1033.9,401.1 1026.2,401.1 C1007.5,401.1 999.4,395.6 999.4,379.1" stroke="#000" stroke-width="3.5" fill="none" stroke-linecap="round" stroke-linejoin="round" /><path d="M1078.2,341.3 C1078.2,393.3 1084.8,410.6 1100.2,410.6 C1111.2,410.6 1115.9,398.0 1115.9,360.2" stroke="#000" stroke-width="3.5" fill="none" stroke-linecap="round" stroke-linejoin="round" /><path d="M1006.8,400.5 C1006.8,437.2 1013.7,449.5 1029.8,449.5 C1042.9,449.5 1048.6,442.3 1048.6,420.7" stroke="#000" stroke-width="3.5" fill="none" stroke-linecap="round" stroke-linejoin="round" /><path d="M1037.0,361.6 C1037.0,412.4 1044.0,429.3 1060.1,429.3 C1075.2,429.3 1081.7,414.2 1081.7,368.8" stroke="#000" stroke-width="3.5" fill="none" stroke-linecap="round" stroke-linejoin="round" /><path d="M1005.3,394.7 C1005.3,399.1 1008.4,400.5 1015.4,400.5 C1027.5,400.5 1032.7,396.2 1032.7,383.2" stroke="#000" stroke-width="3.5" fill="none" stroke-linecap="round" stroke-linejoin="round" /><path d="M1045.2,216.3L1251.8,96.7" stroke="#000" stroke-width="3.6" stroke-linecap="round" fill="none"/><path d="M1079.8,236.7L1283.0,113.5" stroke="#000" stroke-width="3.6" stroke-linecap="round" fill="none"/><path d="M1109.3,255.0L1311.4,127.8" stroke="#000" stroke-width="3.6" stroke-linecap="round" fill="none"/><path d="M1138.8,272.3L1342.5,147.2" stroke="#000" stroke-width="3.6" stroke-linecap="round" fill="none"/><g transform="translate(1045.2,216.3) rotate(-30)"><path d="M2.7,-2.0A3.4,3.4 0 1 0 2.7,2.0" stroke="#000" stroke-width="3.2" fill="none"/></g><g transform="translate(1079.8,236.7) rotate(-30)"><path d="M2.7,-2.0A3.4,3.4 0 1 0 2.7,2.0" stroke="#000" stroke-width="3.2" fill="none"/></g><g transform="translate(1109.3,255.0) rotate(-30)"><path d="M2.7,-2.0A3.4,3.4 0 1 0 2.7,2.0" stroke="#000" stroke-width="3.2" fill="none"/></g><g transform="translate(1138.8,272.3) rotate(-30)"><path d="M2.7,-2.0A3.4,3.4 0 1 0 2.7,2.0" stroke="#000" stroke-width="3.2" fill="none"/></g><g transform="translate(1233.3,82.6) rotate(-30)"><path d="M2.7,-2.0A3.4,3.4 0 1 0 2.7,2.0" stroke="#000" stroke-width="3.2" fill="none"/></g><g transform="translate(1249.3,92.4) rotate(-30)"><path d="M2.7,-2.0A3.4,3.4 0 1 0 2.7,2.0" stroke="#000" stroke-width="3.2" fill="none"/></g><g transform="translate(1257.0,95.0) rotate(-30)"><path d="M2.7,-2.0A3.4,3.4 0 1 0 2.7,2.0" stroke="#000" stroke-width="3.2" fill="none"/></g><g transform="translate(1284.0,113.2) rotate(-30)"><path d="M2.7,-2.0A3.4,3.4 0 1 0 2.7,2.0" stroke="#000" stroke-width="3.2" fill="none"/></g><g transform="translate(1311.8,129.9) rotate(-30)"><path d="M2.7,-2.0A3.4,3.4 0 1 0 2.7,2.0" stroke="#000" stroke-width="3.2" fill="none"/></g><g transform="translate(1343.0,148.6) rotate(-30)"><path d="M2.7,-2.0A3.4,3.4 0 1 0 2.7,2.0" stroke="#000" stroke-width="3.2" fill="none"/></g><path d="M1211.1,133.3 L1216.7,118.1 L1223.6,133.3 Z M1209.6,133.3 L1225.1,133.3" stroke="#000" stroke-width="3.2" fill="none" stroke-linecap="round" stroke-linejoin="round" /><circle cx="1210.1" cy="133.3" r="2.2" fill="#000"/><circle cx="1224.6" cy="133.3" r="2.2" fill="#000"/><path d="M1214.6,134.7 C1213.1,142.6 1214.9,150.5 1213.9,158.3" stroke="#000" stroke-width="2.2" fill="none" stroke-linecap="round" stroke-linejoin="round" /><path d="M1229.2,122.9 L1234.7,108.3 L1241.7,122.9 Z M1227.7,122.9 L1243.2,122.9" stroke="#000" stroke-width="3.2" fill="none" stroke-linecap="round" stroke-linejoin="round" /><circle cx="1228.2" cy="122.9" r="2.2" fill="#000"/><circle cx="1242.7" cy="122.9" r="2.2" fill="#000"/><path d="M1234.7,152.1 L1240.3,137.5 L1247.9,152.1 Z M1233.2,152.1 L1249.4,152.1" stroke="#000" stroke-width="3.2" fill="none" stroke-linecap="round" stroke-linejoin="round" /><circle cx="1233.7" cy="152.1" r="2.2" fill="#000"/><circle cx="1248.9" cy="152.1" r="2.2" fill="#000"/><path d="M1238.2,153.5 C1236.7,161.1 1239.2,168.8 1238.2,176.4" stroke="#000" stroke-width="2.2" fill="none" stroke-linecap="round" stroke-linejoin="round" /><path d="M1252.8,141.7 L1258.3,127.8 L1265.3,141.7 Z M1251.3,141.7 L1266.8,141.7" stroke="#000" stroke-width="3.2" fill="none" stroke-linecap="round" stroke-linejoin="round" /><circle cx="1251.8" cy="141.7" r="2.2" fill="#000"/><circle cx="1266.3" cy="141.7" r="2.2" fill="#000"/><path d="M1264.6,168.1 L1269.4,153.5 L1277.8,168.1 Z M1263.1,168.1 L1279.3,168.1" stroke="#000" stroke-width="3.2" fill="none" stroke-linecap="round" stroke-linejoin="round" /><circle cx="1263.6" cy="168.1" r="2.2" fill="#000"/><circle cx="1278.8" cy="168.1" r="2.2" fill="#000"/><path d="M1268.1,169.4 C1266.6,177.3 1269.1,185.2 1268.1,193.1" stroke="#000" stroke-width="2.2" fill="none" stroke-linecap="round" stroke-linejoin="round" /><path d="M1283.3,158.3 L1288.9,145.8 L1295.1,158.3 Z M1281.8,158.3 L1296.6,158.3" stroke="#000" stroke-width="3.2" fill="none" stroke-linecap="round" stroke-linejoin="round" /><circle cx="1282.3" cy="158.3" r="2.2" fill="#000"/><circle cx="1296.1" cy="158.3" r="2.2" fill="#000"/><path d="M1304.2,181.9 L1309.7,166.7 L1316.7,181.9 Z M1302.7,181.9 L1318.2,181.9" stroke="#000" stroke-width="3.2" fill="none" stroke-linecap="round" stroke-linejoin="round" /><circle cx="1303.2" cy="181.9" r="2.2" fill="#000"/><circle cx="1317.7" cy="181.9" r="2.2" fill="#000"/><path d="M1308.3,183.3 C1306.8,190.7 1309.3,198.1 1308.3,205.6" stroke="#000" stroke-width="2.2" fill="none" stroke-linecap="round" stroke-linejoin="round" /><path d="M1322.2,171.5 L1327.8,156.2 L1334.7,171.5 Z M1320.7,171.5 L1336.2,171.5" stroke="#000" stroke-width="3.2" fill="none" stroke-linecap="round" stroke-linejoin="round" /><circle cx="1321.2" cy="171.5" r="2.2" fill="#000"/><circle cx="1335.7" cy="171.5" r="2.2" fill="#000"/><path d="M1254.4,96.7 C1255.5,103.2 1261.3,120.4 1260.9,135.5 C1260.5,150.6 1253.3,178.8 1251.8,187.4" stroke="#D81E1E" stroke-width="2.2" fill="none" stroke-linecap="round" stroke-linejoin="round" /><path d="M1282.9,114.8 C1284.0,121.3 1289.8,139.0 1289.4,153.7 C1289.0,168.4 1281.8,194.7 1280.3,202.9" stroke="#D81E1E" stroke-width="2.2" fill="none" stroke-linecap="round" stroke-linejoin="round" /><path d="M1311.4,130.4 C1312.3,137.3 1317.0,156.5 1316.6,171.8 C1316.2,187.1 1310.1,214.0 1308.8,222.4" stroke="#D81E1E" stroke-width="2.2" fill="none" stroke-linecap="round" stroke-linejoin="round" /><path d="M1342.5,148.5 C1343.4,156.3 1348.1,179.6 1347.7,195.2 C1347.3,210.8 1341.3,234.0 1340.0,241.8" stroke="#D81E1E" stroke-width="2.2" fill="none" stroke-linecap="round" stroke-linejoin="round" /><g transform="translate(1004.0,195.0) rotate(160)"><path d="M2.6,-1.9A3.2,3.2 0 1 0 2.6,1.9" stroke="#000" stroke-width="3.2" fill="none"/></g><g transform="translate(1013.0,190.0) rotate(0)"><path d="M2.6,-1.9A3.2,3.2 0 1 0 2.6,1.9" stroke="#000" stroke-width="3.2" fill="none"/></g><g transform="translate(1022.0,201.0) rotate(0)"><path d="M2.6,-1.9A3.2,3.2 0 1 0 2.6,1.9" stroke="#000" stroke-width="3.2" fill="none"/></g><g transform="translate(995.0,373.0) rotate(0)"><path d="M2.6,-1.9A3.2,3.2 0 1 0 2.6,1.9" stroke="#000" stroke-width="3.2" fill="none"/></g><g transform="translate(1002.5,377.5) rotate(0)"><path d="M2.6,-1.9A3.2,3.2 0 1 0 2.6,1.9" stroke="#000" stroke-width="3.2" fill="none"/></g><g transform="translate(1006.8,392.0) rotate(0)"><path d="M2.6,-1.9A3.2,3.2 0 1 0 2.6,1.9" stroke="#000" stroke-width="3.2" fill="none"/></g><g transform="translate(989.5,471.0) rotate(0)"><path d="M2.6,-1.9A3.2,3.2 0 1 0 2.6,1.9" stroke="#000" stroke-width="3.2" fill="none"/></g><g transform="translate(998.0,477.0) rotate(0)"><path d="M2.6,-1.9A3.2,3.2 0 1 0 2.6,1.9" stroke="#000" stroke-width="3.2" fill="none"/></g><g transform="translate(991.0,482.0) rotate(0)"><path d="M2.6,-1.9A3.2,3.2 0 1 0 2.6,1.9" stroke="#000" stroke-width="3.2" fill="none"/></g><g transform="translate(1034.0,467.5) rotate(0)"><path d="M2.6,-1.9A3.2,3.2 0 1 0 2.6,1.9" stroke="#000" stroke-width="3.2" fill="none"/></g><g transform="translate(1148.0,287.0) rotate(0)"><path d="M2.6,-1.9A3.2,3.2 0 1 0 2.6,1.9" stroke="#000" stroke-width="3.2" fill="none"/></g><g transform="translate(1157.0,292.0) rotate(0)"><path d="M2.6,-1.9A3.2,3.2 0 1 0 2.6,1.9" stroke="#000" stroke-width="3.2" fill="none"/></g><g transform="translate(1153.0,300.0) rotate(0)"><path d="M2.6,-1.9A3.2,3.2 0 1 0 2.6,1.9" stroke="#000" stroke-width="3.2" fill="none"/></g><g transform="translate(1356.0,257.0) rotate(0)"><path d="M2.6,-1.9A3.2,3.2 0 1 0 2.6,1.9" stroke="#000" stroke-width="3.2" fill="none"/></g><g transform="translate(1367.0,262.0) rotate(0)"><path d="M2.6,-1.9A3.2,3.2 0 1 0 2.6,1.9" stroke="#000" stroke-width="3.2" fill="none"/></g><g transform="translate(1356.0,157.0) rotate(0)"><path d="M2.6,-1.9A3.2,3.2 0 1 0 2.6,1.9" stroke="#000" stroke-width="3.2" fill="none"/></g><g transform="translate(1367.0,162.0) rotate(0)"><path d="M2.6,-1.9A3.2,3.2 0 1 0 2.6,1.9" stroke="#000" stroke-width="3.2" fill="none"/></g><circle cx="1013.0" cy="192.0" r="3.8" fill="#000"/><circle cx="1165.0" cy="294.0" r="3.5" fill="#000"/><path d="M794.0,494.0L920.0,502.0" stroke="#000" stroke-width="2.2" stroke-linecap="round" fill="none"/><path d="M921.0,502.0L1029.0,513.0" stroke="#C61E1E" stroke-width="2.6" stroke-linecap="round" fill="none"/><path d="M1029,513 L1095,512 Q1108,516 1111,530 L1111,569" stroke="#000" stroke-width="3.5" fill="none" stroke-linecap="round" stroke-linejoin="round" /><path d="M794.0,497.0L794.0,569.0" stroke="#C61E1E" stroke-width="2.4" stroke-linecap="butt" fill="none"/><path d="M780.5,581 L780.5,541" stroke="#F2B02A" stroke-width="3.2" fill="none" stroke-linecap="round" stroke-linejoin="round" /><path d="M780.5,533 L780.5,497 Q780.5,484 793,484 L806,484" stroke="#F2B02A" stroke-width="3.2" fill="none" stroke-linecap="round" stroke-linejoin="round" /><path d="M818,486 L850,492" stroke="#F2B02A" stroke-width="3.2" fill="none" stroke-linecap="round" stroke-linejoin="round" /><path d="M864,494 L924,504" stroke="#F2B02A" stroke-width="3.2" fill="none" stroke-linecap="round" stroke-linejoin="round" /><path d="M941,507 Q970,512 992,516 L1019,525" stroke="#F2B02A" stroke-width="3.2" fill="none" stroke-linecap="round" stroke-linejoin="round" /><path d="M1034,526 Q1055,522 1072,516 L1108,507 Q1117,507 1117,518 L1117,566 Q1117,572 1122,572" stroke="#F2B02A" stroke-width="3.2" fill="none" stroke-linecap="round" stroke-linejoin="round" /><path d="M780.5,538.0L784.4,548.8L776.6,548.8Z" fill="#F2B02A"/><path d="M818.0,485.7L806.8,488.6L807.5,480.9Z" fill="#F2B02A"/><path d="M1007.7,521.1L996.3,522.0L998.3,514.5Z" fill="#F2B02A"/><path d="M1097.8,508.3L1088.0,514.4L1086.4,506.8Z" fill="#F2B02A"/><path d="M1117.0,538.0L1113.1,527.2L1120.9,527.2Z" fill="#F2B02A"/><path d="M907.4,570 L907.4,510 Q907.4,495 923,495 L986,502" stroke="#2EDC2E" stroke-width="3.2" fill="none" stroke-linecap="round" stroke-linejoin="round" /><path d="M997,503 L1080,517 L1124,524 Q1132,525 1132,536 L1132,573" stroke="#2EDC2E" stroke-width="3.2" fill="none" stroke-linecap="round" stroke-linejoin="round" /><path d="M907.4,534.0L911.3,544.8L903.5,544.8Z" fill="#2EDC2E"/><path d="M994.0,502.8L982.8,505.6L983.6,497.8Z" fill="#2EDC2E"/><path d="M1102.9,520.1L1091.7,522.4L1092.7,514.8Z" fill="#2EDC2E"/><path d="M1132.0,554.0L1128.1,543.2L1135.9,543.2Z" fill="#2EDC2E"/><circle cx="794" cy="494" r="3.6" fill="#fff" stroke="#D27B25" stroke-width="1.1"/><circle cx="1030" cy="517" r="3.6" fill="#fff" stroke="#D27B25" stroke-width="1.1"/><circle cx="1107" cy="516" r="3.6" fill="#fff" stroke="#D27B25" stroke-width="1.1"/><circle cx="1105" cy="531" r="3.6" fill="#fff" stroke="#D27B25" stroke-width="1.1"/><path d="M1242.0,489.2L1438.0,489.2" stroke="#000" stroke-width="3.4" stroke-linecap="butt" fill="none"/><path d="M1248,489 L1258,546 Q1261,553 1264,546 L1271.6,489 L1281,546 Q1284.9,553 1288,546 L1294.4,489 L1304,546 Q1307.7,553 1311,546 L1319,489 L1328,546 Q1331.4,553 1334.5,546 L1341.9,489" stroke="#000" stroke-width="3.5" fill="none" stroke-linecap="round" stroke-linejoin="round" /><path d="M1243.0,494.0L1243.0,547.0" stroke="#C61E1E" stroke-width="2.2" stroke-linecap="butt" fill="none"/><path d="M1437.0,496.0L1426.0,545.0" stroke="#C61E1E" stroke-width="2.2" stroke-linecap="butt" fill="none"/><path d="M1206,555.7 L1223,555.5 Q1229,555 1229,545 L1229,532 Q1230,524 1238,524 L1244,524 Q1249.8,526 1249.8,538 L1249.8,552 Q1250,559.5 1260,559.5 L1338,559.5 Q1348.5,559 1348.5,548 L1348.5,505 Q1348.5,498.7 1356,498.7 L1428,498.7 Q1437.8,499 1437.8,512 L1437.8,567" stroke="#F2B02A" stroke-width="3.2" fill="none" stroke-linecap="round" stroke-linejoin="round" /><path d="M1222.0,555.7L1211.2,559.6L1211.2,551.8Z" fill="#F2B02A"/><path d="M1247.0,523.0L1236.2,526.9L1236.2,519.1Z" fill="#F2B02A"/><path d="M1300.0,559.5L1289.2,563.4L1289.2,555.6Z" fill="#F2B02A"/><path d="M1348.5,522.0L1352.4,532.8L1344.6,532.8Z" fill="#F2B02A"/><path d="M1386.0,498.7L1375.2,502.6L1375.2,494.8Z" fill="#F2B02A"/><path d="M1437.8,543.0L1433.9,532.2L1441.7,532.2Z" fill="#F2B02A"/><path d="M1206,569 L1222,568 Q1236,565 1238,548 Q1241,532 1252,532 L1342,532 Q1354,532 1354,545 L1354,572" stroke="#2EDC2E" stroke-width="3.2" fill="none" stroke-linecap="round" stroke-linejoin="round" /><path d="M1222.0,569.0L1211.2,572.9L1211.2,565.1Z" fill="#2EDC2E"/><path d="M1306.0,532.0L1295.2,535.9L1295.2,528.1Z" fill="#2EDC2E"/><path d="M1354.0,567.0L1349.6,554.8L1358.4,554.8Z" fill="#2EDC2E"/><circle cx="1243" cy="494" r="3.6" fill="none" stroke="#D27B25" stroke-width="1.1"/><circle cx="1243" cy="547" r="3.6" fill="none" stroke="#D27B25" stroke-width="1.1"/><circle cx="1353" cy="494" r="3.6" fill="none" stroke="#D27B25" stroke-width="1.1"/><circle cx="1353" cy="548" r="3.6" fill="none" stroke="#D27B25" stroke-width="1.1"/><circle cx="1438" cy="493" r="3.6" fill="none" stroke="#D27B25" stroke-width="1.1"/><circle cx="1426" cy="547" r="3.6" fill="none" stroke="#D27B25" stroke-width="1.1"/><path d="M1390,507 L1396,489 L1402,507 Z M1405,507 L1411,489 L1417,507 Z M1386.5,507 L1417,507" stroke="#000" stroke-width="3.4" fill="none" stroke-linecap="round" stroke-linejoin="round" /><circle cx="1388.0" cy="507.0" r="2.8" fill="#000"/><circle cx="1403.0" cy="508.0" r="2.8" fill="#000"/><circle cx="1417.0" cy="507.0" r="2.8" fill="#000"/><path d="M1411,507 C1413,520 1412,530 1413,541" stroke="#000" stroke-width="1.8" fill="none" stroke-linecap="round" stroke-linejoin="round" /><path d="M1346.5,571.5 L1346.5,583.5 M1341,574.5 L1352,580.5 M1341,580.5 L1352,574.5" stroke="#000" stroke-width="1.5" fill="none" stroke-linecap="round" stroke-linejoin="round" /><path d="M636.2,560.6 L636.2,634.5" stroke="#111" stroke-width="1.1" fill="none" stroke-linecap="round" stroke-linejoin="round" /><path d="M636.2,556.6L634.2,563.6L638.2,563.6Z M636.2,638.5L634.2,631.5L638.2,631.5Z" fill="#111"/><path d="M636.2,556.6 L639.2,556.6 M636.2,638.5 L639.2,638.5" stroke="#111" stroke-width="0.9" fill="none" stroke-linecap="round" stroke-linejoin="round" /><path d="M1180,291 L1180,411" stroke="#111" stroke-width="1.1" fill="none" stroke-linecap="round" stroke-linejoin="round" /><path d="M1180,287L1178,294L1182,294Z M1180,415L1178,408L1182,408Z" fill="#111"/><path d="M1180,287 L1183,287 M1180,415 L1183,415" stroke="#111" stroke-width="0.9" fill="none" stroke-linecap="round" stroke-linejoin="round" /><path d="M1387,171 L1387,305" stroke="#111" stroke-width="1.1" fill="none" stroke-linecap="round" stroke-linejoin="round" /><path d="M1387,167L1385,174L1389,174Z M1387,309L1385,302L1389,302Z" fill="#111"/><path d="M1387,167 L1390,167 M1387,309 L1390,309" stroke="#111" stroke-width="0.9" fill="none" stroke-linecap="round" stroke-linejoin="round" /><text transform="translate(639.5,581.5) rotate(90)" font-family="Liberation Serif" font-size="13.8" fill="#1a1a1a">2.50m</text><text transform="translate(1179,370) rotate(-90)" font-family="Liberation Serif" font-size="13" fill="#222">4.00m</text><text transform="translate(1385,256) rotate(-90)" font-family="Liberation Serif" font-size="13" fill="#222">4.00m</text></svg>
</div></body></html>
